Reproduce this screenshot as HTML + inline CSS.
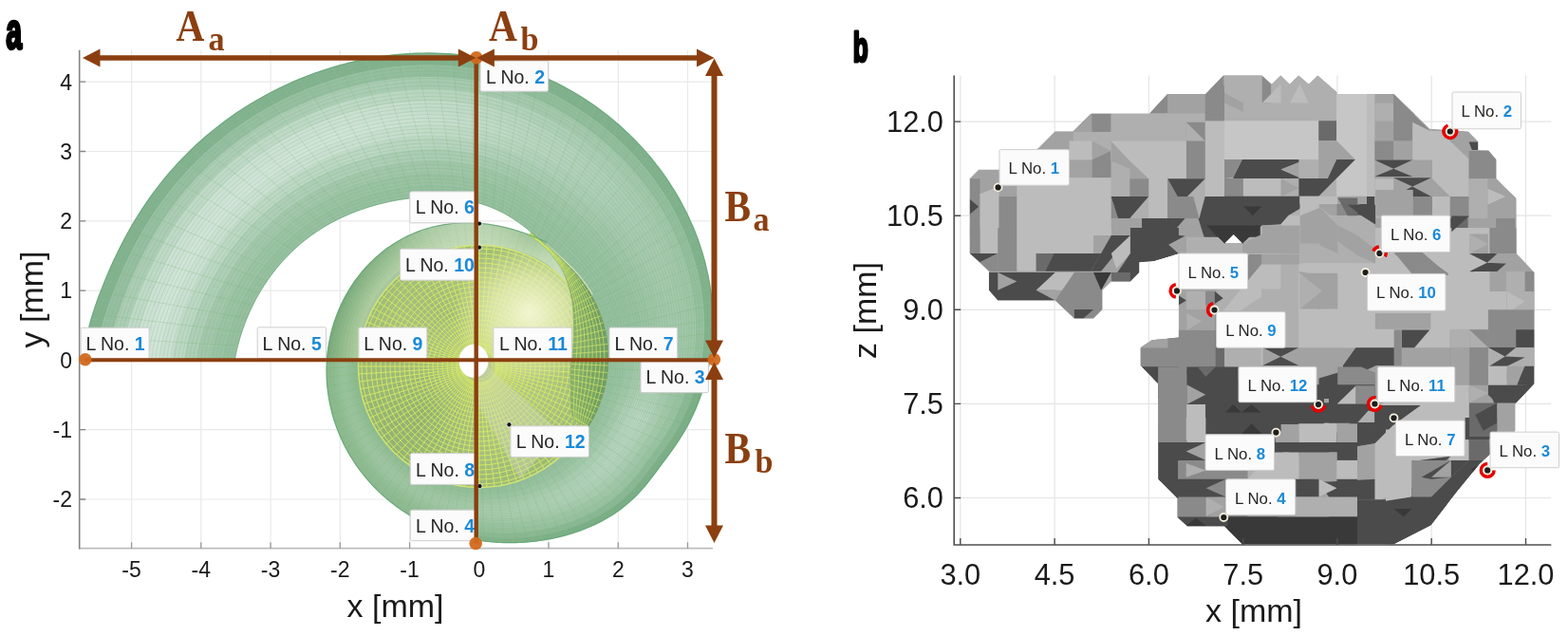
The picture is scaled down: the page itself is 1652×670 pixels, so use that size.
<!DOCTYPE html><html><head><meta charset="utf-8"><style>html,body{margin:0;padding:0;background:#fff;}svg{display:block}</style></head><body><svg width="1652" height="670" viewBox="0 0 1652 670"><rect width="1652" height="670" fill="#fff"/><g stroke="#e9e9e9" stroke-width="1.2"><line x1="138.6" y1="52.7" x2="138.6" y2="577.7"/><line x1="211.8" y1="52.7" x2="211.8" y2="577.7"/><line x1="285.1" y1="52.7" x2="285.1" y2="577.7"/><line x1="358.3" y1="52.7" x2="358.3" y2="577.7"/><line x1="431.6" y1="52.7" x2="431.6" y2="577.7"/><line x1="504.8" y1="52.7" x2="504.8" y2="577.7"/><line x1="578.0" y1="52.7" x2="578.0" y2="577.7"/><line x1="651.3" y1="52.7" x2="651.3" y2="577.7"/><line x1="724.5" y1="52.7" x2="724.5" y2="577.7"/><line x1="83.7" y1="526.0" x2="751.0" y2="526.0"/><line x1="83.7" y1="452.7" x2="751.0" y2="452.7"/><line x1="83.7" y1="379.4" x2="751.0" y2="379.4"/><line x1="83.7" y1="306.1" x2="751.0" y2="306.1"/><line x1="83.7" y1="232.8" x2="751.0" y2="232.8"/><line x1="83.7" y1="159.5" x2="751.0" y2="159.5"/><line x1="83.7" y1="86.2" x2="751.0" y2="86.2"/></g><path d="M747.9,379.4L746.3,387.9L744.4,396.3L742.2,404.5L739.7,412.6L737.0,420.6L733.9,428.4L730.5,436.1L726.9,443.5L723.0,450.8L718.9,457.9L714.5,464.8L710.0,471.4L705.3,478.0L700.6,484.3L695.9,490.6L691.3,496.9L686.6,503.1L681.8,509.2L676.9,515.1L671.7,520.8L666.2,526.2L660.4,531.2L654.4,536.0L648.1,540.4L641.7,544.5L635.1,548.3L628.4,551.8L621.5,554.9L614.6,557.8L607.6,560.3L600.5,562.6L593.4,564.5L586.3,566.3L579.2,567.7L572.0,569.0L565.0,570.0L557.9,570.8L550.8,571.3L543.8,571.6L536.9,571.7L529.9,571.6L523.1,571.3L516.2,570.7L509.5,569.9L502.8,568.9L496.2,567.7L489.7,566.3L483.2,564.7L476.9,562.9L470.6,560.9L464.4,558.7L458.4,556.4L452.4,553.8L446.6,551.0L440.9,548.1L435.3,545.0L429.9,541.8L424.6,538.3L419.4,534.8L414.4,531.0L409.5,527.1L404.8,523.1L400.2,519.0L395.8,514.7L391.6,510.2L387.5,505.7L383.6,501.0L379.9,496.3L376.3,491.4L372.9,486.4L369.7,481.4L366.7,476.2L363.9,471.0L361.2,465.7L358.7,460.3L356.5,454.9L354.4,449.4L352.5,443.9L350.8,438.3L349.3,432.7L347.9,427.1L346.8,421.4L345.9,415.8L345.1,410.1L344.6,404.4L344.2,398.7L344.1,393.0L344.1,387.3L344.3,381.7L344.7,376.0L345.3,370.4L346.1,364.9L347.0,359.3L348.2,353.9L349.5,348.4L351.0,343.1L352.7,337.8L354.6,332.6L356.6,327.4L358.8,322.4L361.2,317.4L363.7,312.5L366.4,307.7L369.2,303.0L372.2,298.4L375.4,294.0L378.7,289.7L382.1,285.5L385.7,281.4L389.5,277.5L393.3,273.7L397.3,270.0L401.5,266.5L405.7,263.2L410.0,260.1L414.5,257.1L419.0,254.3L423.7,251.7L428.4,249.2L433.2,247.0L438.1,244.9L443.1,243.0L448.1,241.4L453.1,239.9L458.2,238.6L463.3,237.5L468.4,236.6L473.6,235.9L478.7,235.4L483.9,235.0L489.0,234.8L494.1,234.8L499.2,235.0L504.3,235.3L509.3,235.7L514.4,236.3L519.4,237.0L524.3,237.9L529.2,238.9L534.1,240.1L538.9,241.3L543.8,242.7L548.5,244.2L553.2,245.8L557.9,247.5L562.6,249.4L567.2,251.3L571.8,253.3L576.4,255.5L574.9,258.0L577.8,260.5L580.6,263.0L583.4,265.5L586.2,268.0L588.9,270.5L591.7,273.0L594.4,275.5L597.0,278.1L599.7,280.6L602.2,283.3L604.8,285.9L607.2,288.7L609.6,291.4L612.0,294.3L614.2,297.2L616.4,300.1L618.5,303.2L620.5,306.3L622.4,309.4L624.2,312.6L626.0,315.8L627.6,319.1L629.2,322.4L630.6,325.8L632.0,329.2L633.3,332.6L634.5,336.1L635.6,339.6L636.6,343.1L637.4,346.7L638.2,350.3L638.9,353.9L639.5,357.5L640.0,361.1L640.4,364.8L640.7,368.4L640.9,372.1L641.0,375.7L641.0,379.4Z" fill="#a6c7a2"/><path d="M88.1,379.4L90.8,357.6L104.1,358.3L101.3,379.4Z" fill="#83b290" stroke="#83b290" stroke-width="0.6"/><path d="M101.3,379.4L104.1,358.3L117.3,359.0L114.6,379.4Z" fill="#96bea1" stroke="#96bea1" stroke-width="0.6"/><path d="M114.6,379.4L117.3,359.0L130.6,359.7L127.8,379.4Z" fill="#acccb5" stroke="#acccb5" stroke-width="0.6"/><path d="M127.8,379.4L130.6,359.7L143.9,360.4L141.1,379.4Z" fill="#c0d9c8" stroke="#c0d9c8" stroke-width="0.6"/><path d="M141.1,379.4L143.9,360.4L157.2,361.1L154.4,379.4Z" fill="#cde0d4" stroke="#cde0d4" stroke-width="0.6"/><path d="M154.4,379.4L157.2,361.1L170.4,361.8L167.6,379.4Z" fill="#d1e3d8" stroke="#d1e3d8" stroke-width="0.6"/><path d="M167.6,379.4L170.4,361.8L183.7,362.5L180.9,379.4Z" fill="#cbdfd2" stroke="#cbdfd2" stroke-width="0.6"/><path d="M180.9,379.4L183.7,362.5L197.0,363.2L194.1,379.4Z" fill="#bdd7c5" stroke="#bdd7c5" stroke-width="0.6"/><path d="M194.1,379.4L197.0,363.2L210.2,363.9L207.4,379.4Z" fill="#aeceb7" stroke="#aeceb7" stroke-width="0.6"/><path d="M207.4,379.4L210.2,363.9L223.5,364.6L220.6,379.4Z" fill="#a2c6ab" stroke="#a2c6ab" stroke-width="0.6"/><path d="M220.6,379.4L223.5,364.6L236.8,365.3L233.9,379.4Z" fill="#9ac2a4" stroke="#9ac2a4" stroke-width="0.6"/><path d="M233.9,379.4L236.8,365.3L250.0,366.0L247.2,379.4Z" fill="#96bfa0" stroke="#96bfa0" stroke-width="0.6"/><path d="M90.8,357.6L96.0,336.2L109.1,337.6L104.1,358.3Z" fill="#83b290" stroke="#83b290" stroke-width="0.6"/><path d="M104.1,358.3L109.1,337.6L122.3,339.0L117.3,359.0Z" fill="#96bea1" stroke="#96bea1" stroke-width="0.6"/><path d="M117.3,359.0L122.3,339.0L135.4,340.4L130.6,359.7Z" fill="#acccb5" stroke="#acccb5" stroke-width="0.6"/><path d="M130.6,359.7L135.4,340.4L148.6,341.8L143.9,360.4Z" fill="#c0d9c8" stroke="#c0d9c8" stroke-width="0.6"/><path d="M143.9,360.4L148.6,341.8L161.7,343.1L157.2,361.1Z" fill="#cde0d4" stroke="#cde0d4" stroke-width="0.6"/><path d="M157.2,361.1L161.7,343.1L174.8,344.5L170.4,361.8Z" fill="#d1e3d8" stroke="#d1e3d8" stroke-width="0.6"/><path d="M170.4,361.8L174.8,344.5L188.0,345.9L183.7,362.5Z" fill="#cbdfd2" stroke="#cbdfd2" stroke-width="0.6"/><path d="M183.7,362.5L188.0,345.9L201.1,347.3L197.0,363.2Z" fill="#bdd7c5" stroke="#bdd7c5" stroke-width="0.6"/><path d="M197.0,363.2L201.1,347.3L214.3,348.7L210.2,363.9Z" fill="#aeceb7" stroke="#aeceb7" stroke-width="0.6"/><path d="M210.2,363.9L214.3,348.7L227.4,350.1L223.5,364.6Z" fill="#a2c6ab" stroke="#a2c6ab" stroke-width="0.6"/><path d="M223.5,364.6L227.4,350.1L240.5,351.5L236.8,365.3Z" fill="#9ac2a4" stroke="#9ac2a4" stroke-width="0.6"/><path d="M236.8,365.3L240.5,351.5L253.7,352.9L250.0,366.0Z" fill="#96bfa0" stroke="#96bfa0" stroke-width="0.6"/><path d="M96.0,336.2L102.9,315.4L115.8,317.4L109.1,337.6Z" fill="#83b290" stroke="#83b290" stroke-width="0.6"/><path d="M109.1,337.6L115.8,317.4L128.8,319.5L122.3,339.0Z" fill="#96bea1" stroke="#96bea1" stroke-width="0.6"/><path d="M122.3,339.0L128.8,319.5L141.7,321.6L135.4,340.4Z" fill="#acccb5" stroke="#acccb5" stroke-width="0.6"/><path d="M135.4,340.4L141.7,321.6L154.6,323.6L148.6,341.8Z" fill="#c0d9c8" stroke="#c0d9c8" stroke-width="0.6"/><path d="M148.6,341.8L154.6,323.6L167.6,325.7L161.7,343.1Z" fill="#cde0d4" stroke="#cde0d4" stroke-width="0.6"/><path d="M161.7,343.1L167.6,325.7L180.5,327.7L174.8,344.5Z" fill="#d1e3d8" stroke="#d1e3d8" stroke-width="0.6"/><path d="M174.8,344.5L180.5,327.7L193.4,329.8L188.0,345.9Z" fill="#cbdfd2" stroke="#cbdfd2" stroke-width="0.6"/><path d="M188.0,345.9L193.4,329.8L206.4,331.9L201.1,347.3Z" fill="#bdd7c5" stroke="#bdd7c5" stroke-width="0.6"/><path d="M201.1,347.3L206.4,331.9L219.3,333.9L214.3,348.7Z" fill="#aeceb7" stroke="#aeceb7" stroke-width="0.6"/><path d="M214.3,348.7L219.3,333.9L232.2,336.0L227.4,350.1Z" fill="#a2c6ab" stroke="#a2c6ab" stroke-width="0.6"/><path d="M227.4,350.1L232.2,336.0L245.2,338.0L240.5,351.5Z" fill="#9ac2a4" stroke="#9ac2a4" stroke-width="0.6"/><path d="M240.5,351.5L245.2,338.0L258.1,340.1L253.7,352.9Z" fill="#96bfa0" stroke="#96bfa0" stroke-width="0.6"/><path d="M102.9,315.4L110.8,295.2L123.5,297.9L115.8,317.4Z" fill="#83b290" stroke="#83b290" stroke-width="0.6"/><path d="M115.8,317.4L123.5,297.9L136.2,300.6L128.8,319.5Z" fill="#96bea1" stroke="#96bea1" stroke-width="0.6"/><path d="M128.8,319.5L136.2,300.6L148.9,303.3L141.7,321.6Z" fill="#acccb5" stroke="#acccb5" stroke-width="0.6"/><path d="M141.7,321.6L148.9,303.3L161.6,306.0L154.6,323.6Z" fill="#c0d9c8" stroke="#c0d9c8" stroke-width="0.6"/><path d="M154.6,323.6L161.6,306.0L174.3,308.8L167.6,325.7Z" fill="#cde0d4" stroke="#cde0d4" stroke-width="0.6"/><path d="M167.6,325.7L174.3,308.8L187.0,311.5L180.5,327.7Z" fill="#d1e3d8" stroke="#d1e3d8" stroke-width="0.6"/><path d="M180.5,327.7L187.0,311.5L199.7,314.2L193.4,329.8Z" fill="#cbdfd2" stroke="#cbdfd2" stroke-width="0.6"/><path d="M193.4,329.8L199.7,314.2L212.4,316.9L206.4,331.9Z" fill="#bdd7c5" stroke="#bdd7c5" stroke-width="0.6"/><path d="M206.4,331.9L212.4,316.9L225.1,319.6L219.3,333.9Z" fill="#aeceb7" stroke="#aeceb7" stroke-width="0.6"/><path d="M219.3,333.9L225.1,319.6L237.9,322.3L232.2,336.0Z" fill="#a2c6ab" stroke="#a2c6ab" stroke-width="0.6"/><path d="M232.2,336.0L237.9,322.3L250.6,325.1L245.2,338.0Z" fill="#9ac2a4" stroke="#9ac2a4" stroke-width="0.6"/><path d="M245.2,338.0L250.6,325.1L263.3,327.8L258.1,340.1Z" fill="#96bfa0" stroke="#96bfa0" stroke-width="0.6"/><path d="M110.8,295.2L119.3,275.5L131.8,278.9L123.5,297.9Z" fill="#83b290" stroke="#83b290" stroke-width="0.6"/><path d="M123.5,297.9L131.8,278.9L144.3,282.2L136.2,300.6Z" fill="#96bea1" stroke="#96bea1" stroke-width="0.6"/><path d="M136.2,300.6L144.3,282.2L156.8,285.6L148.9,303.3Z" fill="#acccb5" stroke="#acccb5" stroke-width="0.6"/><path d="M148.9,303.3L156.8,285.6L169.3,289.0L161.6,306.0Z" fill="#c0d9c8" stroke="#c0d9c8" stroke-width="0.6"/><path d="M161.6,306.0L169.3,289.0L181.8,292.3L174.3,308.8Z" fill="#cde0d4" stroke="#cde0d4" stroke-width="0.6"/><path d="M174.3,308.8L181.8,292.3L194.2,295.7L187.0,311.5Z" fill="#d1e3d8" stroke="#d1e3d8" stroke-width="0.6"/><path d="M187.0,311.5L194.2,295.7L206.7,299.1L199.7,314.2Z" fill="#cbdfd2" stroke="#cbdfd2" stroke-width="0.6"/><path d="M199.7,314.2L206.7,299.1L219.2,302.4L212.4,316.9Z" fill="#bdd7c5" stroke="#bdd7c5" stroke-width="0.6"/><path d="M212.4,316.9L219.2,302.4L231.7,305.8L225.1,319.6Z" fill="#aeceb7" stroke="#aeceb7" stroke-width="0.6"/><path d="M225.1,319.6L231.7,305.8L244.2,309.2L237.9,322.3Z" fill="#a2c6ab" stroke="#a2c6ab" stroke-width="0.6"/><path d="M237.9,322.3L244.2,309.2L256.7,312.5L250.6,325.1Z" fill="#9ac2a4" stroke="#9ac2a4" stroke-width="0.6"/><path d="M250.6,325.1L256.7,312.5L269.1,315.9L263.3,327.8Z" fill="#96bfa0" stroke="#96bfa0" stroke-width="0.6"/><path d="M119.3,275.5L128.6,256.5L140.9,260.5L131.8,278.9Z" fill="#83b290" stroke="#83b290" stroke-width="0.6"/><path d="M131.8,278.9L140.9,260.5L153.2,264.5L144.3,282.2Z" fill="#96bea1" stroke="#96bea1" stroke-width="0.6"/><path d="M144.3,282.2L153.2,264.5L165.4,268.5L156.8,285.6Z" fill="#acccb5" stroke="#acccb5" stroke-width="0.6"/><path d="M156.8,285.6L165.4,268.5L177.7,272.5L169.3,289.0Z" fill="#c0d9c8" stroke="#c0d9c8" stroke-width="0.6"/><path d="M169.3,289.0L177.7,272.5L189.9,276.5L181.8,292.3Z" fill="#cde0d4" stroke="#cde0d4" stroke-width="0.6"/><path d="M181.8,292.3L189.9,276.5L202.2,280.5L194.2,295.7Z" fill="#d1e3d8" stroke="#d1e3d8" stroke-width="0.6"/><path d="M194.2,295.7L202.2,280.5L214.4,284.5L206.7,299.1Z" fill="#cbdfd2" stroke="#cbdfd2" stroke-width="0.6"/><path d="M206.7,299.1L214.4,284.5L226.7,288.5L219.2,302.4Z" fill="#bdd7c5" stroke="#bdd7c5" stroke-width="0.6"/><path d="M219.2,302.4L226.7,288.5L238.9,292.5L231.7,305.8Z" fill="#aeceb7" stroke="#aeceb7" stroke-width="0.6"/><path d="M231.7,305.8L238.9,292.5L251.2,296.5L244.2,309.2Z" fill="#a2c6ab" stroke="#a2c6ab" stroke-width="0.6"/><path d="M244.2,309.2L251.2,296.5L263.4,300.5L256.7,312.5Z" fill="#9ac2a4" stroke="#9ac2a4" stroke-width="0.6"/><path d="M256.7,312.5L263.4,300.5L275.7,304.5L269.1,315.9Z" fill="#96bfa0" stroke="#96bfa0" stroke-width="0.6"/><path d="M128.6,256.5L138.7,238.0L150.7,242.7L140.9,260.5Z" fill="#83b290" stroke="#83b290" stroke-width="0.6"/><path d="M140.9,260.5L150.7,242.7L162.8,247.3L153.2,264.5Z" fill="#96bea1" stroke="#96bea1" stroke-width="0.6"/><path d="M153.2,264.5L162.8,247.3L174.8,251.9L165.4,268.5Z" fill="#acccb5" stroke="#acccb5" stroke-width="0.6"/><path d="M165.4,268.5L174.8,251.9L186.8,256.6L177.7,272.5Z" fill="#c0d9c8" stroke="#c0d9c8" stroke-width="0.6"/><path d="M177.7,272.5L186.8,256.6L198.8,261.2L189.9,276.5Z" fill="#cde0d4" stroke="#cde0d4" stroke-width="0.6"/><path d="M189.9,276.5L198.8,261.2L210.8,265.9L202.2,280.5Z" fill="#d1e3d8" stroke="#d1e3d8" stroke-width="0.6"/><path d="M202.2,280.5L210.8,265.9L222.8,270.5L214.4,284.5Z" fill="#cbdfd2" stroke="#cbdfd2" stroke-width="0.6"/><path d="M214.4,284.5L222.8,270.5L234.8,275.1L226.7,288.5Z" fill="#bdd7c5" stroke="#bdd7c5" stroke-width="0.6"/><path d="M226.7,288.5L234.8,275.1L246.8,279.8L238.9,292.5Z" fill="#aeceb7" stroke="#aeceb7" stroke-width="0.6"/><path d="M238.9,292.5L246.8,279.8L258.8,284.4L251.2,296.5Z" fill="#a2c6ab" stroke="#a2c6ab" stroke-width="0.6"/><path d="M251.2,296.5L258.8,284.4L270.8,289.0L263.4,300.5Z" fill="#9ac2a4" stroke="#9ac2a4" stroke-width="0.6"/><path d="M263.4,300.5L270.8,289.0L282.9,293.7L275.7,304.5Z" fill="#96bfa0" stroke="#96bfa0" stroke-width="0.6"/><path d="M138.7,238.0L149.6,220.3L161.4,225.6L150.7,242.7Z" fill="#83b290" stroke="#83b290" stroke-width="0.6"/><path d="M150.7,242.7L161.4,225.6L173.1,230.8L162.8,247.3Z" fill="#96bea1" stroke="#96bea1" stroke-width="0.6"/><path d="M162.8,247.3L173.1,230.8L184.9,236.1L174.8,251.9Z" fill="#acccb5" stroke="#acccb5" stroke-width="0.6"/><path d="M174.8,251.9L184.9,236.1L196.6,241.3L186.8,256.6Z" fill="#c0d9c8" stroke="#c0d9c8" stroke-width="0.6"/><path d="M186.8,256.6L196.6,241.3L208.4,246.6L198.8,261.2Z" fill="#cde0d4" stroke="#cde0d4" stroke-width="0.6"/><path d="M198.8,261.2L208.4,246.6L220.1,251.9L210.8,265.9Z" fill="#d1e3d8" stroke="#d1e3d8" stroke-width="0.6"/><path d="M210.8,265.9L220.1,251.9L231.9,257.1L222.8,270.5Z" fill="#cbdfd2" stroke="#cbdfd2" stroke-width="0.6"/><path d="M222.8,270.5L231.9,257.1L243.6,262.4L234.8,275.1Z" fill="#bdd7c5" stroke="#bdd7c5" stroke-width="0.6"/><path d="M234.8,275.1L243.6,262.4L255.4,267.7L246.8,279.8Z" fill="#aeceb7" stroke="#aeceb7" stroke-width="0.6"/><path d="M246.8,279.8L255.4,267.7L267.1,272.9L258.8,284.4Z" fill="#a2c6ab" stroke="#a2c6ab" stroke-width="0.6"/><path d="M258.8,284.4L267.1,272.9L278.9,278.2L270.8,289.0Z" fill="#9ac2a4" stroke="#9ac2a4" stroke-width="0.6"/><path d="M270.8,289.0L278.9,278.2L290.6,283.4L282.9,293.7Z" fill="#96bfa0" stroke="#96bfa0" stroke-width="0.6"/><path d="M149.6,220.3L161.4,203.3L172.9,209.2L161.4,225.6Z" fill="#83b290" stroke="#83b290" stroke-width="0.6"/><path d="M161.4,225.6L172.9,209.2L184.3,215.1L173.1,230.8Z" fill="#96bea1" stroke="#96bea1" stroke-width="0.6"/><path d="M173.1,230.8L184.3,215.1L195.8,220.9L184.9,236.1Z" fill="#acccb5" stroke="#acccb5" stroke-width="0.6"/><path d="M184.9,236.1L195.8,220.9L207.2,226.8L196.6,241.3Z" fill="#c0d9c8" stroke="#c0d9c8" stroke-width="0.6"/><path d="M196.6,241.3L207.2,226.8L218.7,232.7L208.4,246.6Z" fill="#cde0d4" stroke="#cde0d4" stroke-width="0.6"/><path d="M208.4,246.6L218.7,232.7L230.2,238.6L220.1,251.9Z" fill="#d1e3d8" stroke="#d1e3d8" stroke-width="0.6"/><path d="M220.1,251.9L230.2,238.6L241.6,244.4L231.9,257.1Z" fill="#cbdfd2" stroke="#cbdfd2" stroke-width="0.6"/><path d="M231.9,257.1L241.6,244.4L253.1,250.3L243.6,262.4Z" fill="#bdd7c5" stroke="#bdd7c5" stroke-width="0.6"/><path d="M243.6,262.4L253.1,250.3L264.5,256.2L255.4,267.7Z" fill="#aeceb7" stroke="#aeceb7" stroke-width="0.6"/><path d="M255.4,267.7L264.5,256.2L276.0,262.1L267.1,272.9Z" fill="#a2c6ab" stroke="#a2c6ab" stroke-width="0.6"/><path d="M267.1,272.9L276.0,262.1L287.4,267.9L278.9,278.2Z" fill="#9ac2a4" stroke="#9ac2a4" stroke-width="0.6"/><path d="M278.9,278.2L287.4,267.9L298.9,273.8L290.6,283.4Z" fill="#96bfa0" stroke="#96bfa0" stroke-width="0.6"/><path d="M161.4,203.3L174.0,187.2L185.2,193.6L172.9,209.2Z" fill="#83b290" stroke="#83b290" stroke-width="0.6"/><path d="M172.9,209.2L185.2,193.6L196.3,200.1L184.3,215.1Z" fill="#96bea1" stroke="#96bea1" stroke-width="0.6"/><path d="M184.3,215.1L196.3,200.1L207.4,206.6L195.8,220.9Z" fill="#acccb5" stroke="#acccb5" stroke-width="0.6"/><path d="M195.8,220.9L207.4,206.6L218.6,213.0L207.2,226.8Z" fill="#c0d9c8" stroke="#c0d9c8" stroke-width="0.6"/><path d="M207.2,226.8L218.6,213.0L229.7,219.5L218.7,232.7Z" fill="#cde0d4" stroke="#cde0d4" stroke-width="0.6"/><path d="M218.7,232.7L229.7,219.5L240.9,226.0L230.2,238.6Z" fill="#d1e3d8" stroke="#d1e3d8" stroke-width="0.6"/><path d="M230.2,238.6L240.9,226.0L252.0,232.5L241.6,244.4Z" fill="#cbdfd2" stroke="#cbdfd2" stroke-width="0.6"/><path d="M241.6,244.4L252.0,232.5L263.1,238.9L253.1,250.3Z" fill="#bdd7c5" stroke="#bdd7c5" stroke-width="0.6"/><path d="M253.1,250.3L263.1,238.9L274.3,245.4L264.5,256.2Z" fill="#aeceb7" stroke="#aeceb7" stroke-width="0.6"/><path d="M264.5,256.2L274.3,245.4L285.4,251.9L276.0,262.1Z" fill="#a2c6ab" stroke="#a2c6ab" stroke-width="0.6"/><path d="M276.0,262.1L285.4,251.9L296.5,258.4L287.4,267.9Z" fill="#9ac2a4" stroke="#9ac2a4" stroke-width="0.6"/><path d="M287.4,267.9L296.5,258.4L307.7,264.8L298.9,273.8Z" fill="#96bfa0" stroke="#96bfa0" stroke-width="0.6"/><path d="M174.0,187.2L187.4,171.9L198.2,178.9L185.2,193.6Z" fill="#83b290" stroke="#83b290" stroke-width="0.6"/><path d="M185.2,193.6L198.2,178.9L209.0,186.0L196.3,200.1Z" fill="#96bea1" stroke="#96bea1" stroke-width="0.6"/><path d="M196.3,200.1L209.0,186.0L219.8,193.0L207.4,206.6Z" fill="#acccb5" stroke="#acccb5" stroke-width="0.6"/><path d="M207.4,206.6L219.8,193.0L230.6,200.1L218.6,213.0Z" fill="#c0d9c8" stroke="#c0d9c8" stroke-width="0.6"/><path d="M218.6,213.0L230.6,200.1L241.4,207.1L229.7,219.5Z" fill="#cde0d4" stroke="#cde0d4" stroke-width="0.6"/><path d="M229.7,219.5L241.4,207.1L252.2,214.2L240.9,226.0Z" fill="#d1e3d8" stroke="#d1e3d8" stroke-width="0.6"/><path d="M240.9,226.0L252.2,214.2L263.0,221.3L252.0,232.5Z" fill="#cbdfd2" stroke="#cbdfd2" stroke-width="0.6"/><path d="M252.0,232.5L263.0,221.3L273.8,228.3L263.1,238.9Z" fill="#bdd7c5" stroke="#bdd7c5" stroke-width="0.6"/><path d="M263.1,238.9L273.8,228.3L284.5,235.4L274.3,245.4Z" fill="#aeceb7" stroke="#aeceb7" stroke-width="0.6"/><path d="M274.3,245.4L284.5,235.4L295.3,242.4L285.4,251.9Z" fill="#a2c6ab" stroke="#a2c6ab" stroke-width="0.6"/><path d="M285.4,251.9L295.3,242.4L306.1,249.5L296.5,258.4Z" fill="#9ac2a4" stroke="#9ac2a4" stroke-width="0.6"/><path d="M296.5,258.4L306.1,249.5L316.9,256.5L307.7,264.8Z" fill="#96bfa0" stroke="#96bfa0" stroke-width="0.6"/><path d="M187.4,171.9L201.6,157.5L212.0,165.1L198.2,178.9Z" fill="#83b290" stroke="#83b290" stroke-width="0.6"/><path d="M198.2,178.9L212.0,165.1L222.4,172.7L209.0,186.0Z" fill="#96bea1" stroke="#96bea1" stroke-width="0.6"/><path d="M209.0,186.0L222.4,172.7L232.8,180.4L219.8,193.0Z" fill="#acccb5" stroke="#acccb5" stroke-width="0.6"/><path d="M219.8,193.0L232.8,180.4L243.2,188.0L230.6,200.1Z" fill="#c0d9c8" stroke="#c0d9c8" stroke-width="0.6"/><path d="M230.6,200.1L243.2,188.0L253.6,195.6L241.4,207.1Z" fill="#cde0d4" stroke="#cde0d4" stroke-width="0.6"/><path d="M241.4,207.1L253.6,195.6L264.1,203.2L252.2,214.2Z" fill="#d1e3d8" stroke="#d1e3d8" stroke-width="0.6"/><path d="M252.2,214.2L264.1,203.2L274.5,210.8L263.0,221.3Z" fill="#cbdfd2" stroke="#cbdfd2" stroke-width="0.6"/><path d="M263.0,221.3L274.5,210.8L284.9,218.5L273.8,228.3Z" fill="#bdd7c5" stroke="#bdd7c5" stroke-width="0.6"/><path d="M273.8,228.3L284.9,218.5L295.3,226.1L284.5,235.4Z" fill="#aeceb7" stroke="#aeceb7" stroke-width="0.6"/><path d="M284.5,235.4L295.3,226.1L305.7,233.7L295.3,242.4Z" fill="#a2c6ab" stroke="#a2c6ab" stroke-width="0.6"/><path d="M295.3,242.4L305.7,233.7L316.1,241.3L306.1,249.5Z" fill="#9ac2a4" stroke="#9ac2a4" stroke-width="0.6"/><path d="M306.1,249.5L316.1,241.3L326.5,248.9L316.9,256.5Z" fill="#96bfa0" stroke="#96bfa0" stroke-width="0.6"/><path d="M201.6,157.5L216.4,144.0L226.4,152.2L212.0,165.1Z" fill="#83b290" stroke="#83b290" stroke-width="0.6"/><path d="M212.0,165.1L226.4,152.2L236.4,160.4L222.4,172.7Z" fill="#96bea1" stroke="#96bea1" stroke-width="0.6"/><path d="M222.4,172.7L236.4,160.4L246.4,168.5L232.8,180.4Z" fill="#acccb5" stroke="#acccb5" stroke-width="0.6"/><path d="M232.8,180.4L246.4,168.5L256.4,176.7L243.2,188.0Z" fill="#c0d9c8" stroke="#c0d9c8" stroke-width="0.6"/><path d="M243.2,188.0L256.4,176.7L266.4,184.9L253.6,195.6Z" fill="#cde0d4" stroke="#cde0d4" stroke-width="0.6"/><path d="M253.6,195.6L266.4,184.9L276.4,193.1L264.1,203.2Z" fill="#d1e3d8" stroke="#d1e3d8" stroke-width="0.6"/><path d="M264.1,203.2L276.4,193.1L286.4,201.2L274.5,210.8Z" fill="#cbdfd2" stroke="#cbdfd2" stroke-width="0.6"/><path d="M274.5,210.8L286.4,201.2L296.5,209.4L284.9,218.5Z" fill="#bdd7c5" stroke="#bdd7c5" stroke-width="0.6"/><path d="M284.9,218.5L296.5,209.4L306.5,217.6L295.3,226.1Z" fill="#aeceb7" stroke="#aeceb7" stroke-width="0.6"/><path d="M295.3,226.1L306.5,217.6L316.5,225.7L305.7,233.7Z" fill="#a2c6ab" stroke="#a2c6ab" stroke-width="0.6"/><path d="M305.7,233.7L316.5,225.7L326.5,233.9L316.1,241.3Z" fill="#9ac2a4" stroke="#9ac2a4" stroke-width="0.6"/><path d="M316.1,241.3L326.5,233.9L336.5,242.1L326.5,248.9Z" fill="#96bfa0" stroke="#96bfa0" stroke-width="0.6"/><path d="M216.4,144.0L231.8,131.6L241.3,140.2L226.4,152.2Z" fill="#83b290" stroke="#83b290" stroke-width="0.6"/><path d="M226.4,152.2L241.3,140.2L250.9,148.9L236.4,160.4Z" fill="#96bea1" stroke="#96bea1" stroke-width="0.6"/><path d="M236.4,160.4L250.9,148.9L260.5,157.6L246.4,168.5Z" fill="#acccb5" stroke="#acccb5" stroke-width="0.6"/><path d="M246.4,168.5L260.5,157.6L270.1,166.3L256.4,176.7Z" fill="#c0d9c8" stroke="#c0d9c8" stroke-width="0.6"/><path d="M256.4,176.7L270.1,166.3L279.7,175.0L266.4,184.9Z" fill="#cde0d4" stroke="#cde0d4" stroke-width="0.6"/><path d="M266.4,184.9L279.7,175.0L289.2,183.7L276.4,193.1Z" fill="#d1e3d8" stroke="#d1e3d8" stroke-width="0.6"/><path d="M276.4,193.1L289.2,183.7L298.8,192.4L286.4,201.2Z" fill="#cbdfd2" stroke="#cbdfd2" stroke-width="0.6"/><path d="M286.4,201.2L298.8,192.4L308.4,201.1L296.5,209.4Z" fill="#bdd7c5" stroke="#bdd7c5" stroke-width="0.6"/><path d="M296.5,209.4L308.4,201.1L318.0,209.8L306.5,217.6Z" fill="#aeceb7" stroke="#aeceb7" stroke-width="0.6"/><path d="M306.5,217.6L318.0,209.8L327.5,218.5L316.5,225.7Z" fill="#a2c6ab" stroke="#a2c6ab" stroke-width="0.6"/><path d="M316.5,225.7L327.5,218.5L337.1,227.2L326.5,233.9Z" fill="#9ac2a4" stroke="#9ac2a4" stroke-width="0.6"/><path d="M326.5,233.9L337.1,227.2L346.7,235.9L336.5,242.1Z" fill="#96bfa0" stroke="#96bfa0" stroke-width="0.6"/><path d="M231.8,131.6L247.7,120.0L256.8,129.2L241.3,140.2Z" fill="#83b290" stroke="#83b290" stroke-width="0.6"/><path d="M241.3,140.2L256.8,129.2L265.9,138.4L250.9,148.9Z" fill="#96bea1" stroke="#96bea1" stroke-width="0.6"/><path d="M250.9,148.9L265.9,138.4L275.0,147.6L260.5,157.6Z" fill="#acccb5" stroke="#acccb5" stroke-width="0.6"/><path d="M260.5,157.6L275.0,147.6L284.1,156.8L270.1,166.3Z" fill="#c0d9c8" stroke="#c0d9c8" stroke-width="0.6"/><path d="M270.1,166.3L284.1,156.8L293.3,166.0L279.7,175.0Z" fill="#cde0d4" stroke="#cde0d4" stroke-width="0.6"/><path d="M279.7,175.0L293.3,166.0L302.4,175.2L289.2,183.7Z" fill="#d1e3d8" stroke="#d1e3d8" stroke-width="0.6"/><path d="M289.2,183.7L302.4,175.2L311.5,184.4L298.8,192.4Z" fill="#cbdfd2" stroke="#cbdfd2" stroke-width="0.6"/><path d="M298.8,192.4L311.5,184.4L320.6,193.6L308.4,201.1Z" fill="#bdd7c5" stroke="#bdd7c5" stroke-width="0.6"/><path d="M308.4,201.1L320.6,193.6L329.8,202.8L318.0,209.8Z" fill="#aeceb7" stroke="#aeceb7" stroke-width="0.6"/><path d="M318.0,209.8L329.8,202.8L338.9,212.0L327.5,218.5Z" fill="#a2c6ab" stroke="#a2c6ab" stroke-width="0.6"/><path d="M327.5,218.5L338.9,212.0L348.0,221.2L337.1,227.2Z" fill="#9ac2a4" stroke="#9ac2a4" stroke-width="0.6"/><path d="M337.1,227.2L348.0,221.2L357.1,230.4L346.7,235.9Z" fill="#96bfa0" stroke="#96bfa0" stroke-width="0.6"/><path d="M247.7,120.0L264.0,109.5L272.6,119.1L256.8,129.2Z" fill="#83b290" stroke="#83b290" stroke-width="0.6"/><path d="M256.8,129.2L272.6,119.1L281.3,128.8L265.9,138.4Z" fill="#96bea1" stroke="#96bea1" stroke-width="0.6"/><path d="M265.9,138.4L281.3,128.8L289.9,138.5L275.0,147.6Z" fill="#acccb5" stroke="#acccb5" stroke-width="0.6"/><path d="M275.0,147.6L289.9,138.5L298.5,148.2L284.1,156.8Z" fill="#c0d9c8" stroke="#c0d9c8" stroke-width="0.6"/><path d="M284.1,156.8L298.5,148.2L307.2,157.9L293.3,166.0Z" fill="#cde0d4" stroke="#cde0d4" stroke-width="0.6"/><path d="M293.3,166.0L307.2,157.9L315.8,167.6L302.4,175.2Z" fill="#d1e3d8" stroke="#d1e3d8" stroke-width="0.6"/><path d="M302.4,175.2L315.8,167.6L324.5,177.2L311.5,184.4Z" fill="#cbdfd2" stroke="#cbdfd2" stroke-width="0.6"/><path d="M311.5,184.4L324.5,177.2L333.1,186.9L320.6,193.6Z" fill="#bdd7c5" stroke="#bdd7c5" stroke-width="0.6"/><path d="M320.6,193.6L333.1,186.9L341.7,196.6L329.8,202.8Z" fill="#aeceb7" stroke="#aeceb7" stroke-width="0.6"/><path d="M329.8,202.8L341.7,196.6L350.4,206.3L338.9,212.0Z" fill="#a2c6ab" stroke="#a2c6ab" stroke-width="0.6"/><path d="M338.9,212.0L350.4,206.3L359.0,216.0L348.0,221.2Z" fill="#9ac2a4" stroke="#9ac2a4" stroke-width="0.6"/><path d="M348.0,221.2L359.0,216.0L367.6,225.7L357.1,230.4Z" fill="#96bfa0" stroke="#96bfa0" stroke-width="0.6"/><path d="M264.0,109.5L280.7,99.9L288.8,110.0L272.6,119.1Z" fill="#83b290" stroke="#83b290" stroke-width="0.6"/><path d="M272.6,119.1L288.8,110.0L296.9,120.1L281.3,128.8Z" fill="#96bea1" stroke="#96bea1" stroke-width="0.6"/><path d="M281.3,128.8L296.9,120.1L305.1,130.3L289.9,138.5Z" fill="#acccb5" stroke="#acccb5" stroke-width="0.6"/><path d="M289.9,138.5L305.1,130.3L313.2,140.4L298.5,148.2Z" fill="#c0d9c8" stroke="#c0d9c8" stroke-width="0.6"/><path d="M298.5,148.2L313.2,140.4L321.3,150.6L307.2,157.9Z" fill="#cde0d4" stroke="#cde0d4" stroke-width="0.6"/><path d="M307.2,157.9L321.3,150.6L329.5,160.7L315.8,167.6Z" fill="#d1e3d8" stroke="#d1e3d8" stroke-width="0.6"/><path d="M315.8,167.6L329.5,160.7L337.6,170.8L324.5,177.2Z" fill="#cbdfd2" stroke="#cbdfd2" stroke-width="0.6"/><path d="M324.5,177.2L337.6,170.8L345.7,181.0L333.1,186.9Z" fill="#bdd7c5" stroke="#bdd7c5" stroke-width="0.6"/><path d="M333.1,186.9L345.7,181.0L353.8,191.1L341.7,196.6Z" fill="#aeceb7" stroke="#aeceb7" stroke-width="0.6"/><path d="M341.7,196.6L353.8,191.1L362.0,201.2L350.4,206.3Z" fill="#a2c6ab" stroke="#a2c6ab" stroke-width="0.6"/><path d="M350.4,206.3L362.0,201.2L370.1,211.4L359.0,216.0Z" fill="#9ac2a4" stroke="#9ac2a4" stroke-width="0.6"/><path d="M359.0,216.0L370.1,211.4L378.2,221.5L367.6,225.7Z" fill="#96bfa0" stroke="#96bfa0" stroke-width="0.6"/><path d="M280.7,99.9L297.7,91.2L305.3,101.8L288.8,110.0Z" fill="#83b290" stroke="#83b290" stroke-width="0.6"/><path d="M288.8,110.0L305.3,101.8L312.9,112.4L296.9,120.1Z" fill="#96bea1" stroke="#96bea1" stroke-width="0.6"/><path d="M296.9,120.1L312.9,112.4L320.5,122.9L305.1,130.3Z" fill="#acccb5" stroke="#acccb5" stroke-width="0.6"/><path d="M305.1,130.3L320.5,122.9L328.1,133.5L313.2,140.4Z" fill="#c0d9c8" stroke="#c0d9c8" stroke-width="0.6"/><path d="M313.2,140.4L328.1,133.5L335.7,144.0L321.3,150.6Z" fill="#cde0d4" stroke="#cde0d4" stroke-width="0.6"/><path d="M321.3,150.6L335.7,144.0L343.3,154.6L329.5,160.7Z" fill="#d1e3d8" stroke="#d1e3d8" stroke-width="0.6"/><path d="M329.5,160.7L343.3,154.6L350.8,165.2L337.6,170.8Z" fill="#cbdfd2" stroke="#cbdfd2" stroke-width="0.6"/><path d="M337.6,170.8L350.8,165.2L358.4,175.7L345.7,181.0Z" fill="#bdd7c5" stroke="#bdd7c5" stroke-width="0.6"/><path d="M345.7,181.0L358.4,175.7L366.0,186.3L353.8,191.1Z" fill="#aeceb7" stroke="#aeceb7" stroke-width="0.6"/><path d="M353.8,191.1L366.0,186.3L373.6,196.9L362.0,201.2Z" fill="#a2c6ab" stroke="#a2c6ab" stroke-width="0.6"/><path d="M362.0,201.2L373.6,196.9L381.2,207.4L370.1,211.4Z" fill="#9ac2a4" stroke="#9ac2a4" stroke-width="0.6"/><path d="M370.1,211.4L381.2,207.4L388.8,218.0L378.2,221.5Z" fill="#96bfa0" stroke="#96bfa0" stroke-width="0.6"/><path d="M297.7,91.2L315.0,83.6L322.0,94.5L305.3,101.8Z" fill="#83b290" stroke="#83b290" stroke-width="0.6"/><path d="M305.3,101.8L322.0,94.5L329.0,105.5L312.9,112.4Z" fill="#96bea1" stroke="#96bea1" stroke-width="0.6"/><path d="M312.9,112.4L329.0,105.5L336.1,116.4L320.5,122.9Z" fill="#acccb5" stroke="#acccb5" stroke-width="0.6"/><path d="M320.5,122.9L336.1,116.4L343.1,127.4L328.1,133.5Z" fill="#c0d9c8" stroke="#c0d9c8" stroke-width="0.6"/><path d="M328.1,133.5L343.1,127.4L350.1,138.3L335.7,144.0Z" fill="#cde0d4" stroke="#cde0d4" stroke-width="0.6"/><path d="M335.7,144.0L350.1,138.3L357.2,149.3L343.3,154.6Z" fill="#d1e3d8" stroke="#d1e3d8" stroke-width="0.6"/><path d="M343.3,154.6L357.2,149.3L364.2,160.2L350.8,165.2Z" fill="#cbdfd2" stroke="#cbdfd2" stroke-width="0.6"/><path d="M350.8,165.2L364.2,160.2L371.2,171.2L358.4,175.7Z" fill="#bdd7c5" stroke="#bdd7c5" stroke-width="0.6"/><path d="M358.4,175.7L371.2,171.2L378.2,182.2L366.0,186.3Z" fill="#aeceb7" stroke="#aeceb7" stroke-width="0.6"/><path d="M366.0,186.3L378.2,182.2L385.3,193.1L373.6,196.9Z" fill="#a2c6ab" stroke="#a2c6ab" stroke-width="0.6"/><path d="M373.6,196.9L385.3,193.1L392.3,204.1L381.2,207.4Z" fill="#9ac2a4" stroke="#9ac2a4" stroke-width="0.6"/><path d="M381.2,207.4L392.3,204.1L399.3,215.0L388.8,218.0Z" fill="#96bfa0" stroke="#96bfa0" stroke-width="0.6"/><path d="M315.0,83.6L332.4,76.8L338.9,88.2L322.0,94.5Z" fill="#83b290" stroke="#83b290" stroke-width="0.6"/><path d="M322.0,94.5L338.9,88.2L345.3,99.5L329.0,105.5Z" fill="#96bea1" stroke="#96bea1" stroke-width="0.6"/><path d="M329.0,105.5L345.3,99.5L351.8,110.8L336.1,116.4Z" fill="#acccb5" stroke="#acccb5" stroke-width="0.6"/><path d="M336.1,116.4L351.8,110.8L358.2,122.1L343.1,127.4Z" fill="#c0d9c8" stroke="#c0d9c8" stroke-width="0.6"/><path d="M343.1,127.4L358.2,122.1L364.7,133.4L350.1,138.3Z" fill="#cde0d4" stroke="#cde0d4" stroke-width="0.6"/><path d="M350.1,138.3L364.7,133.4L371.1,144.7L357.2,149.3Z" fill="#d1e3d8" stroke="#d1e3d8" stroke-width="0.6"/><path d="M357.2,149.3L371.1,144.7L377.5,156.0L364.2,160.2Z" fill="#cbdfd2" stroke="#cbdfd2" stroke-width="0.6"/><path d="M364.2,160.2L377.5,156.0L384.0,167.3L371.2,171.2Z" fill="#bdd7c5" stroke="#bdd7c5" stroke-width="0.6"/><path d="M371.2,171.2L384.0,167.3L390.4,178.6L378.2,182.2Z" fill="#aeceb7" stroke="#aeceb7" stroke-width="0.6"/><path d="M378.2,182.2L390.4,178.6L396.9,189.9L385.3,193.1Z" fill="#a2c6ab" stroke="#a2c6ab" stroke-width="0.6"/><path d="M385.3,193.1L396.9,189.9L403.3,201.2L392.3,204.1Z" fill="#9ac2a4" stroke="#9ac2a4" stroke-width="0.6"/><path d="M392.3,204.1L403.3,201.2L409.7,212.5L399.3,215.0Z" fill="#96bfa0" stroke="#96bfa0" stroke-width="0.6"/><path d="M332.4,76.8L350.0,71.1L355.9,82.7L338.9,88.2Z" fill="#83b290" stroke="#83b290" stroke-width="0.6"/><path d="M338.9,88.2L355.9,82.7L361.7,94.3L345.3,99.5Z" fill="#96bea1" stroke="#96bea1" stroke-width="0.6"/><path d="M345.3,99.5L361.7,94.3L367.5,105.9L351.8,110.8Z" fill="#acccb5" stroke="#acccb5" stroke-width="0.6"/><path d="M351.8,110.8L367.5,105.9L373.4,117.6L358.2,122.1Z" fill="#c0d9c7" stroke="#c0d9c7" stroke-width="0.6"/><path d="M358.2,122.1L373.4,117.6L379.2,129.2L364.7,133.4Z" fill="#cce0d3" stroke="#cce0d3" stroke-width="0.6"/><path d="M364.7,133.4L379.2,129.2L385.0,140.8L371.1,144.7Z" fill="#d0e2d7" stroke="#d0e2d7" stroke-width="0.6"/><path d="M371.1,144.7L385.0,140.8L390.9,152.4L377.5,156.0Z" fill="#cadfd1" stroke="#cadfd1" stroke-width="0.6"/><path d="M377.5,156.0L390.9,152.4L396.7,164.1L384.0,167.3Z" fill="#bdd7c5" stroke="#bdd7c5" stroke-width="0.6"/><path d="M384.0,167.3L396.7,164.1L402.5,175.7L390.4,178.6Z" fill="#aeceb6" stroke="#aeceb6" stroke-width="0.6"/><path d="M390.4,178.6L402.5,175.7L408.4,187.3L396.9,189.9Z" fill="#a2c6ab" stroke="#a2c6ab" stroke-width="0.6"/><path d="M396.9,189.9L408.4,187.3L414.2,198.9L403.3,201.2Z" fill="#9ac2a4" stroke="#9ac2a4" stroke-width="0.6"/><path d="M403.3,201.2L414.2,198.9L420.1,210.5L409.7,212.5Z" fill="#96bfa0" stroke="#96bfa0" stroke-width="0.6"/><path d="M350.0,71.1L367.7,66.2L372.9,78.1L355.9,82.7Z" fill="#83b18f" stroke="#83b18f" stroke-width="0.6"/><path d="M355.9,82.7L372.9,78.1L378.2,90.0L361.7,94.3Z" fill="#95bea0" stroke="#95bea0" stroke-width="0.6"/><path d="M361.7,94.3L378.2,90.0L383.4,101.9L367.5,105.9Z" fill="#abccb4" stroke="#abccb4" stroke-width="0.6"/><path d="M367.5,105.9L383.4,101.9L388.6,113.8L373.4,117.6Z" fill="#bed8c6" stroke="#bed8c6" stroke-width="0.6"/><path d="M373.4,117.6L388.6,113.8L393.8,125.7L379.2,129.2Z" fill="#cadfd2" stroke="#cadfd2" stroke-width="0.6"/><path d="M379.2,129.2L393.8,125.7L399.0,137.6L385.0,140.8Z" fill="#cee2d6" stroke="#cee2d6" stroke-width="0.6"/><path d="M385.0,140.8L399.0,137.6L404.2,149.5L390.9,152.4Z" fill="#c8ded0" stroke="#c8ded0" stroke-width="0.6"/><path d="M390.9,152.4L404.2,149.5L409.4,161.4L396.7,164.1Z" fill="#bcd6c4" stroke="#bcd6c4" stroke-width="0.6"/><path d="M396.7,164.1L409.4,161.4L414.6,173.3L402.5,175.7Z" fill="#adcdb6" stroke="#adcdb6" stroke-width="0.6"/><path d="M402.5,175.7L414.6,173.3L419.8,185.2L408.4,187.3Z" fill="#a1c6ab" stroke="#a1c6ab" stroke-width="0.6"/><path d="M408.4,187.3L419.8,185.2L425.0,197.1L414.2,198.9Z" fill="#9ac2a4" stroke="#9ac2a4" stroke-width="0.6"/><path d="M414.2,198.9L425.0,197.1L430.2,209.0L420.1,210.5Z" fill="#96bfa0" stroke="#96bfa0" stroke-width="0.6"/><path d="M367.7,66.2L385.5,62.3L390.0,74.4L372.9,78.1Z" fill="#82b18f" stroke="#82b18f" stroke-width="0.6"/><path d="M372.9,78.1L390.0,74.4L394.6,86.6L378.2,90.0Z" fill="#95bea0" stroke="#95bea0" stroke-width="0.6"/><path d="M378.2,90.0L394.6,86.6L399.2,98.7L383.4,101.9Z" fill="#aacbb3" stroke="#aacbb3" stroke-width="0.6"/><path d="M383.4,101.9L399.2,98.7L403.8,110.9L388.6,113.8Z" fill="#bdd7c5" stroke="#bdd7c5" stroke-width="0.6"/><path d="M388.6,113.8L403.8,110.9L408.3,123.0L393.8,125.7Z" fill="#c9ded1" stroke="#c9ded1" stroke-width="0.6"/><path d="M393.8,125.7L408.3,123.0L412.9,135.1L399.0,137.6Z" fill="#cde1d4" stroke="#cde1d4" stroke-width="0.6"/><path d="M399.0,137.6L412.9,135.1L417.5,147.3L404.2,149.5Z" fill="#c7ddcf" stroke="#c7ddcf" stroke-width="0.6"/><path d="M404.2,149.5L417.5,147.3L422.0,159.4L409.4,161.4Z" fill="#bbd5c3" stroke="#bbd5c3" stroke-width="0.6"/><path d="M409.4,161.4L422.0,159.4L426.6,171.6L414.6,173.3Z" fill="#accdb5" stroke="#accdb5" stroke-width="0.6"/><path d="M414.6,173.3L426.6,171.6L431.2,183.7L419.8,185.2Z" fill="#a1c6aa" stroke="#a1c6aa" stroke-width="0.6"/><path d="M419.8,185.2L431.2,183.7L435.7,195.9L425.0,197.1Z" fill="#9ac1a3" stroke="#9ac1a3" stroke-width="0.6"/><path d="M425.0,197.1L435.7,195.9L440.3,208.0L430.2,209.0Z" fill="#96bfa0" stroke="#96bfa0" stroke-width="0.6"/><path d="M385.5,62.3L403.2,59.3L407.2,71.6L390.0,74.4Z" fill="#82b18f" stroke="#82b18f" stroke-width="0.6"/><path d="M390.0,74.4L407.2,71.6L411.1,84.0L394.6,86.6Z" fill="#94bda0" stroke="#94bda0" stroke-width="0.6"/><path d="M394.6,86.6L411.1,84.0L415.0,96.3L399.2,98.7Z" fill="#a9cbb3" stroke="#a9cbb3" stroke-width="0.6"/><path d="M399.2,98.7L415.0,96.3L418.9,108.7L403.8,110.9Z" fill="#bcd7c4" stroke="#bcd7c4" stroke-width="0.6"/><path d="M403.8,110.9L418.9,108.7L422.8,121.0L408.3,123.0Z" fill="#c8ddcf" stroke="#c8ddcf" stroke-width="0.6"/><path d="M408.3,123.0L422.8,121.0L426.7,133.4L412.9,135.1Z" fill="#cbe0d3" stroke="#cbe0d3" stroke-width="0.6"/><path d="M412.9,135.1L426.7,133.4L430.7,145.7L417.5,147.3Z" fill="#c6dccd" stroke="#c6dccd" stroke-width="0.6"/><path d="M417.5,147.3L430.7,145.7L434.6,158.1L422.0,159.4Z" fill="#bad5c2" stroke="#bad5c2" stroke-width="0.6"/><path d="M422.0,159.4L434.6,158.1L438.5,170.4L426.6,171.6Z" fill="#acccb5" stroke="#acccb5" stroke-width="0.6"/><path d="M426.6,171.6L438.5,170.4L442.4,182.8L431.2,183.7Z" fill="#a1c6aa" stroke="#a1c6aa" stroke-width="0.6"/><path d="M431.2,183.7L442.4,182.8L446.3,195.1L435.7,195.9Z" fill="#9ac1a3" stroke="#9ac1a3" stroke-width="0.6"/><path d="M435.7,195.9L446.3,195.1L450.2,207.5L440.3,208.0Z" fill="#96bfa0" stroke="#96bfa0" stroke-width="0.6"/><path d="M403.2,59.3L421.0,57.3L424.2,69.8L407.2,71.6Z" fill="#82b18f" stroke="#82b18f" stroke-width="0.6"/><path d="M407.2,71.6L424.2,69.8L427.5,82.3L411.1,84.0Z" fill="#94bd9f" stroke="#94bd9f" stroke-width="0.6"/><path d="M411.1,84.0L427.5,82.3L430.7,94.8L415.0,96.3Z" fill="#a8cab2" stroke="#a8cab2" stroke-width="0.6"/><path d="M415.0,96.3L430.7,94.8L434.0,107.3L418.9,108.7Z" fill="#bbd6c3" stroke="#bbd6c3" stroke-width="0.6"/><path d="M418.9,108.7L434.0,107.3L437.2,119.8L422.8,121.0Z" fill="#c6ddce" stroke="#c6ddce" stroke-width="0.6"/><path d="M422.8,121.0L437.2,119.8L440.5,132.3L426.7,133.4Z" fill="#cadfd1" stroke="#cadfd1" stroke-width="0.6"/><path d="M426.7,133.4L440.5,132.3L443.8,144.8L430.7,145.7Z" fill="#c4dccc" stroke="#c4dccc" stroke-width="0.6"/><path d="M430.7,145.7L443.8,144.8L447.0,157.3L434.6,158.1Z" fill="#b9d4c1" stroke="#b9d4c1" stroke-width="0.6"/><path d="M434.6,158.1L447.0,157.3L450.3,169.9L438.5,170.4Z" fill="#abccb4" stroke="#abccb4" stroke-width="0.6"/><path d="M438.5,170.4L450.3,169.9L453.5,182.4L442.4,182.8Z" fill="#a0c5aa" stroke="#a0c5aa" stroke-width="0.6"/><path d="M442.4,182.8L453.5,182.4L456.8,194.9L446.3,195.1Z" fill="#99c1a3" stroke="#99c1a3" stroke-width="0.6"/><path d="M446.3,195.1L456.8,194.9L460.0,207.4L450.2,207.5Z" fill="#96bfa0" stroke="#96bfa0" stroke-width="0.6"/><path d="M421.0,57.3L438.6,56.2L441.2,68.8L424.2,69.8Z" fill="#82b18e" stroke="#82b18e" stroke-width="0.6"/><path d="M424.2,69.8L441.2,68.8L443.8,81.4L427.5,82.3Z" fill="#93bd9f" stroke="#93bd9f" stroke-width="0.6"/><path d="M427.5,82.3L443.8,81.4L446.4,94.1L430.7,94.8Z" fill="#a8cab1" stroke="#a8cab1" stroke-width="0.6"/><path d="M430.7,94.8L446.4,94.1L449.0,106.7L434.0,107.3Z" fill="#bad5c2" stroke="#bad5c2" stroke-width="0.6"/><path d="M434.0,107.3L449.0,106.7L451.6,119.3L437.2,119.8Z" fill="#c5dccd" stroke="#c5dccd" stroke-width="0.6"/><path d="M437.2,119.8L451.6,119.3L454.1,132.0L440.5,132.3Z" fill="#c8ded0" stroke="#c8ded0" stroke-width="0.6"/><path d="M440.5,132.3L454.1,132.0L456.7,144.6L443.8,144.8Z" fill="#c3dbcb" stroke="#c3dbcb" stroke-width="0.6"/><path d="M443.8,144.8L456.7,144.6L459.3,157.3L447.0,157.3Z" fill="#b8d4c0" stroke="#b8d4c0" stroke-width="0.6"/><path d="M447.0,157.3L459.3,157.3L461.9,169.9L450.3,169.9Z" fill="#aaccb3" stroke="#aaccb3" stroke-width="0.6"/><path d="M450.3,169.9L461.9,169.9L464.5,182.5L453.5,182.4Z" fill="#a0c5a9" stroke="#a0c5a9" stroke-width="0.6"/><path d="M453.5,182.4L464.5,182.5L467.1,195.2L456.8,194.9Z" fill="#99c1a3" stroke="#99c1a3" stroke-width="0.6"/><path d="M456.8,194.9L467.1,195.2L469.7,207.8L460.0,207.4Z" fill="#96bfa0" stroke="#96bfa0" stroke-width="0.6"/><path d="M438.6,56.2L456.2,56.0L458.1,68.7L441.2,68.8Z" fill="#81b18e" stroke="#81b18e" stroke-width="0.6"/><path d="M441.2,68.8L458.1,68.7L460.0,81.4L443.8,81.4Z" fill="#93bc9e" stroke="#93bc9e" stroke-width="0.6"/><path d="M443.8,81.4L460.0,81.4L461.9,94.2L446.4,94.1Z" fill="#a7c9b0" stroke="#a7c9b0" stroke-width="0.6"/><path d="M446.4,94.1L461.9,94.2L463.8,106.9L449.0,106.7Z" fill="#b9d5c1" stroke="#b9d5c1" stroke-width="0.6"/><path d="M449.0,106.7L463.8,106.9L465.7,119.6L451.6,119.3Z" fill="#c3dbcb" stroke="#c3dbcb" stroke-width="0.6"/><path d="M451.6,119.3L465.7,119.6L467.6,132.4L454.1,132.0Z" fill="#c7ddcf" stroke="#c7ddcf" stroke-width="0.6"/><path d="M454.1,132.0L467.6,132.4L469.6,145.1L456.7,144.6Z" fill="#c2daca" stroke="#c2daca" stroke-width="0.6"/><path d="M456.7,144.6L469.6,145.1L471.5,157.8L459.3,157.3Z" fill="#b7d3bf" stroke="#b7d3bf" stroke-width="0.6"/><path d="M459.3,157.3L471.5,157.8L473.4,170.5L461.9,169.9Z" fill="#aacbb3" stroke="#aacbb3" stroke-width="0.6"/><path d="M461.9,169.9L473.4,170.5L475.3,183.3L464.5,182.5Z" fill="#a0c5a9" stroke="#a0c5a9" stroke-width="0.6"/><path d="M464.5,182.5L475.3,183.3L477.2,196.0L467.1,195.2Z" fill="#99c1a3" stroke="#99c1a3" stroke-width="0.6"/><path d="M467.1,195.2L477.2,196.0L479.1,208.7L469.7,207.8Z" fill="#96bfa0" stroke="#96bfa0" stroke-width="0.6"/><path d="M456.2,56.0L473.5,56.8L474.8,69.6L458.1,68.7Z" fill="#81b18e" stroke="#81b18e" stroke-width="0.6"/><path d="M458.1,68.7L474.8,69.6L476.0,82.3L460.0,81.4Z" fill="#92bc9e" stroke="#92bc9e" stroke-width="0.6"/><path d="M460.0,81.4L476.0,82.3L477.2,95.1L461.9,94.2Z" fill="#a6c9b0" stroke="#a6c9b0" stroke-width="0.6"/><path d="M461.9,94.2L477.2,95.1L478.5,107.9L463.8,106.9Z" fill="#b8d4c0" stroke="#b8d4c0" stroke-width="0.6"/><path d="M463.8,106.9L478.5,107.9L479.7,120.7L465.7,119.6Z" fill="#c2daca" stroke="#c2daca" stroke-width="0.6"/><path d="M465.7,119.6L479.7,120.7L481.0,133.5L467.6,132.4Z" fill="#c5dccd" stroke="#c5dccd" stroke-width="0.6"/><path d="M467.6,132.4L481.0,133.5L482.2,146.2L469.6,145.1Z" fill="#c1d9c8" stroke="#c1d9c8" stroke-width="0.6"/><path d="M469.6,145.1L482.2,146.2L483.4,159.0L471.5,157.8Z" fill="#b6d2be" stroke="#b6d2be" stroke-width="0.6"/><path d="M471.5,157.8L483.4,159.0L484.7,171.8L473.4,170.5Z" fill="#a9cbb2" stroke="#a9cbb2" stroke-width="0.6"/><path d="M473.4,170.5L484.7,171.8L485.9,184.6L475.3,183.3Z" fill="#9fc5a9" stroke="#9fc5a9" stroke-width="0.6"/><path d="M475.3,183.3L485.9,184.6L487.2,197.3L477.2,196.0Z" fill="#99c1a3" stroke="#99c1a3" stroke-width="0.6"/><path d="M477.2,196.0L487.2,197.3L488.4,210.1L479.1,208.7Z" fill="#96bfa0" stroke="#96bfa0" stroke-width="0.6"/><path d="M473.5,56.8L490.7,58.5L491.2,71.3L474.8,69.6Z" fill="#81b08e" stroke="#81b08e" stroke-width="0.6"/><path d="M474.8,69.6L491.2,71.3L491.8,84.1L476.0,82.3Z" fill="#92bc9d" stroke="#92bc9d" stroke-width="0.6"/><path d="M476.0,82.3L491.8,84.1L492.4,96.9L477.2,95.1Z" fill="#a5c8af" stroke="#a5c8af" stroke-width="0.6"/><path d="M477.2,95.1L492.4,96.9L492.9,109.7L478.5,107.9Z" fill="#b7d3bf" stroke="#b7d3bf" stroke-width="0.6"/><path d="M478.5,107.9L492.9,109.7L493.5,122.5L479.7,120.7Z" fill="#c1d9c9" stroke="#c1d9c9" stroke-width="0.6"/><path d="M479.7,120.7L493.5,122.5L494.1,135.3L481.0,133.5Z" fill="#c4dbcc" stroke="#c4dbcc" stroke-width="0.6"/><path d="M481.0,133.5L494.1,135.3L494.6,148.1L482.2,146.2Z" fill="#bfd8c7" stroke="#bfd8c7" stroke-width="0.6"/><path d="M482.2,146.2L494.6,148.1L495.2,160.8L483.4,159.0Z" fill="#b5d2bd" stroke="#b5d2bd" stroke-width="0.6"/><path d="M483.4,159.0L495.2,160.8L495.7,173.6L484.7,171.8Z" fill="#a9cbb2" stroke="#a9cbb2" stroke-width="0.6"/><path d="M484.7,171.8L495.7,173.6L496.3,186.4L485.9,184.6Z" fill="#9fc5a8" stroke="#9fc5a8" stroke-width="0.6"/><path d="M485.9,184.6L496.3,186.4L496.9,199.2L487.2,197.3Z" fill="#99c1a3" stroke="#99c1a3" stroke-width="0.6"/><path d="M487.2,197.3L496.9,199.2L497.4,212.0L488.4,210.1Z" fill="#96bfa0" stroke="#96bfa0" stroke-width="0.6"/><path d="M490.7,58.5L507.6,61.2L507.4,73.9L491.2,71.3Z" fill="#81b08d" stroke="#81b08d" stroke-width="0.6"/><path d="M491.2,71.3L507.4,73.9L507.3,86.7L491.8,84.1Z" fill="#92bb9d" stroke="#92bb9d" stroke-width="0.6"/><path d="M491.8,84.1L507.3,86.7L507.2,99.5L492.4,96.9Z" fill="#a4c8ae" stroke="#a4c8ae" stroke-width="0.6"/><path d="M492.4,96.9L507.2,99.5L507.1,112.2L492.9,109.7Z" fill="#b6d3be" stroke="#b6d3be" stroke-width="0.6"/><path d="M492.9,109.7L507.1,112.2L507.0,125.0L493.5,122.5Z" fill="#bfd8c7" stroke="#bfd8c7" stroke-width="0.6"/><path d="M493.5,122.5L507.0,125.0L506.9,137.8L494.1,135.3Z" fill="#c3daca" stroke="#c3daca" stroke-width="0.6"/><path d="M494.1,135.3L506.9,137.8L506.8,150.6L494.6,148.1Z" fill="#bed7c6" stroke="#bed7c6" stroke-width="0.6"/><path d="M494.6,148.1L506.8,150.6L506.7,163.3L495.2,160.8Z" fill="#b4d1bc" stroke="#b4d1bc" stroke-width="0.6"/><path d="M495.2,160.8L506.7,163.3L506.6,176.1L495.7,173.6Z" fill="#a8cab1" stroke="#a8cab1" stroke-width="0.6"/><path d="M495.7,173.6L506.6,176.1L506.4,188.9L496.3,186.4Z" fill="#9fc4a8" stroke="#9fc4a8" stroke-width="0.6"/><path d="M496.3,186.4L506.4,188.9L506.3,201.6L496.9,199.2Z" fill="#99c1a2" stroke="#99c1a2" stroke-width="0.6"/><path d="M496.9,199.2L506.3,201.6L506.2,214.4L497.4,212.0Z" fill="#96bfa0" stroke="#96bfa0" stroke-width="0.6"/><path d="M507.6,61.2L524.1,64.7L523.3,77.5L507.4,73.9Z" fill="#81b08d" stroke="#81b08d" stroke-width="0.6"/><path d="M507.4,73.9L523.3,77.5L522.6,90.2L507.3,86.7Z" fill="#91bb9d" stroke="#91bb9d" stroke-width="0.6"/><path d="M507.3,86.7L522.6,90.2L521.8,102.9L507.2,99.5Z" fill="#a4c7ae" stroke="#a4c7ae" stroke-width="0.6"/><path d="M507.2,99.5L521.8,102.9L521.0,115.6L507.1,112.2Z" fill="#b5d2bd" stroke="#b5d2bd" stroke-width="0.6"/><path d="M507.1,112.2L521.0,115.6L520.2,128.3L507.0,125.0Z" fill="#bed7c6" stroke="#bed7c6" stroke-width="0.6"/><path d="M507.0,125.0L520.2,128.3L519.4,141.0L506.9,137.8Z" fill="#c1d9c9" stroke="#c1d9c9" stroke-width="0.6"/><path d="M506.9,137.8L519.4,141.0L518.7,153.7L506.8,150.6Z" fill="#bcd6c4" stroke="#bcd6c4" stroke-width="0.6"/><path d="M506.8,150.6L518.7,153.7L517.9,166.4L506.7,163.3Z" fill="#b2d0bb" stroke="#b2d0bb" stroke-width="0.6"/><path d="M506.7,163.3L517.9,166.4L517.1,179.2L506.6,176.1Z" fill="#a7c9b0" stroke="#a7c9b0" stroke-width="0.6"/><path d="M506.6,176.1L517.1,179.2L516.3,191.9L506.4,188.9Z" fill="#9ec4a7" stroke="#9ec4a7" stroke-width="0.6"/><path d="M506.4,188.9L516.3,191.9L515.5,204.6L506.3,201.6Z" fill="#98c1a2" stroke="#98c1a2" stroke-width="0.6"/><path d="M506.3,201.6L515.5,204.6L514.8,217.3L506.2,214.4Z" fill="#96bfa0" stroke="#96bfa0" stroke-width="0.6"/><path d="M524.1,64.7L540.3,69.2L538.9,81.8L523.3,77.5Z" fill="#81b08d" stroke="#81b08d" stroke-width="0.6"/><path d="M523.3,77.5L538.9,81.8L537.4,94.4L522.6,90.2Z" fill="#91bb9d" stroke="#91bb9d" stroke-width="0.6"/><path d="M522.6,90.2L537.4,94.4L536.0,107.1L521.8,102.9Z" fill="#a4c7ae" stroke="#a4c7ae" stroke-width="0.6"/><path d="M521.8,102.9L536.0,107.1L534.5,119.7L521.0,115.6Z" fill="#b4d1bc" stroke="#b4d1bc" stroke-width="0.6"/><path d="M521.0,115.6L534.5,119.7L533.1,132.3L520.2,128.3Z" fill="#bcd6c4" stroke="#bcd6c4" stroke-width="0.6"/><path d="M520.2,128.3L533.1,132.3L531.6,144.9L519.4,141.0Z" fill="#bfd8c7" stroke="#bfd8c7" stroke-width="0.6"/><path d="M519.4,141.0L531.6,144.9L530.2,157.6L518.7,153.7Z" fill="#bad5c2" stroke="#bad5c2" stroke-width="0.6"/><path d="M518.7,153.7L530.2,157.6L528.7,170.2L517.9,166.4Z" fill="#b0cfb9" stroke="#b0cfb9" stroke-width="0.6"/><path d="M517.9,166.4L528.7,170.2L527.3,182.8L517.1,179.2Z" fill="#a6c9af" stroke="#a6c9af" stroke-width="0.6"/><path d="M517.1,179.2L527.3,182.8L525.9,195.4L516.3,191.9Z" fill="#9dc4a7" stroke="#9dc4a7" stroke-width="0.6"/><path d="M516.3,191.9L525.9,195.4L524.4,208.0L515.5,204.6Z" fill="#98c0a2" stroke="#98c0a2" stroke-width="0.6"/><path d="M515.5,204.6L524.4,208.0L523.0,220.7L514.8,217.3Z" fill="#95bf9f" stroke="#95bf9f" stroke-width="0.6"/><path d="M540.3,69.2L556.1,74.5L554.0,87.0L538.9,81.8Z" fill="#81b08d" stroke="#81b08d" stroke-width="0.6"/><path d="M538.9,81.8L554.0,87.0L551.9,99.5L537.4,94.4Z" fill="#92bb9d" stroke="#92bb9d" stroke-width="0.6"/><path d="M537.4,94.4L551.9,99.5L549.8,112.0L536.0,107.1Z" fill="#a4c7ad" stroke="#a4c7ad" stroke-width="0.6"/><path d="M536.0,107.1L549.8,112.0L547.7,124.5L534.5,119.7Z" fill="#b3d1bb" stroke="#b3d1bb" stroke-width="0.6"/><path d="M534.5,119.7L547.7,124.5L545.6,137.0L533.1,132.3Z" fill="#bad5c3" stroke="#bad5c3" stroke-width="0.6"/><path d="M533.1,132.3L545.6,137.0L543.5,149.5L531.6,144.9Z" fill="#bcd7c5" stroke="#bcd7c5" stroke-width="0.6"/><path d="M531.6,144.9L543.5,149.5L541.4,162.0L530.2,157.6Z" fill="#b8d4c0" stroke="#b8d4c0" stroke-width="0.6"/><path d="M530.2,157.6L541.4,162.0L539.3,174.5L528.7,170.2Z" fill="#aeceb7" stroke="#aeceb7" stroke-width="0.6"/><path d="M528.7,170.2L539.3,174.5L537.1,187.0L527.3,182.8Z" fill="#a4c8ae" stroke="#a4c8ae" stroke-width="0.6"/><path d="M527.3,182.8L537.1,187.0L535.0,199.5L525.9,195.4Z" fill="#9cc3a6" stroke="#9cc3a6" stroke-width="0.6"/><path d="M525.9,195.4L535.0,199.5L532.9,212.0L524.4,208.0Z" fill="#98c0a2" stroke="#98c0a2" stroke-width="0.6"/><path d="M524.4,208.0L532.9,212.0L530.8,224.5L523.0,220.7Z" fill="#95bf9f" stroke="#95bf9f" stroke-width="0.6"/><path d="M556.1,74.5L571.4,80.6L568.6,93.0L554.0,87.0Z" fill="#81b08d" stroke="#81b08d" stroke-width="0.6"/><path d="M554.0,87.0L568.6,93.0L565.9,105.3L551.9,99.5Z" fill="#92bc9d" stroke="#92bc9d" stroke-width="0.6"/><path d="M551.9,99.5L565.9,105.3L563.1,117.7L549.8,112.0Z" fill="#a4c7ad" stroke="#a4c7ad" stroke-width="0.6"/><path d="M549.8,112.0L563.1,117.7L560.4,130.0L547.7,124.5Z" fill="#b1d0ba" stroke="#b1d0ba" stroke-width="0.6"/><path d="M547.7,124.5L560.4,130.0L557.6,142.4L545.6,137.0Z" fill="#b9d4c1" stroke="#b9d4c1" stroke-width="0.6"/><path d="M545.6,137.0L557.6,142.4L554.9,154.7L543.5,149.5Z" fill="#bad5c3" stroke="#bad5c3" stroke-width="0.6"/><path d="M543.5,149.5L554.9,154.7L552.1,167.1L541.4,162.0Z" fill="#b6d3be" stroke="#b6d3be" stroke-width="0.6"/><path d="M541.4,162.0L552.1,167.1L549.4,179.5L539.3,174.5Z" fill="#adcdb6" stroke="#adcdb6" stroke-width="0.6"/><path d="M539.3,174.5L549.4,179.5L546.6,191.8L537.1,187.0Z" fill="#a3c7ac" stroke="#a3c7ac" stroke-width="0.6"/><path d="M537.1,187.0L546.6,191.8L543.8,204.2L535.0,199.5Z" fill="#9cc3a5" stroke="#9cc3a5" stroke-width="0.6"/><path d="M535.0,199.5L543.8,204.2L541.1,216.5L532.9,212.0Z" fill="#97c0a1" stroke="#97c0a1" stroke-width="0.6"/><path d="M532.9,212.0L541.1,216.5L538.3,228.9L530.8,224.5Z" fill="#95bf9f" stroke="#95bf9f" stroke-width="0.6"/><path d="M571.4,80.6L586.2,87.4L582.8,99.6L568.6,93.0Z" fill="#81b08e" stroke="#81b08e" stroke-width="0.6"/><path d="M568.6,93.0L582.8,99.6L579.4,111.8L565.9,105.3Z" fill="#92bc9d" stroke="#92bc9d" stroke-width="0.6"/><path d="M565.9,105.3L579.4,111.8L576.0,124.0L563.1,117.7Z" fill="#a4c7ad" stroke="#a4c7ad" stroke-width="0.6"/><path d="M563.1,117.7L576.0,124.0L572.6,136.2L560.4,130.0Z" fill="#b0cfb9" stroke="#b0cfb9" stroke-width="0.6"/><path d="M560.4,130.0L572.6,136.2L569.2,148.3L557.6,142.4Z" fill="#b7d3c0" stroke="#b7d3c0" stroke-width="0.6"/><path d="M557.6,142.4L569.2,148.3L565.8,160.5L554.9,154.7Z" fill="#b9d4c1" stroke="#b9d4c1" stroke-width="0.6"/><path d="M554.9,154.7L565.8,160.5L562.4,172.7L552.1,167.1Z" fill="#b4d1bc" stroke="#b4d1bc" stroke-width="0.6"/><path d="M552.1,167.1L562.4,172.7L559.0,184.9L549.4,179.5Z" fill="#abccb4" stroke="#abccb4" stroke-width="0.6"/><path d="M549.4,179.5L559.0,184.9L555.6,197.1L546.6,191.8Z" fill="#a2c7ab" stroke="#a2c7ab" stroke-width="0.6"/><path d="M546.6,191.8L555.6,197.1L552.2,209.2L543.8,204.2Z" fill="#9bc2a5" stroke="#9bc2a5" stroke-width="0.6"/><path d="M543.8,204.2L552.2,209.2L548.8,221.4L541.1,216.5Z" fill="#97c0a1" stroke="#97c0a1" stroke-width="0.6"/><path d="M541.1,216.5L548.8,221.4L545.5,233.6L538.3,228.9Z" fill="#95bf9f" stroke="#95bf9f" stroke-width="0.6"/><path d="M586.2,87.4L600.5,95.0L596.5,107.0L582.8,99.6Z" fill="#81b08e" stroke="#81b08e" stroke-width="0.6"/><path d="M582.8,99.6L596.5,107.0L592.4,118.9L579.4,111.8Z" fill="#92bc9d" stroke="#92bc9d" stroke-width="0.6"/><path d="M579.4,111.8L592.4,118.9L588.4,130.9L576.0,124.0Z" fill="#a4c7ad" stroke="#a4c7ad" stroke-width="0.6"/><path d="M576.0,124.0L588.4,130.9L584.4,142.9L572.6,136.2Z" fill="#afcfb8" stroke="#afcfb8" stroke-width="0.6"/><path d="M572.6,136.2L584.4,142.9L580.4,154.8L569.2,148.3Z" fill="#b6d3be" stroke="#b6d3be" stroke-width="0.6"/><path d="M569.2,148.3L580.4,154.8L576.3,166.8L565.8,160.5Z" fill="#b7d3bf" stroke="#b7d3bf" stroke-width="0.6"/><path d="M565.8,160.5L576.3,166.8L572.3,178.7L562.4,172.7Z" fill="#b2d0bb" stroke="#b2d0bb" stroke-width="0.6"/><path d="M562.4,172.7L572.3,178.7L568.3,190.7L559.0,184.9Z" fill="#aacbb3" stroke="#aacbb3" stroke-width="0.6"/><path d="M559.0,184.9L568.3,190.7L564.3,202.7L555.6,197.1Z" fill="#a1c6ab" stroke="#a1c6ab" stroke-width="0.6"/><path d="M555.6,197.1L564.3,202.7L560.2,214.6L552.2,209.2Z" fill="#9bc2a4" stroke="#9bc2a4" stroke-width="0.6"/><path d="M552.2,209.2L560.2,214.6L556.2,226.6L548.8,221.4Z" fill="#97c0a1" stroke="#97c0a1" stroke-width="0.6"/><path d="M548.8,221.4L556.2,226.6L552.2,238.6L545.5,233.6Z" fill="#95bf9f" stroke="#95bf9f" stroke-width="0.6"/><path d="M600.5,95.0L614.2,103.2L609.6,114.9L596.5,107.0Z" fill="#81b08e" stroke="#81b08e" stroke-width="0.6"/><path d="M596.5,107.0L609.6,114.9L604.9,126.6L592.4,118.9Z" fill="#92bc9d" stroke="#92bc9d" stroke-width="0.6"/><path d="M592.4,118.9L604.9,126.6L600.3,138.3L588.4,130.9Z" fill="#a4c7ad" stroke="#a4c7ad" stroke-width="0.6"/><path d="M588.4,130.9L600.3,138.3L595.7,150.0L584.4,142.9Z" fill="#aeceb7" stroke="#aeceb7" stroke-width="0.6"/><path d="M584.4,142.9L595.7,150.0L591.0,161.8L580.4,154.8Z" fill="#b4d2bd" stroke="#b4d2bd" stroke-width="0.6"/><path d="M580.4,154.8L591.0,161.8L586.4,173.5L576.3,166.8Z" fill="#b5d2bd" stroke="#b5d2bd" stroke-width="0.6"/><path d="M576.3,166.8L586.4,173.5L581.8,185.2L572.3,178.7Z" fill="#b0cfb9" stroke="#b0cfb9" stroke-width="0.6"/><path d="M572.3,178.7L581.8,185.2L577.1,196.9L568.3,190.7Z" fill="#a8cab1" stroke="#a8cab1" stroke-width="0.6"/><path d="M568.3,190.7L577.1,196.9L572.5,208.6L564.3,202.7Z" fill="#a0c5aa" stroke="#a0c5aa" stroke-width="0.6"/><path d="M564.3,202.7L572.5,208.6L567.8,220.3L560.2,214.6Z" fill="#9ac2a4" stroke="#9ac2a4" stroke-width="0.6"/><path d="M560.2,214.6L567.8,220.3L563.2,232.0L556.2,226.6Z" fill="#97c0a0" stroke="#97c0a0" stroke-width="0.6"/><path d="M556.2,226.6L563.2,232.0L558.6,243.7L552.2,238.6Z" fill="#95bf9f" stroke="#95bf9f" stroke-width="0.6"/><path d="M614.2,103.2L627.4,112.1L622.1,123.5L609.6,114.9Z" fill="#81b08e" stroke="#81b08e" stroke-width="0.6"/><path d="M609.6,114.9L622.1,123.5L616.9,134.9L604.9,126.6Z" fill="#92bc9d" stroke="#92bc9d" stroke-width="0.6"/><path d="M604.9,126.6L616.9,134.9L611.7,146.3L600.3,138.3Z" fill="#a4c7ad" stroke="#a4c7ad" stroke-width="0.6"/><path d="M600.3,138.3L611.7,146.3L606.4,157.7L595.7,150.0Z" fill="#adcdb6" stroke="#adcdb6" stroke-width="0.6"/><path d="M595.7,150.0L606.4,157.7L601.2,169.1L591.0,161.8Z" fill="#b3d1bb" stroke="#b3d1bb" stroke-width="0.6"/><path d="M591.0,161.8L601.2,169.1L596.0,180.5L586.4,173.5Z" fill="#b3d1bc" stroke="#b3d1bc" stroke-width="0.6"/><path d="M586.4,173.5L596.0,180.5L590.8,191.9L581.8,185.2Z" fill="#afceb7" stroke="#afceb7" stroke-width="0.6"/><path d="M581.8,185.2L590.8,191.9L585.5,203.3L577.1,196.9Z" fill="#a7cab0" stroke="#a7cab0" stroke-width="0.6"/><path d="M577.1,196.9L585.5,203.3L580.3,214.7L572.5,208.6Z" fill="#9fc5a9" stroke="#9fc5a9" stroke-width="0.6"/><path d="M572.5,208.6L580.3,214.7L575.1,226.1L567.8,220.3Z" fill="#9ac1a3" stroke="#9ac1a3" stroke-width="0.6"/><path d="M567.8,220.3L575.1,226.1L569.9,237.5L563.2,232.0Z" fill="#96bfa0" stroke="#96bfa0" stroke-width="0.6"/><path d="M563.2,232.0L569.9,237.5L564.6,248.9L558.6,243.7Z" fill="#95bf9f" stroke="#95bf9f" stroke-width="0.6"/><path d="M627.4,112.1L639.9,121.5L634.1,132.5L622.1,123.5Z" fill="#81b08e" stroke="#81b08e" stroke-width="0.6"/><path d="M622.1,123.5L634.1,132.5L628.3,143.6L616.9,134.9Z" fill="#92bc9d" stroke="#92bc9d" stroke-width="0.6"/><path d="M616.9,134.9L628.3,143.6L622.5,154.6L611.7,146.3Z" fill="#a4c7ad" stroke="#a4c7ad" stroke-width="0.6"/><path d="M611.7,146.3L622.5,154.6L616.8,165.7L606.4,157.7Z" fill="#accdb5" stroke="#accdb5" stroke-width="0.6"/><path d="M606.4,157.7L616.8,165.7L611.0,176.7L601.2,169.1Z" fill="#b1d0ba" stroke="#b1d0ba" stroke-width="0.6"/><path d="M601.2,169.1L611.0,176.7L605.2,187.7L596.0,180.5Z" fill="#b2d0ba" stroke="#b2d0ba" stroke-width="0.6"/><path d="M596.0,180.5L605.2,187.7L599.4,198.8L590.8,191.9Z" fill="#adcdb6" stroke="#adcdb6" stroke-width="0.6"/><path d="M590.8,191.9L599.4,198.8L593.6,209.8L585.5,203.3Z" fill="#a6c9af" stroke="#a6c9af" stroke-width="0.6"/><path d="M585.5,203.3L593.6,209.8L587.8,220.9L580.3,214.7Z" fill="#9fc4a8" stroke="#9fc4a8" stroke-width="0.6"/><path d="M580.3,214.7L587.8,220.9L582.0,231.9L575.1,226.1Z" fill="#99c1a3" stroke="#99c1a3" stroke-width="0.6"/><path d="M575.1,226.1L582.0,231.9L576.3,243.0L569.9,237.5Z" fill="#96bfa0" stroke="#96bfa0" stroke-width="0.6"/><path d="M569.9,237.5L576.3,243.0L570.5,254.0L564.6,248.9Z" fill="#95be9f" stroke="#95be9f" stroke-width="0.6"/><path d="M639.9,121.5L651.8,131.4L645.5,142.0L634.1,132.5Z" fill="#81b08e" stroke="#81b08e" stroke-width="0.6"/><path d="M634.1,132.5L645.5,142.0L639.2,152.7L628.3,143.6Z" fill="#92bc9d" stroke="#92bc9d" stroke-width="0.6"/><path d="M628.3,143.6L639.2,152.7L632.9,163.3L622.5,154.6Z" fill="#a4c7ad" stroke="#a4c7ad" stroke-width="0.6"/><path d="M622.5,154.6L632.9,163.3L626.6,174.0L616.8,165.7Z" fill="#abccb4" stroke="#abccb4" stroke-width="0.6"/><path d="M616.8,165.7L626.6,174.0L620.3,184.6L611.0,176.7Z" fill="#b0cfb9" stroke="#b0cfb9" stroke-width="0.6"/><path d="M611.0,176.7L620.3,184.6L614.0,195.2L605.2,187.7Z" fill="#b0cfb9" stroke="#b0cfb9" stroke-width="0.6"/><path d="M605.2,187.7L614.0,195.2L607.7,205.9L599.4,198.8Z" fill="#acccb4" stroke="#acccb4" stroke-width="0.6"/><path d="M599.4,198.8L607.7,205.9L601.4,216.5L593.6,209.8Z" fill="#a5c8ae" stroke="#a5c8ae" stroke-width="0.6"/><path d="M593.6,209.8L601.4,216.5L595.1,227.1L587.8,220.9Z" fill="#9ec4a7" stroke="#9ec4a7" stroke-width="0.6"/><path d="M587.8,220.9L595.1,227.1L588.8,237.8L582.0,231.9Z" fill="#99c1a3" stroke="#99c1a3" stroke-width="0.6"/><path d="M582.0,231.9L588.8,237.8L582.4,248.4L576.3,243.0Z" fill="#96bfa0" stroke="#96bfa0" stroke-width="0.6"/><path d="M576.3,243.0L582.4,248.4L576.1,259.1L570.5,254.0Z" fill="#95be9f" stroke="#95be9f" stroke-width="0.6"/><path d="M651.8,131.4L663.1,141.8L656.3,152.0L645.5,142.0Z" fill="#81b08e" stroke="#81b08e" stroke-width="0.6"/><path d="M645.5,142.0L656.3,152.0L649.5,162.2L639.2,152.7Z" fill="#92bc9d" stroke="#92bc9d" stroke-width="0.6"/><path d="M639.2,152.7L649.5,162.2L642.8,172.4L632.9,163.3Z" fill="#a4c8ad" stroke="#a4c8ad" stroke-width="0.6"/><path d="M632.9,163.3L642.8,172.4L636.0,182.5L626.6,174.0Z" fill="#abccb3" stroke="#abccb3" stroke-width="0.6"/><path d="M626.6,174.0L636.0,182.5L629.2,192.7L620.3,184.6Z" fill="#afceb8" stroke="#afceb8" stroke-width="0.6"/><path d="M620.3,184.6L629.2,192.7L622.4,202.9L614.0,195.2Z" fill="#afceb7" stroke="#afceb7" stroke-width="0.6"/><path d="M614.0,195.2L622.4,202.9L615.6,213.1L607.7,205.9Z" fill="#aaccb3" stroke="#aaccb3" stroke-width="0.6"/><path d="M607.7,205.9L615.6,213.1L608.8,223.3L601.4,216.5Z" fill="#a3c7ad" stroke="#a3c7ad" stroke-width="0.6"/><path d="M601.4,216.5L608.8,223.3L602.1,233.5L595.1,227.1Z" fill="#9dc4a7" stroke="#9dc4a7" stroke-width="0.6"/><path d="M595.1,227.1L602.1,233.5L595.3,243.6L588.8,237.8Z" fill="#98c1a2" stroke="#98c1a2" stroke-width="0.6"/><path d="M588.8,237.8L595.3,243.6L588.5,253.8L582.4,248.4Z" fill="#96bfa0" stroke="#96bfa0" stroke-width="0.6"/><path d="M582.4,248.4L588.5,253.8L581.7,264.0L576.1,259.1Z" fill="#95be9f" stroke="#95be9f" stroke-width="0.6"/><path d="M663.1,141.8L673.8,152.7L666.6,162.3L656.3,152.0Z" fill="#81b08e" stroke="#81b08e" stroke-width="0.6"/><path d="M656.3,152.0L666.6,162.3L659.3,172.0L649.5,162.2Z" fill="#92bc9d" stroke="#92bc9d" stroke-width="0.6"/><path d="M649.5,162.2L659.3,172.0L652.1,181.7L642.8,172.4Z" fill="#a3c7ad" stroke="#a3c7ad" stroke-width="0.6"/><path d="M642.8,172.4L652.1,181.7L644.9,191.4L636.0,182.5Z" fill="#aacbb3" stroke="#aacbb3" stroke-width="0.6"/><path d="M636.0,182.5L644.9,191.4L637.7,201.1L629.2,192.7Z" fill="#aeceb6" stroke="#aeceb6" stroke-width="0.6"/><path d="M629.2,192.7L637.7,201.1L630.5,210.8L622.4,202.9Z" fill="#adcdb6" stroke="#adcdb6" stroke-width="0.6"/><path d="M622.4,202.9L630.5,210.8L623.3,220.5L615.6,213.1Z" fill="#a9cbb2" stroke="#a9cbb2" stroke-width="0.6"/><path d="M615.6,213.1L623.3,220.5L616.0,230.1L608.8,223.3Z" fill="#a2c7ac" stroke="#a2c7ac" stroke-width="0.6"/><path d="M608.8,223.3L616.0,230.1L608.8,239.8L602.1,233.5Z" fill="#9cc3a6" stroke="#9cc3a6" stroke-width="0.6"/><path d="M602.1,233.5L608.8,239.8L601.6,249.5L595.3,243.6Z" fill="#98c0a2" stroke="#98c0a2" stroke-width="0.6"/><path d="M595.3,243.6L601.6,249.5L594.4,259.2L588.5,253.8Z" fill="#96bfa0" stroke="#96bfa0" stroke-width="0.6"/><path d="M588.5,253.8L594.4,259.2L587.2,268.9L581.7,264.0Z" fill="#95be9f" stroke="#95be9f" stroke-width="0.6"/><path d="M673.8,152.7L683.8,163.9L676.2,173.1L666.6,162.3Z" fill="#81b18e" stroke="#81b18e" stroke-width="0.6"/><path d="M666.6,162.3L676.2,173.1L668.6,182.2L659.3,172.0Z" fill="#93bc9d" stroke="#93bc9d" stroke-width="0.6"/><path d="M659.3,172.0L668.6,182.2L661.0,191.4L652.1,181.7Z" fill="#a3c7ac" stroke="#a3c7ac" stroke-width="0.6"/><path d="M652.1,181.7L661.0,191.4L653.4,200.5L644.9,191.4Z" fill="#a9cbb2" stroke="#a9cbb2" stroke-width="0.6"/><path d="M644.9,191.4L653.4,200.5L645.8,209.7L637.7,201.1Z" fill="#accdb5" stroke="#accdb5" stroke-width="0.6"/><path d="M637.7,201.1L645.8,209.7L638.2,218.8L630.5,210.8Z" fill="#accdb5" stroke="#accdb5" stroke-width="0.6"/><path d="M630.5,210.8L638.2,218.8L630.5,228.0L623.3,220.5Z" fill="#a8cab1" stroke="#a8cab1" stroke-width="0.6"/><path d="M623.3,220.5L630.5,228.0L622.9,237.2L616.0,230.1Z" fill="#a2c6ab" stroke="#a2c6ab" stroke-width="0.6"/><path d="M616.0,230.1L622.9,237.2L615.3,246.3L608.8,239.8Z" fill="#9cc3a5" stroke="#9cc3a5" stroke-width="0.6"/><path d="M608.8,239.8L615.3,246.3L607.7,255.5L601.6,249.5Z" fill="#98c0a2" stroke="#98c0a2" stroke-width="0.6"/><path d="M601.6,249.5L607.7,255.5L600.1,264.6L594.4,259.2Z" fill="#96bf9f" stroke="#96bf9f" stroke-width="0.6"/><path d="M594.4,259.2L600.1,264.6L592.5,273.8L587.2,268.9Z" fill="#95be9e" stroke="#95be9e" stroke-width="0.6"/><path d="M683.8,163.9L693.1,175.5L685.2,184.1L676.2,173.1Z" fill="#81b18e" stroke="#81b18e" stroke-width="0.6"/><path d="M676.2,173.1L685.2,184.1L677.2,192.7L668.6,182.2Z" fill="#93bc9e" stroke="#93bc9e" stroke-width="0.6"/><path d="M668.6,182.2L677.2,192.7L669.3,201.3L661.0,191.4Z" fill="#a2c7ac" stroke="#a2c7ac" stroke-width="0.6"/><path d="M661.0,191.4L669.3,201.3L661.3,209.9L653.4,200.5Z" fill="#a8cab1" stroke="#a8cab1" stroke-width="0.6"/><path d="M653.4,200.5L661.3,209.9L653.4,218.5L645.8,209.7Z" fill="#abccb4" stroke="#abccb4" stroke-width="0.6"/><path d="M645.8,209.7L653.4,218.5L645.4,227.1L638.2,218.8Z" fill="#abccb4" stroke="#abccb4" stroke-width="0.6"/><path d="M638.2,218.8L645.4,227.1L637.5,235.7L630.5,228.0Z" fill="#a6c9b0" stroke="#a6c9b0" stroke-width="0.6"/><path d="M630.5,228.0L637.5,235.7L629.5,244.3L622.9,237.2Z" fill="#a1c6aa" stroke="#a1c6aa" stroke-width="0.6"/><path d="M622.9,237.2L629.5,244.3L621.6,252.9L615.3,246.3Z" fill="#9bc2a5" stroke="#9bc2a5" stroke-width="0.6"/><path d="M615.3,246.3L621.6,252.9L613.7,261.6L607.7,255.5Z" fill="#97c0a1" stroke="#97c0a1" stroke-width="0.6"/><path d="M607.7,255.5L613.7,261.6L605.7,270.2L600.1,264.6Z" fill="#95bf9f" stroke="#95bf9f" stroke-width="0.6"/><path d="M600.1,264.6L605.7,270.2L597.8,278.8L592.5,273.8Z" fill="#94be9e" stroke="#94be9e" stroke-width="0.6"/><path d="M693.1,175.5L701.8,187.5L693.5,195.5L685.2,184.1Z" fill="#81b18e" stroke="#81b18e" stroke-width="0.6"/><path d="M685.2,184.1L693.5,195.5L685.3,203.5L677.2,192.7Z" fill="#93bd9e" stroke="#93bd9e" stroke-width="0.6"/><path d="M677.2,192.7L685.3,203.5L677.1,211.6L669.3,201.3Z" fill="#a2c6ab" stroke="#a2c6ab" stroke-width="0.6"/><path d="M669.3,201.3L677.1,211.6L668.8,219.6L661.3,209.9Z" fill="#a7cab0" stroke="#a7cab0" stroke-width="0.6"/><path d="M661.3,209.9L668.8,219.6L660.6,227.6L653.4,218.5Z" fill="#aaccb3" stroke="#aaccb3" stroke-width="0.6"/><path d="M653.4,218.5L660.6,227.6L652.3,235.7L645.4,227.1Z" fill="#a9cbb2" stroke="#a9cbb2" stroke-width="0.6"/><path d="M645.4,227.1L652.3,235.7L644.1,243.7L637.5,235.7Z" fill="#a5c9af" stroke="#a5c9af" stroke-width="0.6"/><path d="M637.5,235.7L644.1,243.7L635.8,251.7L629.5,244.3Z" fill="#a0c5a9" stroke="#a0c5a9" stroke-width="0.6"/><path d="M629.5,244.3L635.8,251.7L627.6,259.8L621.6,252.9Z" fill="#9bc2a4" stroke="#9bc2a4" stroke-width="0.6"/><path d="M621.6,252.9L627.6,259.8L619.3,267.8L613.7,261.6Z" fill="#97c0a1" stroke="#97c0a1" stroke-width="0.6"/><path d="M613.7,261.6L619.3,267.8L611.1,275.8L605.7,270.2Z" fill="#95bf9f" stroke="#95bf9f" stroke-width="0.6"/><path d="M605.7,270.2L611.1,275.8L602.8,283.9L597.8,278.8Z" fill="#94be9e" stroke="#94be9e" stroke-width="0.6"/><path d="M701.8,187.5L709.8,199.7L701.3,207.2L693.5,195.5Z" fill="#81b18e" stroke="#81b18e" stroke-width="0.6"/><path d="M693.5,195.5L701.3,207.2L692.8,214.6L685.3,203.5Z" fill="#93bd9e" stroke="#93bd9e" stroke-width="0.6"/><path d="M685.3,203.5L692.8,214.6L684.3,222.1L677.1,211.6Z" fill="#a1c6ab" stroke="#a1c6ab" stroke-width="0.6"/><path d="M677.1,211.6L684.3,222.1L675.8,229.5L668.8,219.6Z" fill="#a6c9b0" stroke="#a6c9b0" stroke-width="0.6"/><path d="M668.8,219.6L675.8,229.5L667.3,237.0L660.6,227.6Z" fill="#a9cbb2" stroke="#a9cbb2" stroke-width="0.6"/><path d="M660.6,227.6L667.3,237.0L658.7,244.4L652.3,235.7Z" fill="#a8cab1" stroke="#a8cab1" stroke-width="0.6"/><path d="M652.3,235.7L658.7,244.4L650.2,251.9L644.1,243.7Z" fill="#a4c8ae" stroke="#a4c8ae" stroke-width="0.6"/><path d="M644.1,243.7L650.2,251.9L641.7,259.4L635.8,251.7Z" fill="#9fc5a8" stroke="#9fc5a8" stroke-width="0.6"/><path d="M635.8,251.7L641.7,259.4L633.2,266.8L627.6,259.8Z" fill="#9ac2a4" stroke="#9ac2a4" stroke-width="0.6"/><path d="M627.6,259.8L633.2,266.8L624.7,274.3L619.3,267.8Z" fill="#97c0a1" stroke="#97c0a1" stroke-width="0.6"/><path d="M619.3,267.8L624.7,274.3L616.2,281.7L611.1,275.8Z" fill="#95bf9f" stroke="#95bf9f" stroke-width="0.6"/><path d="M611.1,275.8L616.2,281.7L607.7,289.2L602.8,283.9Z" fill="#94be9e" stroke="#94be9e" stroke-width="0.6"/><path d="M709.8,199.7L717.1,212.2L708.4,219.1L701.3,207.2Z" fill="#81b18e" stroke="#81b18e" stroke-width="0.6"/><path d="M701.3,207.2L708.4,219.1L699.6,226.0L692.8,214.6Z" fill="#93bd9e" stroke="#93bd9e" stroke-width="0.6"/><path d="M692.8,214.6L699.6,226.0L690.9,232.8L684.3,222.1Z" fill="#a1c6aa" stroke="#a1c6aa" stroke-width="0.6"/><path d="M684.3,222.1L690.9,232.8L682.2,239.7L675.8,229.5Z" fill="#a6c9af" stroke="#a6c9af" stroke-width="0.6"/><path d="M675.8,229.5L682.2,239.7L673.4,246.6L667.3,237.0Z" fill="#a8cab1" stroke="#a8cab1" stroke-width="0.6"/><path d="M667.3,237.0L673.4,246.6L664.7,253.5L658.7,244.4Z" fill="#a7cab0" stroke="#a7cab0" stroke-width="0.6"/><path d="M658.7,244.4L664.7,253.5L656.0,260.3L650.2,251.9Z" fill="#a3c7ad" stroke="#a3c7ad" stroke-width="0.6"/><path d="M650.2,251.9L656.0,260.3L647.2,267.2L641.7,259.4Z" fill="#9ec4a8" stroke="#9ec4a8" stroke-width="0.6"/><path d="M641.7,259.4L647.2,267.2L638.5,274.1L633.2,266.8Z" fill="#9ac2a3" stroke="#9ac2a3" stroke-width="0.6"/><path d="M633.2,266.8L638.5,274.1L629.8,281.0L624.7,274.3Z" fill="#97c0a1" stroke="#97c0a1" stroke-width="0.6"/><path d="M624.7,274.3L629.8,281.0L621.0,287.8L616.2,281.7Z" fill="#95bf9f" stroke="#95bf9f" stroke-width="0.6"/><path d="M616.2,281.7L621.0,287.8L612.3,294.7L607.7,289.2Z" fill="#94be9e" stroke="#94be9e" stroke-width="0.6"/><path d="M717.1,212.2L723.7,224.9L714.8,231.2L708.4,219.1Z" fill="#81b18e" stroke="#81b18e" stroke-width="0.6"/><path d="M708.4,219.1L714.8,231.2L705.9,237.5L699.6,226.0Z" fill="#93bd9e" stroke="#93bd9e" stroke-width="0.6"/><path d="M699.6,226.0L705.9,237.5L696.9,243.8L690.9,232.8Z" fill="#a1c6aa" stroke="#a1c6aa" stroke-width="0.6"/><path d="M690.9,232.8L696.9,243.8L688.0,250.1L682.2,239.7Z" fill="#a5c8ae" stroke="#a5c8ae" stroke-width="0.6"/><path d="M682.2,239.7L688.0,250.1L679.1,256.4L673.4,246.6Z" fill="#a7cab0" stroke="#a7cab0" stroke-width="0.6"/><path d="M673.4,246.6L679.1,256.4L670.2,262.7L664.7,253.5Z" fill="#a6c9af" stroke="#a6c9af" stroke-width="0.6"/><path d="M664.7,253.5L670.2,262.7L661.2,269.0L656.0,260.3Z" fill="#a3c7ac" stroke="#a3c7ac" stroke-width="0.6"/><path d="M656.0,260.3L661.2,269.0L652.3,275.3L647.2,267.2Z" fill="#9ec4a7" stroke="#9ec4a7" stroke-width="0.6"/><path d="M647.2,267.2L652.3,275.3L643.4,281.6L638.5,274.1Z" fill="#99c1a3" stroke="#99c1a3" stroke-width="0.6"/><path d="M638.5,274.1L643.4,281.6L634.5,287.9L629.8,281.0Z" fill="#96c0a0" stroke="#96c0a0" stroke-width="0.6"/><path d="M629.8,281.0L634.5,287.9L625.5,294.2L621.0,287.8Z" fill="#95bf9f" stroke="#95bf9f" stroke-width="0.6"/><path d="M621.0,287.8L625.5,294.2L616.6,300.5L612.3,294.7Z" fill="#94be9e" stroke="#94be9e" stroke-width="0.6"/><path d="M723.7,224.9L729.6,237.9L720.5,243.6L714.8,231.2Z" fill="#81b18e" stroke="#81b18e" stroke-width="0.6"/><path d="M714.8,231.2L720.5,243.6L711.4,249.3L705.9,237.5Z" fill="#94bd9e" stroke="#94bd9e" stroke-width="0.6"/><path d="M705.9,237.5L711.4,249.3L702.4,255.0L696.9,243.8Z" fill="#a0c6aa" stroke="#a0c6aa" stroke-width="0.6"/><path d="M696.9,243.8L702.4,255.0L693.3,260.8L688.0,250.1Z" fill="#a5c8ae" stroke="#a5c8ae" stroke-width="0.6"/><path d="M688.0,250.1L693.3,260.8L684.2,266.5L679.1,256.4Z" fill="#a7c9b0" stroke="#a7c9b0" stroke-width="0.6"/><path d="M679.1,256.4L684.2,266.5L675.1,272.2L670.2,262.7Z" fill="#a5c9af" stroke="#a5c9af" stroke-width="0.6"/><path d="M670.2,262.7L675.1,272.2L666.0,277.9L661.2,269.0Z" fill="#a2c6ab" stroke="#a2c6ab" stroke-width="0.6"/><path d="M661.2,269.0L666.0,277.9L656.9,283.6L652.3,275.3Z" fill="#9dc4a7" stroke="#9dc4a7" stroke-width="0.6"/><path d="M652.3,275.3L656.9,283.6L647.9,289.3L643.4,281.6Z" fill="#99c1a3" stroke="#99c1a3" stroke-width="0.6"/><path d="M643.4,281.6L647.9,289.3L638.8,295.1L634.5,287.9Z" fill="#96bfa0" stroke="#96bfa0" stroke-width="0.6"/><path d="M634.5,287.9L638.8,295.1L629.7,300.8L625.5,294.2Z" fill="#95bf9f" stroke="#95bf9f" stroke-width="0.6"/><path d="M625.5,294.2L629.7,300.8L620.6,306.5L616.6,300.5Z" fill="#94be9e" stroke="#94be9e" stroke-width="0.6"/><path d="M729.6,237.9L734.8,251.0L725.6,256.1L720.5,243.6Z" fill="#81b18e" stroke="#81b18e" stroke-width="0.6"/><path d="M720.5,243.6L725.6,256.1L716.4,261.3L711.4,249.3Z" fill="#94bd9e" stroke="#94bd9e" stroke-width="0.6"/><path d="M711.4,249.3L716.4,261.3L707.2,266.4L702.4,255.0Z" fill="#a0c5a9" stroke="#a0c5a9" stroke-width="0.6"/><path d="M702.4,255.0L707.2,266.4L698.0,271.6L693.3,260.8Z" fill="#a4c8ad" stroke="#a4c8ad" stroke-width="0.6"/><path d="M693.3,260.8L698.0,271.6L688.8,276.7L684.2,266.5Z" fill="#a6c9af" stroke="#a6c9af" stroke-width="0.6"/><path d="M684.2,266.5L688.8,276.7L679.6,281.8L675.1,272.2Z" fill="#a5c8ae" stroke="#a5c8ae" stroke-width="0.6"/><path d="M675.1,272.2L679.6,281.8L670.3,287.0L666.0,277.9Z" fill="#a1c6aa" stroke="#a1c6aa" stroke-width="0.6"/><path d="M666.0,277.9L670.3,287.0L661.1,292.1L656.9,283.6Z" fill="#9cc3a6" stroke="#9cc3a6" stroke-width="0.6"/><path d="M656.9,283.6L661.1,292.1L651.9,297.3L647.9,289.3Z" fill="#99c1a2" stroke="#99c1a2" stroke-width="0.6"/><path d="M647.9,289.3L651.9,297.3L642.7,302.4L638.8,295.1Z" fill="#96bfa0" stroke="#96bfa0" stroke-width="0.6"/><path d="M638.8,295.1L642.7,302.4L633.5,307.6L629.7,300.8Z" fill="#95bf9f" stroke="#95bf9f" stroke-width="0.6"/><path d="M629.7,300.8L633.5,307.6L624.3,312.7L620.6,306.5Z" fill="#94be9e" stroke="#94be9e" stroke-width="0.6"/><path d="M734.8,251.0L739.3,264.2L730.0,268.8L725.6,256.1Z" fill="#81b18e" stroke="#81b18e" stroke-width="0.6"/><path d="M725.6,256.1L730.0,268.8L720.7,273.4L716.4,261.3Z" fill="#94bd9f" stroke="#94bd9f" stroke-width="0.6"/><path d="M716.4,261.3L720.7,273.4L711.4,277.9L707.2,266.4Z" fill="#a0c5a9" stroke="#a0c5a9" stroke-width="0.6"/><path d="M707.2,266.4L711.4,277.9L702.1,282.5L698.0,271.6Z" fill="#a3c7ad" stroke="#a3c7ad" stroke-width="0.6"/><path d="M698.0,271.6L702.1,282.5L692.8,287.1L688.8,276.7Z" fill="#a5c8ae" stroke="#a5c8ae" stroke-width="0.6"/><path d="M688.8,276.7L692.8,287.1L683.5,291.7L679.6,281.8Z" fill="#a4c8ad" stroke="#a4c8ad" stroke-width="0.6"/><path d="M679.6,281.8L683.5,291.7L674.1,296.2L670.3,287.0Z" fill="#a0c5aa" stroke="#a0c5aa" stroke-width="0.6"/><path d="M670.3,287.0L674.1,296.2L664.8,300.8L661.1,292.1Z" fill="#9cc3a6" stroke="#9cc3a6" stroke-width="0.6"/><path d="M661.1,292.1L664.8,300.8L655.5,305.4L651.9,297.3Z" fill="#98c1a2" stroke="#98c1a2" stroke-width="0.6"/><path d="M651.9,297.3L655.5,305.4L646.2,309.9L642.7,302.4Z" fill="#96bfa0" stroke="#96bfa0" stroke-width="0.6"/><path d="M642.7,302.4L646.2,309.9L636.9,314.5L633.5,307.6Z" fill="#95be9f" stroke="#95be9f" stroke-width="0.6"/><path d="M633.5,307.6L636.9,314.5L627.6,319.1L624.3,312.7Z" fill="#94be9e" stroke="#94be9e" stroke-width="0.6"/><path d="M739.3,264.2L743.1,277.6L733.7,281.6L730.0,268.8Z" fill="#81b18e" stroke="#81b18e" stroke-width="0.6"/><path d="M730.0,268.8L733.7,281.6L724.3,285.6L720.7,273.4Z" fill="#94be9f" stroke="#94be9f" stroke-width="0.6"/><path d="M720.7,273.4L724.3,285.6L715.0,289.6L711.4,277.9Z" fill="#9fc5a9" stroke="#9fc5a9" stroke-width="0.6"/><path d="M711.4,277.9L715.0,289.6L705.6,293.6L702.1,282.5Z" fill="#a3c7ac" stroke="#a3c7ac" stroke-width="0.6"/><path d="M702.1,282.5L705.6,293.6L696.2,297.6L692.8,287.1Z" fill="#a4c8ae" stroke="#a4c8ae" stroke-width="0.6"/><path d="M692.8,287.1L696.2,297.6L686.8,301.6L683.5,291.7Z" fill="#a3c7ac" stroke="#a3c7ac" stroke-width="0.6"/><path d="M683.5,291.7L686.8,301.6L677.5,305.6L674.1,296.2Z" fill="#a0c5a9" stroke="#a0c5a9" stroke-width="0.6"/><path d="M674.1,296.2L677.5,305.6L668.1,309.6L664.8,300.8Z" fill="#9cc3a5" stroke="#9cc3a5" stroke-width="0.6"/><path d="M664.8,300.8L668.1,309.6L658.7,313.6L655.5,305.4Z" fill="#98c0a2" stroke="#98c0a2" stroke-width="0.6"/><path d="M655.5,305.4L658.7,313.6L649.3,317.6L646.2,309.9Z" fill="#96bfa0" stroke="#96bfa0" stroke-width="0.6"/><path d="M646.2,309.9L649.3,317.6L640.0,321.6L636.9,314.5Z" fill="#95be9f" stroke="#95be9f" stroke-width="0.6"/><path d="M636.9,314.5L640.0,321.6L630.6,325.6L627.6,319.1Z" fill="#94be9e" stroke="#94be9e" stroke-width="0.6"/><path d="M743.1,277.6L746.1,291.0L736.7,294.4L733.7,281.6Z" fill="#82b18e" stroke="#82b18e" stroke-width="0.6"/><path d="M733.7,281.6L736.7,294.4L727.3,297.9L724.3,285.6Z" fill="#95be9f" stroke="#95be9f" stroke-width="0.6"/><path d="M724.3,285.6L727.3,297.9L717.9,301.3L715.0,289.6Z" fill="#9fc5a9" stroke="#9fc5a9" stroke-width="0.6"/><path d="M715.0,289.6L717.9,301.3L708.5,304.8L705.6,293.6Z" fill="#a3c7ac" stroke="#a3c7ac" stroke-width="0.6"/><path d="M705.6,293.6L708.5,304.8L699.1,308.2L696.2,297.6Z" fill="#a4c8ad" stroke="#a4c8ad" stroke-width="0.6"/><path d="M696.2,297.6L699.1,308.2L689.7,311.7L686.8,301.6Z" fill="#a3c7ac" stroke="#a3c7ac" stroke-width="0.6"/><path d="M686.8,301.6L689.7,311.7L680.3,315.1L677.5,305.6Z" fill="#9fc5a9" stroke="#9fc5a9" stroke-width="0.6"/><path d="M677.5,305.6L680.3,315.1L670.8,318.6L668.1,309.6Z" fill="#9bc2a5" stroke="#9bc2a5" stroke-width="0.6"/><path d="M668.1,309.6L670.8,318.6L661.4,322.0L658.7,313.6Z" fill="#98c0a2" stroke="#98c0a2" stroke-width="0.6"/><path d="M658.7,313.6L661.4,322.0L652.0,325.5L649.3,317.6Z" fill="#96bfa0" stroke="#96bfa0" stroke-width="0.6"/><path d="M649.3,317.6L652.0,325.5L642.6,328.9L640.0,321.6Z" fill="#95be9f" stroke="#95be9f" stroke-width="0.6"/><path d="M640.0,321.6L642.6,328.9L633.2,332.4L630.6,325.6Z" fill="#94be9e" stroke="#94be9e" stroke-width="0.6"/><path d="M746.1,291.0L748.5,304.4L739.1,307.3L736.7,294.4Z" fill="#82b18e" stroke="#82b18e" stroke-width="0.6"/><path d="M736.7,294.4L739.1,307.3L729.6,310.2L727.3,297.9Z" fill="#95be9f" stroke="#95be9f" stroke-width="0.6"/><path d="M727.3,297.9L729.6,310.2L720.2,313.1L717.9,301.3Z" fill="#9fc5a9" stroke="#9fc5a9" stroke-width="0.6"/><path d="M717.9,301.3L720.2,313.1L710.8,316.0L708.5,304.8Z" fill="#a2c7ac" stroke="#a2c7ac" stroke-width="0.6"/><path d="M708.5,304.8L710.8,316.0L701.4,318.9L699.1,308.2Z" fill="#a3c7ad" stroke="#a3c7ad" stroke-width="0.6"/><path d="M699.1,308.2L701.4,318.9L692.0,321.8L689.7,311.7Z" fill="#a2c7ab" stroke="#a2c7ab" stroke-width="0.6"/><path d="M689.7,311.7L692.0,321.8L682.5,324.7L680.3,315.1Z" fill="#9fc4a8" stroke="#9fc4a8" stroke-width="0.6"/><path d="M680.3,315.1L682.5,324.7L673.1,327.6L670.8,318.6Z" fill="#9bc2a4" stroke="#9bc2a4" stroke-width="0.6"/><path d="M670.8,318.6L673.1,327.6L663.7,330.5L661.4,322.0Z" fill="#98c0a1" stroke="#98c0a1" stroke-width="0.6"/><path d="M661.4,322.0L663.7,330.5L654.3,333.4L652.0,325.5Z" fill="#96bfa0" stroke="#96bfa0" stroke-width="0.6"/><path d="M652.0,325.5L654.3,333.4L644.9,336.3L642.6,328.9Z" fill="#95be9f" stroke="#95be9f" stroke-width="0.6"/><path d="M642.6,328.9L644.9,336.3L635.4,339.2L633.2,332.4Z" fill="#94be9e" stroke="#94be9e" stroke-width="0.6"/><path d="M748.5,304.4L750.1,317.8L740.7,320.2L739.1,307.3Z" fill="#82b18e" stroke="#82b18e" stroke-width="0.6"/><path d="M739.1,307.3L740.7,320.2L731.3,322.6L729.6,310.2Z" fill="#95bea0" stroke="#95bea0" stroke-width="0.6"/><path d="M729.6,310.2L731.3,322.6L721.9,324.9L720.2,313.1Z" fill="#9fc5a8" stroke="#9fc5a8" stroke-width="0.6"/><path d="M720.2,313.1L721.9,324.9L712.5,327.3L710.8,316.0Z" fill="#a2c7ab" stroke="#a2c7ab" stroke-width="0.6"/><path d="M710.8,316.0L712.5,327.3L703.1,329.6L701.4,318.9Z" fill="#a3c7ac" stroke="#a3c7ac" stroke-width="0.6"/><path d="M701.4,318.9L703.1,329.6L693.7,332.0L692.0,321.8Z" fill="#a2c6ab" stroke="#a2c6ab" stroke-width="0.6"/><path d="M692.0,321.8L693.7,332.0L684.3,334.3L682.5,324.7Z" fill="#9ec4a8" stroke="#9ec4a8" stroke-width="0.6"/><path d="M682.5,324.7L684.3,334.3L674.9,336.7L673.1,327.6Z" fill="#9ac2a4" stroke="#9ac2a4" stroke-width="0.6"/><path d="M673.1,327.6L674.9,336.7L665.5,339.1L663.7,330.5Z" fill="#97c0a1" stroke="#97c0a1" stroke-width="0.6"/><path d="M663.7,330.5L665.5,339.1L656.1,341.4L654.3,333.4Z" fill="#96bf9f" stroke="#96bf9f" stroke-width="0.6"/><path d="M654.3,333.4L656.1,341.4L646.7,343.8L644.9,336.3Z" fill="#95be9f" stroke="#95be9f" stroke-width="0.6"/><path d="M644.9,336.3L646.7,343.8L637.3,346.1L635.4,339.2Z" fill="#94be9e" stroke="#94be9e" stroke-width="0.6"/><path d="M750.1,317.8L750.9,331.2L741.6,333.1L740.7,320.2Z" fill="#82b18f" stroke="#82b18f" stroke-width="0.6"/><path d="M740.7,320.2L741.6,333.1L732.3,334.9L731.3,322.6Z" fill="#96bfa0" stroke="#96bfa0" stroke-width="0.6"/><path d="M731.3,322.6L732.3,334.9L722.9,336.7L721.9,324.9Z" fill="#9fc5a8" stroke="#9fc5a8" stroke-width="0.6"/><path d="M721.9,324.9L722.9,336.7L713.6,338.5L712.5,327.3Z" fill="#a2c6ab" stroke="#a2c6ab" stroke-width="0.6"/><path d="M712.5,327.3L713.6,338.5L704.2,340.4L703.1,329.6Z" fill="#a3c7ac" stroke="#a3c7ac" stroke-width="0.6"/><path d="M703.1,329.6L704.2,340.4L694.9,342.2L693.7,332.0Z" fill="#a1c6ab" stroke="#a1c6ab" stroke-width="0.6"/><path d="M693.7,332.0L694.9,342.2L685.5,344.0L684.3,334.3Z" fill="#9ec4a7" stroke="#9ec4a7" stroke-width="0.6"/><path d="M684.3,334.3L685.5,344.0L676.2,345.9L674.9,336.7Z" fill="#9ac2a4" stroke="#9ac2a4" stroke-width="0.6"/><path d="M674.9,336.7L676.2,345.9L666.8,347.7L665.5,339.1Z" fill="#97c0a1" stroke="#97c0a1" stroke-width="0.6"/><path d="M665.5,339.1L666.8,347.7L657.5,349.5L656.1,341.4Z" fill="#95bf9f" stroke="#95bf9f" stroke-width="0.6"/><path d="M656.1,341.4L657.5,349.5L648.2,351.3L646.7,343.8Z" fill="#95be9f" stroke="#95be9f" stroke-width="0.6"/><path d="M646.7,343.8L648.2,351.3L638.8,353.2L637.3,346.1Z" fill="#94be9e" stroke="#94be9e" stroke-width="0.6"/><path d="M750.9,331.2L751.1,344.5L741.8,345.8L741.6,333.1Z" fill="#82b18f" stroke="#82b18f" stroke-width="0.6"/><path d="M741.6,333.1L741.8,345.8L732.6,347.2L732.3,334.9Z" fill="#96bfa1" stroke="#96bfa1" stroke-width="0.6"/><path d="M732.3,334.9L732.6,347.2L723.3,348.5L722.9,336.7Z" fill="#9fc5a8" stroke="#9fc5a8" stroke-width="0.6"/><path d="M722.9,336.7L723.3,348.5L714.0,349.8L713.6,338.5Z" fill="#a2c6ab" stroke="#a2c6ab" stroke-width="0.6"/><path d="M713.6,338.5L714.0,349.8L704.8,351.1L704.2,340.4Z" fill="#a2c7ac" stroke="#a2c7ac" stroke-width="0.6"/><path d="M704.2,340.4L704.8,351.1L695.5,352.4L694.9,342.2Z" fill="#a1c6aa" stroke="#a1c6aa" stroke-width="0.6"/><path d="M694.9,342.2L695.5,352.4L686.2,353.7L685.5,344.0Z" fill="#9ec4a7" stroke="#9ec4a7" stroke-width="0.6"/><path d="M685.5,344.0L686.2,353.7L677.0,355.0L676.2,345.9Z" fill="#9ac2a4" stroke="#9ac2a4" stroke-width="0.6"/><path d="M676.2,345.9L677.0,355.0L667.7,356.3L666.8,347.7Z" fill="#97c0a1" stroke="#97c0a1" stroke-width="0.6"/><path d="M666.8,347.7L667.7,356.3L658.5,357.6L657.5,349.5Z" fill="#95bf9f" stroke="#95bf9f" stroke-width="0.6"/><path d="M657.5,349.5L658.5,357.6L649.2,359.0L648.2,351.3Z" fill="#94be9e" stroke="#94be9e" stroke-width="0.6"/><path d="M648.2,351.3L649.2,359.0L639.9,360.3L638.8,353.2Z" fill="#94be9e" stroke="#94be9e" stroke-width="0.6"/><path d="M751.1,344.5L750.5,357.7L741.3,358.5L741.8,345.8Z" fill="#82b28f" stroke="#82b28f" stroke-width="0.6"/><path d="M741.8,345.8L741.3,358.5L732.2,359.3L732.6,347.2Z" fill="#97bfa1" stroke="#97bfa1" stroke-width="0.6"/><path d="M732.6,347.2L732.2,359.3L723.0,360.1L723.3,348.5Z" fill="#9fc5a8" stroke="#9fc5a8" stroke-width="0.6"/><path d="M723.3,348.5L723.0,360.1L713.9,361.0L714.0,349.8Z" fill="#a1c6ab" stroke="#a1c6ab" stroke-width="0.6"/><path d="M714.0,349.8L713.9,361.0L704.7,361.8L704.8,351.1Z" fill="#a2c7ac" stroke="#a2c7ac" stroke-width="0.6"/><path d="M704.8,351.1L704.7,361.8L695.6,362.6L695.5,352.4Z" fill="#a1c6aa" stroke="#a1c6aa" stroke-width="0.6"/><path d="M695.5,352.4L695.6,362.6L686.4,363.4L686.2,353.7Z" fill="#9dc4a7" stroke="#9dc4a7" stroke-width="0.6"/><path d="M686.2,353.7L686.4,363.4L677.3,364.2L677.0,355.0Z" fill="#9ac1a3" stroke="#9ac1a3" stroke-width="0.6"/><path d="M677.0,355.0L677.3,364.2L668.1,365.0L667.7,356.3Z" fill="#97c0a1" stroke="#97c0a1" stroke-width="0.6"/><path d="M667.7,356.3L668.1,365.0L659.0,365.8L658.5,357.6Z" fill="#95bf9f" stroke="#95bf9f" stroke-width="0.6"/><path d="M658.5,357.6L659.0,365.8L649.8,366.6L649.2,359.0Z" fill="#94be9e" stroke="#94be9e" stroke-width="0.6"/><path d="M649.2,359.0L649.8,366.6L640.7,367.4L639.9,360.3Z" fill="#94be9e" stroke="#94be9e" stroke-width="0.6"/><path d="M750.5,357.7L749.2,370.8L740.2,371.1L741.3,358.5Z" fill="#83b28f" stroke="#83b28f" stroke-width="0.6"/><path d="M741.3,358.5L740.2,371.1L731.2,371.4L732.2,359.3Z" fill="#97c0a1" stroke="#97c0a1" stroke-width="0.6"/><path d="M732.2,359.3L731.2,371.4L722.1,371.7L723.0,360.1Z" fill="#9fc5a8" stroke="#9fc5a8" stroke-width="0.6"/><path d="M723.0,360.1L722.1,371.7L713.1,372.0L713.9,361.0Z" fill="#a1c6ab" stroke="#a1c6ab" stroke-width="0.6"/><path d="M713.9,361.0L713.1,372.0L704.1,372.4L704.7,361.8Z" fill="#a2c7ab" stroke="#a2c7ab" stroke-width="0.6"/><path d="M704.7,361.8L704.1,372.4L695.1,372.7L695.6,362.6Z" fill="#a0c5aa" stroke="#a0c5aa" stroke-width="0.6"/><path d="M695.6,362.6L695.1,372.7L686.1,373.0L686.4,363.4Z" fill="#9dc3a7" stroke="#9dc3a7" stroke-width="0.6"/><path d="M686.4,363.4L686.1,373.0L677.1,373.3L677.3,364.2Z" fill="#9ac1a3" stroke="#9ac1a3" stroke-width="0.6"/><path d="M677.3,364.2L677.1,373.3L668.1,373.6L668.1,365.0Z" fill="#97c0a1" stroke="#97c0a1" stroke-width="0.6"/><path d="M668.1,365.0L668.1,373.6L659.0,373.9L659.0,365.8Z" fill="#95bf9f" stroke="#95bf9f" stroke-width="0.6"/><path d="M659.0,365.8L659.0,373.9L650.0,374.3L649.8,366.6Z" fill="#94be9e" stroke="#94be9e" stroke-width="0.6"/><path d="M649.8,366.6L650.0,374.3L641.0,374.6L640.7,367.4Z" fill="#94be9e" stroke="#94be9e" stroke-width="0.6"/><path d="M749.2,370.8L747.2,383.6L738.3,383.4L740.2,371.1Z" fill="#83b28f" stroke="#83b28f" stroke-width="0.6"/><path d="M740.2,371.1L738.3,383.4L729.5,383.3L731.2,371.4Z" fill="#98c0a2" stroke="#98c0a2" stroke-width="0.6"/><path d="M731.2,371.4L729.5,383.3L720.6,383.1L722.1,371.7Z" fill="#9fc5a8" stroke="#9fc5a8" stroke-width="0.6"/><path d="M722.1,371.7L720.6,383.1L711.8,383.0L713.1,372.0Z" fill="#a1c6ab" stroke="#a1c6ab" stroke-width="0.6"/><path d="M713.1,372.0L711.8,383.0L702.9,382.8L704.1,372.4Z" fill="#a2c7ab" stroke="#a2c7ab" stroke-width="0.6"/><path d="M704.1,372.4L702.9,382.8L694.1,382.7L695.1,372.7Z" fill="#a0c5aa" stroke="#a0c5aa" stroke-width="0.6"/><path d="M695.1,372.7L694.1,382.7L685.2,382.5L686.1,373.0Z" fill="#9dc3a6" stroke="#9dc3a6" stroke-width="0.6"/><path d="M686.1,373.0L685.2,382.5L676.4,382.4L677.1,373.3Z" fill="#99c1a3" stroke="#99c1a3" stroke-width="0.6"/><path d="M677.1,373.3L676.4,382.4L667.5,382.2L668.1,373.6Z" fill="#97c0a1" stroke="#97c0a1" stroke-width="0.6"/><path d="M668.1,373.6L667.5,382.2L658.7,382.1L659.0,373.9Z" fill="#95bf9f" stroke="#95bf9f" stroke-width="0.6"/><path d="M659.0,373.9L658.7,382.1L649.8,381.9L650.0,374.3Z" fill="#94be9e" stroke="#94be9e" stroke-width="0.6"/><path d="M650.0,374.3L649.8,381.9L641.0,381.8L641.0,374.6Z" fill="#94be9e" stroke="#94be9e" stroke-width="0.6"/><path d="M747.2,383.6L744.5,396.2L735.8,395.6L738.3,383.4Z" fill="#7cad89" stroke="#7cad89" stroke-width="0.6"/><path d="M738.3,383.4L735.8,395.6L727.1,395.0L729.5,383.3Z" fill="#8ab795" stroke="#8ab795" stroke-width="0.6"/><path d="M729.5,383.3L727.1,395.0L718.5,394.4L720.6,383.1Z" fill="#98c0a2" stroke="#98c0a2" stroke-width="0.6"/><path d="M720.6,383.1L718.5,394.4L709.8,393.8L711.8,383.0Z" fill="#9bc2a5" stroke="#9bc2a5" stroke-width="0.6"/><path d="M711.8,383.0L709.8,393.8L701.2,393.2L702.9,382.8Z" fill="#a0c5a9" stroke="#a0c5a9" stroke-width="0.6"/><path d="M702.9,382.8L701.2,393.2L692.5,392.6L694.1,382.7Z" fill="#a4c7ad" stroke="#a4c7ad" stroke-width="0.6"/><path d="M694.1,382.7L692.5,392.6L683.8,391.9L685.2,382.5Z" fill="#a5c9ae" stroke="#a5c9ae" stroke-width="0.6"/><path d="M685.2,382.5L683.8,391.9L675.2,391.3L676.4,382.4Z" fill="#a4c8ad" stroke="#a4c8ad" stroke-width="0.6"/><path d="M676.4,382.4L675.2,391.3L666.5,390.7L667.5,382.2Z" fill="#a1c6aa" stroke="#a1c6aa" stroke-width="0.6"/><path d="M667.5,382.2L666.5,390.7L657.9,390.1L658.7,382.1Z" fill="#9cc3a6" stroke="#9cc3a6" stroke-width="0.6"/><path d="M658.7,382.1L657.9,390.1L649.2,389.5L649.8,381.9Z" fill="#98c1a2" stroke="#98c1a2" stroke-width="0.6"/><path d="M649.8,381.9L649.2,389.5L640.6,388.9L641.0,381.8Z" fill="#96bfa0" stroke="#96bfa0" stroke-width="0.6"/><path d="M744.5,396.2L741.1,408.5L732.6,407.5L735.8,395.6Z" fill="#7cad89" stroke="#7cad89" stroke-width="0.6"/><path d="M735.8,395.6L732.6,407.5L724.2,406.4L727.1,395.0Z" fill="#8bb796" stroke="#8bb796" stroke-width="0.6"/><path d="M727.1,395.0L724.2,406.4L715.7,405.4L718.5,394.4Z" fill="#99c1a3" stroke="#99c1a3" stroke-width="0.6"/><path d="M718.5,394.4L715.7,405.4L707.3,404.4L709.8,393.8Z" fill="#9dc3a7" stroke="#9dc3a7" stroke-width="0.6"/><path d="M709.8,393.8L707.3,404.4L698.8,403.3L701.2,393.2Z" fill="#a2c7ac" stroke="#a2c7ac" stroke-width="0.6"/><path d="M701.2,393.2L698.8,403.3L690.4,402.3L692.5,392.6Z" fill="#a7cab0" stroke="#a7cab0" stroke-width="0.6"/><path d="M692.5,392.6L690.4,402.3L682.0,401.2L683.8,391.9Z" fill="#a9cbb2" stroke="#a9cbb2" stroke-width="0.6"/><path d="M683.8,391.9L682.0,401.2L673.5,400.2L675.2,391.3Z" fill="#a8cab1" stroke="#a8cab1" stroke-width="0.6"/><path d="M675.2,391.3L673.5,400.2L665.1,399.2L666.5,390.7Z" fill="#a3c7ad" stroke="#a3c7ad" stroke-width="0.6"/><path d="M666.5,390.7L665.1,399.2L656.6,398.1L657.9,390.1Z" fill="#9ec4a8" stroke="#9ec4a8" stroke-width="0.6"/><path d="M657.9,390.1L656.6,398.1L648.2,397.1L649.2,389.5Z" fill="#99c1a3" stroke="#99c1a3" stroke-width="0.6"/><path d="M649.2,389.5L648.2,397.1L639.8,396.0L640.6,388.9Z" fill="#97c0a0" stroke="#97c0a0" stroke-width="0.6"/><path d="M741.1,408.5L737.0,420.5L728.8,419.1L732.6,407.5Z" fill="#7cad89" stroke="#7cad89" stroke-width="0.6"/><path d="M732.6,407.5L728.8,419.1L720.6,417.6L724.2,406.4Z" fill="#8bb896" stroke="#8bb896" stroke-width="0.6"/><path d="M724.2,406.4L720.6,417.6L712.4,416.2L715.7,405.4Z" fill="#9ac1a3" stroke="#9ac1a3" stroke-width="0.6"/><path d="M715.7,405.4L712.4,416.2L704.2,414.7L707.3,404.4Z" fill="#9fc5a8" stroke="#9fc5a8" stroke-width="0.6"/><path d="M707.3,404.4L704.2,414.7L696.0,413.3L698.8,403.3Z" fill="#a5c8ae" stroke="#a5c8ae" stroke-width="0.6"/><path d="M698.8,403.3L696.0,413.3L687.8,411.8L690.4,402.3Z" fill="#aaccb3" stroke="#aaccb3" stroke-width="0.6"/><path d="M690.4,402.3L687.8,411.8L679.6,410.3L682.0,401.2Z" fill="#adcdb6" stroke="#adcdb6" stroke-width="0.6"/><path d="M682.0,401.2L679.6,410.3L671.4,408.9L673.5,400.2Z" fill="#abccb4" stroke="#abccb4" stroke-width="0.6"/><path d="M673.5,400.2L671.4,408.9L663.2,407.4L665.1,399.2Z" fill="#a6c9af" stroke="#a6c9af" stroke-width="0.6"/><path d="M665.1,399.2L663.2,407.4L655.0,406.0L656.6,398.1Z" fill="#a0c5a9" stroke="#a0c5a9" stroke-width="0.6"/><path d="M656.6,398.1L655.0,406.0L646.8,404.5L648.2,397.1Z" fill="#9ac2a4" stroke="#9ac2a4" stroke-width="0.6"/><path d="M648.2,397.1L646.8,404.5L638.6,403.1L639.8,396.0Z" fill="#97c0a1" stroke="#97c0a1" stroke-width="0.6"/><path d="M737.0,420.5L732.3,432.2L724.4,430.3L728.8,419.1Z" fill="#7cae89" stroke="#7cae89" stroke-width="0.6"/><path d="M728.8,419.1L724.4,430.3L716.4,428.5L720.6,417.6Z" fill="#8bb897" stroke="#8bb897" stroke-width="0.6"/><path d="M720.6,417.6L716.4,428.5L708.5,426.6L712.4,416.2Z" fill="#9bc2a4" stroke="#9bc2a4" stroke-width="0.6"/><path d="M712.4,416.2L708.5,426.6L700.5,424.8L704.2,414.7Z" fill="#a0c6aa" stroke="#a0c6aa" stroke-width="0.6"/><path d="M704.2,414.7L700.5,424.8L692.6,423.0L696.0,413.3Z" fill="#a8cab1" stroke="#a8cab1" stroke-width="0.6"/><path d="M696.0,413.3L692.6,423.0L684.7,421.1L687.8,411.8Z" fill="#aeceb7" stroke="#aeceb7" stroke-width="0.6"/><path d="M687.8,411.8L684.7,421.1L676.7,419.3L679.6,410.3Z" fill="#b1d0b9" stroke="#b1d0b9" stroke-width="0.6"/><path d="M679.6,410.3L676.7,419.3L668.8,417.4L671.4,408.9Z" fill="#afceb8" stroke="#afceb8" stroke-width="0.6"/><path d="M671.4,408.9L668.8,417.4L660.8,415.6L663.2,407.4Z" fill="#a9cbb2" stroke="#a9cbb2" stroke-width="0.6"/><path d="M663.2,407.4L660.8,415.6L652.9,413.7L655.0,406.0Z" fill="#a2c6ab" stroke="#a2c6ab" stroke-width="0.6"/><path d="M655.0,406.0L652.9,413.7L645.0,411.9L646.8,404.5Z" fill="#9cc3a5" stroke="#9cc3a5" stroke-width="0.6"/><path d="M646.8,404.5L645.0,411.9L637.0,410.1L638.6,403.1Z" fill="#97c0a1" stroke="#97c0a1" stroke-width="0.6"/><path d="M732.3,432.2L727.0,443.4L719.3,441.2L724.4,430.3Z" fill="#7cae89" stroke="#7cae89" stroke-width="0.6"/><path d="M724.4,430.3L719.3,441.2L711.7,439.0L716.4,428.5Z" fill="#8cb897" stroke="#8cb897" stroke-width="0.6"/><path d="M716.4,428.5L711.7,439.0L704.0,436.8L708.5,426.6Z" fill="#9bc2a5" stroke="#9bc2a5" stroke-width="0.6"/><path d="M708.5,426.6L704.0,436.8L696.3,434.6L700.5,424.8Z" fill="#a2c7ab" stroke="#a2c7ab" stroke-width="0.6"/><path d="M700.5,424.8L696.3,434.6L688.7,432.4L692.6,423.0Z" fill="#aacbb3" stroke="#aacbb3" stroke-width="0.6"/><path d="M692.6,423.0L688.7,432.4L681.0,430.2L684.7,421.1Z" fill="#b1d0ba" stroke="#b1d0ba" stroke-width="0.6"/><path d="M684.7,421.1L681.0,430.2L673.4,428.0L676.7,419.3Z" fill="#b5d2bd" stroke="#b5d2bd" stroke-width="0.6"/><path d="M676.7,419.3L673.4,428.0L665.7,425.8L668.8,417.4Z" fill="#b2d1bb" stroke="#b2d1bb" stroke-width="0.6"/><path d="M668.8,417.4L665.7,425.8L658.1,423.6L660.8,415.6Z" fill="#acccb5" stroke="#acccb5" stroke-width="0.6"/><path d="M660.8,415.6L658.1,423.6L650.4,421.4L652.9,413.7Z" fill="#a4c7ad" stroke="#a4c7ad" stroke-width="0.6"/><path d="M652.9,413.7L650.4,421.4L642.7,419.1L645.0,411.9Z" fill="#9dc3a6" stroke="#9dc3a6" stroke-width="0.6"/><path d="M645.0,411.9L642.7,419.1L635.1,416.9L637.0,410.1Z" fill="#98c0a2" stroke="#98c0a2" stroke-width="0.6"/><path d="M727.0,443.4L721.1,454.3L713.7,451.7L719.3,441.2Z" fill="#7dae8a" stroke="#7dae8a" stroke-width="0.6"/><path d="M719.3,441.2L713.7,451.7L706.4,449.2L711.7,439.0Z" fill="#8cb898" stroke="#8cb898" stroke-width="0.6"/><path d="M711.7,439.0L706.4,449.2L699.0,446.6L704.0,436.8Z" fill="#9cc3a6" stroke="#9cc3a6" stroke-width="0.6"/><path d="M704.0,436.8L699.0,446.6L691.7,444.1L696.3,434.6Z" fill="#a4c8ad" stroke="#a4c8ad" stroke-width="0.6"/><path d="M696.3,434.6L691.7,444.1L684.3,441.5L688.7,432.4Z" fill="#adcdb6" stroke="#adcdb6" stroke-width="0.6"/><path d="M688.7,432.4L684.3,441.5L676.9,439.0L681.0,430.2Z" fill="#b5d2bd" stroke="#b5d2bd" stroke-width="0.6"/><path d="M681.0,430.2L676.9,439.0L669.6,436.4L673.4,428.0Z" fill="#b9d4c1" stroke="#b9d4c1" stroke-width="0.6"/><path d="M673.4,428.0L669.6,436.4L662.2,433.9L665.7,425.8Z" fill="#b6d3be" stroke="#b6d3be" stroke-width="0.6"/><path d="M665.7,425.8L662.2,433.9L654.9,431.3L658.1,423.6Z" fill="#afceb7" stroke="#afceb7" stroke-width="0.6"/><path d="M658.1,423.6L654.9,431.3L647.5,428.8L650.4,421.4Z" fill="#a5c9af" stroke="#a5c9af" stroke-width="0.6"/><path d="M650.4,421.4L647.5,428.8L640.2,426.2L642.7,419.1Z" fill="#9ec4a7" stroke="#9ec4a7" stroke-width="0.6"/><path d="M642.7,419.1L640.2,426.2L632.8,423.7L635.1,416.9Z" fill="#98c1a2" stroke="#98c1a2" stroke-width="0.6"/><path d="M721.1,454.3L714.6,464.6L707.6,461.8L713.7,451.7Z" fill="#7dae8a" stroke="#7dae8a" stroke-width="0.6"/><path d="M713.7,451.7L707.6,461.8L700.5,458.9L706.4,449.2Z" fill="#8db998" stroke="#8db998" stroke-width="0.6"/><path d="M706.4,449.2L700.5,458.9L693.5,456.1L699.0,446.6Z" fill="#9dc3a7" stroke="#9dc3a7" stroke-width="0.6"/><path d="M699.0,446.6L693.5,456.1L686.5,453.2L691.7,444.1Z" fill="#a5c8ae" stroke="#a5c8ae" stroke-width="0.6"/><path d="M691.7,444.1L686.5,453.2L679.4,450.3L684.3,441.5Z" fill="#afceb8" stroke="#afceb8" stroke-width="0.6"/><path d="M684.3,441.5L679.4,450.3L672.4,447.5L676.9,439.0Z" fill="#b8d4c0" stroke="#b8d4c0" stroke-width="0.6"/><path d="M676.9,439.0L672.4,447.5L665.4,444.6L669.6,436.4Z" fill="#bcd6c4" stroke="#bcd6c4" stroke-width="0.6"/><path d="M669.6,436.4L665.4,444.6L658.3,441.8L662.2,433.9Z" fill="#b9d4c1" stroke="#b9d4c1" stroke-width="0.6"/><path d="M662.2,433.9L658.3,441.8L651.3,438.9L654.9,431.3Z" fill="#b1d0b9" stroke="#b1d0b9" stroke-width="0.6"/><path d="M654.9,431.3L651.3,438.9L644.2,436.0L647.5,428.8Z" fill="#a7c9b0" stroke="#a7c9b0" stroke-width="0.6"/><path d="M647.5,428.8L644.2,436.0L637.2,433.2L640.2,426.2Z" fill="#9ec4a8" stroke="#9ec4a8" stroke-width="0.6"/><path d="M640.2,426.2L637.2,433.2L630.2,430.3L632.8,423.7Z" fill="#99c1a2" stroke="#99c1a2" stroke-width="0.6"/><path d="M714.6,464.6L707.8,474.6L701.0,471.4L707.6,461.8Z" fill="#7dae8a" stroke="#7dae8a" stroke-width="0.6"/><path d="M707.6,461.8L701.0,471.4L694.3,468.3L700.5,458.9Z" fill="#8db998" stroke="#8db998" stroke-width="0.6"/><path d="M700.5,458.9L694.3,468.3L687.6,465.1L693.5,456.1Z" fill="#9dc3a6" stroke="#9dc3a6" stroke-width="0.6"/><path d="M693.5,456.1L687.6,465.1L680.9,462.0L686.5,453.2Z" fill="#a5c8ae" stroke="#a5c8ae" stroke-width="0.6"/><path d="M686.5,453.2L680.9,462.0L674.2,458.8L679.4,450.3Z" fill="#aeceb7" stroke="#aeceb7" stroke-width="0.6"/><path d="M679.4,450.3L674.2,458.8L667.5,455.7L672.4,447.5Z" fill="#b7d3bf" stroke="#b7d3bf" stroke-width="0.6"/><path d="M672.4,447.5L667.5,455.7L660.7,452.5L665.4,444.6Z" fill="#bbd6c3" stroke="#bbd6c3" stroke-width="0.6"/><path d="M665.4,444.6L660.7,452.5L654.0,449.4L658.3,441.8Z" fill="#b8d4c1" stroke="#b8d4c1" stroke-width="0.6"/><path d="M658.3,441.8L654.0,449.4L647.3,446.2L651.3,438.9Z" fill="#b0cfb9" stroke="#b0cfb9" stroke-width="0.6"/><path d="M651.3,438.9L647.3,446.2L640.6,443.1L644.2,436.0Z" fill="#a6c9b0" stroke="#a6c9b0" stroke-width="0.6"/><path d="M644.2,436.0L640.6,443.1L633.9,439.9L637.2,433.2Z" fill="#9ec4a8" stroke="#9ec4a8" stroke-width="0.6"/><path d="M637.2,433.2L633.9,439.9L627.2,436.8L630.2,430.3Z" fill="#99c1a2" stroke="#99c1a2" stroke-width="0.6"/><path d="M707.8,474.6L700.7,484.2L694.3,480.8L701.0,471.4Z" fill="#7dae8a" stroke="#7dae8a" stroke-width="0.6"/><path d="M701.0,471.4L694.3,480.8L687.9,477.3L694.3,468.3Z" fill="#8db998" stroke="#8db998" stroke-width="0.6"/><path d="M694.3,468.3L687.9,477.3L681.5,473.9L687.6,465.1Z" fill="#9dc3a6" stroke="#9dc3a6" stroke-width="0.6"/><path d="M687.6,465.1L681.5,473.9L675.1,470.5L680.9,462.0Z" fill="#a4c8ae" stroke="#a4c8ae" stroke-width="0.6"/><path d="M680.9,462.0L675.1,470.5L668.7,467.1L674.2,458.8Z" fill="#aeceb7" stroke="#aeceb7" stroke-width="0.6"/><path d="M674.2,458.8L668.7,467.1L662.3,463.6L667.5,455.7Z" fill="#b6d3bf" stroke="#b6d3bf" stroke-width="0.6"/><path d="M667.5,455.7L662.3,463.6L655.9,460.2L660.7,452.5Z" fill="#bad5c2" stroke="#bad5c2" stroke-width="0.6"/><path d="M660.7,452.5L655.9,460.2L649.5,456.8L654.0,449.4Z" fill="#b8d4c0" stroke="#b8d4c0" stroke-width="0.6"/><path d="M654.0,449.4L649.5,456.8L643.1,453.4L647.3,446.2Z" fill="#b0cfb9" stroke="#b0cfb9" stroke-width="0.6"/><path d="M647.3,446.2L643.1,453.4L636.7,449.9L640.6,443.1Z" fill="#a6c9af" stroke="#a6c9af" stroke-width="0.6"/><path d="M640.6,443.1L636.7,449.9L630.3,446.5L633.9,439.9Z" fill="#9ec4a7" stroke="#9ec4a7" stroke-width="0.6"/><path d="M633.9,439.9L630.3,446.5L623.8,443.1L627.2,436.8Z" fill="#99c1a2" stroke="#99c1a2" stroke-width="0.6"/><path d="M700.7,484.2L693.7,493.6L687.6,489.9L694.3,480.8Z" fill="#7dae8a" stroke="#7dae8a" stroke-width="0.6"/><path d="M694.3,480.8L687.6,489.9L681.4,486.2L687.9,477.3Z" fill="#8cb998" stroke="#8cb998" stroke-width="0.6"/><path d="M687.9,477.3L681.4,486.2L675.3,482.5L681.5,473.9Z" fill="#9dc3a6" stroke="#9dc3a6" stroke-width="0.6"/><path d="M681.5,473.9L675.3,482.5L669.2,478.8L675.1,470.5Z" fill="#a4c8ad" stroke="#a4c8ad" stroke-width="0.6"/><path d="M675.1,470.5L669.2,478.8L663.1,475.1L668.7,467.1Z" fill="#aeceb6" stroke="#aeceb6" stroke-width="0.6"/><path d="M668.7,467.1L663.1,475.1L656.9,471.4L662.3,463.6Z" fill="#b6d3be" stroke="#b6d3be" stroke-width="0.6"/><path d="M662.3,463.6L656.9,471.4L650.8,467.7L655.9,460.2Z" fill="#bad5c2" stroke="#bad5c2" stroke-width="0.6"/><path d="M655.9,460.2L650.8,467.7L644.7,464.0L649.5,456.8Z" fill="#b7d3bf" stroke="#b7d3bf" stroke-width="0.6"/><path d="M649.5,456.8L644.7,464.0L638.6,460.3L643.1,453.4Z" fill="#afcfb8" stroke="#afcfb8" stroke-width="0.6"/><path d="M643.1,453.4L638.6,460.3L632.4,456.6L636.7,449.9Z" fill="#a6c9af" stroke="#a6c9af" stroke-width="0.6"/><path d="M636.7,449.9L632.4,456.6L626.3,452.9L630.3,446.5Z" fill="#9ec4a7" stroke="#9ec4a7" stroke-width="0.6"/><path d="M630.3,446.5L626.3,452.9L620.2,449.2L623.8,443.1Z" fill="#98c1a2" stroke="#98c1a2" stroke-width="0.6"/><path d="M693.7,493.6L686.7,502.9L680.8,498.9L687.6,489.9Z" fill="#7dae8a" stroke="#7dae8a" stroke-width="0.6"/><path d="M687.6,489.9L680.8,498.9L675.0,494.9L681.4,486.2Z" fill="#8cb898" stroke="#8cb898" stroke-width="0.6"/><path d="M681.4,486.2L675.0,494.9L669.1,490.9L675.3,482.5Z" fill="#9cc3a6" stroke="#9cc3a6" stroke-width="0.6"/><path d="M675.3,482.5L669.1,490.9L663.2,487.0L669.2,478.8Z" fill="#a4c8ad" stroke="#a4c8ad" stroke-width="0.6"/><path d="M669.2,478.8L663.2,487.0L657.4,483.0L663.1,475.1Z" fill="#adcdb6" stroke="#adcdb6" stroke-width="0.6"/><path d="M663.1,475.1L657.4,483.0L651.5,479.0L656.9,471.4Z" fill="#b5d2be" stroke="#b5d2be" stroke-width="0.6"/><path d="M656.9,471.4L651.5,479.0L645.6,475.0L650.8,467.7Z" fill="#b9d5c1" stroke="#b9d5c1" stroke-width="0.6"/><path d="M650.8,467.7L645.6,475.0L639.7,471.0L644.7,464.0Z" fill="#b7d3bf" stroke="#b7d3bf" stroke-width="0.6"/><path d="M644.7,464.0L639.7,471.0L633.9,467.0L638.6,460.3Z" fill="#afceb8" stroke="#afceb8" stroke-width="0.6"/><path d="M638.6,460.3L633.9,467.0L628.0,463.0L632.4,456.6Z" fill="#a6c9af" stroke="#a6c9af" stroke-width="0.6"/><path d="M632.4,456.6L628.0,463.0L622.1,459.0L626.3,452.9Z" fill="#9ec4a7" stroke="#9ec4a7" stroke-width="0.6"/><path d="M626.3,452.9L622.1,459.0L616.2,455.1L620.2,449.2Z" fill="#98c1a2" stroke="#98c1a2" stroke-width="0.6"/><path d="M686.7,502.9L679.5,512.0L673.9,507.7L680.8,498.9Z" fill="#7dae8a" stroke="#7dae8a" stroke-width="0.6"/><path d="M680.8,498.9L673.9,507.7L668.3,503.4L675.0,494.9Z" fill="#8cb898" stroke="#8cb898" stroke-width="0.6"/><path d="M675.0,494.9L668.3,503.4L662.6,499.2L669.1,490.9Z" fill="#9cc3a6" stroke="#9cc3a6" stroke-width="0.6"/><path d="M669.1,490.9L662.6,499.2L657.0,494.9L663.2,487.0Z" fill="#a4c7ad" stroke="#a4c7ad" stroke-width="0.6"/><path d="M663.2,487.0L657.0,494.9L651.4,490.6L657.4,483.0Z" fill="#adcdb6" stroke="#adcdb6" stroke-width="0.6"/><path d="M657.4,483.0L651.4,490.6L645.7,486.3L651.5,479.0Z" fill="#b5d2bd" stroke="#b5d2bd" stroke-width="0.6"/><path d="M651.5,479.0L645.7,486.3L640.1,482.1L645.6,475.0Z" fill="#b8d4c1" stroke="#b8d4c1" stroke-width="0.6"/><path d="M645.6,475.0L640.1,482.1L634.5,477.8L639.7,471.0Z" fill="#b6d3be" stroke="#b6d3be" stroke-width="0.6"/><path d="M639.7,471.0L634.5,477.8L628.9,473.5L633.9,467.0Z" fill="#aeceb7" stroke="#aeceb7" stroke-width="0.6"/><path d="M633.9,467.0L628.9,473.5L623.2,469.3L628.0,463.0Z" fill="#a5c9af" stroke="#a5c9af" stroke-width="0.6"/><path d="M628.0,463.0L623.2,469.3L617.6,465.0L622.1,459.0Z" fill="#9dc4a7" stroke="#9dc4a7" stroke-width="0.6"/><path d="M622.1,459.0L617.6,465.0L612.0,460.7L616.2,455.1Z" fill="#98c1a2" stroke="#98c1a2" stroke-width="0.6"/><path d="M679.5,512.0L671.8,520.6L666.5,516.1L673.9,507.7Z" fill="#7dae8a" stroke="#7dae8a" stroke-width="0.6"/><path d="M673.9,507.7L666.5,516.1L661.1,511.5L668.3,503.4Z" fill="#8cb897" stroke="#8cb897" stroke-width="0.6"/><path d="M668.3,503.4L661.1,511.5L655.7,507.0L662.6,499.2Z" fill="#9cc3a6" stroke="#9cc3a6" stroke-width="0.6"/><path d="M662.6,499.2L655.7,507.0L650.4,502.4L657.0,494.9Z" fill="#a3c7ad" stroke="#a3c7ad" stroke-width="0.6"/><path d="M657.0,494.9L650.4,502.4L645.0,497.9L651.4,490.6Z" fill="#accdb5" stroke="#accdb5" stroke-width="0.6"/><path d="M651.4,490.6L645.0,497.9L639.6,493.4L645.7,486.3Z" fill="#b4d2bd" stroke="#b4d2bd" stroke-width="0.6"/><path d="M645.7,486.3L639.6,493.4L634.3,488.8L640.1,482.1Z" fill="#b8d4c0" stroke="#b8d4c0" stroke-width="0.6"/><path d="M640.1,482.1L634.3,488.8L628.9,484.3L634.5,477.8Z" fill="#b5d2be" stroke="#b5d2be" stroke-width="0.6"/><path d="M634.5,477.8L628.9,484.3L623.5,479.7L628.9,473.5Z" fill="#aeceb7" stroke="#aeceb7" stroke-width="0.6"/><path d="M628.9,473.5L623.5,479.7L618.1,475.2L623.2,469.3Z" fill="#a5c8ae" stroke="#a5c8ae" stroke-width="0.6"/><path d="M623.2,469.3L618.1,475.2L612.8,470.7L617.6,465.0Z" fill="#9dc4a7" stroke="#9dc4a7" stroke-width="0.6"/><path d="M617.6,465.0L612.8,470.7L607.4,466.1L612.0,460.7Z" fill="#98c1a2" stroke="#98c1a2" stroke-width="0.6"/><path d="M671.8,520.6L663.5,528.6L658.4,523.8L666.5,516.1Z" fill="#7cae8a" stroke="#7cae8a" stroke-width="0.6"/><path d="M666.5,516.1L658.4,523.8L653.4,519.0L661.1,511.5Z" fill="#8cb897" stroke="#8cb897" stroke-width="0.6"/><path d="M661.1,511.5L653.4,519.0L648.3,514.2L655.7,507.0Z" fill="#9cc3a6" stroke="#9cc3a6" stroke-width="0.6"/><path d="M655.7,507.0L648.3,514.2L643.2,509.5L650.4,502.4Z" fill="#a3c7ac" stroke="#a3c7ac" stroke-width="0.6"/><path d="M650.4,502.4L643.2,509.5L638.1,504.7L645.0,497.9Z" fill="#accdb5" stroke="#accdb5" stroke-width="0.6"/><path d="M645.0,497.9L638.1,504.7L633.0,499.9L639.6,493.4Z" fill="#b4d1bc" stroke="#b4d1bc" stroke-width="0.6"/><path d="M639.6,493.4L633.0,499.9L628.0,495.2L634.3,488.8Z" fill="#b7d3c0" stroke="#b7d3c0" stroke-width="0.6"/><path d="M634.3,488.8L628.0,495.2L622.9,490.4L628.9,484.3Z" fill="#b5d2bd" stroke="#b5d2bd" stroke-width="0.6"/><path d="M628.9,484.3L622.9,490.4L617.8,485.6L623.5,479.7Z" fill="#aeceb6" stroke="#aeceb6" stroke-width="0.6"/><path d="M623.5,479.7L617.8,485.6L612.7,480.8L618.1,475.2Z" fill="#a5c8ae" stroke="#a5c8ae" stroke-width="0.6"/><path d="M618.1,475.2L612.7,480.8L607.6,476.1L612.8,470.7Z" fill="#9dc4a7" stroke="#9dc4a7" stroke-width="0.6"/><path d="M612.8,470.7L607.6,476.1L602.6,471.3L607.4,466.1Z" fill="#98c1a2" stroke="#98c1a2" stroke-width="0.6"/><path d="M663.5,528.6L654.6,535.8L649.8,530.9L658.4,523.8Z" fill="#7cae89" stroke="#7cae89" stroke-width="0.6"/><path d="M658.4,523.8L649.8,530.9L645.1,525.9L653.4,519.0Z" fill="#8cb897" stroke="#8cb897" stroke-width="0.6"/><path d="M653.4,519.0L645.1,525.9L640.3,520.9L648.3,514.2Z" fill="#9cc3a5" stroke="#9cc3a5" stroke-width="0.6"/><path d="M648.3,514.2L640.3,520.9L635.6,515.9L643.2,509.5Z" fill="#a3c7ac" stroke="#a3c7ac" stroke-width="0.6"/><path d="M643.2,509.5L635.6,515.9L630.8,511.0L638.1,504.7Z" fill="#abccb4" stroke="#abccb4" stroke-width="0.6"/><path d="M638.1,504.7L630.8,511.0L626.0,506.0L633.0,499.9Z" fill="#b3d1bc" stroke="#b3d1bc" stroke-width="0.6"/><path d="M633.0,499.9L626.0,506.0L621.3,501.0L628.0,495.2Z" fill="#b7d3bf" stroke="#b7d3bf" stroke-width="0.6"/><path d="M628.0,495.2L621.3,501.0L616.5,496.1L622.9,490.4Z" fill="#b4d2bd" stroke="#b4d2bd" stroke-width="0.6"/><path d="M622.9,490.4L616.5,496.1L611.8,491.1L617.8,485.6Z" fill="#adcdb6" stroke="#adcdb6" stroke-width="0.6"/><path d="M617.8,485.6L611.8,491.1L607.0,486.1L612.7,480.8Z" fill="#a4c8ae" stroke="#a4c8ae" stroke-width="0.6"/><path d="M612.7,480.8L607.0,486.1L602.2,481.1L607.6,476.1Z" fill="#9dc3a7" stroke="#9dc3a7" stroke-width="0.6"/><path d="M607.6,476.1L602.2,481.1L597.5,476.2L602.6,471.3Z" fill="#98c1a2" stroke="#98c1a2" stroke-width="0.6"/><path d="M654.6,535.8L645.2,542.4L640.8,537.2L649.8,530.9Z" fill="#7cae89" stroke="#7cae89" stroke-width="0.6"/><path d="M649.8,530.9L640.8,537.2L636.3,532.1L645.1,525.9Z" fill="#8cb897" stroke="#8cb897" stroke-width="0.6"/><path d="M645.1,525.9L636.3,532.1L631.9,527.0L640.3,520.9Z" fill="#9cc3a5" stroke="#9cc3a5" stroke-width="0.6"/><path d="M640.3,520.9L631.9,527.0L627.5,521.8L635.6,515.9Z" fill="#a3c7ac" stroke="#a3c7ac" stroke-width="0.6"/><path d="M635.6,515.9L627.5,521.8L623.1,516.7L630.8,511.0Z" fill="#abccb4" stroke="#abccb4" stroke-width="0.6"/><path d="M630.8,511.0L623.1,516.7L618.7,511.6L626.0,506.0Z" fill="#b3d1bb" stroke="#b3d1bb" stroke-width="0.6"/><path d="M626.0,506.0L618.7,511.6L614.2,506.4L621.3,501.0Z" fill="#b6d3be" stroke="#b6d3be" stroke-width="0.6"/><path d="M621.3,501.0L614.2,506.4L609.8,501.3L616.5,496.1Z" fill="#b4d1bc" stroke="#b4d1bc" stroke-width="0.6"/><path d="M616.5,496.1L609.8,501.3L605.4,496.2L611.8,491.1Z" fill="#adcdb6" stroke="#adcdb6" stroke-width="0.6"/><path d="M611.8,491.1L605.4,496.2L601.0,491.0L607.0,486.1Z" fill="#a4c8ad" stroke="#a4c8ad" stroke-width="0.6"/><path d="M607.0,486.1L601.0,491.0L596.6,485.9L602.2,481.1Z" fill="#9dc3a6" stroke="#9dc3a6" stroke-width="0.6"/><path d="M602.2,481.1L596.6,485.9L592.1,480.8L597.5,476.2Z" fill="#98c0a2" stroke="#98c0a2" stroke-width="0.6"/><path d="M645.2,542.4L635.4,548.2L631.3,542.9L640.8,537.2Z" fill="#7cae89" stroke="#7cae89" stroke-width="0.6"/><path d="M640.8,537.2L631.3,542.9L627.2,537.7L636.3,532.1Z" fill="#8cb897" stroke="#8cb897" stroke-width="0.6"/><path d="M636.3,532.1L627.2,537.7L623.2,532.4L631.9,527.0Z" fill="#9cc3a5" stroke="#9cc3a5" stroke-width="0.6"/><path d="M631.9,527.0L623.2,532.4L619.1,527.1L627.5,521.8Z" fill="#a2c7ac" stroke="#a2c7ac" stroke-width="0.6"/><path d="M627.5,521.8L619.1,527.1L615.0,521.9L623.1,516.7Z" fill="#abccb4" stroke="#abccb4" stroke-width="0.6"/><path d="M623.1,516.7L615.0,521.9L611.0,516.6L618.7,511.6Z" fill="#b2d0bb" stroke="#b2d0bb" stroke-width="0.6"/><path d="M618.7,511.6L611.0,516.6L606.9,511.4L614.2,506.4Z" fill="#b5d2be" stroke="#b5d2be" stroke-width="0.6"/><path d="M614.2,506.4L606.9,511.4L602.8,506.1L609.8,501.3Z" fill="#b3d1bc" stroke="#b3d1bc" stroke-width="0.6"/><path d="M609.8,501.3L602.8,506.1L598.8,500.9L605.4,496.2Z" fill="#accdb5" stroke="#accdb5" stroke-width="0.6"/><path d="M605.4,496.2L598.8,500.9L594.7,495.6L601.0,491.0Z" fill="#a4c8ad" stroke="#a4c8ad" stroke-width="0.6"/><path d="M601.0,491.0L594.7,495.6L590.6,490.4L596.6,485.9Z" fill="#9dc3a6" stroke="#9dc3a6" stroke-width="0.6"/><path d="M596.6,485.9L590.6,490.4L586.6,485.1L592.1,480.8Z" fill="#98c0a2" stroke="#98c0a2" stroke-width="0.6"/><path d="M635.4,548.2L625.2,553.3L621.5,547.9L631.3,542.9Z" fill="#7cae89" stroke="#7cae89" stroke-width="0.6"/><path d="M631.3,542.9L621.5,547.9L617.8,542.6L627.2,537.7Z" fill="#8cb897" stroke="#8cb897" stroke-width="0.6"/><path d="M627.2,537.7L617.8,542.6L614.1,537.2L623.2,532.4Z" fill="#9bc3a5" stroke="#9bc3a5" stroke-width="0.6"/><path d="M623.2,532.4L614.1,537.2L610.4,531.9L619.1,527.1Z" fill="#a2c7ab" stroke="#a2c7ab" stroke-width="0.6"/><path d="M619.1,527.1L610.4,531.9L606.7,526.5L615.0,521.9Z" fill="#aaccb3" stroke="#aaccb3" stroke-width="0.6"/><path d="M615.0,521.9L606.7,526.5L603.0,521.2L611.0,516.6Z" fill="#b1d0ba" stroke="#b1d0ba" stroke-width="0.6"/><path d="M611.0,516.6L603.0,521.2L599.3,515.8L606.9,511.4Z" fill="#b5d2bd" stroke="#b5d2bd" stroke-width="0.6"/><path d="M606.9,511.4L599.3,515.8L595.6,510.5L602.8,506.1Z" fill="#b2d1bb" stroke="#b2d1bb" stroke-width="0.6"/><path d="M602.8,506.1L595.6,510.5L591.9,505.1L598.8,500.9Z" fill="#accdb5" stroke="#accdb5" stroke-width="0.6"/><path d="M598.8,500.9L591.9,505.1L588.2,499.8L594.7,495.6Z" fill="#a4c7ad" stroke="#a4c7ad" stroke-width="0.6"/><path d="M594.7,495.6L588.2,499.8L584.5,494.4L590.6,490.4Z" fill="#9dc3a6" stroke="#9dc3a6" stroke-width="0.6"/><path d="M590.6,490.4L584.5,494.4L580.8,489.1L586.6,485.1Z" fill="#98c0a2" stroke="#98c0a2" stroke-width="0.6"/><path d="M625.2,553.3L614.9,557.6L611.5,552.2L621.5,547.9Z" fill="#7cae89" stroke="#7cae89" stroke-width="0.6"/><path d="M621.5,547.9L611.5,552.2L608.2,546.8L617.8,542.6Z" fill="#8cb897" stroke="#8cb897" stroke-width="0.6"/><path d="M617.8,542.6L608.2,546.8L604.9,541.4L614.1,537.2Z" fill="#9bc2a5" stroke="#9bc2a5" stroke-width="0.6"/><path d="M614.1,537.2L604.9,541.4L601.5,536.0L610.4,531.9Z" fill="#a2c6ab" stroke="#a2c6ab" stroke-width="0.6"/><path d="M610.4,531.9L601.5,536.0L598.2,530.6L606.7,526.5Z" fill="#aacbb3" stroke="#aacbb3" stroke-width="0.6"/><path d="M606.7,526.5L598.2,530.6L594.8,525.2L603.0,521.2Z" fill="#b1d0ba" stroke="#b1d0ba" stroke-width="0.6"/><path d="M603.0,521.2L594.8,525.2L591.5,519.8L599.3,515.8Z" fill="#b4d2bd" stroke="#b4d2bd" stroke-width="0.6"/><path d="M599.3,515.8L591.5,519.8L588.2,514.4L595.6,510.5Z" fill="#b2d0bb" stroke="#b2d0bb" stroke-width="0.6"/><path d="M595.6,510.5L588.2,514.4L584.8,509.0L591.9,505.1Z" fill="#abccb4" stroke="#abccb4" stroke-width="0.6"/><path d="M591.9,505.1L584.8,509.0L581.5,503.6L588.2,499.8Z" fill="#a3c7ad" stroke="#a3c7ad" stroke-width="0.6"/><path d="M588.2,499.8L581.5,503.6L578.2,498.2L584.5,494.4Z" fill="#9cc3a6" stroke="#9cc3a6" stroke-width="0.6"/><path d="M584.5,494.4L578.2,498.2L574.8,492.8L580.8,489.1Z" fill="#98c0a2" stroke="#98c0a2" stroke-width="0.6"/><path d="M614.9,557.6L604.3,561.4L601.4,555.9L611.5,552.2Z" fill="#7cae89" stroke="#7cae89" stroke-width="0.6"/><path d="M611.5,552.2L601.4,555.9L598.4,550.5L608.2,546.8Z" fill="#8cb897" stroke="#8cb897" stroke-width="0.6"/><path d="M608.2,546.8L598.4,550.5L595.4,545.1L604.9,541.4Z" fill="#9bc2a5" stroke="#9bc2a5" stroke-width="0.6"/><path d="M604.9,541.4L595.4,545.1L592.4,539.6L601.5,536.0Z" fill="#a1c6ab" stroke="#a1c6ab" stroke-width="0.6"/><path d="M601.5,536.0L592.4,539.6L589.5,534.2L598.2,530.6Z" fill="#a9cbb2" stroke="#a9cbb2" stroke-width="0.6"/><path d="M598.2,530.6L589.5,534.2L586.5,528.8L594.8,525.2Z" fill="#b0cfb9" stroke="#b0cfb9" stroke-width="0.6"/><path d="M594.8,525.2L586.5,528.8L583.5,523.3L591.5,519.8Z" fill="#b3d1bc" stroke="#b3d1bc" stroke-width="0.6"/><path d="M591.5,519.8L583.5,523.3L580.6,517.9L588.2,514.4Z" fill="#b1d0ba" stroke="#b1d0ba" stroke-width="0.6"/><path d="M588.2,514.4L580.6,517.9L577.6,512.5L584.8,509.0Z" fill="#abccb4" stroke="#abccb4" stroke-width="0.6"/><path d="M584.8,509.0L577.6,512.5L574.6,507.0L581.5,503.6Z" fill="#a3c7ac" stroke="#a3c7ac" stroke-width="0.6"/><path d="M581.5,503.6L574.6,507.0L571.6,501.6L578.2,498.2Z" fill="#9cc3a6" stroke="#9cc3a6" stroke-width="0.6"/><path d="M578.2,498.2L571.6,501.6L568.7,496.2L574.8,492.8Z" fill="#98c0a2" stroke="#98c0a2" stroke-width="0.6"/><path d="M604.3,561.4L593.7,564.5L591.1,559.0L601.4,555.9Z" fill="#7dae8a" stroke="#7dae8a" stroke-width="0.6"/><path d="M601.4,555.9L591.1,559.0L588.5,553.6L598.4,550.5Z" fill="#8cb897" stroke="#8cb897" stroke-width="0.6"/><path d="M598.4,550.5L588.5,553.6L585.9,548.1L595.4,545.1Z" fill="#9bc2a4" stroke="#9bc2a4" stroke-width="0.6"/><path d="M595.4,545.1L585.9,548.1L583.3,542.7L592.4,539.6Z" fill="#a1c6aa" stroke="#a1c6aa" stroke-width="0.6"/><path d="M592.4,539.6L583.3,542.7L580.6,537.3L589.5,534.2Z" fill="#a9cbb2" stroke="#a9cbb2" stroke-width="0.6"/><path d="M589.5,534.2L580.6,537.3L578.0,531.8L586.5,528.8Z" fill="#b0cfb8" stroke="#b0cfb8" stroke-width="0.6"/><path d="M586.5,528.8L578.0,531.8L575.4,526.4L583.5,523.3Z" fill="#b3d1bb" stroke="#b3d1bb" stroke-width="0.6"/><path d="M583.5,523.3L575.4,526.4L572.8,520.9L580.6,517.9Z" fill="#b1cfb9" stroke="#b1cfb9" stroke-width="0.6"/><path d="M580.6,517.9L572.8,520.9L570.2,515.5L577.6,512.5Z" fill="#aaccb3" stroke="#aaccb3" stroke-width="0.6"/><path d="M577.6,512.5L570.2,515.5L567.6,510.1L574.6,507.0Z" fill="#a3c7ac" stroke="#a3c7ac" stroke-width="0.6"/><path d="M574.6,507.0L567.6,510.1L565.0,504.6L571.6,501.6Z" fill="#9cc3a5" stroke="#9cc3a5" stroke-width="0.6"/><path d="M571.6,501.6L565.0,504.6L562.3,499.2L568.7,496.2Z" fill="#98c0a1" stroke="#98c0a1" stroke-width="0.6"/><path d="M593.7,564.5L583.0,567.0L580.8,561.5L591.1,559.0Z" fill="#7eaf8b" stroke="#7eaf8b" stroke-width="0.6"/><path d="M591.1,559.0L580.8,561.5L578.5,556.1L588.5,553.6Z" fill="#8db897" stroke="#8db897" stroke-width="0.6"/><path d="M588.5,553.6L578.5,556.1L576.3,550.7L585.9,548.1Z" fill="#9bc2a4" stroke="#9bc2a4" stroke-width="0.6"/><path d="M585.9,548.1L576.3,550.7L574.0,545.3L583.3,542.7Z" fill="#a1c6aa" stroke="#a1c6aa" stroke-width="0.6"/><path d="M583.3,542.7L574.0,545.3L571.7,539.8L580.6,537.3Z" fill="#a8cab1" stroke="#a8cab1" stroke-width="0.6"/><path d="M580.6,537.3L571.7,539.8L569.5,534.4L578.0,531.8Z" fill="#afceb7" stroke="#afceb7" stroke-width="0.6"/><path d="M578.0,531.8L569.5,534.4L567.2,529.0L575.4,526.4Z" fill="#b2d0ba" stroke="#b2d0ba" stroke-width="0.6"/><path d="M575.4,526.4L567.2,529.0L564.9,523.6L572.8,520.9Z" fill="#b0cfb8" stroke="#b0cfb8" stroke-width="0.6"/><path d="M572.8,520.9L564.9,523.6L562.7,518.1L570.2,515.5Z" fill="#aacbb2" stroke="#aacbb2" stroke-width="0.6"/><path d="M570.2,515.5L562.7,518.1L560.4,512.7L567.6,510.1Z" fill="#a2c6ab" stroke="#a2c6ab" stroke-width="0.6"/><path d="M567.6,510.1L560.4,512.7L558.2,507.3L565.0,504.6Z" fill="#9cc2a5" stroke="#9cc2a5" stroke-width="0.6"/><path d="M565.0,504.6L558.2,507.3L555.9,501.9L562.3,499.2Z" fill="#97c0a1" stroke="#97c0a1" stroke-width="0.6"/><path d="M583.0,567.0L572.4,568.9L570.5,563.5L580.8,561.5Z" fill="#80af8b" stroke="#80af8b" stroke-width="0.6"/><path d="M580.8,561.5L570.5,563.5L568.5,558.1L578.5,556.1Z" fill="#8db997" stroke="#8db997" stroke-width="0.6"/><path d="M578.5,556.1L568.5,558.1L566.6,552.8L576.3,550.7Z" fill="#9ac2a3" stroke="#9ac2a3" stroke-width="0.6"/><path d="M576.3,550.7L566.6,552.8L564.7,547.4L574.0,545.3Z" fill="#a0c5a9" stroke="#a0c5a9" stroke-width="0.6"/><path d="M574.0,545.3L564.7,547.4L562.8,542.0L571.7,539.8Z" fill="#a8cab0" stroke="#a8cab0" stroke-width="0.6"/><path d="M571.7,539.8L562.8,542.0L560.9,536.6L569.5,534.4Z" fill="#aeceb7" stroke="#aeceb7" stroke-width="0.6"/><path d="M569.5,534.4L560.9,536.6L558.9,531.2L567.2,529.0Z" fill="#b1d0ba" stroke="#b1d0ba" stroke-width="0.6"/><path d="M567.2,529.0L558.9,531.2L557.0,525.8L564.9,523.6Z" fill="#afceb8" stroke="#afceb8" stroke-width="0.6"/><path d="M564.9,523.6L557.0,525.8L555.1,520.4L562.7,518.1Z" fill="#a9cbb2" stroke="#a9cbb2" stroke-width="0.6"/><path d="M562.7,518.1L555.1,520.4L553.2,515.0L560.4,512.7Z" fill="#a2c6ab" stroke="#a2c6ab" stroke-width="0.6"/><path d="M560.4,512.7L553.2,515.0L551.2,509.6L558.2,507.3Z" fill="#9bc2a4" stroke="#9bc2a4" stroke-width="0.6"/><path d="M558.2,507.3L551.2,509.6L549.3,504.2L555.9,501.9Z" fill="#97c0a0" stroke="#97c0a0" stroke-width="0.6"/><path d="M572.4,568.9L561.8,570.4L560.2,565.0L570.5,563.5Z" fill="#81b08c" stroke="#81b08c" stroke-width="0.6"/><path d="M570.5,563.5L560.2,565.0L558.6,559.7L568.5,558.1Z" fill="#8db997" stroke="#8db997" stroke-width="0.6"/><path d="M568.5,558.1L558.6,559.7L557.0,554.3L566.6,552.8Z" fill="#9ac1a3" stroke="#9ac1a3" stroke-width="0.6"/><path d="M566.6,552.8L557.0,554.3L555.4,549.0L564.7,547.4Z" fill="#a0c5a9" stroke="#a0c5a9" stroke-width="0.6"/><path d="M564.7,547.4L555.4,549.0L553.8,543.6L562.8,542.0Z" fill="#a7c9b0" stroke="#a7c9b0" stroke-width="0.6"/><path d="M562.8,542.0L553.8,543.6L552.2,538.3L560.9,536.6Z" fill="#aecdb6" stroke="#aecdb6" stroke-width="0.6"/><path d="M560.9,536.6L552.2,538.3L550.6,532.9L558.9,531.2Z" fill="#b1cfb9" stroke="#b1cfb9" stroke-width="0.6"/><path d="M558.9,531.2L550.6,532.9L549.0,527.6L557.0,525.8Z" fill="#afceb7" stroke="#afceb7" stroke-width="0.6"/><path d="M557.0,525.8L549.0,527.6L547.4,522.2L555.1,520.4Z" fill="#a9cab1" stroke="#a9cab1" stroke-width="0.6"/><path d="M555.1,520.4L547.4,522.2L545.8,516.9L553.2,515.0Z" fill="#a1c6aa" stroke="#a1c6aa" stroke-width="0.6"/><path d="M553.2,515.0L545.8,516.9L544.2,511.5L551.2,509.6Z" fill="#9bc2a4" stroke="#9bc2a4" stroke-width="0.6"/><path d="M551.2,509.6L544.2,511.5L542.6,506.2L549.3,504.2Z" fill="#97bfa0" stroke="#97bfa0" stroke-width="0.6"/><path d="M561.8,570.4L551.2,571.3L549.9,566.0L560.2,565.0Z" fill="#82b18d" stroke="#82b18d" stroke-width="0.6"/><path d="M560.2,565.0L549.9,566.0L548.6,560.7L558.6,559.7Z" fill="#8eb997" stroke="#8eb997" stroke-width="0.6"/><path d="M558.6,559.7L548.6,560.7L547.4,555.4L557.0,554.3Z" fill="#9ac1a2" stroke="#9ac1a2" stroke-width="0.6"/><path d="M557.0,554.3L547.4,555.4L546.1,550.1L555.4,549.0Z" fill="#a0c5a8" stroke="#a0c5a8" stroke-width="0.6"/><path d="M555.4,549.0L546.1,550.1L544.8,544.8L553.8,543.6Z" fill="#a7c9af" stroke="#a7c9af" stroke-width="0.6"/><path d="M553.8,543.6L544.8,544.8L543.5,539.6L552.2,538.3Z" fill="#adcdb5" stroke="#adcdb5" stroke-width="0.6"/><path d="M552.2,538.3L543.5,539.6L542.3,534.3L550.6,532.9Z" fill="#b0cfb8" stroke="#b0cfb8" stroke-width="0.6"/><path d="M550.6,532.9L542.3,534.3L541.0,529.0L549.0,527.6Z" fill="#aeceb6" stroke="#aeceb6" stroke-width="0.6"/><path d="M549.0,527.6L541.0,529.0L539.7,523.7L547.4,522.2Z" fill="#a8cab0" stroke="#a8cab0" stroke-width="0.6"/><path d="M547.4,522.2L539.7,523.7L538.4,518.4L545.8,516.9Z" fill="#a1c5a9" stroke="#a1c5a9" stroke-width="0.6"/><path d="M545.8,516.9L538.4,518.4L537.1,513.1L544.2,511.5Z" fill="#9bc2a3" stroke="#9bc2a3" stroke-width="0.6"/><path d="M544.2,511.5L537.1,513.1L535.9,507.8L542.6,506.2Z" fill="#97bf9f" stroke="#97bf9f" stroke-width="0.6"/><path d="M551.2,571.3L540.7,571.7L539.7,566.5L549.9,566.0Z" fill="#83b18d" stroke="#83b18d" stroke-width="0.6"/><path d="M549.9,566.0L539.7,566.5L538.8,561.3L548.6,560.7Z" fill="#8eb997" stroke="#8eb997" stroke-width="0.6"/><path d="M548.6,560.7L538.8,561.3L537.8,556.1L547.4,555.4Z" fill="#9ac1a2" stroke="#9ac1a2" stroke-width="0.6"/><path d="M547.4,555.4L537.8,556.1L536.8,550.8L546.1,550.1Z" fill="#9fc4a7" stroke="#9fc4a7" stroke-width="0.6"/><path d="M546.1,550.1L536.8,550.8L535.8,545.6L544.8,544.8Z" fill="#a6c9ae" stroke="#a6c9ae" stroke-width="0.6"/><path d="M544.8,544.8L535.8,545.6L534.9,540.4L543.5,539.6Z" fill="#adcdb4" stroke="#adcdb4" stroke-width="0.6"/><path d="M543.5,539.6L534.9,540.4L533.9,535.2L542.3,534.3Z" fill="#afceb7" stroke="#afceb7" stroke-width="0.6"/><path d="M542.3,534.3L533.9,535.2L532.9,530.0L541.0,529.0Z" fill="#aecdb5" stroke="#aecdb5" stroke-width="0.6"/><path d="M541.0,529.0L532.9,530.0L531.9,524.7L539.7,523.7Z" fill="#a8c9b0" stroke="#a8c9b0" stroke-width="0.6"/><path d="M539.7,523.7L531.9,524.7L531.0,519.5L538.4,518.4Z" fill="#a1c5a9" stroke="#a1c5a9" stroke-width="0.6"/><path d="M538.4,518.4L531.0,519.5L530.0,514.3L537.1,513.1Z" fill="#9bc1a3" stroke="#9bc1a3" stroke-width="0.6"/><path d="M537.1,513.1L530.0,514.3L529.0,509.1L535.9,507.8Z" fill="#97bf9f" stroke="#97bf9f" stroke-width="0.6"/><path d="M540.7,571.7L530.3,571.6L529.6,566.5L539.7,566.5Z" fill="#84b28e" stroke="#84b28e" stroke-width="0.6"/><path d="M539.7,566.5L529.6,566.5L529.0,561.4L538.8,561.3Z" fill="#8fb997" stroke="#8fb997" stroke-width="0.6"/><path d="M538.8,561.3L529.0,561.4L528.3,556.2L537.8,556.1Z" fill="#9ac0a1" stroke="#9ac0a1" stroke-width="0.6"/><path d="M537.8,556.1L528.3,556.2L527.6,551.1L536.8,550.8Z" fill="#9fc4a7" stroke="#9fc4a7" stroke-width="0.6"/><path d="M536.8,550.8L527.6,551.1L526.9,545.9L535.8,545.6Z" fill="#a6c8ae" stroke="#a6c8ae" stroke-width="0.6"/><path d="M535.8,545.6L526.9,545.9L526.2,540.8L534.9,540.4Z" fill="#acccb4" stroke="#acccb4" stroke-width="0.6"/><path d="M534.9,540.4L526.2,540.8L525.5,535.7L533.9,535.2Z" fill="#afceb6" stroke="#afceb6" stroke-width="0.6"/><path d="M533.9,535.2L525.5,535.7L524.9,530.5L532.9,530.0Z" fill="#adcdb4" stroke="#adcdb4" stroke-width="0.6"/><path d="M532.9,530.0L524.9,530.5L524.2,525.4L531.9,524.7Z" fill="#a7c9af" stroke="#a7c9af" stroke-width="0.6"/><path d="M531.9,524.7L524.2,525.4L523.5,520.3L531.0,519.5Z" fill="#a0c5a8" stroke="#a0c5a8" stroke-width="0.6"/><path d="M531.0,519.5L523.5,520.3L522.8,515.1L530.0,514.3Z" fill="#9ac1a2" stroke="#9ac1a2" stroke-width="0.6"/><path d="M530.0,514.3L522.8,515.1L522.1,510.0L529.0,509.1Z" fill="#97bf9e" stroke="#97bf9e" stroke-width="0.6"/><path d="M530.3,571.6L520.0,571.0L519.6,566.0L529.6,566.5Z" fill="#85b38f" stroke="#85b38f" stroke-width="0.6"/><path d="M529.6,566.5L519.6,566.0L519.2,561.0L529.0,561.4Z" fill="#8fb997" stroke="#8fb997" stroke-width="0.6"/><path d="M529.0,561.4L519.2,561.0L518.8,555.9L528.3,556.2Z" fill="#99c0a1" stroke="#99c0a1" stroke-width="0.6"/><path d="M528.3,556.2L518.8,555.9L518.4,550.9L527.6,551.1Z" fill="#9fc4a6" stroke="#9fc4a6" stroke-width="0.6"/><path d="M527.6,551.1L518.4,550.9L518.0,545.8L526.9,545.9Z" fill="#a5c8ad" stroke="#a5c8ad" stroke-width="0.6"/><path d="M526.9,545.9L518.0,545.8L517.6,540.8L526.2,540.8Z" fill="#abccb3" stroke="#abccb3" stroke-width="0.6"/><path d="M526.2,540.8L517.6,540.8L517.2,535.7L525.5,535.7Z" fill="#aecdb5" stroke="#aecdb5" stroke-width="0.6"/><path d="M525.5,535.7L517.2,535.7L516.8,530.7L524.9,530.5Z" fill="#acccb4" stroke="#acccb4" stroke-width="0.6"/><path d="M524.9,530.5L516.8,530.7L516.4,525.7L524.2,525.4Z" fill="#a7c9ae" stroke="#a7c9ae" stroke-width="0.6"/><path d="M524.2,525.4L516.4,525.7L516.0,520.6L523.5,520.3Z" fill="#a0c4a7" stroke="#a0c4a7" stroke-width="0.6"/><path d="M523.5,520.3L516.0,520.6L515.6,515.6L522.8,515.1Z" fill="#9ac1a2" stroke="#9ac1a2" stroke-width="0.6"/><path d="M522.8,515.1L515.6,515.6L515.2,510.5L522.1,510.0Z" fill="#96be9e" stroke="#96be9e" stroke-width="0.6"/><path d="M520.0,571.0L509.9,570.0L509.8,565.0L519.6,566.0Z" fill="#86b38f" stroke="#86b38f" stroke-width="0.6"/><path d="M519.6,566.0L509.8,565.0L509.6,560.1L519.2,561.0Z" fill="#8fb997" stroke="#8fb997" stroke-width="0.6"/><path d="M519.2,561.0L509.6,560.1L509.5,555.2L518.8,555.9Z" fill="#99c0a0" stroke="#99c0a0" stroke-width="0.6"/><path d="M518.8,555.9L509.5,555.2L509.4,550.2L518.4,550.9Z" fill="#9ec3a6" stroke="#9ec3a6" stroke-width="0.6"/><path d="M518.4,550.9L509.4,550.2L509.2,545.3L518.0,545.8Z" fill="#a5c7ac" stroke="#a5c7ac" stroke-width="0.6"/><path d="M518.0,545.8L509.2,545.3L509.1,540.3L517.6,540.8Z" fill="#abcbb2" stroke="#abcbb2" stroke-width="0.6"/><path d="M517.6,540.8L509.1,540.3L509.0,535.4L517.2,535.7Z" fill="#adcdb5" stroke="#adcdb5" stroke-width="0.6"/><path d="M517.2,535.7L509.0,535.4L508.8,530.5L516.8,530.7Z" fill="#acccb3" stroke="#acccb3" stroke-width="0.6"/><path d="M516.8,530.7L508.8,530.5L508.7,525.5L516.4,525.7Z" fill="#a6c8ad" stroke="#a6c8ad" stroke-width="0.6"/><path d="M516.4,525.7L508.7,525.5L508.6,520.6L516.0,520.6Z" fill="#a0c4a7" stroke="#a0c4a7" stroke-width="0.6"/><path d="M516.0,520.6L508.6,520.6L508.4,515.7L515.6,515.6Z" fill="#9ac1a1" stroke="#9ac1a1" stroke-width="0.6"/><path d="M515.6,515.6L508.4,515.7L508.3,510.7L515.2,510.5Z" fill="#96be9e" stroke="#96be9e" stroke-width="0.6"/><path d="M509.9,570.0L499.9,568.4L500.0,563.6L509.8,565.0Z" fill="#87b490" stroke="#87b490" stroke-width="0.6"/><path d="M509.8,565.0L500.0,563.6L500.1,558.8L509.6,560.1Z" fill="#90ba98" stroke="#90ba98" stroke-width="0.6"/><path d="M509.6,560.1L500.1,558.8L500.3,554.0L509.5,555.2Z" fill="#99c0a0" stroke="#99c0a0" stroke-width="0.6"/><path d="M509.5,555.2L500.3,554.0L500.4,549.1L509.4,550.2Z" fill="#9ec3a5" stroke="#9ec3a5" stroke-width="0.6"/><path d="M509.4,550.2L500.4,549.1L500.5,544.3L509.2,545.3Z" fill="#a4c7ab" stroke="#a4c7ab" stroke-width="0.6"/><path d="M509.2,545.3L500.5,544.3L500.6,539.5L509.1,540.3Z" fill="#aacbb1" stroke="#aacbb1" stroke-width="0.6"/><path d="M509.1,540.3L500.6,539.5L500.8,534.7L509.0,535.4Z" fill="#adccb4" stroke="#adccb4" stroke-width="0.6"/><path d="M509.0,535.4L500.8,534.7L500.9,529.8L508.8,530.5Z" fill="#abcbb2" stroke="#abcbb2" stroke-width="0.6"/><path d="M508.8,530.5L500.9,529.8L501.0,525.0L508.7,525.5Z" fill="#a6c8ad" stroke="#a6c8ad" stroke-width="0.6"/><path d="M508.7,525.5L501.0,525.0L501.1,520.2L508.6,520.6Z" fill="#9fc4a6" stroke="#9fc4a6" stroke-width="0.6"/><path d="M508.6,520.6L501.1,520.2L501.3,515.4L508.4,515.7Z" fill="#9ac0a1" stroke="#9ac0a1" stroke-width="0.6"/><path d="M508.4,515.7L501.3,515.4L501.4,510.5L508.3,510.7Z" fill="#96be9d" stroke="#96be9d" stroke-width="0.6"/><path d="M499.9,568.4L490.1,566.4L490.4,561.7L500.0,563.6Z" fill="#89b591" stroke="#89b591" stroke-width="0.6"/><path d="M500.0,563.6L490.4,561.7L490.8,557.0L500.1,558.8Z" fill="#90ba98" stroke="#90ba98" stroke-width="0.6"/><path d="M500.1,558.8L490.8,557.0L491.2,552.3L500.3,554.0Z" fill="#99bf9f" stroke="#99bf9f" stroke-width="0.6"/><path d="M500.3,554.0L491.2,552.3L491.5,547.6L500.4,549.1Z" fill="#9ec3a4" stroke="#9ec3a4" stroke-width="0.6"/><path d="M500.4,549.1L491.5,547.6L491.9,542.9L500.5,544.3Z" fill="#a4c7ab" stroke="#a4c7ab" stroke-width="0.6"/><path d="M500.5,544.3L491.9,542.9L492.3,538.2L500.6,539.5Z" fill="#a9cab0" stroke="#a9cab0" stroke-width="0.6"/><path d="M500.6,539.5L492.3,538.2L492.7,533.5L500.8,534.7Z" fill="#acccb3" stroke="#acccb3" stroke-width="0.6"/><path d="M500.8,534.7L492.7,533.5L493.0,528.8L500.9,529.8Z" fill="#aacbb1" stroke="#aacbb1" stroke-width="0.6"/><path d="M500.9,529.8L493.0,528.8L493.4,524.1L501.0,525.0Z" fill="#a5c7ac" stroke="#a5c7ac" stroke-width="0.6"/><path d="M501.0,525.0L493.4,524.1L493.8,519.4L501.1,520.2Z" fill="#9fc3a6" stroke="#9fc3a6" stroke-width="0.6"/><path d="M501.1,520.2L493.8,519.4L494.1,514.7L501.3,515.4Z" fill="#99c0a0" stroke="#99c0a0" stroke-width="0.6"/><path d="M501.3,515.4L494.1,514.7L494.5,510.0L501.4,510.5Z" fill="#96be9d" stroke="#96be9d" stroke-width="0.6"/><path d="M490.1,566.4L480.4,564.0L481.0,559.4L490.4,561.7Z" fill="#8ab591" stroke="#8ab591" stroke-width="0.6"/><path d="M490.4,561.7L481.0,559.4L481.6,554.8L490.8,557.0Z" fill="#91ba98" stroke="#91ba98" stroke-width="0.6"/><path d="M490.8,557.0L481.6,554.8L482.2,550.2L491.2,552.3Z" fill="#98bf9f" stroke="#98bf9f" stroke-width="0.6"/><path d="M491.2,552.3L482.2,550.2L482.8,545.7L491.5,547.6Z" fill="#9dc2a4" stroke="#9dc2a4" stroke-width="0.6"/><path d="M491.5,547.6L482.8,545.7L483.5,541.1L491.9,542.9Z" fill="#a3c6aa" stroke="#a3c6aa" stroke-width="0.6"/><path d="M491.9,542.9L483.5,541.1L484.1,536.5L492.3,538.2Z" fill="#a9caaf" stroke="#a9caaf" stroke-width="0.6"/><path d="M492.3,538.2L484.1,536.5L484.7,532.0L492.7,533.5Z" fill="#abcbb2" stroke="#abcbb2" stroke-width="0.6"/><path d="M492.7,533.5L484.7,532.0L485.3,527.4L493.0,528.8Z" fill="#aacab0" stroke="#aacab0" stroke-width="0.6"/><path d="M493.0,528.8L485.3,527.4L485.9,522.8L493.4,524.1Z" fill="#a5c7ab" stroke="#a5c7ab" stroke-width="0.6"/><path d="M493.4,524.1L485.9,522.8L486.5,518.2L493.8,519.4Z" fill="#9ec3a5" stroke="#9ec3a5" stroke-width="0.6"/><path d="M493.8,519.4L486.5,518.2L487.1,513.7L494.1,514.7Z" fill="#99c0a0" stroke="#99c0a0" stroke-width="0.6"/><path d="M494.1,514.7L487.1,513.7L487.7,509.1L494.5,510.0Z" fill="#96bd9c" stroke="#96bd9c" stroke-width="0.6"/><path d="M480.4,564.0L471.0,561.1L471.8,556.6L481.0,559.4Z" fill="#8bb692" stroke="#8bb692" stroke-width="0.6"/><path d="M481.0,559.4L471.8,556.6L472.7,552.2L481.6,554.8Z" fill="#91ba98" stroke="#91ba98" stroke-width="0.6"/><path d="M481.6,554.8L472.7,552.2L473.5,547.8L482.2,550.2Z" fill="#98bf9e" stroke="#98bf9e" stroke-width="0.6"/><path d="M482.2,550.2L473.5,547.8L474.3,543.3L482.8,545.7Z" fill="#9dc2a3" stroke="#9dc2a3" stroke-width="0.6"/><path d="M482.8,545.7L474.3,543.3L475.1,538.9L483.5,541.1Z" fill="#a3c6a9" stroke="#a3c6a9" stroke-width="0.6"/><path d="M483.5,541.1L475.1,538.9L476.0,534.4L484.1,536.5Z" fill="#a8c9af" stroke="#a8c9af" stroke-width="0.6"/><path d="M484.1,536.5L476.0,534.4L476.8,530.0L484.7,532.0Z" fill="#abcbb1" stroke="#abcbb1" stroke-width="0.6"/><path d="M484.7,532.0L476.8,530.0L477.6,525.6L485.3,527.4Z" fill="#a9caaf" stroke="#a9caaf" stroke-width="0.6"/><path d="M485.3,527.4L477.6,525.6L478.4,521.1L485.9,522.8Z" fill="#a4c6aa" stroke="#a4c6aa" stroke-width="0.6"/><path d="M485.9,522.8L478.4,521.1L479.3,516.7L486.5,518.2Z" fill="#9ec3a4" stroke="#9ec3a4" stroke-width="0.6"/><path d="M486.5,518.2L479.3,516.7L480.1,512.3L487.1,513.7Z" fill="#99bf9f" stroke="#99bf9f" stroke-width="0.6"/><path d="M487.1,513.7L480.1,512.3L480.9,507.8L487.7,509.1Z" fill="#96bd9c" stroke="#96bd9c" stroke-width="0.6"/><path d="M471.0,561.1L461.8,557.7L462.8,553.4L471.8,556.6Z" fill="#8cb793" stroke="#8cb793" stroke-width="0.6"/><path d="M471.8,556.6L462.8,553.4L463.9,549.1L472.7,552.2Z" fill="#91ba98" stroke="#91ba98" stroke-width="0.6"/><path d="M472.7,552.2L463.9,549.1L464.9,544.9L473.5,547.8Z" fill="#98bf9e" stroke="#98bf9e" stroke-width="0.6"/><path d="M473.5,547.8L464.9,544.9L465.9,540.6L474.3,543.3Z" fill="#9dc2a3" stroke="#9dc2a3" stroke-width="0.6"/><path d="M474.3,543.3L465.9,540.6L467.0,536.3L475.1,538.9Z" fill="#a2c5a9" stroke="#a2c5a9" stroke-width="0.6"/><path d="M475.1,538.9L467.0,536.3L468.0,532.0L476.0,534.4Z" fill="#a8c9ae" stroke="#a8c9ae" stroke-width="0.6"/><path d="M476.0,534.4L468.0,532.0L469.1,527.7L476.8,530.0Z" fill="#aacab0" stroke="#aacab0" stroke-width="0.6"/><path d="M476.8,530.0L469.1,527.7L470.1,523.4L477.6,525.6Z" fill="#a8c9af" stroke="#a8c9af" stroke-width="0.6"/><path d="M477.6,525.6L470.1,523.4L471.1,519.1L478.4,521.1Z" fill="#a4c6aa" stroke="#a4c6aa" stroke-width="0.6"/><path d="M478.4,521.1L471.1,519.1L472.2,514.8L479.3,516.7Z" fill="#9ec2a4" stroke="#9ec2a4" stroke-width="0.6"/><path d="M479.3,516.7L472.2,514.8L473.2,510.5L480.1,512.3Z" fill="#99bf9f" stroke="#99bf9f" stroke-width="0.6"/><path d="M480.1,512.3L473.2,510.5L474.2,506.2L480.9,507.8Z" fill="#95bd9b" stroke="#95bd9b" stroke-width="0.6"/><path d="M461.8,557.7L452.9,554.0L454.1,549.8L462.8,553.4Z" fill="#8db793" stroke="#8db793" stroke-width="0.6"/><path d="M462.8,553.4L454.1,549.8L455.3,545.7L463.9,549.1Z" fill="#92ba98" stroke="#92ba98" stroke-width="0.6"/><path d="M463.9,549.1L455.3,545.7L456.6,541.5L464.9,544.9Z" fill="#98be9d" stroke="#98be9d" stroke-width="0.6"/><path d="M464.9,544.9L456.6,541.5L457.8,537.4L465.9,540.6Z" fill="#9cc1a2" stroke="#9cc1a2" stroke-width="0.6"/><path d="M465.9,540.6L457.8,537.4L459.0,533.3L467.0,536.3Z" fill="#a2c5a8" stroke="#a2c5a8" stroke-width="0.6"/><path d="M467.0,536.3L459.0,533.3L460.3,529.1L468.0,532.0Z" fill="#a7c8ad" stroke="#a7c8ad" stroke-width="0.6"/><path d="M468.0,532.0L460.3,529.1L461.5,525.0L469.1,527.7Z" fill="#a9caaf" stroke="#a9caaf" stroke-width="0.6"/><path d="M469.1,527.7L461.5,525.0L462.7,520.8L470.1,523.4Z" fill="#a8c9ae" stroke="#a8c9ae" stroke-width="0.6"/><path d="M470.1,523.4L462.7,520.8L463.9,516.7L471.1,519.1Z" fill="#a3c6a9" stroke="#a3c6a9" stroke-width="0.6"/><path d="M471.1,519.1L463.9,516.7L465.2,512.5L472.2,514.8Z" fill="#9dc2a3" stroke="#9dc2a3" stroke-width="0.6"/><path d="M472.2,514.8L465.2,512.5L466.4,508.4L473.2,510.5Z" fill="#98bf9e" stroke="#98bf9e" stroke-width="0.6"/><path d="M473.2,510.5L466.4,508.4L467.6,504.3L474.2,506.2Z" fill="#95bd9b" stroke="#95bd9b" stroke-width="0.6"/><path d="M452.9,554.0L444.2,549.8L445.6,545.8L454.1,549.8Z" fill="#8eb894" stroke="#8eb894" stroke-width="0.6"/><path d="M454.1,549.8L445.6,545.8L447.0,541.8L455.3,545.7Z" fill="#92bb98" stroke="#92bb98" stroke-width="0.6"/><path d="M455.3,545.7L447.0,541.8L448.4,537.9L456.6,541.5Z" fill="#97be9d" stroke="#97be9d" stroke-width="0.6"/><path d="M456.6,541.5L448.4,537.9L449.8,533.9L457.8,537.4Z" fill="#9cc1a1" stroke="#9cc1a1" stroke-width="0.6"/><path d="M457.8,537.4L449.8,533.9L451.3,529.9L459.0,533.3Z" fill="#a1c4a7" stroke="#a1c4a7" stroke-width="0.6"/><path d="M459.0,533.3L451.3,529.9L452.7,525.9L460.3,529.1Z" fill="#a6c8ac" stroke="#a6c8ac" stroke-width="0.6"/><path d="M460.3,529.1L452.7,525.9L454.1,521.9L461.5,525.0Z" fill="#a9c9ae" stroke="#a9c9ae" stroke-width="0.6"/><path d="M461.5,525.0L454.1,521.9L455.5,517.9L462.7,520.8Z" fill="#a7c8ad" stroke="#a7c8ad" stroke-width="0.6"/><path d="M462.7,520.8L455.5,517.9L456.9,513.9L463.9,516.7Z" fill="#a3c5a8" stroke="#a3c5a8" stroke-width="0.6"/><path d="M463.9,516.7L456.9,513.9L458.3,509.9L465.2,512.5Z" fill="#9dc2a2" stroke="#9dc2a2" stroke-width="0.6"/><path d="M465.2,512.5L458.3,509.9L459.8,506.0L466.4,508.4Z" fill="#98bf9e" stroke="#98bf9e" stroke-width="0.6"/><path d="M466.4,508.4L459.8,506.0L461.2,502.0L467.6,504.3Z" fill="#95bc9a" stroke="#95bc9a" stroke-width="0.6"/><path d="M444.2,549.8L435.7,545.3L437.3,541.4L445.6,545.8Z" fill="#8fb995" stroke="#8fb995" stroke-width="0.6"/><path d="M445.6,545.8L437.3,541.4L438.9,537.6L447.0,541.8Z" fill="#93bb98" stroke="#93bb98" stroke-width="0.6"/><path d="M447.0,541.8L438.9,537.6L440.5,533.8L448.4,537.9Z" fill="#97be9c" stroke="#97be9c" stroke-width="0.6"/><path d="M448.4,537.9L440.5,533.8L442.1,530.0L449.8,533.9Z" fill="#9cc1a1" stroke="#9cc1a1" stroke-width="0.6"/><path d="M449.8,533.9L442.1,530.0L443.7,526.1L451.3,529.9Z" fill="#a1c4a6" stroke="#a1c4a6" stroke-width="0.6"/><path d="M451.3,529.9L443.7,526.1L445.3,522.3L452.7,525.9Z" fill="#a6c7ab" stroke="#a6c7ab" stroke-width="0.6"/><path d="M452.7,525.9L445.3,522.3L446.9,518.5L454.1,521.9Z" fill="#a8c9ad" stroke="#a8c9ad" stroke-width="0.6"/><path d="M454.1,521.9L446.9,518.5L448.5,514.7L455.5,517.9Z" fill="#a6c8ac" stroke="#a6c8ac" stroke-width="0.6"/><path d="M455.5,517.9L448.5,514.7L450.1,510.8L456.9,513.9Z" fill="#a2c5a7" stroke="#a2c5a7" stroke-width="0.6"/><path d="M456.9,513.9L450.1,510.8L451.7,507.0L458.3,509.9Z" fill="#9dc1a2" stroke="#9dc1a2" stroke-width="0.6"/><path d="M458.3,509.9L451.7,507.0L453.3,503.2L459.8,506.0Z" fill="#98be9d" stroke="#98be9d" stroke-width="0.6"/><path d="M459.8,506.0L453.3,503.2L454.9,499.4L461.2,502.0Z" fill="#95bc9a" stroke="#95bc9a" stroke-width="0.6"/><path d="M435.7,545.3L427.6,540.3L429.4,536.7L437.3,541.4Z" fill="#91b995" stroke="#91b995" stroke-width="0.6"/><path d="M437.3,541.4L429.4,536.7L431.1,533.0L438.9,537.6Z" fill="#93bb98" stroke="#93bb98" stroke-width="0.6"/><path d="M438.9,537.6L431.1,533.0L432.9,529.4L440.5,533.8Z" fill="#97bd9c" stroke="#97bd9c" stroke-width="0.6"/><path d="M440.5,533.8L432.9,529.4L434.6,525.7L442.1,530.0Z" fill="#9bc0a0" stroke="#9bc0a0" stroke-width="0.6"/><path d="M442.1,530.0L434.6,525.7L436.4,522.0L443.7,526.1Z" fill="#a0c4a6" stroke="#a0c4a6" stroke-width="0.6"/><path d="M443.7,526.1L436.4,522.0L438.2,518.4L445.3,522.3Z" fill="#a5c7aa" stroke="#a5c7aa" stroke-width="0.6"/><path d="M445.3,522.3L438.2,518.4L439.9,514.7L446.9,518.5Z" fill="#a7c8ad" stroke="#a7c8ad" stroke-width="0.6"/><path d="M446.9,518.5L439.9,514.7L441.7,511.1L448.5,514.7Z" fill="#a6c7ab" stroke="#a6c7ab" stroke-width="0.6"/><path d="M448.5,514.7L441.7,511.1L443.4,507.4L450.1,510.8Z" fill="#a1c4a7" stroke="#a1c4a7" stroke-width="0.6"/><path d="M450.1,510.8L443.4,507.4L445.2,503.7L451.7,507.0Z" fill="#9cc1a1" stroke="#9cc1a1" stroke-width="0.6"/><path d="M451.7,507.0L445.2,503.7L446.9,500.1L453.3,503.2Z" fill="#98be9c" stroke="#98be9c" stroke-width="0.6"/><path d="M453.3,503.2L446.9,500.1L448.7,496.4L454.9,499.4Z" fill="#95bc99" stroke="#95bc99" stroke-width="0.6"/><path d="M427.6,540.3L419.8,535.0L421.7,531.6L429.4,536.7Z" fill="#92ba96" stroke="#92ba96" stroke-width="0.6"/><path d="M429.4,536.7L421.7,531.6L423.6,528.1L431.1,533.0Z" fill="#94bb98" stroke="#94bb98" stroke-width="0.6"/><path d="M431.1,533.0L423.6,528.1L425.5,524.6L432.9,529.4Z" fill="#97bd9b" stroke="#97bd9b" stroke-width="0.6"/><path d="M432.9,529.4L425.5,524.6L427.4,521.1L434.6,525.7Z" fill="#9bc09f" stroke="#9bc09f" stroke-width="0.6"/><path d="M434.6,525.7L427.4,521.1L429.3,517.6L436.4,522.0Z" fill="#a0c3a5" stroke="#a0c3a5" stroke-width="0.6"/><path d="M436.4,522.0L429.3,517.6L431.2,514.1L438.2,518.4Z" fill="#a4c6a9" stroke="#a4c6a9" stroke-width="0.6"/><path d="M438.2,518.4L431.2,514.1L433.2,510.6L439.9,514.7Z" fill="#a6c7ac" stroke="#a6c7ac" stroke-width="0.6"/><path d="M439.9,514.7L433.2,510.6L435.1,507.1L441.7,511.1Z" fill="#a5c7aa" stroke="#a5c7aa" stroke-width="0.6"/><path d="M441.7,511.1L435.1,507.1L437.0,503.6L443.4,507.4Z" fill="#a1c4a6" stroke="#a1c4a6" stroke-width="0.6"/><path d="M443.4,507.4L437.0,503.6L438.9,500.1L445.2,503.7Z" fill="#9cc0a0" stroke="#9cc0a0" stroke-width="0.6"/><path d="M445.2,503.7L438.9,500.1L440.8,496.6L446.9,500.1Z" fill="#97be9c" stroke="#97be9c" stroke-width="0.6"/><path d="M446.9,500.1L440.8,496.6L442.7,493.1L448.7,496.4Z" fill="#95bc99" stroke="#95bc99" stroke-width="0.6"/><path d="M419.8,535.0L412.3,529.4L414.4,526.1L421.7,531.6Z" fill="#93ba97" stroke="#93ba97" stroke-width="0.6"/><path d="M421.7,531.6L414.4,526.1L416.4,522.8L423.6,528.1Z" fill="#94bb98" stroke="#94bb98" stroke-width="0.6"/><path d="M423.6,528.1L416.4,522.8L418.5,519.5L425.5,524.6Z" fill="#96bd9b" stroke="#96bd9b" stroke-width="0.6"/><path d="M425.5,524.6L418.5,519.5L420.5,516.1L427.4,521.1Z" fill="#9ac09f" stroke="#9ac09f" stroke-width="0.6"/><path d="M427.4,521.1L420.5,516.1L422.6,512.8L429.3,517.6Z" fill="#9fc3a4" stroke="#9fc3a4" stroke-width="0.6"/><path d="M429.3,517.6L422.6,512.8L424.6,509.5L431.2,514.1Z" fill="#a4c6a9" stroke="#a4c6a9" stroke-width="0.6"/><path d="M431.2,514.1L424.6,509.5L426.6,506.2L433.2,510.6Z" fill="#a6c7ab" stroke="#a6c7ab" stroke-width="0.6"/><path d="M433.2,510.6L426.6,506.2L428.7,502.9L435.1,507.1Z" fill="#a4c6a9" stroke="#a4c6a9" stroke-width="0.6"/><path d="M435.1,507.1L428.7,502.9L430.7,499.5L437.0,503.6Z" fill="#a0c3a5" stroke="#a0c3a5" stroke-width="0.6"/><path d="M437.0,503.6L430.7,499.5L432.8,496.2L438.9,500.1Z" fill="#9bc0a0" stroke="#9bc0a0" stroke-width="0.6"/><path d="M438.9,500.1L432.8,496.2L434.8,492.9L440.8,496.6Z" fill="#97bd9b" stroke="#97bd9b" stroke-width="0.6"/><path d="M440.8,496.6L434.8,492.9L436.9,489.6L442.7,493.1Z" fill="#94bc98" stroke="#94bc98" stroke-width="0.6"/><path d="M412.3,529.4L405.2,523.4L407.3,520.3L414.4,526.1Z" fill="#93ba97" stroke="#93ba97" stroke-width="0.6"/><path d="M414.4,526.1L407.3,520.3L409.5,517.2L416.4,522.8Z" fill="#94bb98" stroke="#94bb98" stroke-width="0.6"/><path d="M416.4,522.8L409.5,517.2L411.7,514.0L418.5,519.5Z" fill="#96bd9b" stroke="#96bd9b" stroke-width="0.6"/><path d="M418.5,519.5L411.7,514.0L413.9,510.9L420.5,516.1Z" fill="#9ac09f" stroke="#9ac09f" stroke-width="0.6"/><path d="M420.5,516.1L413.9,510.9L416.0,507.7L422.6,512.8Z" fill="#9fc3a4" stroke="#9fc3a4" stroke-width="0.6"/><path d="M422.6,512.8L416.0,507.7L418.2,504.6L424.6,509.5Z" fill="#a4c6a9" stroke="#a4c6a9" stroke-width="0.6"/><path d="M424.6,509.5L418.2,504.6L420.4,501.4L426.6,506.2Z" fill="#a6c7ab" stroke="#a6c7ab" stroke-width="0.6"/><path d="M426.6,506.2L420.4,501.4L422.6,498.3L428.7,502.9Z" fill="#a4c6a9" stroke="#a4c6a9" stroke-width="0.6"/><path d="M428.7,502.9L422.6,498.3L424.7,495.2L430.7,499.5Z" fill="#a0c3a5" stroke="#a0c3a5" stroke-width="0.6"/><path d="M430.7,499.5L424.7,495.2L426.9,492.0L432.8,496.2Z" fill="#9bc0a0" stroke="#9bc0a0" stroke-width="0.6"/><path d="M432.8,496.2L426.9,492.0L429.1,488.9L434.8,492.9Z" fill="#97bd9b" stroke="#97bd9b" stroke-width="0.6"/><path d="M434.8,492.9L429.1,488.9L431.3,485.7L436.9,489.6Z" fill="#94bc98" stroke="#94bc98" stroke-width="0.6"/><path d="M405.2,523.4L398.4,517.2L400.7,514.2L407.3,520.3Z" fill="#93ba97" stroke="#93ba97" stroke-width="0.6"/><path d="M407.3,520.3L400.7,514.2L403.0,511.2L409.5,517.2Z" fill="#94bb98" stroke="#94bb98" stroke-width="0.6"/><path d="M409.5,517.2L403.0,511.2L405.2,508.3L411.7,514.0Z" fill="#96bd9b" stroke="#96bd9b" stroke-width="0.6"/><path d="M411.7,514.0L405.2,508.3L407.5,505.3L413.9,510.9Z" fill="#9ac09f" stroke="#9ac09f" stroke-width="0.6"/><path d="M413.9,510.9L407.5,505.3L409.8,502.4L416.0,507.7Z" fill="#9fc3a4" stroke="#9fc3a4" stroke-width="0.6"/><path d="M416.0,507.7L409.8,502.4L412.1,499.4L418.2,504.6Z" fill="#a4c6a9" stroke="#a4c6a9" stroke-width="0.6"/><path d="M418.2,504.6L412.1,499.4L414.4,496.4L420.4,501.4Z" fill="#a6c7ab" stroke="#a6c7ab" stroke-width="0.6"/><path d="M420.4,501.4L414.4,496.4L416.7,493.5L422.6,498.3Z" fill="#a4c6a9" stroke="#a4c6a9" stroke-width="0.6"/><path d="M422.6,498.3L416.7,493.5L419.0,490.5L424.7,495.2Z" fill="#a0c3a5" stroke="#a0c3a5" stroke-width="0.6"/><path d="M424.7,495.2L419.0,490.5L421.3,487.5L426.9,492.0Z" fill="#9bc0a0" stroke="#9bc0a0" stroke-width="0.6"/><path d="M426.9,492.0L421.3,487.5L423.6,484.6L429.1,488.9Z" fill="#97bd9b" stroke="#97bd9b" stroke-width="0.6"/><path d="M429.1,488.9L423.6,484.6L425.8,481.6L431.3,485.7Z" fill="#94bc98" stroke="#94bc98" stroke-width="0.6"/><path d="M398.4,517.2L391.9,510.6L394.3,507.8L400.7,514.2Z" fill="#93ba97" stroke="#93ba97" stroke-width="0.6"/><path d="M400.7,514.2L394.3,507.8L396.7,505.0L403.0,511.2Z" fill="#94bb98" stroke="#94bb98" stroke-width="0.6"/><path d="M403.0,511.2L396.7,505.0L399.1,502.3L405.2,508.3Z" fill="#96bd9b" stroke="#96bd9b" stroke-width="0.6"/><path d="M405.2,508.3L399.1,502.3L401.5,499.5L407.5,505.3Z" fill="#9ac09f" stroke="#9ac09f" stroke-width="0.6"/><path d="M407.5,505.3L401.5,499.5L403.9,496.7L409.8,502.4Z" fill="#9fc3a4" stroke="#9fc3a4" stroke-width="0.6"/><path d="M409.8,502.4L403.9,496.7L406.3,493.9L412.1,499.4Z" fill="#a4c6a9" stroke="#a4c6a9" stroke-width="0.6"/><path d="M412.1,499.4L406.3,493.9L408.7,491.1L414.4,496.4Z" fill="#a6c7ab" stroke="#a6c7ab" stroke-width="0.6"/><path d="M414.4,496.4L408.7,491.1L411.1,488.3L416.7,493.5Z" fill="#a4c6a9" stroke="#a4c6a9" stroke-width="0.6"/><path d="M416.7,493.5L411.1,488.3L413.5,485.5L419.0,490.5Z" fill="#a0c3a5" stroke="#a0c3a5" stroke-width="0.6"/><path d="M419.0,490.5L413.5,485.5L415.9,482.8L421.3,487.5Z" fill="#9bc0a0" stroke="#9bc0a0" stroke-width="0.6"/><path d="M421.3,487.5L415.9,482.8L418.3,480.0L423.6,484.6Z" fill="#97bd9b" stroke="#97bd9b" stroke-width="0.6"/><path d="M423.6,484.6L418.3,480.0L420.7,477.2L425.8,481.6Z" fill="#94bc98" stroke="#94bc98" stroke-width="0.6"/><path d="M391.9,510.6L385.9,503.8L388.4,501.2L394.3,507.8Z" fill="#93ba97" stroke="#93ba97" stroke-width="0.6"/><path d="M394.3,507.8L388.4,501.2L390.8,498.6L396.7,505.0Z" fill="#94bb98" stroke="#94bb98" stroke-width="0.6"/><path d="M396.7,505.0L390.8,498.6L393.3,496.0L399.1,502.3Z" fill="#96bd9b" stroke="#96bd9b" stroke-width="0.6"/><path d="M399.1,502.3L393.3,496.0L395.8,493.4L401.5,499.5Z" fill="#9ac09f" stroke="#9ac09f" stroke-width="0.6"/><path d="M401.5,499.5L395.8,493.4L398.3,490.8L403.9,496.7Z" fill="#9fc3a4" stroke="#9fc3a4" stroke-width="0.6"/><path d="M403.9,496.7L398.3,490.8L400.8,488.2L406.3,493.9Z" fill="#a4c6a9" stroke="#a4c6a9" stroke-width="0.6"/><path d="M406.3,493.9L400.8,488.2L403.3,485.6L408.7,491.1Z" fill="#a6c7ab" stroke="#a6c7ab" stroke-width="0.6"/><path d="M408.7,491.1L403.3,485.6L405.8,482.9L411.1,488.3Z" fill="#a4c6a9" stroke="#a4c6a9" stroke-width="0.6"/><path d="M411.1,488.3L405.8,482.9L408.3,480.3L413.5,485.5Z" fill="#a0c3a5" stroke="#a0c3a5" stroke-width="0.6"/><path d="M413.5,485.5L408.3,480.3L410.8,477.7L415.9,482.8Z" fill="#9bc0a0" stroke="#9bc0a0" stroke-width="0.6"/><path d="M415.9,482.8L410.8,477.7L413.3,475.1L418.3,480.0Z" fill="#97bd9b" stroke="#97bd9b" stroke-width="0.6"/><path d="M418.3,480.0L413.3,475.1L415.7,472.5L420.7,477.2Z" fill="#94bc98" stroke="#94bc98" stroke-width="0.6"/><path d="M385.9,503.8L380.2,496.7L382.8,494.3L388.4,501.2Z" fill="#93ba97" stroke="#93ba97" stroke-width="0.6"/><path d="M388.4,501.2L382.8,494.3L385.3,491.8L390.8,498.6Z" fill="#94bb98" stroke="#94bb98" stroke-width="0.6"/><path d="M390.8,498.6L385.3,491.8L387.9,489.4L393.3,496.0Z" fill="#96bd9b" stroke="#96bd9b" stroke-width="0.6"/><path d="M393.3,496.0L387.9,489.4L390.5,487.0L395.8,493.4Z" fill="#9ac09f" stroke="#9ac09f" stroke-width="0.6"/><path d="M395.8,493.4L390.5,487.0L393.0,484.6L398.3,490.8Z" fill="#9fc3a4" stroke="#9fc3a4" stroke-width="0.6"/><path d="M398.3,490.8L393.0,484.6L395.6,482.2L400.8,488.2Z" fill="#a4c6a9" stroke="#a4c6a9" stroke-width="0.6"/><path d="M400.8,488.2L395.6,482.2L398.2,479.7L403.3,485.6Z" fill="#a6c7ab" stroke="#a6c7ab" stroke-width="0.6"/><path d="M403.3,485.6L398.2,479.7L400.8,477.3L405.8,482.9Z" fill="#a4c6a9" stroke="#a4c6a9" stroke-width="0.6"/><path d="M405.8,482.9L400.8,477.3L403.3,474.9L408.3,480.3Z" fill="#a0c3a5" stroke="#a0c3a5" stroke-width="0.6"/><path d="M408.3,480.3L403.3,474.9L405.9,472.5L410.8,477.7Z" fill="#9bc0a0" stroke="#9bc0a0" stroke-width="0.6"/><path d="M410.8,477.7L405.9,472.5L408.5,470.0L413.3,475.1Z" fill="#97bd9b" stroke="#97bd9b" stroke-width="0.6"/><path d="M413.3,475.1L408.5,470.0L411.1,467.6L415.7,472.5Z" fill="#94bc98" stroke="#94bc98" stroke-width="0.6"/><path d="M380.2,496.7L374.9,489.4L377.5,487.1L382.8,494.3Z" fill="#93ba97" stroke="#93ba97" stroke-width="0.6"/><path d="M382.8,494.3L377.5,487.1L380.2,484.9L385.3,491.8Z" fill="#94bb98" stroke="#94bb98" stroke-width="0.6"/><path d="M385.3,491.8L380.2,484.9L382.8,482.6L387.9,489.4Z" fill="#96bd9b" stroke="#96bd9b" stroke-width="0.6"/><path d="M387.9,489.4L382.8,482.6L385.5,480.4L390.5,487.0Z" fill="#9ac09f" stroke="#9ac09f" stroke-width="0.6"/><path d="M390.5,487.0L385.5,480.4L388.1,478.2L393.0,484.6Z" fill="#9fc3a4" stroke="#9fc3a4" stroke-width="0.6"/><path d="M393.0,484.6L388.1,478.2L390.8,475.9L395.6,482.2Z" fill="#a4c6a9" stroke="#a4c6a9" stroke-width="0.6"/><path d="M395.6,482.2L390.8,475.9L393.4,473.7L398.2,479.7Z" fill="#a6c7ab" stroke="#a6c7ab" stroke-width="0.6"/><path d="M398.2,479.7L393.4,473.7L396.1,471.4L400.8,477.3Z" fill="#a4c6a9" stroke="#a4c6a9" stroke-width="0.6"/><path d="M400.8,477.3L396.1,471.4L398.7,469.2L403.3,474.9Z" fill="#a0c3a5" stroke="#a0c3a5" stroke-width="0.6"/><path d="M403.3,474.9L398.7,469.2L401.3,467.0L405.9,472.5Z" fill="#9bc0a0" stroke="#9bc0a0" stroke-width="0.6"/><path d="M405.9,472.5L401.3,467.0L404.0,464.7L408.5,470.0Z" fill="#97bd9b" stroke="#97bd9b" stroke-width="0.6"/><path d="M408.5,470.0L404.0,464.7L406.6,462.5L411.1,467.6Z" fill="#94bc98" stroke="#94bc98" stroke-width="0.6"/><path d="M374.9,489.4L370.0,481.8L372.7,479.8L377.5,487.1Z" fill="#93ba97" stroke="#93ba97" stroke-width="0.6"/><path d="M377.5,487.1L372.7,479.8L375.4,477.7L380.2,484.9Z" fill="#94bb98" stroke="#94bb98" stroke-width="0.6"/><path d="M380.2,484.9L375.4,477.7L378.1,475.7L382.8,482.6Z" fill="#96bd9b" stroke="#96bd9b" stroke-width="0.6"/><path d="M382.8,482.6L378.1,475.7L380.8,473.6L385.5,480.4Z" fill="#9ac09f" stroke="#9ac09f" stroke-width="0.6"/><path d="M385.5,480.4L380.8,473.6L383.5,471.5L388.1,478.2Z" fill="#9fc3a4" stroke="#9fc3a4" stroke-width="0.6"/><path d="M388.1,478.2L383.5,471.5L386.3,469.5L390.8,475.9Z" fill="#a4c6a9" stroke="#a4c6a9" stroke-width="0.6"/><path d="M390.8,475.9L386.3,469.5L389.0,467.4L393.4,473.7Z" fill="#a6c7ab" stroke="#a6c7ab" stroke-width="0.6"/><path d="M393.4,473.7L389.0,467.4L391.7,465.4L396.1,471.4Z" fill="#a4c6a9" stroke="#a4c6a9" stroke-width="0.6"/><path d="M396.1,471.4L391.7,465.4L394.4,463.3L398.7,469.2Z" fill="#a0c3a5" stroke="#a0c3a5" stroke-width="0.6"/><path d="M398.7,469.2L394.4,463.3L397.1,461.3L401.3,467.0Z" fill="#9bc0a0" stroke="#9bc0a0" stroke-width="0.6"/><path d="M401.3,467.0L397.1,461.3L399.8,459.2L404.0,464.7Z" fill="#97bd9b" stroke="#97bd9b" stroke-width="0.6"/><path d="M404.0,464.7L399.8,459.2L402.5,457.1L406.6,462.5Z" fill="#94bc98" stroke="#94bc98" stroke-width="0.6"/><path d="M370.0,481.8L365.5,474.1L368.3,472.2L372.7,479.8Z" fill="#93ba97" stroke="#93ba97" stroke-width="0.6"/><path d="M372.7,479.8L368.3,472.2L371.0,470.4L375.4,477.7Z" fill="#94bb98" stroke="#94bb98" stroke-width="0.6"/><path d="M375.4,477.7L371.0,470.4L373.8,468.5L378.1,475.7Z" fill="#96bd9b" stroke="#96bd9b" stroke-width="0.6"/><path d="M378.1,475.7L373.8,468.5L376.6,466.6L380.8,473.6Z" fill="#9ac09f" stroke="#9ac09f" stroke-width="0.6"/><path d="M380.8,473.6L376.6,466.6L379.3,464.7L383.5,471.5Z" fill="#9fc3a4" stroke="#9fc3a4" stroke-width="0.6"/><path d="M383.5,471.5L379.3,464.7L382.1,462.8L386.3,469.5Z" fill="#a4c6a9" stroke="#a4c6a9" stroke-width="0.6"/><path d="M386.3,469.5L382.1,462.8L384.8,461.0L389.0,467.4Z" fill="#a6c7ab" stroke="#a6c7ab" stroke-width="0.6"/><path d="M389.0,467.4L384.8,461.0L387.6,459.1L391.7,465.4Z" fill="#a4c6a9" stroke="#a4c6a9" stroke-width="0.6"/><path d="M391.7,465.4L387.6,459.1L390.4,457.2L394.4,463.3Z" fill="#a0c3a5" stroke="#a0c3a5" stroke-width="0.6"/><path d="M394.4,463.3L390.4,457.2L393.1,455.3L397.1,461.3Z" fill="#9bc0a0" stroke="#9bc0a0" stroke-width="0.6"/><path d="M397.1,461.3L393.1,455.3L395.9,453.5L399.8,459.2Z" fill="#97bd9b" stroke="#97bd9b" stroke-width="0.6"/><path d="M399.8,459.2L395.9,453.5L398.6,451.6L402.5,457.1Z" fill="#94bc98" stroke="#94bc98" stroke-width="0.6"/><path d="M365.5,474.1L361.4,466.2L364.3,464.5L368.3,472.2Z" fill="#93ba97" stroke="#93ba97" stroke-width="0.6"/><path d="M368.3,472.2L364.3,464.5L367.1,462.8L371.0,470.4Z" fill="#94bb98" stroke="#94bb98" stroke-width="0.6"/><path d="M371.0,470.4L367.1,462.8L369.9,461.1L373.8,468.5Z" fill="#96bd9b" stroke="#96bd9b" stroke-width="0.6"/><path d="M373.8,468.5L369.9,461.1L372.7,459.4L376.6,466.6Z" fill="#9ac09f" stroke="#9ac09f" stroke-width="0.6"/><path d="M376.6,466.6L372.7,459.4L375.5,457.7L379.3,464.7Z" fill="#9fc3a4" stroke="#9fc3a4" stroke-width="0.6"/><path d="M379.3,464.7L375.5,457.7L378.3,456.0L382.1,462.8Z" fill="#a4c6a9" stroke="#a4c6a9" stroke-width="0.6"/><path d="M382.1,462.8L378.3,456.0L381.1,454.3L384.8,461.0Z" fill="#a6c7ab" stroke="#a6c7ab" stroke-width="0.6"/><path d="M384.8,461.0L381.1,454.3L383.9,452.6L387.6,459.1Z" fill="#a4c6a9" stroke="#a4c6a9" stroke-width="0.6"/><path d="M387.6,459.1L383.9,452.6L386.7,450.9L390.4,457.2Z" fill="#a0c3a5" stroke="#a0c3a5" stroke-width="0.6"/><path d="M390.4,457.2L386.7,450.9L389.5,449.2L393.1,455.3Z" fill="#9bc0a0" stroke="#9bc0a0" stroke-width="0.6"/><path d="M393.1,455.3L389.5,449.2L392.3,447.5L395.9,453.5Z" fill="#97bd9b" stroke="#97bd9b" stroke-width="0.6"/><path d="M395.9,453.5L392.3,447.5L395.1,445.8L398.6,451.6Z" fill="#94bc98" stroke="#94bc98" stroke-width="0.6"/><path d="M361.4,466.2L357.8,458.2L360.6,456.6L364.3,464.5Z" fill="#93ba97" stroke="#93ba97" stroke-width="0.6"/><path d="M364.3,464.5L360.6,456.6L363.5,455.1L367.1,462.8Z" fill="#94bb98" stroke="#94bb98" stroke-width="0.6"/><path d="M367.1,462.8L363.5,455.1L366.3,453.6L369.9,461.1Z" fill="#96bd9b" stroke="#96bd9b" stroke-width="0.6"/><path d="M369.9,461.1L366.3,453.6L369.1,452.1L372.7,459.4Z" fill="#9ac09f" stroke="#9ac09f" stroke-width="0.6"/><path d="M372.7,459.4L369.1,452.1L372.0,450.6L375.5,457.7Z" fill="#9fc3a4" stroke="#9fc3a4" stroke-width="0.6"/><path d="M375.5,457.7L372.0,450.6L374.8,449.0L378.3,456.0Z" fill="#a4c6a9" stroke="#a4c6a9" stroke-width="0.6"/><path d="M378.3,456.0L374.8,449.0L377.6,447.5L381.1,454.3Z" fill="#a6c7ab" stroke="#a6c7ab" stroke-width="0.6"/><path d="M381.1,454.3L377.6,447.5L380.5,446.0L383.9,452.6Z" fill="#a4c6a9" stroke="#a4c6a9" stroke-width="0.6"/><path d="M383.9,452.6L380.5,446.0L383.3,444.5L386.7,450.9Z" fill="#a0c3a5" stroke="#a0c3a5" stroke-width="0.6"/><path d="M386.7,450.9L383.3,444.5L386.2,443.0L389.5,449.2Z" fill="#9bc0a0" stroke="#9bc0a0" stroke-width="0.6"/><path d="M389.5,449.2L386.2,443.0L389.0,441.4L392.3,447.5Z" fill="#97bd9b" stroke="#97bd9b" stroke-width="0.6"/><path d="M392.3,447.5L389.0,441.4L391.8,439.9L395.1,445.8Z" fill="#94bc98" stroke="#94bc98" stroke-width="0.6"/><path d="M357.8,458.2L354.6,450.0L357.4,448.6L360.6,456.6Z" fill="#93ba97" stroke="#93ba97" stroke-width="0.6"/><path d="M360.6,456.6L357.4,448.6L360.3,447.3L363.5,455.1Z" fill="#94bb98" stroke="#94bb98" stroke-width="0.6"/><path d="M363.5,455.1L360.3,447.3L363.1,446.0L366.3,453.6Z" fill="#96bd9b" stroke="#96bd9b" stroke-width="0.6"/><path d="M366.3,453.6L363.1,446.0L366.0,444.6L369.1,452.1Z" fill="#9ac09f" stroke="#9ac09f" stroke-width="0.6"/><path d="M369.1,452.1L366.0,444.6L368.9,443.3L372.0,450.6Z" fill="#9fc3a4" stroke="#9fc3a4" stroke-width="0.6"/><path d="M372.0,450.6L368.9,443.3L371.7,441.9L374.8,449.0Z" fill="#a4c6a9" stroke="#a4c6a9" stroke-width="0.6"/><path d="M374.8,449.0L371.7,441.9L374.6,440.6L377.6,447.5Z" fill="#a6c7ab" stroke="#a6c7ab" stroke-width="0.6"/><path d="M377.6,447.5L374.6,440.6L377.4,439.2L380.5,446.0Z" fill="#a4c6a9" stroke="#a4c6a9" stroke-width="0.6"/><path d="M380.5,446.0L377.4,439.2L380.3,437.9L383.3,444.5Z" fill="#a0c3a5" stroke="#a0c3a5" stroke-width="0.6"/><path d="M383.3,444.5L380.3,437.9L383.2,436.5L386.2,443.0Z" fill="#9bc0a0" stroke="#9bc0a0" stroke-width="0.6"/><path d="M386.2,443.0L383.2,436.5L386.0,435.2L389.0,441.4Z" fill="#97bd9b" stroke="#97bd9b" stroke-width="0.6"/><path d="M389.0,441.4L386.0,435.2L388.9,433.9L391.8,439.9Z" fill="#94bc98" stroke="#94bc98" stroke-width="0.6"/><path d="M354.6,450.0L351.8,441.7L354.6,440.5L357.4,448.6Z" fill="#93ba97" stroke="#93ba97" stroke-width="0.6"/><path d="M357.4,448.6L354.6,440.5L357.5,439.4L360.3,447.3Z" fill="#94bb98" stroke="#94bb98" stroke-width="0.6"/><path d="M360.3,447.3L357.5,439.4L360.4,438.2L363.1,446.0Z" fill="#96bd9b" stroke="#96bd9b" stroke-width="0.6"/><path d="M363.1,446.0L360.4,438.2L363.3,437.0L366.0,444.6Z" fill="#9ac09f" stroke="#9ac09f" stroke-width="0.6"/><path d="M366.0,444.6L363.3,437.0L366.1,435.8L368.9,443.3Z" fill="#9fc3a4" stroke="#9fc3a4" stroke-width="0.6"/><path d="M368.9,443.3L366.1,435.8L369.0,434.7L371.7,441.9Z" fill="#a4c6a9" stroke="#a4c6a9" stroke-width="0.6"/><path d="M371.7,441.9L369.0,434.7L371.9,433.5L374.6,440.6Z" fill="#a6c7ab" stroke="#a6c7ab" stroke-width="0.6"/><path d="M374.6,440.6L371.9,433.5L374.8,432.3L377.4,439.2Z" fill="#a4c6a9" stroke="#a4c6a9" stroke-width="0.6"/><path d="M377.4,439.2L374.8,432.3L377.6,431.2L380.3,437.9Z" fill="#a0c3a5" stroke="#a0c3a5" stroke-width="0.6"/><path d="M380.3,437.9L377.6,431.2L380.5,430.0L383.2,436.5Z" fill="#9bc0a0" stroke="#9bc0a0" stroke-width="0.6"/><path d="M383.2,436.5L380.5,430.0L383.4,428.8L386.0,435.2Z" fill="#97bd9b" stroke="#97bd9b" stroke-width="0.6"/><path d="M386.0,435.2L383.4,428.8L386.3,427.7L388.9,433.9Z" fill="#94bc98" stroke="#94bc98" stroke-width="0.6"/><path d="M351.8,441.7L349.4,433.3L352.3,432.3L354.6,440.5Z" fill="#93ba97" stroke="#93ba97" stroke-width="0.6"/><path d="M354.6,440.5L352.3,432.3L355.2,431.3L357.5,439.4Z" fill="#94bb98" stroke="#94bb98" stroke-width="0.6"/><path d="M357.5,439.4L355.2,431.3L358.0,430.3L360.4,438.2Z" fill="#96bd9b" stroke="#96bd9b" stroke-width="0.6"/><path d="M360.4,438.2L358.0,430.3L360.9,429.3L363.3,437.0Z" fill="#9ac09f" stroke="#9ac09f" stroke-width="0.6"/><path d="M363.3,437.0L360.9,429.3L363.8,428.3L366.1,435.8Z" fill="#9fc3a4" stroke="#9fc3a4" stroke-width="0.6"/><path d="M366.1,435.8L363.8,428.3L366.7,427.3L369.0,434.7Z" fill="#a4c6a9" stroke="#a4c6a9" stroke-width="0.6"/><path d="M369.0,434.7L366.7,427.3L369.6,426.3L371.9,433.5Z" fill="#a6c7ab" stroke="#a6c7ab" stroke-width="0.6"/><path d="M371.9,433.5L369.6,426.3L372.4,425.3L374.8,432.3Z" fill="#a4c6a9" stroke="#a4c6a9" stroke-width="0.6"/><path d="M374.8,432.3L372.4,425.3L375.3,424.3L377.6,431.2Z" fill="#a0c3a5" stroke="#a0c3a5" stroke-width="0.6"/><path d="M377.6,431.2L375.3,424.3L378.2,423.3L380.5,430.0Z" fill="#9bc0a0" stroke="#9bc0a0" stroke-width="0.6"/><path d="M380.5,430.0L378.2,423.3L381.1,422.3L383.4,428.8Z" fill="#97bd9b" stroke="#97bd9b" stroke-width="0.6"/><path d="M383.4,428.8L381.1,422.3L383.9,421.3L386.3,427.7Z" fill="#94bc98" stroke="#94bc98" stroke-width="0.6"/><path d="M349.4,433.3L347.5,424.9L350.3,424.0L352.3,432.3Z" fill="#93ba97" stroke="#93ba97" stroke-width="0.6"/><path d="M352.3,432.3L350.3,424.0L353.2,423.2L355.2,431.3Z" fill="#94bb98" stroke="#94bb98" stroke-width="0.6"/><path d="M355.2,431.3L353.2,423.2L356.1,422.4L358.0,430.3Z" fill="#96bd9b" stroke="#96bd9b" stroke-width="0.6"/><path d="M358.0,430.3L356.1,422.4L359.0,421.5L360.9,429.3Z" fill="#9ac09f" stroke="#9ac09f" stroke-width="0.6"/><path d="M360.9,429.3L359.0,421.5L361.8,420.7L363.8,428.3Z" fill="#9fc3a4" stroke="#9fc3a4" stroke-width="0.6"/><path d="M363.8,428.3L361.8,420.7L364.7,419.9L366.7,427.3Z" fill="#a4c6a9" stroke="#a4c6a9" stroke-width="0.6"/><path d="M366.7,427.3L364.7,419.9L367.6,419.0L369.6,426.3Z" fill="#a6c7ab" stroke="#a6c7ab" stroke-width="0.6"/><path d="M369.6,426.3L367.6,419.0L370.5,418.2L372.4,425.3Z" fill="#a4c6a9" stroke="#a4c6a9" stroke-width="0.6"/><path d="M372.4,425.3L370.5,418.2L373.3,417.4L375.3,424.3Z" fill="#a0c3a5" stroke="#a0c3a5" stroke-width="0.6"/><path d="M375.3,424.3L373.3,417.4L376.2,416.5L378.2,423.3Z" fill="#9bc0a0" stroke="#9bc0a0" stroke-width="0.6"/><path d="M378.2,423.3L376.2,416.5L379.1,415.7L381.1,422.3Z" fill="#97bd9b" stroke="#97bd9b" stroke-width="0.6"/><path d="M381.1,422.3L379.1,415.7L382.0,414.9L383.9,421.3Z" fill="#94bc98" stroke="#94bc98" stroke-width="0.6"/><path d="M347.5,424.9L346.0,416.4L348.8,415.7L350.3,424.0Z" fill="#93ba97" stroke="#93ba97" stroke-width="0.6"/><path d="M350.3,424.0L348.8,415.7L351.7,415.0L353.2,423.2Z" fill="#94bb98" stroke="#94bb98" stroke-width="0.6"/><path d="M353.2,423.2L351.7,415.0L354.6,414.4L356.1,422.4Z" fill="#96bd9b" stroke="#96bd9b" stroke-width="0.6"/><path d="M356.1,422.4L354.6,414.4L357.4,413.7L359.0,421.5Z" fill="#9ac09f" stroke="#9ac09f" stroke-width="0.6"/><path d="M359.0,421.5L357.4,413.7L360.3,413.0L361.8,420.7Z" fill="#9fc3a4" stroke="#9fc3a4" stroke-width="0.6"/><path d="M361.8,420.7L360.3,413.0L363.1,412.4L364.7,419.9Z" fill="#a4c6a9" stroke="#a4c6a9" stroke-width="0.6"/><path d="M364.7,419.9L363.1,412.4L366.0,411.7L367.6,419.0Z" fill="#a6c7ab" stroke="#a6c7ab" stroke-width="0.6"/><path d="M367.6,419.0L366.0,411.7L368.9,411.0L370.5,418.2Z" fill="#a4c6a9" stroke="#a4c6a9" stroke-width="0.6"/><path d="M370.5,418.2L368.9,411.0L371.7,410.4L373.3,417.4Z" fill="#a0c3a5" stroke="#a0c3a5" stroke-width="0.6"/><path d="M373.3,417.4L371.7,410.4L374.6,409.7L376.2,416.5Z" fill="#9bc0a0" stroke="#9bc0a0" stroke-width="0.6"/><path d="M376.2,416.5L374.6,409.7L377.5,409.0L379.1,415.7Z" fill="#97bd9b" stroke="#97bd9b" stroke-width="0.6"/><path d="M379.1,415.7L377.5,409.0L380.3,408.4L382.0,414.9Z" fill="#94bc98" stroke="#94bc98" stroke-width="0.6"/><path d="M346.0,416.4L344.9,407.8L347.7,407.3L348.8,415.7Z" fill="#93ba97" stroke="#93ba97" stroke-width="0.6"/><path d="M348.8,415.7L347.7,407.3L350.6,406.8L351.7,415.0Z" fill="#94bb98" stroke="#94bb98" stroke-width="0.6"/><path d="M351.7,415.0L350.6,406.8L353.4,406.3L354.6,414.4Z" fill="#96bd9b" stroke="#96bd9b" stroke-width="0.6"/><path d="M354.6,414.4L353.4,406.3L356.3,405.8L357.4,413.7Z" fill="#9ac09f" stroke="#9ac09f" stroke-width="0.6"/><path d="M357.4,413.7L356.3,405.8L359.1,405.3L360.3,413.0Z" fill="#9fc3a4" stroke="#9fc3a4" stroke-width="0.6"/><path d="M360.3,413.0L359.1,405.3L362.0,404.8L363.1,412.4Z" fill="#a4c6a9" stroke="#a4c6a9" stroke-width="0.6"/><path d="M363.1,412.4L362.0,404.8L364.8,404.3L366.0,411.7Z" fill="#a6c7ab" stroke="#a6c7ab" stroke-width="0.6"/><path d="M366.0,411.7L364.8,404.3L367.7,403.8L368.9,411.0Z" fill="#a4c6a9" stroke="#a4c6a9" stroke-width="0.6"/><path d="M368.9,411.0L367.7,403.8L370.5,403.3L371.7,410.4Z" fill="#a0c3a5" stroke="#a0c3a5" stroke-width="0.6"/><path d="M371.7,410.4L370.5,403.3L373.3,402.8L374.6,409.7Z" fill="#9bc0a0" stroke="#9bc0a0" stroke-width="0.6"/><path d="M374.6,409.7L373.3,402.8L376.2,402.3L377.5,409.0Z" fill="#97bd9b" stroke="#97bd9b" stroke-width="0.6"/><path d="M377.5,409.0L376.2,402.3L379.0,401.8L380.3,408.4Z" fill="#94bc98" stroke="#94bc98" stroke-width="0.6"/><path d="M344.9,407.8L344.3,399.3L347.1,399.0L347.7,407.3Z" fill="#93ba97" stroke="#93ba97" stroke-width="0.6"/><path d="M347.7,407.3L347.1,399.0L349.9,398.6L350.6,406.8Z" fill="#94bb98" stroke="#94bb98" stroke-width="0.6"/><path d="M350.6,406.8L349.9,398.6L352.7,398.3L353.4,406.3Z" fill="#96bd9b" stroke="#96bd9b" stroke-width="0.6"/><path d="M353.4,406.3L352.7,398.3L355.5,397.9L356.3,405.8Z" fill="#9ac09f" stroke="#9ac09f" stroke-width="0.6"/><path d="M356.3,405.8L355.5,397.9L358.3,397.6L359.1,405.3Z" fill="#9fc3a4" stroke="#9fc3a4" stroke-width="0.6"/><path d="M359.1,405.3L358.3,397.6L361.2,397.2L362.0,404.8Z" fill="#a4c6a9" stroke="#a4c6a9" stroke-width="0.6"/><path d="M362.0,404.8L361.2,397.2L364.0,396.9L364.8,404.3Z" fill="#a6c7ab" stroke="#a6c7ab" stroke-width="0.6"/><path d="M364.8,404.3L364.0,396.9L366.8,396.5L367.7,403.8Z" fill="#a4c6a9" stroke="#a4c6a9" stroke-width="0.6"/><path d="M367.7,403.8L366.8,396.5L369.6,396.2L370.5,403.3Z" fill="#a0c3a5" stroke="#a0c3a5" stroke-width="0.6"/><path d="M370.5,403.3L369.6,396.2L372.4,395.8L373.3,402.8Z" fill="#9bc0a0" stroke="#9bc0a0" stroke-width="0.6"/><path d="M373.3,402.8L372.4,395.8L375.3,395.5L376.2,402.3Z" fill="#97bd9b" stroke="#97bd9b" stroke-width="0.6"/><path d="M376.2,402.3L375.3,395.5L378.1,395.1L379.0,401.8Z" fill="#94bc98" stroke="#94bc98" stroke-width="0.6"/><path d="M344.3,399.3L344.0,390.8L346.8,390.6L347.1,399.0Z" fill="#93ba97" stroke="#93ba97" stroke-width="0.6"/><path d="M347.1,399.0L346.8,390.6L349.6,390.4L349.9,398.6Z" fill="#94bb98" stroke="#94bb98" stroke-width="0.6"/><path d="M349.9,398.6L349.6,390.4L352.4,390.2L352.7,398.3Z" fill="#96bd9b" stroke="#96bd9b" stroke-width="0.6"/><path d="M352.7,398.3L352.4,390.2L355.2,390.0L355.5,397.9Z" fill="#9ac09f" stroke="#9ac09f" stroke-width="0.6"/><path d="M355.5,397.9L355.2,390.0L358.0,389.8L358.3,397.6Z" fill="#9fc3a4" stroke="#9fc3a4" stroke-width="0.6"/><path d="M358.3,397.6L358.0,389.8L360.7,389.6L361.2,397.2Z" fill="#a4c6a9" stroke="#a4c6a9" stroke-width="0.6"/><path d="M361.2,397.2L360.7,389.6L363.5,389.4L364.0,396.9Z" fill="#a6c7ab" stroke="#a6c7ab" stroke-width="0.6"/><path d="M364.0,396.9L363.5,389.4L366.3,389.2L366.8,396.5Z" fill="#a4c6a9" stroke="#a4c6a9" stroke-width="0.6"/><path d="M366.8,396.5L366.3,389.2L369.1,389.0L369.6,396.2Z" fill="#a0c3a5" stroke="#a0c3a5" stroke-width="0.6"/><path d="M369.6,396.2L369.1,389.0L371.9,388.8L372.4,395.8Z" fill="#9bc0a0" stroke="#9bc0a0" stroke-width="0.6"/><path d="M372.4,395.8L371.9,388.8L374.7,388.6L375.3,395.5Z" fill="#97bd9b" stroke="#97bd9b" stroke-width="0.6"/><path d="M375.3,395.5L374.7,388.6L377.4,388.4L378.1,395.1Z" fill="#94bc98" stroke="#94bc98" stroke-width="0.6"/><path d="M344.0,390.8L344.3,382.3L347.0,382.2L346.8,390.6Z" fill="#93ba97" stroke="#93ba97" stroke-width="0.6"/><path d="M346.8,390.6L347.0,382.2L349.8,382.2L349.6,390.4Z" fill="#94bb98" stroke="#94bb98" stroke-width="0.6"/><path d="M349.6,390.4L349.8,382.2L352.5,382.1L352.4,390.2Z" fill="#96bd9b" stroke="#96bd9b" stroke-width="0.6"/><path d="M352.4,390.2L352.5,382.1L355.2,382.1L355.2,390.0Z" fill="#9ac09f" stroke="#9ac09f" stroke-width="0.6"/><path d="M355.2,390.0L355.2,382.1L358.0,382.0L358.0,389.8Z" fill="#9fc3a4" stroke="#9fc3a4" stroke-width="0.6"/><path d="M358.0,389.8L358.0,382.0L360.7,382.0L360.7,389.6Z" fill="#a4c6a9" stroke="#a4c6a9" stroke-width="0.6"/><path d="M360.7,389.6L360.7,382.0L363.5,381.9L363.5,389.4Z" fill="#a6c7ab" stroke="#a6c7ab" stroke-width="0.6"/><path d="M363.5,389.4L363.5,381.9L366.2,381.9L366.3,389.2Z" fill="#a4c6a9" stroke="#a4c6a9" stroke-width="0.6"/><path d="M366.3,389.2L366.2,381.9L368.9,381.8L369.1,389.0Z" fill="#a0c3a5" stroke="#a0c3a5" stroke-width="0.6"/><path d="M369.1,389.0L368.9,381.8L371.7,381.8L371.9,388.8Z" fill="#9bc0a0" stroke="#9bc0a0" stroke-width="0.6"/><path d="M371.9,388.8L371.7,381.8L374.4,381.8L374.7,388.6Z" fill="#97bd9b" stroke="#97bd9b" stroke-width="0.6"/><path d="M374.7,388.6L374.4,381.8L377.2,381.7L377.4,388.4Z" fill="#94bc98" stroke="#94bc98" stroke-width="0.6"/><path d="M344.3,382.3L344.9,373.9L347.6,374.0L347.0,382.2Z" fill="#93ba97" stroke="#93ba97" stroke-width="0.6"/><path d="M347.0,382.2L347.6,374.0L350.3,374.0L349.8,382.2Z" fill="#94bb98" stroke="#94bb98" stroke-width="0.6"/><path d="M349.8,382.2L350.3,374.0L353.0,374.1L352.5,382.1Z" fill="#96bd9b" stroke="#96bd9b" stroke-width="0.6"/><path d="M352.5,382.1L353.0,374.1L355.7,374.2L355.2,382.1Z" fill="#9ac09f" stroke="#9ac09f" stroke-width="0.6"/><path d="M355.2,382.1L355.7,374.2L358.4,374.3L358.0,382.0Z" fill="#9fc3a4" stroke="#9fc3a4" stroke-width="0.6"/><path d="M358.0,382.0L358.4,374.3L361.1,374.4L360.7,382.0Z" fill="#a4c6a9" stroke="#a4c6a9" stroke-width="0.6"/><path d="M360.7,382.0L361.1,374.4L363.8,374.5L363.5,381.9Z" fill="#a6c7ab" stroke="#a6c7ab" stroke-width="0.6"/><path d="M363.5,381.9L363.8,374.5L366.5,374.6L366.2,381.9Z" fill="#a4c6a9" stroke="#a4c6a9" stroke-width="0.6"/><path d="M366.2,381.9L366.5,374.6L369.2,374.7L368.9,381.8Z" fill="#a0c3a5" stroke="#a0c3a5" stroke-width="0.6"/><path d="M368.9,381.8L369.2,374.7L371.9,374.8L371.7,381.8Z" fill="#9bc0a0" stroke="#9bc0a0" stroke-width="0.6"/><path d="M371.7,381.8L371.9,374.8L374.5,374.9L374.4,381.8Z" fill="#97bd9b" stroke="#97bd9b" stroke-width="0.6"/><path d="M374.4,381.8L374.5,374.9L377.2,375.0L377.2,381.7Z" fill="#94bc98" stroke="#94bc98" stroke-width="0.6"/><path d="M344.9,373.9L346.0,365.5L348.6,365.7L347.6,374.0Z" fill="#93ba97" stroke="#93ba97" stroke-width="0.6"/><path d="M347.6,374.0L348.6,365.7L351.3,366.0L350.3,374.0Z" fill="#94bb98" stroke="#94bb98" stroke-width="0.6"/><path d="M350.3,374.0L351.3,366.0L353.9,366.2L353.0,374.1Z" fill="#96bd9b" stroke="#96bd9b" stroke-width="0.6"/><path d="M353.0,374.1L353.9,366.2L356.5,366.4L355.7,374.2Z" fill="#9ac09f" stroke="#9ac09f" stroke-width="0.6"/><path d="M355.7,374.2L356.5,366.4L359.2,366.7L358.4,374.3Z" fill="#9fc3a4" stroke="#9fc3a4" stroke-width="0.6"/><path d="M358.4,374.3L359.2,366.7L361.8,366.9L361.1,374.4Z" fill="#a4c6a9" stroke="#a4c6a9" stroke-width="0.6"/><path d="M361.1,374.4L361.8,366.9L364.5,367.1L363.8,374.5Z" fill="#a6c7ab" stroke="#a6c7ab" stroke-width="0.6"/><path d="M363.8,374.5L364.5,367.1L367.1,367.4L366.5,374.6Z" fill="#a4c6a9" stroke="#a4c6a9" stroke-width="0.6"/><path d="M366.5,374.6L367.1,367.4L369.7,367.6L369.2,374.7Z" fill="#a0c3a5" stroke="#a0c3a5" stroke-width="0.6"/><path d="M369.2,374.7L369.7,367.6L372.4,367.8L371.9,374.8Z" fill="#9bc0a0" stroke="#9bc0a0" stroke-width="0.6"/><path d="M371.9,374.8L372.4,367.8L375.0,368.0L374.5,374.9Z" fill="#97bd9b" stroke="#97bd9b" stroke-width="0.6"/><path d="M374.5,374.9L375.0,368.0L377.6,368.3L377.2,375.0Z" fill="#94bc98" stroke="#94bc98" stroke-width="0.6"/><path d="M88.1,379.4L247.2,379.4M91.4,354.8L250.4,364.3M97.6,330.8L254.7,349.6M105.8,307.6L260.0,335.4M115.0,285.1L266.2,321.7M125.2,263.3L273.2,308.6M136.3,242.3L281.1,296.2M148.4,222.2L289.7,284.5M161.6,203.0L299.0,273.7M175.9,184.9L309.0,263.6M191.2,167.9L319.5,254.4M207.4,152.0L330.5,246.1M224.4,137.4L341.8,238.7M242.1,123.9L353.5,232.3M260.4,111.7L365.3,226.7M279.1,100.7L377.2,221.9M298.3,91.0L389.2,217.9M317.8,82.4L401.0,214.6M337.5,75.1L412.7,211.9M357.4,68.9L424.3,209.9M377.4,64.0L435.7,208.4M397.4,60.2L447.0,207.6M417.4,57.6L458.1,207.4M437.3,56.2L468.9,207.8M457.0,56.0L479.6,208.8M476.6,57.0L490.0,210.4M495.9,59.2L500.1,212.7M514.8,62.6L509.9,215.6M533.2,67.1L519.4,219.1M551.2,72.8L528.4,223.3M568.6,79.4L537.0,228.0M585.3,87.0L545.0,233.3M601.4,95.5L552.6,238.9M616.8,104.9L559.8,244.7M631.5,115.0L566.5,250.5M645.3,125.9L573.0,256.3M658.4,137.4L579.4,261.9M670.7,149.4L585.6,267.4M682.1,162.0L591.6,272.9M692.7,175.0L597.5,278.5M702.5,188.5L603.3,284.3M711.4,202.3L608.7,290.3M719.4,216.5L613.8,296.7M726.5,231.0L618.5,303.3M732.8,245.6L622.8,310.2M738.1,260.5L626.7,317.3M742.6,275.5L630.1,324.6M746.1,290.6L633.1,332.2M748.7,305.8L635.6,339.9M750.3,320.9L637.7,347.7M751.1,336.0L639.3,355.7M750.9,350.9L640.3,363.7M749.8,365.7L640.9,371.8M747.8,380.2L641.0,379.9M744.9,394.5L640.6,387.9M741.1,408.4L639.8,396.0M736.5,421.9L638.4,403.9M731.0,435.0L636.6,411.8M724.8,447.5L634.3,419.5M717.9,459.5L631.5,427.0M710.3,470.9L628.3,434.4M702.4,481.8L624.7,441.5M694.5,492.5L620.6,448.5M686.7,503.0L616.2,455.1M678.5,513.2L611.4,461.5M669.7,522.8L606.2,467.5M660.1,531.5L600.6,473.2M649.8,539.3L594.7,478.6M638.9,546.2L588.6,483.6M627.6,552.2L582.1,488.2M615.9,557.2L575.4,492.4M604.1,561.5L568.5,496.2M592.1,564.9L561.4,499.6M580.1,567.6L554.1,502.6M568.1,569.6L546.6,505.1M556.1,570.9L539.0,507.1M544.3,571.6L531.3,508.7M532.5,571.7L523.6,509.8M520.9,571.1L515.8,510.5M509.5,569.9L508.0,510.7M498.2,568.1L500.2,510.5M487.2,565.7L492.5,509.8M476.4,562.8L484.8,508.6M465.9,559.3L477.2,507.0M455.7,555.2L469.8,504.9M445.8,550.7L462.4,502.4M436.3,545.6L455.3,499.5M427.1,540.0L448.3,496.2M418.4,534.0L441.6,492.5M410.0,527.6L435.1,488.4M402.1,520.7L428.8,483.9M394.7,513.5L422.9,479.1M387.7,505.9L417.2,474.0M381.2,498.0L411.9,468.5M375.2,489.7L406.9,462.8M369.6,481.2L402.2,456.7M364.7,472.5L397.9,450.4M360.2,463.6L394.0,443.9M356.3,454.4L390.4,437.2M352.9,445.1L387.3,430.2M350.0,435.7L384.6,423.2M347.7,426.2L382.3,415.9M346.0,416.6L380.4,408.6M344.8,407.0L378.9,401.1M344.2,397.4L377.9,393.6M344.1,387.8L377.3,386.1M344.5,378.3L377.2,378.5M345.5,368.8L377.4,370.9M92.0,379.4L93.6,364.9L96.3,350.6L100.0,336.5L104.4,322.7L109.4,309.1L114.7,295.8L120.3,282.7L126.2,269.9L132.5,257.4L139.1,245.1L146.1,233.1L153.4,221.5L161.1,210.2L169.2,199.2L177.7,188.7L186.6,178.5L195.7,168.7L205.2,159.3L214.9,150.4L225.0,141.8L235.2,133.7L245.7,126.0L256.4,118.7L267.3,111.9L278.3,105.5L289.5,99.5L300.8,94.0L312.3,88.9L323.8,84.2L335.3,79.9L347.0,76.0L358.6,72.6L370.4,69.5L382.1,66.9L393.8,64.6L405.6,62.8L417.3,61.4L429.0,60.5L440.6,59.9L452.2,59.8L463.8,60.0L475.2,60.7L486.6,61.8L497.8,63.3L508.9,65.3L519.8,67.6L530.6,70.3L541.3,73.4L551.7,76.9L561.9,80.7L572.0,84.9L581.8,89.4L591.3,94.2L600.6,99.4L609.7,104.8L618.5,110.5L627.1,116.4L635.4,122.6L643.4,129.1L651.2,135.7L658.7,142.6L665.9,149.6L672.8,156.8L679.4,164.2L685.8,171.8L691.8,179.5L697.6,187.4L703.0,195.4L708.2,203.5L713.0,211.7L717.6,220.1L721.8,228.5L725.8,237.0L729.4,245.7L732.7,254.3L735.7,263.1L738.4,271.8L740.8,280.7L742.8,289.5L744.5,298.4L745.9,307.3L747.0,316.1L747.8,325.0L748.2,333.8L748.3,342.6L748.1,351.4L747.6,360.0L746.8,368.7L745.6,377.2L744.1,385.6L742.3,394.0L740.3,402.2L737.9,410.3L735.2,418.2L732.3,426.0L729.0,433.6L725.5,441.1L721.8,448.3L717.8,455.4L713.5,462.3L709.0,468.9L704.4,475.4L699.8,481.8L695.1,488.1L690.5,494.3L685.9,500.5L681.2,506.5L676.4,512.4L671.3,518.1L665.9,523.6L660.2,528.7L654.3,533.5L648.2,537.9L641.9,542.1L635.3,545.9L628.7,549.4L621.9,552.7L615.1,555.6L608.1,558.2L601.1,560.5L594.1,562.5L587.0,564.3L580.0,565.8L572.9,567.1L565.9,568.2L558.9,569.0L551.9,569.6L544.9,570.0L538.0,570.2L531.1,570.1L524.2,569.8L517.5,569.3L510.7,568.6L504.1,567.7L497.5,566.5L491.0,565.2L484.6,563.7L478.2,561.9L472.0,560.0L465.8,557.8L459.8,555.5L453.9,553.0L448.0,550.3L442.3,547.5L436.8,544.4L431.3,541.2L426.0,537.9L420.8,534.3L415.8,530.6L410.9,526.8L406.2,522.8L401.6,518.7L397.2,514.5L393.0,510.1L388.9,505.6L384.9,501.0L381.2,496.3L377.6,491.4L374.2,486.5L371.0,481.5L368.0,476.4L365.1,471.2L362.4,466.0L359.9,460.6L357.6,455.2L355.5,449.8L353.6,444.3L351.9,438.8L350.3,433.2L349.0,427.6L347.8,422.0L346.8,416.3L346.1,410.6L345.5,405.0L345.1,399.3L344.9,393.6L344.9,388.0L345.1,382.3L345.5,376.7L346.0,371.1L346.8,365.6M96.0,379.4L97.6,365.1L100.3,350.9L103.9,336.9L108.3,323.2L113.2,309.8L118.5,296.6L124.1,283.6L129.9,271.0L136.2,258.6L142.7,246.4L149.6,234.6L156.9,223.1L164.6,211.9L172.7,201.1L181.1,190.6L189.8,180.6L198.9,170.9L208.3,161.6L218.0,152.8L227.9,144.3L238.1,136.3L248.5,128.7L259.1,121.6L269.9,114.8L280.8,108.5L291.9,102.6L303.1,97.2L314.4,92.1L325.8,87.5L337.3,83.3L348.8,79.5L360.3,76.1L371.9,73.1L383.5,70.5L395.1,68.3L406.7,66.5L418.3,65.2L429.9,64.2L441.4,63.7L452.9,63.6L464.3,63.9L475.6,64.6L486.8,65.7L497.9,67.2L508.8,69.1L519.7,71.4L530.3,74.1L540.8,77.2L551.1,80.7L561.2,84.5L571.1,88.6L580.8,93.1L590.2,97.9L599.4,103.0L608.4,108.3L617.1,114.0L625.5,119.9L633.7,126.0L641.6,132.3L649.3,138.9L656.7,145.6L663.8,152.6L670.6,159.7L677.2,167.0L683.4,174.5L689.4,182.1L695.1,189.8L700.5,197.7L705.6,205.7L710.4,213.8L714.9,222.1L719.2,230.4L723.1,238.8L726.7,247.3L729.9,255.8L732.9,264.5L735.6,273.1L737.9,281.8L740.0,290.6L741.7,299.3L743.1,308.1L744.2,316.9L745.0,325.6L745.4,334.3L745.5,343.0L745.4,351.7L744.9,360.3L744.0,368.8L742.9,377.2L741.5,385.6L739.7,393.8L737.7,401.9L735.4,409.9L732.7,417.8L729.8,425.5L726.7,433.0L723.2,440.4L719.5,447.6L715.6,454.6L711.4,461.4L707.0,468.0L702.4,474.5L697.9,480.8L693.3,487.0L688.7,493.2L684.1,499.3L679.5,505.3L674.7,511.1L669.7,516.8L664.3,522.2L658.7,527.2L652.9,532.0L646.8,536.4L640.5,540.5L634.1,544.4L627.5,547.9L620.8,551.0L614.0,553.9L607.2,556.5L600.3,558.8L593.3,560.9L586.3,562.7L579.3,564.2L572.3,565.5L565.4,566.6L558.4,567.4L551.5,568.1L544.6,568.4L537.7,568.6L530.9,568.6L524.1,568.3L517.4,567.8L510.7,567.1L504.1,566.2L497.5,565.1L491.1,563.8L484.7,562.3L478.4,560.5L472.2,558.6L466.1,556.5L460.1,554.2L454.2,551.8L448.4,549.1L442.8,546.3L437.2,543.3L431.8,540.1L426.6,536.8L421.4,533.3L416.4,529.6L411.6,525.8L406.9,521.9L402.3,517.8L397.9,513.6L393.7,509.3L389.6,504.8L385.7,500.2L382.0,495.5L378.4,490.8L375.0,485.9L371.8,480.9L368.8,475.8L365.9,470.7L363.3,465.5L360.8,460.2L358.5,454.8L356.4,449.4L354.5,443.9L352.7,438.4L351.2,432.9L349.8,427.3L348.7,421.7L347.7,416.1L346.9,410.5L346.3,404.8L346.0,399.2L345.7,393.5L345.7,387.9L345.9,382.3L346.3,376.7L346.8,371.2L347.6,365.6M100.0,379.4L101.5,365.2L104.2,351.2L107.9,337.3L112.2,323.8L117.1,310.5L122.3,297.4L127.8,284.6L133.7,272.0L139.8,259.8L146.4,247.8L153.2,236.1L160.5,224.7L168.1,213.6L176.1,202.9L184.4,192.6L193.1,182.6L202.1,173.1L211.4,163.9L221.0,155.2L230.9,146.8L241.0,138.9L251.3,131.4L261.8,124.4L272.5,117.7L283.3,111.5L294.3,105.7L305.4,100.4L316.6,95.4L327.8,90.8L339.2,86.7L350.6,83.0L362.0,79.6L373.5,76.7L384.9,74.1L396.4,72.0L407.9,70.3L419.4,68.9L430.8,68.0L442.2,67.5L453.5,67.4L464.8,67.7L475.9,68.4L487.0,69.5L498.0,71.0L508.8,72.9L519.5,75.2L530.0,77.9L540.4,81.0L550.5,84.4L560.5,88.2L570.3,92.3L579.8,96.8L589.1,101.5L598.2,106.5L607.0,111.9L615.6,117.4L623.9,123.3L632.0,129.3L639.8,135.6L647.4,142.1L654.7,148.7L661.7,155.6L668.4,162.6L674.9,169.8L681.1,177.1L687.0,184.6L692.7,192.3L698.0,200.0L703.1,207.9L707.8,215.9L712.3,224.0L716.5,232.2L720.3,240.5L723.9,248.9L727.2,257.4L730.1,265.9L732.8,274.4L735.1,283.0L737.2,291.6L738.9,300.3L740.3,308.9L741.4,317.6L742.1,326.2L742.6,334.9L742.8,343.4L742.6,352.0L742.1,360.5L741.3,368.9L740.2,377.2L738.8,385.5L737.1,393.6L735.1,401.7L732.8,409.6L730.3,417.4L727.4,425.0L724.3,432.5L720.9,439.8L717.3,446.9L713.4,453.8L709.2,460.6L704.9,467.1L700.4,473.5L695.9,479.8L691.4,485.9L686.9,492.0L682.4,498.1L677.8,504.0L673.0,509.8L668.0,515.4L662.8,520.8L657.2,525.8L651.4,530.5L645.4,534.9L639.2,539.0L632.9,542.8L626.4,546.3L619.8,549.4L613.0,552.3L606.2,554.9L599.4,557.2L592.5,559.3L585.6,561.0L578.7,562.6L571.7,563.9L564.8,565.0L557.9,565.8L551.1,566.5L544.2,566.9L537.4,567.1L530.7,567.0L523.9,566.8L517.3,566.3L510.6,565.6L504.1,564.8L497.6,563.7L491.2,562.4L484.9,560.9L478.6,559.2L472.5,557.3L466.4,555.2L460.4,553.0L454.6,550.5L448.8,547.9L443.2,545.1L437.7,542.1L432.3,539.0L427.1,535.7L422.0,532.2L417.0,528.6L412.2,524.9L407.5,520.9L403.0,516.9L398.6,512.7L394.4,508.4L390.3,504.0L386.5,499.5L382.7,494.8L379.2,490.1L375.8,485.2L372.6,480.3L369.6,475.2L366.8,470.1L364.1,464.9L361.6,459.7L359.3,454.4L357.2,449.0L355.3,443.6L353.6,438.1L352.0,432.6L350.7,427.1L349.5,421.5L348.6,415.9L347.8,410.3L347.2,404.7L346.8,399.1L346.6,393.5L346.6,387.9L346.7,382.3L347.1,376.7L347.6,371.2L348.4,365.7M104.0,379.4L105.5,365.3L108.2,351.4L111.8,337.7L116.1,324.3L120.9,311.1L126.1,298.2L131.6,285.5L137.4,273.1L143.5,261.0L150.0,249.1L156.8,237.5L164.0,226.2L171.5,215.3L179.5,204.7L187.7,194.5L196.4,184.7L205.3,175.2L214.5,166.2L224.1,157.6L233.8,149.3L243.8,141.5L254.1,134.2L264.5,127.2L275.1,120.7L285.8,114.5L296.7,108.8L307.6,103.5L318.7,98.6L329.9,94.2L341.1,90.1L352.4,86.4L363.7,83.1L375.0,80.2L386.4,77.7L397.7,75.7L409.1,74.0L420.4,72.7L431.7,71.8L442.9,71.3L454.1,71.2L465.2,71.5L476.3,72.2L487.2,73.3L498.0,74.8L508.7,76.7L519.3,79.0L529.7,81.7L539.9,84.8L549.9,88.2L559.8,91.9L569.4,96.0L578.8,100.4L588.0,105.1L597.0,110.1L605.7,115.4L614.1,120.9L622.4,126.7L630.3,132.7L638.0,138.9L645.5,145.2L652.7,151.8L659.6,158.6L666.3,165.5L672.7,172.6L678.8,179.8L684.6,187.2L690.2,194.7L695.5,202.4L700.5,210.1L705.2,218.0L709.7,226.0L713.8,234.1L717.6,242.3L721.2,250.6L724.4,258.9L727.3,267.3L730.0,275.7L732.3,284.2L734.3,292.7L736.1,301.2L737.5,309.8L738.6,318.3L739.3,326.9L739.8,335.4L740.0,343.9L739.8,352.3L739.4,360.7L738.6,369.0L737.6,377.3L736.2,385.4L734.5,393.5L732.6,401.4L730.3,409.3L727.8,416.9L725.0,424.5L721.9,431.9L718.6,439.1L715.0,446.2L711.2,453.1L707.1,459.7L702.9,466.2L698.5,472.6L694.0,478.8L689.5,484.9L685.1,490.9L680.6,496.9L676.1,502.8L671.3,508.5L666.4,514.1L661.2,519.4L655.7,524.3L650.0,529.0L644.1,533.4L637.9,537.4L631.6,541.2L625.2,544.7L618.7,547.8L612.0,550.7L605.3,553.3L598.5,555.6L591.7,557.6L584.9,559.4L578.0,561.0L571.2,562.3L564.3,563.4L557.5,564.2L550.7,564.9L543.9,565.3L537.2,565.5L530.4,565.5L523.8,565.2L517.2,564.8L510.6,564.2L504.1,563.3L497.7,562.2L491.3,561.0L485.0,559.5L478.8,557.8L472.7,556.0L466.7,553.9L460.8,551.7L455.0,549.3L449.2,546.7L443.7,543.9L438.2,541.0L432.8,537.9L427.6,534.6L422.6,531.2L417.6,527.6L412.8,523.9L408.2,520.0L403.7,516.0L399.3,511.9L395.1,507.6L391.1,503.2L387.2,498.7L383.5,494.1L380.0,489.4L376.6,484.6L373.4,479.7L370.4,474.7L367.6,469.6L364.9,464.4L362.5,459.2L360.2,453.9L358.1,448.6L356.2,443.2L354.4,437.8L352.9,432.3L351.6,426.8L350.4,421.3L349.4,415.7L348.6,410.1L348.0,404.6L347.6,399.0L347.4,393.4L347.4,387.8L347.6,382.3L347.9,376.8L348.4,371.3L349.1,365.8M107.9,379.4L109.5,365.5L112.2,351.7L115.7,338.2L120.0,324.9L124.8,311.8L129.9,299.0L135.4,286.5L141.1,274.2L147.2,262.2L153.6,250.4L160.4,239.0L167.5,227.8L175.0,217.0L182.9,206.5L191.1,196.5L199.6,186.7L208.5,177.4L217.7,168.5L227.1,160.0L236.8,151.9L246.7,144.2L256.8,136.9L267.2,130.0L277.6,123.6L288.3,117.5L299.0,111.9L309.9,106.7L320.9,101.9L331.9,97.5L343.0,93.5L354.2,89.9L365.4,86.7L376.6,83.8L387.8,81.4L399.0,79.3L410.2,77.7L421.4,76.4L432.6,75.5L443.7,75.1L454.8,75.0L465.7,75.3L476.6,76.1L487.4,77.2L498.1,78.7L508.7,80.6L519.1,82.9L529.4,85.5L539.5,88.6L549.4,91.9L559.1,95.7L568.6,99.7L577.9,104.1L586.9,108.8L595.7,113.7L604.3,118.9L612.7,124.4L620.8,130.1L628.6,136.0L636.2,142.1L643.6,148.4L650.6,154.9L657.5,161.6L664.1,168.4L670.4,175.4L676.4,182.5L682.2,189.7L687.8,197.2L693.0,204.7L697.9,212.3L702.6,220.1L707.0,228.0L711.1,236.0L714.9,244.0L718.4,252.2L721.6,260.4L724.6,268.7L727.2,277.0L729.5,285.4L731.5,293.8L733.2,302.2L734.6,310.6L735.7,319.1L736.5,327.5L737.0,335.9L737.2,344.3L737.1,352.6L736.6,360.9L735.9,369.1L734.9,377.3L733.5,385.4L731.9,393.3L730.0,401.2L727.8,408.9L725.3,416.5L722.6,424.0L719.6,431.3L716.3,438.5L712.8,445.5L709.0,452.3L705.0,458.9L700.8,465.3L696.5,471.6L692.1,477.7L687.6,483.8L683.2,489.8L678.8,495.7L674.3,501.6L669.7,507.2L664.8,512.7L659.6,518.0L654.2,522.9L648.6,527.5L642.7,531.9L636.6,535.9L630.4,539.6L624.1,543.1L617.6,546.2L611.0,549.1L604.4,551.6L597.7,553.9L590.9,556.0L584.1,557.8L577.4,559.3L570.6,560.7L563.8,561.8L557.0,562.6L550.3,563.3L543.6,563.7L536.9,563.9L530.2,563.9L523.6,563.7L517.1,563.3L510.5,562.7L504.1,561.8L497.7,560.8L491.4,559.5L485.2,558.1L479.0,556.5L472.9,554.6L467.0,552.6L461.1,550.4L455.3,548.0L449.7,545.5L444.1,542.7L438.7,539.8L433.4,536.8L428.2,533.5L423.1,530.1L418.2,526.6L413.4,522.9L408.8,519.1L404.3,515.1L400.0,511.0L395.8,506.8L391.8,502.4L388.0,497.9L384.3,493.4L380.8,488.7L377.4,483.9L374.2,479.0L371.2,474.1L368.4,469.0L365.8,463.9L363.3,458.7L361.0,453.5L358.9,448.2L357.0,442.8L355.3,437.4L353.8,432.0L352.4,426.5L351.3,421.0L350.3,415.5L349.5,410.0L348.9,404.4L348.5,398.9L348.3,393.3L348.2,387.8L348.4,382.3L348.7,376.8L349.2,371.3L349.9,365.9M111.9,379.4L113.5,365.6L116.2,352.0L119.7,338.6L123.9,325.4L128.7,312.5L133.7,299.9L139.1,287.4L144.8,275.3L150.9,263.4L157.2,251.8L164.0,240.4L171.0,229.4L178.5,218.7L186.3,208.4L194.4,198.4L202.9,188.8L211.7,179.6L220.8,170.8L230.1,162.4L239.7,154.4L249.6,146.8L259.6,139.6L269.8,132.8L280.2,126.5L290.8,120.5L301.4,115.0L312.2,109.9L323.0,105.2L334.0,100.8L344.9,96.9L356.0,93.3L367.0,90.2L378.1,87.4L389.2,85.0L400.3,83.0L411.4,81.4L422.4,80.2L433.5,79.3L444.5,78.9L455.4,78.8L466.2,79.2L477.0,79.9L487.7,81.0L498.2,82.5L508.6,84.4L518.9,86.7L529.1,89.3L539.0,92.3L548.8,95.7L558.4,99.4L567.7,103.4L576.9,107.8L585.8,112.4L594.5,117.3L603.0,122.4L611.2,127.9L619.2,133.5L626.9,139.3L634.4,145.4L641.6,151.6L648.6,158.0L655.4,164.5L661.9,171.3L668.1,178.1L674.1,185.2L679.8,192.3L685.3,199.6L690.5,207.0L695.4,214.6L700.0,222.2L704.4,230.0L708.4,237.8L712.2,245.8L715.7,253.8L718.9,261.9L721.8,270.1L724.4,278.3L726.7,286.6L728.7,294.8L730.4,303.2L731.8,311.5L732.9,319.8L733.7,328.1L734.2,336.4L734.4,344.7L734.3,352.9L733.9,361.1L733.2,369.3L732.2,377.3L730.9,385.3L729.3,393.2L727.4,400.9L725.3,408.6L722.9,416.1L720.2,423.5L717.2,430.7L714.0,437.8L710.5,444.8L706.8,451.5L702.9,458.0L698.7,464.4L694.5,470.6L690.1,476.7L685.8,482.7L681.4,488.7L677.1,494.5L672.6,500.3L668.0,505.9L663.2,511.4L658.1,516.6L652.7,521.4L647.1,526.0L641.3,530.3L635.3,534.4L629.2,538.1L622.9,541.5L616.5,544.6L610.0,547.5L603.4,550.0L596.8,552.3L590.1,554.4L583.4,556.1L576.7,557.7L570.0,559.0L563.3,560.1L556.6,561.0L549.9,561.7L543.2,562.1L536.6,562.4L530.0,562.4L523.5,562.2L517.0,561.8L510.5,561.2L504.1,560.4L497.8,559.3L491.5,558.1L485.3,556.7L479.2,555.1L473.2,553.3L467.3,551.3L461.4,549.1L455.7,546.8L450.1,544.3L444.5,541.5L439.1,538.7L433.9,535.6L428.7,532.4L423.7,529.1L418.8,525.6L414.1,521.9L409.5,518.1L405.0,514.2L400.7,510.1L396.5,505.9L392.6,501.6L388.7,497.2L385.1,492.6L381.5,488.0L378.2,483.2L375.1,478.4L372.1,473.5L369.3,468.5L366.6,463.4L364.2,458.3L361.9,453.1L359.8,447.8L357.9,442.5L356.2,437.1L354.6,431.7L353.3,426.3L352.1,420.8L351.1,415.3L350.4,409.8L349.7,404.3L349.3,398.8L349.1,393.2L349.1,387.7L349.2,382.3L349.5,376.8L350.0,371.3L350.7,365.9M115.9,379.4L117.5,365.8L120.1,352.3L123.6,339.0L127.8,326.0L132.5,313.2L137.5,300.7L142.9,288.4L148.5,276.4L154.5,264.6L160.9,253.1L167.5,241.9L174.6,231.0L181.9,220.4L189.7,210.2L197.8,200.3L206.2,190.9L214.9,181.8L223.9,173.1L233.2,164.8L242.7,156.9L252.4,149.4L262.4,142.3L272.5,135.6L282.8,129.4L293.2,123.5L303.8,118.1L314.4,113.1L325.2,108.4L336.0,104.2L346.9,100.3L357.8,96.8L368.7,93.7L379.7,91.0L390.6,88.6L401.6,86.7L412.5,85.1L423.5,83.9L434.4,83.1L445.2,82.7L456.0,82.6L466.7,83.0L477.4,83.7L487.9,84.8L498.3,86.4L508.6,88.2L518.7,90.5L528.7,93.1L538.6,96.1L548.2,99.5L557.6,103.1L566.9,107.1L575.9,111.4L584.7,116.0L593.3,120.9L601.6,126.0L609.7,131.3L617.6,136.9L625.2,142.7L632.6,148.6L639.7,154.8L646.6,161.1L653.3,167.5L659.7,174.2L665.9,180.9L671.8,187.8L677.4,194.9L682.8,202.0L688.0,209.4L692.8,216.8L697.4,224.3L701.7,232.0L705.7,239.7L709.5,247.5L712.9,255.5L716.1,263.4L719.0,271.5L721.6,279.6L723.9,287.7L725.9,295.9L727.6,304.1L729.0,312.3L730.1,320.5L730.9,328.8L731.4,337.0L731.6,345.1L731.5,353.3L731.2,361.4L730.5,369.4L729.5,377.3L728.3,385.2L726.7,393.0L724.9,400.7L722.8,408.3L720.4,415.7L717.7,423.0L714.8,430.2L711.7,437.2L708.3,444.0L704.6,450.7L700.7,457.2L696.7,463.5L692.5,469.7L688.2,475.7L683.9,481.6L679.6,487.5L675.3,493.3L670.9,499.1L666.3,504.6L661.5,510.0L656.5,515.1L651.2,520.0L645.7,524.6L639.9,528.8L634.0,532.8L627.9,536.5L621.7,539.9L615.4,543.0L609.0,545.8L602.5,548.4L595.9,550.7L589.3,552.7L582.7,554.5L576.0,556.1L569.4,557.4L562.8,558.5L556.1,559.4L549.5,560.1L542.9,560.6L536.3,560.8L529.8,560.9L523.3,560.7L516.9,560.3L510.5,559.7L504.1,558.9L497.8,557.9L491.6,556.7L485.5,555.3L479.4,553.7L473.4,552.0L467.5,550.0L461.7,547.9L456.0,545.5L450.5,543.0L445.0,540.4L439.6,537.5L434.4,534.5L429.3,531.3L424.3,528.0L419.4,524.5L414.7,520.9L410.1,517.2L405.7,513.3L401.4,509.2L397.3,505.1L393.3,500.8L389.5,496.4L385.8,491.9L382.3,487.3L379.0,482.6L375.9,477.8L372.9,472.9L370.1,467.9L367.5,462.9L365.0,457.8L362.7,452.6L360.7,447.4L358.8,442.1L357.0,436.8L355.5,431.4L354.1,426.0L353.0,420.6L352.0,415.1L351.2,409.6L350.6,404.1L350.2,398.7L349.9,393.2L349.9,387.7L350.0,382.2L350.3,376.8L350.8,371.4L351.5,366.0M119.9,379.4L121.5,365.9L124.1,352.6L127.6,339.4L131.7,326.5L136.4,313.9L141.4,301.5L146.7,289.3L152.3,277.4L158.2,265.8L164.5,254.4L171.1,243.3L178.1,232.6L185.4,222.1L193.1,212.0L201.1,202.3L209.4,192.9L218.1,184.0L227.0,175.4L236.2,167.2L245.7,159.4L255.3,152.0L265.2,145.0L275.2,138.5L285.4,132.3L295.7,126.5L306.2,121.2L316.7,116.2L327.3,111.7L338.0,107.5L348.8,103.7L359.6,100.3L370.4,97.2L381.2,94.5L392.1,92.2L402.9,90.3L413.7,88.8L424.5,87.6L435.3,86.9L446.0,86.5L456.6,86.4L467.2,86.8L477.7,87.6L488.1,88.7L498.4,90.2L508.5,92.1L518.6,94.3L528.4,96.9L538.1,99.9L547.6,103.2L556.9,106.9L566.0,110.8L574.9,115.1L583.6,119.6L592.1,124.4L600.3,129.5L608.3,134.8L616.0,140.3L623.5,146.0L630.8,151.9L637.8,158.0L644.6,164.2L651.2,170.5L657.5,177.0L663.6,183.7L669.5,190.5L675.0,197.4L680.4,204.5L685.5,211.7L690.3,219.0L694.8,226.4L699.1,233.9L703.1,241.6L706.8,249.3L710.2,257.1L713.3,265.0L716.2,272.9L718.8,280.9L721.1,288.9L723.0,297.0L724.7,305.1L726.2,313.2L727.3,321.3L728.1,329.4L728.6,337.5L728.8,345.6L728.8,353.6L728.4,361.6L727.8,369.5L726.8,377.4L725.6,385.2L724.1,392.8L722.3,400.4L720.2,407.9L717.9,415.3L715.3,422.5L712.5,429.6L709.4,436.5L706.0,443.3L702.4,449.9L698.6,456.4L694.6,462.6L690.5,468.7L686.2,474.7L682.0,480.6L677.8,486.4L673.5,492.2L669.2,497.8L664.6,503.3L659.9,508.7L654.9,513.7L649.7,518.6L644.2,523.1L638.6,527.3L632.7,531.3L626.7,534.9L620.6,538.3L614.3,541.4L608.0,544.2L601.5,546.8L595.0,549.1L588.5,551.1L582.0,552.9L575.4,554.5L568.8,555.8L562.2,556.9L555.7,557.8L549.1,558.5L542.6,559.0L536.1,559.3L529.6,559.3L523.1,559.1L516.8,558.8L510.4,558.2L504.1,557.4L497.9,556.5L491.7,555.3L485.6,553.9L479.6,552.4L473.7,550.6L467.8,548.7L462.1,546.6L456.4,544.3L450.9,541.8L445.4,539.2L440.1,536.4L434.9,533.4L429.8,530.3L424.8,527.0L420.0,523.5L415.3,519.9L410.8,516.2L406.3,512.4L402.1,508.4L398.0,504.2L394.0,500.0L390.2,495.6L386.6,491.2L383.1,486.6L379.8,481.9L376.7,477.2L373.7,472.3L370.9,467.4L368.3,462.4L365.9,457.3L363.6,452.2L361.5,447.0L359.6,441.7L357.9,436.4L356.4,431.1L355.0,425.7L353.8,420.3L352.9,414.9L352.1,409.5L351.5,404.0L351.0,398.6L350.8,393.1L350.7,387.7L350.8,382.2L351.2,376.8L351.6,371.4L352.3,366.1M123.9,379.4L125.5,366.0L128.1,352.8L131.5,339.8L135.6,327.1L140.2,314.6L145.2,302.3L150.4,290.3L156.0,278.5L161.9,267.0L168.1,255.8L174.7,244.8L181.6,234.2L188.9,223.8L196.5,213.9L204.4,204.2L212.7,195.0L221.3,186.1L230.1,177.7L239.3,169.6L248.6,161.9L258.2,154.6L267.9,147.7L277.9,141.3L288.0,135.2L298.2,129.5L308.5,124.3L319.0,119.4L329.5,114.9L340.1,110.8L350.7,107.1L361.4,103.7L372.1,100.7L382.8,98.1L393.5,95.9L404.2,94.0L414.9,92.5L425.5,91.4L436.2,90.6L446.7,90.3L457.3,90.3L467.7,90.6L478.1,91.4L488.3,92.5L498.5,94.0L508.5,95.9L518.4,98.1L528.1,100.7L537.7,103.7L547.0,107.0L556.2,110.6L565.2,114.5L574.0,118.8L582.5,123.3L590.8,128.0L598.9,133.0L606.8,138.3L614.4,143.7L621.8,149.3L629.0,155.2L635.9,161.1L642.6,167.2L649.1,173.5L655.4,179.9L661.4,186.5L667.1,193.2L672.7,200.0L677.9,206.9L682.9,214.0L687.7,221.2L692.2,228.5L696.4,235.9L700.4,243.4L704.0,251.0L707.4,258.7L710.6,266.5L713.4,274.3L716.0,282.2L718.2,290.1L720.2,298.0L721.9,306.0L723.3,314.0L724.4,322.0L725.3,330.0L725.8,338.0L726.1,346.0L726.0,353.9L725.7,361.8L725.1,369.6L724.2,377.4L723.0,385.1L721.5,392.7L719.7,400.2L717.7,407.6L715.4,414.9L712.9,422.0L710.1,429.0L707.0,435.9L703.8,442.6L700.2,449.1L696.5,455.5L692.5,461.7L688.5,467.8L684.3,473.7L680.1,479.5L676.0,485.3L671.7,491.0L667.4,496.6L663.0,502.0L658.3,507.3L653.4,512.3L648.2,517.1L642.8,521.6L637.2,525.8L631.4,529.7L625.5,533.3L619.4,536.7L613.2,539.8L606.9,542.6L600.6,545.1L594.2,547.4L587.7,549.5L581.2,551.3L574.7,552.8L568.2,554.2L561.7,555.3L555.2,556.2L548.7,556.9L542.2,557.4L535.8,557.7L529.4,557.8L523.0,557.6L516.7,557.3L510.4,556.7L504.1,556.0L497.9,555.0L491.8,553.9L485.8,552.5L479.8,551.0L473.9,549.3L468.1,547.4L462.4,545.3L456.8,543.0L451.3,540.6L445.9,538.0L440.6,535.2L435.4,532.3L430.3,529.2L425.4,525.9L420.6,522.5L415.9,519.0L411.4,515.3L407.0,511.4L402.8,507.5L398.7,503.4L394.8,499.2L391.0,494.9L387.4,490.4L383.9,485.9L380.6,481.3L377.5,476.6L374.5,471.7L371.8,466.8L369.1,461.9L366.7,456.8L364.5,451.7L362.4,446.6L360.5,441.4L358.8,436.1L357.2,430.8L355.9,425.5L354.7,420.1L353.7,414.7L352.9,409.3L352.3,403.9L351.9,398.4L351.6,393.0L351.6,387.6L351.7,382.2L352.0,376.8L352.4,371.5L353.1,366.1M127.8,379.4L129.4,366.2L132.0,353.1L135.5,340.3L139.5,327.6L144.1,315.3L149.0,303.1L154.2,291.2L159.7,279.6L165.6,268.2L171.7,257.1L178.3,246.3L185.1,235.7L192.3,225.5L199.9,215.7L207.8,206.2L216.0,197.1L224.5,188.3L233.3,179.9L242.3,172.0L251.6,164.4L261.1,157.2L270.7,150.5L280.6,144.1L290.6,138.1L300.7,132.5L310.9,127.4L321.3,122.6L331.7,118.2L342.1,114.1L352.6,110.5L363.2,107.2L373.7,104.3L384.3,101.7L394.9,99.5L405.5,97.7L416.0,96.2L426.6,95.1L437.1,94.4L447.5,94.0L457.9,94.1L468.2,94.5L478.4,95.2L488.5,96.4L498.6,97.9L508.4,99.7L518.2,102.0L527.8,104.5L537.2,107.5L546.4,110.7L555.5,114.3L564.4,118.2L573.0,122.4L581.4,126.9L589.6,131.6L597.6,136.6L605.3,141.7L612.8,147.1L620.1,152.7L627.2,158.4L634.0,164.3L640.6,170.3L647.0,176.5L653.2,182.8L659.1,189.3L664.8,195.8L670.3,202.6L675.5,209.4L680.4,216.3L685.1,223.4L689.6,230.6L693.8,237.9L697.7,245.3L701.3,252.8L704.7,260.4L707.8,268.0L710.6,275.7L713.2,283.5L715.4,291.3L717.4,299.1L719.1,307.0L720.5,314.9L721.6,322.8L722.5,330.7L723.0,338.5L723.3,346.4L723.2,354.2L722.9,362.0L722.3,369.7L721.5,377.4L720.3,385.0L718.9,392.5L717.2,399.9L715.2,407.3L713.0,414.5L710.5,421.5L707.7,428.5L704.7,435.3L701.5,441.9L698.0,448.4L694.4,454.7L690.5,460.8L686.5,466.8L682.4,472.7L678.3,478.4L674.1,484.1L670.0,489.8L665.7,495.3L661.3,500.8L656.7,506.0L651.8,510.9L646.7,515.7L641.4,520.1L635.8,524.3L630.1,528.2L624.2,531.8L618.3,535.1L612.1,538.2L605.9,541.0L599.7,543.5L593.3,545.8L586.9,547.8L580.5,549.6L574.1,551.2L567.6,552.6L561.2,553.7L554.8,554.6L548.3,555.3L541.9,555.8L535.5,556.1L529.2,556.2L522.8,556.1L516.6,555.8L510.3,555.2L504.1,554.5L498.0,553.6L491.9,552.5L485.9,551.2L480.0,549.7L474.2,548.0L468.4,546.1L462.7,544.0L457.1,541.8L451.7,539.4L446.3,536.8L441.0,534.1L435.9,531.2L430.9,528.1L426.0,524.9L421.2,521.5L416.6,518.0L412.1,514.3L407.7,510.5L403.5,506.6L399.4,502.6L395.5,498.4L391.7,494.1L388.1,489.7L384.7,485.2L381.4,480.6L378.3,475.9L375.4,471.2L372.6,466.3L370.0,461.4L367.6,456.4L365.3,451.3L363.2,446.2L361.3,441.0L359.6,435.8L358.1,430.5L356.7,425.2L355.6,419.9L354.6,414.5L353.8,409.1L353.2,403.7L352.7,398.3L352.5,393.0L352.4,387.6L352.5,382.2L352.8,376.8L353.3,371.5L353.9,366.2M131.8,379.4L133.4,366.3L136.0,353.4L139.4,340.7L143.4,328.2L147.9,315.9L152.8,303.9L158.0,292.2L163.4,280.7L169.2,269.4L175.4,258.4L181.8,247.7L188.6,237.3L195.8,227.2L203.3,217.5L211.1,208.1L219.3,199.1L227.7,190.5L236.4,182.2L245.3,174.4L254.5,166.9L263.9,159.8L273.5,153.2L283.3,146.9L293.2,141.0L303.2,135.6L313.3,130.5L323.5,125.8L333.8,121.4L344.2,117.5L354.6,113.9L365.0,110.7L375.4,107.8L385.9,105.3L396.3,103.1L406.8,101.3L417.2,99.9L427.6,98.9L438.0,98.2L448.3,97.8L458.5,97.9L468.7,98.3L478.8,99.1L488.8,100.2L498.6,101.7L508.4,103.6L518.0,105.8L527.5,108.3L536.8,111.3L545.9,114.5L554.8,118.1L563.5,121.9L572.0,126.1L580.3,130.5L588.4,135.2L596.2,140.1L603.9,145.2L611.3,150.5L618.4,156.0L625.4,161.7L632.1,167.5L638.6,173.4L644.9,179.5L651.0,185.7L656.8,192.0L662.5,198.5L667.9,205.1L673.0,211.8L677.9,218.7L682.6,225.6L687.0,232.7L691.1,239.9L695.0,247.2L698.6,254.5L702.0,262.0L705.0,269.5L707.8,277.1L710.4,284.7L712.6,292.4L714.6,300.2L716.3,307.9L717.7,315.7L718.8,323.5L719.6,331.3L720.2,339.1L720.5,346.8L720.5,354.5L720.2,362.2L719.6,369.9L718.8,377.4L717.7,384.9L716.3,392.4L714.6,399.7L712.7,406.9L710.5,414.0L708.0,421.0L705.4,427.9L702.4,434.6L699.3,441.2L695.9,447.6L692.2,453.8L688.4,459.9L684.5,465.8L680.4,471.6L676.4,477.4L672.3,483.0L668.2,488.6L664.0,494.1L659.6,499.5L655.1,504.6L650.2,509.5L645.2,514.2L639.9,518.6L634.4,522.8L628.8,526.6L623.0,530.2L617.1,533.5L611.1,536.6L604.9,539.4L598.7,541.9L592.4,544.2L586.1,546.2L579.8,548.0L573.4,549.6L567.0,550.9L560.7,552.1L554.3,553.0L547.9,553.8L541.6,554.3L535.3,554.6L529.0,554.7L522.7,554.6L516.5,554.3L510.3,553.8L504.1,553.1L498.1,552.2L492.0,551.1L486.1,549.8L480.2,548.3L474.4,546.6L468.7,544.8L463.0,542.8L457.5,540.6L452.1,538.2L446.7,535.6L441.5,532.9L436.4,530.0L431.4,527.0L426.5,523.8L421.8,520.5L417.2,517.0L412.7,513.4L408.4,509.6L404.2,505.7L400.1,501.7L396.2,497.6L392.5,493.3L388.9,489.0L385.5,484.5L382.2,480.0L379.1,475.3L376.2,470.6L373.4,465.8L370.8,460.9L368.4,455.9L366.2,450.9L364.1,445.8L362.2,440.6L360.5,435.4L359.0,430.2L357.6,424.9L356.4,419.6L355.4,414.3L354.6,409.0L354.0,403.6L353.6,398.2L353.3,392.9L353.2,387.5L353.3,382.2L353.6,376.8L354.1,371.5L354.7,366.3M135.8,379.4L137.4,366.5L140.0,353.7L143.3,341.1L147.3,328.7L151.8,316.6L156.6,304.8L161.7,293.1L167.2,281.7L172.9,270.6L179.0,259.7L185.4,249.2L192.2,238.9L199.3,229.0L206.7,219.3L214.5,210.1L222.5,201.2L230.9,192.7L239.5,184.5L248.4,176.8L257.5,169.4L266.8,162.5L276.3,155.9L285.9,149.7L295.7,143.9L305.7,138.6L315.7,133.6L325.8,128.9L336.0,124.7L346.2,120.8L356.5,117.3L366.8,114.1L377.1,111.3L387.4,108.8L397.7,106.7L408.1,105.0L418.4,103.6L428.6,102.6L438.9,101.9L449.0,101.6L459.1,101.7L469.2,102.1L479.1,102.9L489.0,104.0L498.7,105.5L508.3,107.4L517.8,109.6L527.1,112.2L536.3,115.0L545.3,118.3L554.1,121.8L562.7,125.6L571.0,129.8L579.2,134.1L587.2,138.8L594.9,143.6L602.4,148.7L609.7,153.9L616.7,159.4L623.6,164.9L630.2,170.7L636.6,176.5L642.8,182.5L648.8,188.6L654.6,194.8L660.1,201.2L665.5,207.7L670.6,214.3L675.4,221.0L680.0,227.9L684.4,234.8L688.5,241.9L692.3,249.0L695.9,256.3L699.2,263.6L702.3,271.0L705.0,278.5L707.6,286.0L709.8,293.6L711.8,301.2L713.4,308.9L714.9,316.6L716.0,324.2L716.8,331.9L717.4,339.6L717.7,347.2L717.7,354.9L717.5,362.4L716.9,370.0L716.1,377.5L715.0,384.9L713.7,392.2L712.0,399.4L710.2,406.6L708.0,413.6L705.6,420.5L703.0,427.3L700.1,434.0L697.0,440.5L693.7,446.8L690.1,453.0L686.4,459.0L682.5,464.9L678.5,470.6L674.5,476.3L670.5,481.9L666.4,487.4L662.3,492.9L658.0,498.2L653.4,503.3L648.7,508.1L643.7,512.8L638.5,517.1L633.1,521.2L627.5,525.1L621.8,528.6L615.9,531.9L610.0,535.0L603.9,537.7L597.8,540.3L591.6,542.5L585.3,544.6L579.1,546.4L572.8,547.9L566.5,549.3L560.1,550.5L553.8,551.4L547.5,552.2L541.3,552.7L535.0,553.0L528.7,553.1L522.5,553.0L516.4,552.8L510.2,552.3L504.1,551.6L498.1,550.7L492.1,549.6L486.2,548.4L480.4,546.9L474.6,545.3L469.0,543.5L463.4,541.5L457.9,539.3L452.5,537.0L447.2,534.4L442.0,531.8L436.9,528.9L431.9,525.9L427.1,522.8L422.4,519.5L417.8,516.0L413.4,512.4L409.0,508.7L404.9,504.9L400.8,500.9L397.0,496.8L393.2,492.6L389.7,488.3L386.3,483.8L383.0,479.3L379.9,474.7L377.0,470.0L374.2,465.2L371.7,460.3L369.3,455.4L367.0,450.4L364.9,445.4L363.1,440.2L361.3,435.1L359.8,429.9L358.5,424.6L357.3,419.4L356.3,414.1L355.5,408.8L354.9,403.5L354.4,398.1L354.1,392.8L354.0,387.5L354.1,382.2L354.4,376.9L354.9,371.6L355.5,366.3M139.8,379.4L141.4,366.6L144.0,354.0L147.3,341.5L151.2,329.3L155.7,317.3L160.4,305.6L165.5,294.1L170.9,282.8L176.6,271.8L182.6,261.1L189.0,250.6L195.7,240.5L202.7,230.7L210.1,221.2L217.8,212.0L225.8,203.3L234.1,194.8L242.6,186.8L251.4,179.2L260.4,171.9L269.7,165.1L279.1,158.6L288.6,152.5L298.3,146.9L308.1,141.6L318.1,136.6L328.1,132.1L338.1,127.9L348.3,124.1L358.4,120.7L368.6,117.6L378.8,114.8L389.0,112.4L399.2,110.4L409.4,108.7L419.5,107.3L429.7,106.3L439.7,105.7L449.8,105.4L459.8,105.5L469.7,105.9L479.5,106.7L489.2,107.9L498.8,109.4L508.3,111.2L517.6,113.4L526.8,116.0L535.9,118.8L544.7,122.0L553.4,125.5L561.8,129.3L570.1,133.4L578.1,137.8L585.9,142.4L593.5,147.2L600.9,152.2L608.1,157.4L615.0,162.7L621.8,168.2L628.3,173.8L634.6,179.6L640.7,185.5L646.6,191.5L652.3,197.6L657.8,203.9L663.1,210.2L668.1,216.7L672.9,223.3L677.5,230.1L681.8,236.9L685.8,243.9L689.6,250.9L693.2,258.0L696.5,265.3L699.5,272.6L702.3,279.9L704.8,287.3L707.0,294.8L708.9,302.3L710.6,309.8L712.0,317.4L713.2,325.0L714.0,332.5L714.6,340.1L714.9,347.7L715.0,355.2L714.7,362.7L714.2,370.1L713.4,377.5L712.4,384.8L711.1,392.0L709.5,399.2L707.6,406.3L705.5,413.2L703.2,420.0L700.6,426.7L697.8,433.3L694.7,439.7L691.5,446.0L688.0,452.1L684.3,458.1L680.5,463.9L676.6,469.6L672.6,475.2L668.7,480.8L664.7,486.2L660.5,491.6L656.3,496.9L651.8,501.9L647.1,506.7L642.2,511.3L637.0,515.6L631.7,519.7L626.2,523.5L620.6,527.1L614.8,530.3L608.9,533.4L602.9,536.1L596.8,538.6L590.7,540.9L584.5,542.9L578.3,544.7L572.1,546.3L565.9,547.7L559.6,548.9L553.4,549.8L547.1,550.6L540.9,551.1L534.7,551.5L528.5,551.6L522.4,551.5L516.3,551.3L510.2,550.8L504.1,550.1L498.2,549.3L492.2,548.2L486.4,547.0L480.6,545.6L474.9,544.0L469.2,542.2L463.7,540.2L458.2,538.1L452.9,535.7L447.6,533.3L442.5,530.6L437.4,527.8L432.5,524.8L427.7,521.7L423.0,518.5L418.4,515.0L414.0,511.5L409.7,507.8L405.6,504.0L401.6,500.0L397.7,496.0L394.0,491.8L390.4,487.5L387.1,483.1L383.8,478.7L380.7,474.1L377.8,469.4L375.1,464.7L372.5,459.8L370.1,454.9L367.9,450.0L365.8,445.0L363.9,439.9L362.2,434.8L360.7,429.6L359.3,424.4L358.2,419.1L357.2,413.9L356.3,408.6L355.7,403.3L355.3,398.0L355.0,392.7L354.9,387.4L355.0,382.1L355.2,376.9L355.7,371.6L356.3,366.4M143.7,379.4L145.4,366.7L147.9,354.2L151.2,341.9L155.1,329.8L159.5,318.0L164.2,306.4L169.3,295.0L174.6,283.9L180.3,273.0L186.2,262.4L192.6,252.1L199.2,242.1L206.2,232.4L213.5,223.0L221.1,214.0L229.1,205.3L237.3,197.0L245.7,189.1L254.5,181.6L263.4,174.4L272.5,167.7L281.8,161.3L291.3,155.4L300.9,149.8L310.6,144.6L320.4,139.7L330.3,135.3L340.3,131.2L350.3,127.5L360.3,124.1L370.4,121.0L380.5,118.3L390.5,116.0L400.6,114.0L410.7,112.3L420.7,111.0L430.7,110.1L440.6,109.5L450.6,109.2L460.4,109.3L470.2,109.8L479.8,110.6L489.4,111.7L498.9,113.2L508.2,115.0L517.4,117.2L526.5,119.8L535.4,122.6L544.1,125.8L552.6,129.3L561.0,133.0L569.1,137.1L577.0,141.4L584.7,145.9L592.2,150.7L599.5,155.6L606.5,160.8L613.3,166.0L620.0,171.5L626.4,177.0L632.6,182.7L638.6,188.5L644.5,194.4L650.1,200.4L655.5,206.5L660.7,212.8L665.6,219.2L670.4,225.7L674.9,232.3L679.2,239.0L683.2,245.8L687.0,252.8L690.5,259.8L693.7,266.9L696.7,274.1L699.5,281.3L701.9,288.6L704.2,296.0L706.1,303.4L707.8,310.8L709.2,318.2L710.3,325.7L711.2,333.2L711.8,340.6L712.1,348.1L712.2,355.5L712.0,362.9L711.5,370.2L710.7,377.5L709.7,384.7L708.4,391.9L706.9,398.9L705.1,405.9L703.1,412.8L700.8,419.5L698.3,426.2L695.5,432.7L692.5,439.0L689.3,445.2L685.9,451.3L682.2,457.2L678.5,463.0L674.6,468.6L670.7,474.1L666.8,479.6L662.9,485.1L658.8,490.4L654.6,495.6L650.2,500.6L645.5,505.3L640.7,509.9L635.6,514.2L630.3,518.2L624.9,522.0L619.3,525.5L613.6,528.7L607.8,531.7L601.9,534.5L595.9,537.0L589.8,539.3L583.7,541.3L577.6,543.1L571.5,544.7L565.3,546.1L559.1,547.3L552.9,548.2L546.8,549.0L540.6,549.5L534.4,549.9L528.3,550.0L522.2,550.0L516.2,549.8L510.1,549.3L504.1,548.7L498.2,547.8L492.3,546.8L486.5,545.6L480.8,544.2L475.1,542.6L469.5,540.9L464.0,538.9L458.6,536.8L453.3,534.5L448.1,532.1L442.9,529.5L437.9,526.7L433.0,523.8L428.2,520.7L423.6,517.4L419.1,514.1L414.7,510.5L410.4,506.9L406.3,503.1L402.3,499.2L398.4,495.2L394.8,491.0L391.2,486.8L387.8,482.4L384.6,478.0L381.5,473.5L378.6,468.8L375.9,464.1L373.3,459.3L370.9,454.5L368.7,449.5L366.7,444.5L364.8,439.5L363.1,434.4L361.5,429.3L360.2,424.1L359.0,418.9L358.0,413.7L357.2,408.4L356.6,403.2L356.1,397.9L355.8,392.7L355.7,387.4L355.8,382.1L356.0,376.9L356.5,371.7L357.1,366.5M147.7,379.4L149.4,366.9L151.9,354.5L155.2,342.3L159.0,330.4L163.4,318.7L168.0,307.2L173.0,296.0L178.3,285.0L183.9,274.2L189.9,263.7L196.1,253.5L202.7,243.7L209.7,234.1L216.9,224.8L224.5,215.9L232.3,207.4L240.5,199.2L248.9,191.4L257.5,184.0L266.3,177.0L275.4,170.3L284.6,164.0L294.0,158.2L303.5,152.7L313.1,147.6L322.8,142.8L332.6,138.5L342.4,134.4L352.3,130.8L362.3,127.5L372.2,124.5L382.1,121.9L392.1,119.6L402.0,117.6L411.9,116.0L421.8,114.7L431.7,113.8L441.5,113.2L451.3,113.0L461.0,113.1L470.7,113.6L480.2,114.4L489.6,115.5L499.0,117.0L508.2,118.9L517.3,121.1L526.2,123.6L534.9,126.4L543.5,129.5L551.9,133.0L560.1,136.7L568.1,140.8L575.9,145.0L583.5,149.5L590.8,154.2L598.0,159.1L604.9,164.2L611.6,169.4L618.1,174.7L624.5,180.2L630.6,185.8L636.5,191.5L642.3,197.3L647.8,203.2L653.2,209.2L658.3,215.4L663.2,221.6L667.9,228.0L672.3,234.5L676.6,241.1L680.5,247.8L684.3,254.6L687.8,261.5L691.0,268.5L694.0,275.6L696.7,282.7L699.1,289.9L701.3,297.2L703.3,304.4L705.0,311.7L706.4,319.1L707.5,326.4L708.4,333.8L709.0,341.2L709.4,348.5L709.4,355.8L709.2,363.1L708.8,370.3L708.1,377.5L707.1,384.7L705.8,391.7L704.3,398.7L702.6,405.6L700.6,412.4L698.4,419.0L695.9,425.6L693.2,432.0L690.2,438.3L687.1,444.5L683.7,450.5L680.2,456.3L676.5,462.0L672.7,467.6L668.9,473.1L665.0,478.5L661.1,483.9L657.1,489.1L652.9,494.3L648.6,499.2L644.0,503.9L639.2,508.4L634.2,512.7L629.0,516.7L623.6,520.4L618.1,523.9L612.4,527.1L606.7,530.1L600.9,532.9L595.0,535.4L589.0,537.6L582.9,539.7L576.9,541.5L570.8,543.1L564.7,544.5L558.6,545.6L552.5,546.6L546.4,547.4L540.3,548.0L534.2,548.3L528.1,548.5L522.1,548.5L516.1,548.2L510.1,547.8L504.2,547.2L498.3,546.4L492.5,545.4L486.7,544.2L481.0,542.8L475.4,541.3L469.8,539.6L464.4,537.7L459.0,535.6L453.7,533.3L448.5,530.9L443.4,528.3L438.4,525.6L433.6,522.7L428.8,519.6L424.2,516.4L419.7,513.1L415.3,509.6L411.1,506.0L407.0,502.2L403.0,498.4L399.2,494.4L395.5,490.3L392.0,486.1L388.6,481.8L385.4,477.3L382.4,472.8L379.5,468.2L376.7,463.6L374.2,458.8L371.8,454.0L369.6,449.1L367.5,444.1L365.6,439.1L363.9,434.1L362.4,429.0L361.1,423.8L359.9,418.7L358.9,413.5L358.1,408.3L357.4,403.1L356.9,397.8L356.7,392.6L356.5,387.3L356.6,382.1L356.8,376.9L357.3,371.7L357.9,366.5M151.7,379.4L153.4,367.0L155.9,354.8L159.1,342.8L162.9,331.0L167.2,319.4L171.9,308.0L176.8,296.9L182.0,286.0L187.6,275.4L193.5,265.1L199.7,255.0L206.2,245.2L213.1,235.8L220.3,226.7L227.8,217.9L235.6,209.4L243.7,201.4L252.0,193.7L260.5,186.4L269.3,179.5L278.3,172.9L287.4,166.8L296.7,161.0L306.1,155.6L315.6,150.6L325.2,145.9L334.9,141.6L344.6,137.7L354.4,134.1L364.2,130.9L374.0,128.0L383.8,125.4L393.6,123.1L403.4,121.2L413.2,119.7L423.0,118.5L432.7,117.6L442.4,117.0L452.1,116.8L461.6,116.9L471.1,117.4L480.6,118.2L489.9,119.4L499.1,120.9L508.1,122.7L517.1,124.9L525.9,127.4L534.5,130.2L543.0,133.3L551.2,136.7L559.3,140.4L567.2,144.4L574.8,148.7L582.3,153.1L589.5,157.8L596.5,162.6L603.3,167.6L609.9,172.7L616.3,178.0L622.6,183.4L628.6,188.9L634.4,194.4L640.1,200.1L645.6,206.0L650.8,211.9L655.9,217.9L660.7,224.1L665.4,230.3L669.8,236.7L674.0,243.2L677.9,249.8L681.6,256.5L685.0,263.3L688.2,270.2L691.2,277.1L693.9,284.1L696.3,291.2L698.5,298.3L700.5,305.5L702.1,312.7L703.6,319.9L704.7,327.2L705.6,334.4L706.2,341.7L706.6,348.9L706.7,356.1L706.5,363.3L706.1,370.5L705.4,377.6L704.4,384.6L703.2,391.6L701.8,398.5L700.1,405.3L698.1,412.0L695.9,418.5L693.5,425.0L690.9,431.4L688.0,437.6L684.9,443.7L681.6,449.6L678.1,455.4L674.5,461.0L670.8,466.6L667.0,472.0L663.2,477.4L659.3,482.7L655.4,487.9L651.3,493.0L646.9,497.9L642.4,502.5L637.7,507.0L632.7,511.2L627.6,515.2L622.3,518.9L616.9,522.3L611.3,525.6L605.6,528.5L599.9,531.3L594.0,533.7L588.1,536.0L582.2,538.0L576.2,539.8L570.1,541.4L564.1,542.8L558.1,544.0L552.0,545.0L546.0,545.8L539.9,546.4L533.9,546.8L527.9,547.0L521.9,547.0L516.0,546.7L510.0,546.3L504.2,545.7L498.3,545.0L492.6,544.0L486.8,542.8L481.2,541.5L475.6,540.0L470.1,538.3L464.7,536.4L459.3,534.3L454.1,532.1L448.9,529.7L443.9,527.2L438.9,524.5L434.1,521.6L429.4,518.6L424.8,515.4L420.3,512.1L416.0,508.7L411.7,505.1L407.7,501.4L403.7,497.5L399.9,493.6L396.3,489.5L392.8,485.3L389.4,481.1L386.2,476.7L383.2,472.2L380.3,467.7L377.6,463.0L375.0,458.3L372.6,453.5L370.4,448.7L368.4,443.7L366.5,438.8L364.8,433.7L363.3,428.7L361.9,423.6L360.7,418.4L359.7,413.3L358.9,408.1L358.3,402.9L357.8,397.7L357.5,392.5L357.4,387.3L357.4,382.1L357.7,376.9L358.1,371.8L358.6,366.6M155.7,379.4L157.3,367.2L159.8,355.1L163.0,343.2L166.8,331.5L171.1,320.1L175.7,308.8L180.6,297.9L185.8,287.1L191.3,276.6L197.1,266.4L203.3,256.5L209.8,246.8L216.6,237.5L223.7,228.5L231.1,219.8L238.9,211.5L246.9,203.6L255.1,196.0L263.6,188.8L272.3,182.0L281.1,175.5L290.2,169.5L299.4,163.8L308.7,158.5L318.1,153.6L327.6,149.0L337.1,144.8L346.8,141.0L356.4,137.4L366.1,134.3L375.8,131.4L385.5,128.9L395.2,126.7L404.9,124.9L414.5,123.4L424.2,122.2L433.8,121.3L443.3,120.8L452.8,120.6L462.3,120.8L471.6,121.2L480.9,122.1L490.1,123.2L499.2,124.7L508.1,126.5L516.9,128.7L525.6,131.2L534.0,134.0L542.4,137.1L550.5,140.5L558.4,144.2L566.2,148.1L573.7,152.3L581.0,156.7L588.1,161.3L595.0,166.1L601.7,171.0L608.2,176.1L614.5,181.2L620.7,186.5L626.6,191.9L632.3,197.4L637.9,203.0L643.3,208.7L648.5,214.6L653.5,220.5L658.3,226.5L662.9,232.7L667.2,238.9L671.3,245.3L675.2,251.8L678.9,258.4L682.3,265.0L685.5,271.8L688.4,278.6L691.1,285.5L693.5,292.5L695.7,299.5L697.6,306.6L699.3,313.7L700.7,320.8L701.9,327.9L702.8,335.1L703.4,342.2L703.8,349.3L703.9,356.5L703.8,363.5L703.4,370.6L702.7,377.6L701.8,384.5L700.6,391.4L699.2,398.2L697.6,404.9L695.7,411.5L693.5,418.1L691.2,424.5L688.6,430.7L685.7,436.9L682.7,442.9L679.5,448.8L676.1,454.5L672.5,460.1L668.8,465.5L665.1,470.9L661.4,476.3L657.6,481.5L653.6,486.6L649.6,491.7L645.3,496.5L640.9,501.1L636.2,505.5L631.3,509.7L626.2,513.6L621.0,517.3L615.6,520.8L610.1,524.0L604.5,526.9L598.8,529.6L593.1,532.1L587.2,534.4L581.4,536.4L575.4,538.2L569.5,539.8L563.5,541.2L557.5,542.4L551.6,543.4L545.6,544.2L539.6,544.8L533.6,545.2L527.7,545.4L521.7,545.4L515.9,545.2L510.0,544.9L504.2,544.3L498.4,543.5L492.7,542.6L487.0,541.4L481.4,540.1L475.9,538.6L470.4,536.9L465.0,535.1L459.7,533.1L454.5,530.9L449.4,528.5L444.4,526.0L439.4,523.3L434.6,520.5L430.0,517.5L425.4,514.4L420.9,511.1L416.6,507.7L412.4,504.2L408.4,500.5L404.4,496.7L400.7,492.8L397.0,488.8L393.5,484.6L390.2,480.4L387.0,476.0L384.0,471.6L381.1,467.1L378.4,462.5L375.9,457.8L373.5,453.0L371.3,448.2L369.2,443.3L367.4,438.4L365.7,433.4L364.1,428.4L362.8,423.3L361.6,418.2L360.6,413.1L359.8,407.9L359.1,402.8L358.6,397.6L358.3,392.4L358.2,387.3L358.3,382.1L358.5,376.9L358.9,371.8L359.4,366.7M159.7,379.4L161.3,367.3L163.8,355.4L167.0,343.6L170.7,332.1L174.9,320.7L179.5,309.7L184.3,298.8L189.5,288.2L195.0,277.8L200.7,267.7L206.9,257.9L213.3,248.4L220.0,239.2L227.1,230.3L234.5,221.8L242.1,213.6L250.1,205.7L258.2,198.3L266.6,191.2L275.2,184.5L284.0,178.1L292.9,172.2L302.0,166.6L311.2,161.4L320.6,156.6L330.0,152.1L339.4,148.0L348.9,144.2L358.5,140.8L368.0,137.7L377.6,134.9L387.2,132.4L396.7,130.3L406.3,128.5L415.8,127.0L425.3,125.9L434.8,125.0L444.2,124.6L453.6,124.4L462.9,124.6L472.1,125.1L481.3,125.9L490.3,127.1L499.2,128.5L508.0,130.4L516.7,132.5L525.2,135.0L533.6,137.7L541.8,140.8L549.8,144.2L557.6,147.9L565.2,151.8L572.6,155.9L579.8,160.3L586.8,164.8L593.6,169.5L600.2,174.4L606.5,179.4L612.7,184.5L618.7,189.7L624.6,195.0L630.3,200.4L635.7,205.9L641.0,211.5L646.2,217.2L651.1,223.0L655.8,229.0L660.3,235.0L664.7,241.1L668.7,247.4L672.6,253.8L676.2,260.2L679.6,266.8L682.8,273.4L685.7,280.1L688.3,286.9L690.7,293.8L692.9,300.7L694.8,307.6L696.5,314.6L697.9,321.6L699.1,328.7L700.0,335.7L700.6,342.7L701.0,349.8L701.1,356.8L701.0,363.8L700.6,370.7L700.0,377.6L699.1,384.5L698.0,391.2L696.6,398.0L695.0,404.6L693.2,411.1L691.1,417.6L688.8,423.9L686.2,430.1L683.5,436.2L680.5,442.1L677.4,447.9L674.0,453.6L670.5,459.1L666.9,464.5L663.2,469.9L659.5,475.1L655.8,480.3L651.9,485.4L647.9,490.4L643.7,495.2L639.3,499.7L634.7,504.1L629.8,508.2L624.8,512.1L619.7,515.8L614.4,519.2L609.0,522.4L603.4,525.3L597.8,528.0L592.1,530.5L586.4,532.7L580.6,534.8L574.7,536.6L568.8,538.2L562.9,539.6L557.0,540.8L551.1,541.8L545.2,542.6L539.3,543.2L533.4,543.7L527.5,543.9L521.6,543.9L515.7,543.7L509.9,543.4L504.2,542.8L498.4,542.1L492.8,541.2L487.1,540.0L481.6,538.8L476.1,537.3L470.7,535.6L465.3,533.8L460.1,531.8L454.9,529.7L449.8,527.3L444.8,524.9L440.0,522.2L435.2,519.4L430.5,516.5L426.0,513.4L421.6,510.1L417.3,506.8L413.1,503.3L409.1,499.6L405.2,495.9L401.4,492.0L397.8,488.0L394.3,483.9L391.0,479.7L387.8,475.4L384.8,471.0L381.9,466.5L379.2,461.9L376.7,457.3L374.3,452.6L372.1,447.8L370.1,442.9L368.2,438.0L366.5,433.1L365.0,428.1L363.6,423.0L362.5,418.0L361.5,412.9L360.6,407.8L360.0,402.6L359.5,397.5L359.2,392.4L359.0,387.2L359.1,382.1L359.3,376.9L359.7,371.8L360.2,366.8M163.6,379.4L165.3,367.4L167.8,355.6L170.9,344.0L174.6,332.6L178.8,321.4L183.3,310.5L188.1,299.8L193.2,289.3L198.6,279.0L204.4,269.1L210.4,259.4L216.8,250.0L223.5,240.9L230.5,232.1L237.8,223.7L245.4,215.6L253.3,207.9L261.3,200.6L269.7,193.6L278.2,187.0L286.9,180.8L295.7,174.9L304.7,169.4L313.8,164.3L323.0,159.6L332.3,155.2L341.7,151.2L351.1,147.5L360.5,144.1L369.9,141.1L379.4,138.3L388.8,136.0L398.3,133.9L407.7,132.1L417.1,130.7L426.5,129.6L435.8,128.8L445.1,128.3L454.4,128.2L463.5,128.4L472.6,128.9L481.6,129.7L490.5,130.9L499.3,132.4L508.0,134.2L516.5,136.3L524.9,138.8L533.1,141.5L541.2,144.6L549.1,147.9L556.8,151.6L564.2,155.4L571.5,159.5L578.6,163.8L585.4,168.3L592.1,173.0L598.6,177.8L604.8,182.7L610.9,187.8L616.8,192.9L622.6,198.1L628.2,203.4L633.6,208.8L638.8,214.3L643.8,219.9L648.7,225.6L653.4,231.4L657.8,237.3L662.1,243.4L666.1,249.5L669.9,255.7L673.5,262.1L676.9,268.5L680.0,275.1L682.9,281.7L685.5,288.3L687.9,295.1L690.1,301.9L692.0,308.7L693.7,315.6L695.1,322.5L696.2,329.4L697.1,336.3L697.8,343.3L698.2,350.2L698.4,357.1L698.3,364.0L697.9,370.8L697.3,377.6L696.5,384.4L695.4,391.1L694.1,397.7L692.5,404.3L690.7,410.7L688.7,417.1L686.4,423.3L683.9,429.4L681.2,435.5L678.3,441.3L675.2,447.1L671.9,452.7L668.5,458.2L665.0,463.5L661.4,468.8L657.7,474.0L654.0,479.1L650.2,484.2L646.2,489.1L642.1,493.8L637.7,498.3L633.1,502.7L628.4,506.7L623.5,510.6L618.4,514.2L613.2,517.6L607.8,520.8L602.4,523.7L596.8,526.4L591.2,528.9L585.5,531.1L579.8,533.1L574.0,535.0L568.2,536.6L562.3,538.0L556.5,539.2L550.6,540.2L544.8,541.0L538.9,541.7L533.1,542.1L527.3,542.3L521.4,542.4L515.6,542.2L509.9,541.9L504.2,541.4L498.5,540.6L492.9,539.7L487.3,538.7L481.8,537.4L476.3,536.0L471.0,534.3L465.7,532.5L460.4,530.6L455.3,528.5L450.3,526.2L445.3,523.7L440.5,521.1L435.7,518.3L431.1,515.4L426.6,512.4L422.2,509.2L417.9,505.8L413.8,502.3L409.7,498.7L405.9,495.0L402.1,491.2L398.5,487.2L395.1,483.2L391.8,479.0L388.6,474.7L385.6,470.4L382.8,465.9L380.1,461.4L377.5,456.8L375.2,452.1L373.0,447.3L370.9,442.5L369.1,437.7L367.4,432.7L365.9,427.8L364.5,422.8L363.3,417.7L362.3,412.7L361.5,407.6L360.8,402.5L360.3,397.4L360.0,392.3L359.9,387.2L359.9,382.1L360.1,377.0L360.5,371.9L361.0,366.8M167.6,379.4L169.3,367.6L171.7,355.9L174.9,344.4L178.5,333.2L182.7,322.1L187.1,311.3L191.9,300.7L196.9,290.3L202.3,280.2L208.0,270.4L214.0,260.8L220.3,251.6L227.0,242.6L233.9,234.0L241.2,225.7L248.7,217.7L256.4,210.1L264.5,202.9L272.7,196.0L281.1,189.5L289.7,183.4L298.5,177.6L307.4,172.2L316.4,167.2L325.5,162.6L334.7,158.3L343.9,154.3L353.2,150.7L362.5,147.4L371.9,144.5L381.2,141.8L390.5,139.5L399.8,137.5L409.1,135.7L418.4,134.4L427.7,133.3L436.9,132.5L446.0,132.1L455.1,132.0L464.2,132.2L473.1,132.7L482.0,133.6L490.7,134.7L499.4,136.2L507.9,138.0L516.3,140.1L524.6,142.6L532.7,145.3L540.6,148.3L548.4,151.7L555.9,155.3L563.3,159.1L570.4,163.2L577.4,167.4L584.1,171.9L590.6,176.5L597.0,181.2L603.1,186.1L609.1,191.0L614.9,196.1L620.6,201.2L626.1,206.4L631.4,211.7L636.5,217.1L641.5,222.6L646.3,228.2L650.9,233.9L655.3,239.7L659.5,245.6L663.5,251.6L667.3,257.7L670.8,264.0L674.2,270.3L677.3,276.7L680.1,283.2L682.7,289.7L685.1,296.4L687.3,303.0L689.2,309.8L690.8,316.5L692.2,323.3L693.4,330.1L694.3,336.9L695.0,343.8L695.4,350.6L695.6,357.4L695.5,364.2L695.2,370.9L694.7,377.7L693.9,384.3L692.8,390.9L691.5,397.5L690.0,403.9L688.2,410.3L686.3,416.6L684.0,422.7L681.6,428.8L679.0,434.7L676.1,440.6L673.1,446.2L669.9,451.8L666.5,457.2L663.0,462.5L659.5,467.7L655.9,472.9L652.2,477.9L648.5,482.9L644.6,487.8L640.5,492.5L636.2,496.9L631.6,501.2L627.0,505.3L622.1,509.1L617.1,512.7L611.9,516.0L606.6,519.2L601.3,522.1L595.8,524.8L590.2,527.2L584.6,529.5L579.0,531.5L573.3,533.3L567.5,534.9L561.8,536.4L556.0,537.6L550.2,538.6L544.4,539.5L538.6,540.1L532.8,540.5L527.0,540.8L521.3,540.9L515.5,540.7L509.8,540.4L504.2,539.9L498.6,539.2L493.0,538.3L487.5,537.3L482.0,536.0L476.6,534.6L471.2,533.0L466.0,531.3L460.8,529.3L455.7,527.2L450.7,525.0L445.8,522.6L441.0,520.0L436.3,517.2L431.7,514.4L427.2,511.3L422.8,508.2L418.6,504.9L414.4,501.4L410.4,497.9L406.6,494.2L402.9,490.4L399.3,486.5L395.8,482.4L392.6,478.3L389.4,474.1L386.4,469.7L383.6,465.3L380.9,460.8L378.4,456.3L376.0,451.6L373.8,446.9L371.8,442.1L369.9,437.3L368.2,432.4L366.7,427.5L365.4,422.5L364.2,417.5L363.2,412.5L362.3,407.4L361.7,402.4L361.2,397.3L360.8,392.2L360.7,387.1L360.7,382.0L360.9,377.0L361.3,371.9L361.8,366.9M171.6,379.4L173.3,367.7L175.7,356.2L178.8,344.9L182.4,333.7L186.5,322.8L190.9,312.1L195.6,301.6L200.6,291.4L206.0,281.4L211.6,271.7L217.6,262.3L223.9,253.1L230.4,244.3L237.3,235.8L244.5,227.6L251.9,219.8L259.6,212.3L267.6,205.2L275.7,198.4L284.1,192.0L292.6,186.0L301.3,180.3L310.1,175.1L319.0,170.1L328.0,165.6L337.1,161.4L346.2,157.5L355.4,154.0L364.6,150.8L373.8,147.9L383.0,145.3L392.2,143.0L401.4,141.0L410.6,139.4L419.7,138.0L428.8,137.0L437.9,136.3L446.9,135.9L455.9,135.8L464.8,136.0L473.6,136.5L482.3,137.4L491.0,138.6L499.5,140.1L507.9,141.9L516.2,144.0L524.3,146.4L532.2,149.1L540.0,152.1L547.6,155.4L555.1,159.0L562.3,162.8L569.3,166.8L576.1,171.0L582.7,175.4L589.2,179.9L595.4,184.6L601.4,189.4L607.3,194.3L613.0,199.3L618.6,204.3L624.0,209.4L629.2,214.6L634.3,219.9L639.2,225.2L643.9,230.7L648.5,236.3L652.8,242.0L657.0,247.8L660.9,253.7L664.7,259.7L668.2,265.8L671.5,272.0L674.5,278.3L677.4,284.7L680.0,291.2L682.3,297.7L684.5,304.2L686.4,310.8L688.0,317.5L689.4,324.2L690.6,330.9L691.5,337.6L692.2,344.3L692.7,351.0L692.8,357.7L692.8,364.4L692.5,371.1L692.0,377.7L691.2,384.3L690.2,390.8L688.9,397.2L687.5,403.6L685.8,409.9L683.8,416.1L681.7,422.2L679.3,428.2L676.7,434.0L674.0,439.8L671.0,445.4L667.8,450.9L664.5,456.2L661.1,461.5L657.6,466.6L654.1,471.7L650.5,476.8L646.8,481.7L642.9,486.5L638.8,491.1L634.6,495.5L630.1,499.8L625.5,503.8L620.7,507.6L615.8,511.1L610.7,514.5L605.5,517.6L600.2,520.5L594.8,523.2L589.3,525.6L583.8,527.8L578.2,529.9L572.5,531.7L566.9,533.3L561.2,534.7L555.5,536.0L549.7,537.0L544.0,537.9L538.3,538.5L532.5,539.0L526.8,539.2L521.1,539.3L515.4,539.2L509.8,538.9L504.2,538.4L498.6,537.8L493.1,536.9L487.6,535.9L482.2,534.7L476.8,533.3L471.5,531.7L466.3,530.0L461.2,528.1L456.1,526.0L451.1,523.8L446.3,521.4L441.5,518.9L436.8,516.2L432.2,513.3L427.8,510.3L423.4,507.2L419.2,503.9L415.1,500.5L411.1,497.0L407.3,493.3L403.6,489.6L400.0,485.7L396.6,481.7L393.3,477.6L390.2,473.4L387.2,469.1L384.4,464.7L381.7,460.3L379.2,455.7L376.9,451.1L374.7,446.5L372.7,441.7L370.8,436.9L369.1,432.1L367.6,427.2L366.2,422.2L365.0,417.3L364.0,412.3L363.2,407.3L362.5,402.2L362.0,397.2L361.7,392.1L361.5,387.1L361.5,382.0L361.7,377.0L362.1,372.0L362.6,367.0M175.6,379.4L177.3,367.9L179.7,356.5L182.8,345.3L186.3,334.3L190.4,323.5L194.7,312.9L199.4,302.6L204.4,292.5L209.7,282.7L215.3,273.1L221.2,263.8L227.4,254.7L233.9,246.0L240.7,237.6L247.8,229.6L255.2,221.8L262.8,214.5L270.7,207.4L278.8,200.8L287.0,194.5L295.5,188.6L304.1,183.1L312.8,177.9L321.6,173.1L330.5,168.6L339.5,164.5L348.5,160.7L357.5,157.2L366.6,154.1L375.7,151.3L384.8,148.7L393.9,146.5L402.9,144.6L412.0,143.0L421.0,141.7L430.0,140.7L438.9,140.0L447.8,139.6L456.6,139.6L465.4,139.8L474.1,140.4L482.7,141.2L491.2,142.4L499.6,143.9L507.8,145.7L516.0,147.8L524.0,150.2L531.8,152.9L539.5,155.9L546.9,159.1L554.2,162.7L561.3,166.4L568.2,170.4L574.9,174.6L581.4,178.9L587.7,183.4L593.8,188.0L599.7,192.8L605.5,197.6L611.1,202.4L616.6,207.4L621.9,212.4L627.0,217.5L632.0,222.6L636.8,227.9L641.5,233.3L646.0,238.7L650.3,244.3L654.4,250.0L658.3,255.8L662.0,261.7L665.5,267.7L668.7,273.8L671.8,280.0L674.6,286.2L677.2,292.6L679.5,298.9L681.6,305.4L683.5,311.9L685.2,318.4L686.6,325.0L687.8,331.6L688.7,338.2L689.4,344.8L689.9,351.4L690.1,358.0L690.1,364.6L689.8,371.2L689.3,377.7L688.6,384.2L687.6,390.6L686.4,397.0L685.0,403.2L683.3,409.5L681.4,415.6L679.3,421.6L677.0,427.5L674.5,433.3L671.8,439.0L668.8,444.5L665.8,450.0L662.5,455.3L659.2,460.5L655.7,465.6L652.3,470.6L648.7,475.6L645.0,480.4L641.2,485.2L637.2,489.8L633.0,494.1L628.6,498.3L624.1,502.3L619.3,506.0L614.5,509.6L609.5,512.9L604.3,516.0L599.1,518.9L593.8,521.5L588.4,524.0L582.9,526.2L577.4,528.2L571.8,530.1L566.2,531.7L560.6,533.1L554.9,534.4L549.3,535.4L543.6,536.3L537.9,536.9L532.3,537.4L526.6,537.7L521.0,537.8L515.3,537.7L509.8,537.4L504.2,537.0L498.7,536.3L493.2,535.5L487.8,534.5L482.4,533.3L477.1,532.0L471.8,530.4L466.6,528.7L461.5,526.8L456.5,524.8L451.6,522.6L446.7,520.3L442.0,517.7L437.3,515.1L432.8,512.3L428.4,509.3L424.1,506.2L419.9,503.0L415.8,499.6L411.8,496.1L408.0,492.5L404.3,488.8L400.8,484.9L397.4,481.0L394.1,476.9L391.0,472.8L388.0,468.5L385.2,464.2L382.6,459.7L380.1,455.2L377.7,450.7L375.5,446.0L373.5,441.3L371.7,436.5L370.0,431.7L368.5,426.9L367.1,422.0L365.9,417.0L364.9,412.1L364.0,407.1L363.4,402.1L362.9,397.1L362.5,392.1L362.4,387.0L362.4,382.0L362.5,377.0L362.9,372.0L363.4,367.0M179.5,379.4L181.2,368.0L183.7,356.8L186.7,345.7L190.3,334.8L194.2,324.2L198.5,313.7L203.2,303.5L208.1,293.6L213.3,283.9L218.9,274.4L224.7,265.2L230.9,256.3L237.4,247.7L244.1,239.4L251.2,231.5L258.5,223.9L266.0,216.6L273.8,209.7L281.8,203.2L290.0,197.0L298.3,191.2L306.8,185.8L315.5,180.7L324.2,176.0L333.0,171.6L341.8,167.6L350.8,163.9L359.7,160.5L368.7,157.4L377.6,154.7L386.6,152.2L395.5,150.0L404.5,148.2L413.4,146.6L422.3,145.4L431.1,144.4L440.0,143.8L448.7,143.4L457.4,143.4L466.0,143.6L474.6,144.2L483.0,145.1L491.4,146.2L499.7,147.7L507.8,149.5L515.8,151.6L523.6,154.0L531.3,156.7L538.9,159.6L546.2,162.9L553.4,166.4L560.3,170.1L567.1,174.0L573.7,178.2L580.0,182.5L586.2,186.9L592.2,191.4L598.0,196.1L603.7,200.8L609.2,205.6L614.6,210.5L619.8,215.4L624.8,220.4L629.8,225.4L634.5,230.6L639.1,235.8L643.5,241.2L647.8,246.7L651.8,252.2L655.7,257.9L659.4,263.7L662.8,269.6L666.0,275.5L669.0,281.6L671.8,287.7L674.4,294.0L676.7,300.2L678.8,306.6L680.7,313.0L682.4,319.4L683.8,325.9L685.0,332.3L685.9,338.8L686.6,345.3L687.1,351.9L687.3,358.4L687.3,364.8L687.1,371.3L686.6,377.7L685.9,384.1L685.0,390.4L683.8,396.7L682.4,402.9L680.8,409.0L679.0,415.1L676.9,421.0L674.7,426.9L672.2,432.6L669.6,438.2L666.7,443.7L663.7,449.1L660.5,454.3L657.2,459.5L653.9,464.5L650.4,469.5L646.9,474.4L643.3,479.2L639.5,483.9L635.6,488.4L631.5,492.7L627.1,496.9L622.6,500.8L618.0,504.5L613.2,508.0L608.2,511.3L603.2,514.4L598.0,517.3L592.8,519.9L587.4,522.4L582.0,524.6L576.6,526.6L571.1,528.4L565.6,530.1L560.0,531.5L554.4,532.8L548.8,533.8L543.2,534.7L537.6,535.4L532.0,535.9L526.4,536.2L520.8,536.3L515.2,536.2L509.7,535.9L504.2,535.5L498.7,534.9L493.3,534.1L487.9,533.1L482.6,531.9L477.3,530.6L472.1,529.1L467.0,527.4L461.9,525.6L456.9,523.6L452.0,521.4L447.2,519.1L442.5,516.6L437.9,514.0L433.4,511.2L429.0,508.3L424.7,505.2L420.5,502.0L416.5,498.7L412.5,495.2L408.7,491.7L405.1,488.0L401.5,484.2L398.2,480.2L394.9,476.2L391.8,472.1L388.9,467.9L386.1,463.6L383.4,459.2L380.9,454.7L378.6,450.2L376.4,445.6L374.4,440.9L372.5,436.2L370.8,431.4L369.3,426.6L368.0,421.7L366.8,416.8L365.8,411.9L364.9,406.9L364.2,402.0L363.7,397.0L363.4,392.0L363.2,387.0L363.2,382.0L363.4,377.0L363.7,372.0L364.2,367.1M183.5,379.4L185.2,368.1L187.6,357.0L190.6,346.1L194.2,335.4L198.1,324.9L202.3,314.6L206.9,304.5L211.8,294.7L217.0,285.1L222.5,275.7L228.3,266.7L234.4,257.9L240.8,249.4L247.5,241.3L254.5,233.4L261.8,226.0L269.2,218.8L276.9,212.0L284.9,205.6L292.9,199.5L301.2,193.8L309.6,188.5L318.1,183.5L326.8,178.9L335.5,174.6L344.2,170.6L353.0,167.0L361.9,163.7L370.7,160.7L379.6,158.1L388.4,155.7L397.2,153.6L406.0,151.8L414.8,150.2L423.6,149.0L432.3,148.1L441.0,147.5L449.6,147.2L458.2,147.2L466.7,147.4L475.1,148.0L483.4,148.9L491.6,150.1L499.7,151.6L507.7,153.3L515.6,155.4L523.3,157.8L530.9,160.5L538.3,163.4L545.5,166.6L552.5,170.1L559.4,173.8L566.0,177.7L572.5,181.8L578.7,186.0L584.8,190.4L590.6,194.9L596.3,199.4L601.9,204.1L607.3,208.8L612.6,213.5L617.7,218.4L622.7,223.2L627.5,228.2L632.2,233.3L636.7,238.4L641.1,243.6L645.3,249.0L649.3,254.4L653.1,260.0L656.7,265.7L660.1,271.4L663.3,277.3L666.3,283.2L669.0,289.3L671.6,295.4L673.9,301.5L676.0,307.8L677.9,314.0L679.5,320.3L680.9,326.7L682.1,333.1L683.1,339.5L683.8,345.9L684.3,352.3L684.6,358.7L684.6,365.1L684.4,371.4L683.9,377.8L683.3,384.0L682.4,390.3L681.3,396.5L679.9,402.6L678.3,408.6L676.6,414.6L674.6,420.4L672.4,426.2L670.0,431.9L667.4,437.4L664.6,442.9L661.6,448.2L658.5,453.3L655.3,458.4L652.0,463.4L648.6,468.4L645.2,473.2L641.6,478.0L637.9,482.6L634.0,487.0L629.9,491.3L625.6,495.4L621.2,499.3L616.6,503.0L611.9,506.5L607.0,509.8L602.0,512.8L596.9,515.7L591.7,518.3L586.5,520.7L581.2,523.0L575.8,525.0L570.4,526.8L564.9,528.4L559.4,529.9L553.9,531.1L548.4,532.2L542.8,533.1L537.3,533.8L531.7,534.3L526.2,534.6L520.7,534.8L515.1,534.7L509.7,534.5L504.2,534.0L498.8,533.5L493.4,532.7L488.1,531.7L482.8,530.6L477.6,529.3L472.4,527.8L467.3,526.2L462.3,524.4L457.3,522.4L452.5,520.2L447.7,518.0L443.0,515.5L438.4,512.9L433.9,510.2L429.6,507.3L425.3,504.3L421.2,501.1L417.1,497.8L413.2,494.4L409.5,490.8L405.8,487.2L402.3,483.4L398.9,479.5L395.7,475.5L392.6,471.4L389.7,467.3L386.9,463.0L384.2,458.6L381.7,454.2L379.4,449.7L377.2,445.1L375.2,440.5L373.4,435.8L371.7,431.1L370.2,426.3L368.8,421.4L367.6,416.6L366.6,411.7L365.8,406.8L365.1,401.8L364.6,396.9L364.2,391.9L364.0,386.9L364.0,382.0L364.2,377.0L364.5,372.1L365.0,367.2M187.5,379.4L189.2,368.3L191.6,357.3L194.6,346.5L198.1,335.9L201.9,325.5L206.2,315.4L210.7,305.4L215.5,295.7L220.7,286.3L226.1,277.1L231.9,268.1L237.9,259.5L244.3,251.1L250.9,243.1L257.9,235.4L265.0,228.0L272.4,221.0L280.1,214.3L287.9,208.0L295.9,202.0L304.1,196.5L312.4,191.2L320.8,186.3L329.3,181.8L337.9,177.6L346.6,173.7L355.3,170.2L364.0,167.0L372.7,164.1L381.5,161.4L390.2,159.1L398.9,157.1L407.6,155.3L416.3,153.9L424.9,152.7L433.5,151.8L442.0,151.2L450.5,151.0L458.9,151.0L467.3,151.3L475.6,151.8L483.8,152.7L491.8,153.9L499.8,155.4L507.7,157.2L515.4,159.2L523.0,161.6L530.4,164.2L537.7,167.1L544.8,170.3L551.7,173.8L558.4,177.4L564.9,181.3L571.2,185.3L577.4,189.5L583.3,193.8L589.1,198.3L594.6,202.8L600.1,207.3L605.4,212.0L610.6,216.6L615.6,221.3L620.5,226.1L625.2,231.0L629.9,235.9L634.3,241.0L638.6,246.1L642.8,251.3L646.7,256.7L650.5,262.1L654.1,267.6L657.4,273.3L660.6,279.0L663.5,284.9L666.3,290.8L668.8,296.8L671.1,302.8L673.2,308.9L675.1,315.1L676.7,321.3L678.1,327.5L679.3,333.8L680.3,340.1L681.0,346.4L681.5,352.7L681.8,359.0L681.8,365.3L681.7,371.5L681.3,377.8L680.6,384.0L679.8,390.1L678.7,396.2L677.4,402.2L675.9,408.2L674.1,414.1L672.2,419.9L670.1,425.6L667.7,431.2L665.2,436.6L662.5,442.0L659.6,447.3L656.5,452.4L653.4,457.4L650.1,462.4L646.8,467.2L643.4,472.0L639.9,476.7L636.2,481.3L632.4,485.7L628.3,489.9L624.1,494.0L619.7,497.8L615.2,501.5L610.6,504.9L605.8,508.2L600.8,511.2L595.8,514.0L590.7,516.7L585.5,519.1L580.3,521.3L575.0,523.3L569.6,525.2L564.2,526.8L558.8,528.3L553.4,529.5L547.9,530.6L542.4,531.5L536.9,532.2L531.5,532.7L526.0,533.1L520.5,533.2L515.0,533.2L509.6,533.0L504.2,532.6L498.8,532.0L493.5,531.3L488.2,530.3L483.0,529.2L477.8,527.9L472.7,526.5L467.6,524.9L462.6,523.1L457.7,521.2L452.9,519.1L448.2,516.8L443.5,514.4L439.0,511.8L434.5,509.1L430.2,506.3L425.9,503.3L421.8,500.1L417.8,496.9L413.9,493.5L410.2,490.0L406.5,486.4L403.1,482.6L399.7,478.8L396.5,474.8L393.4,470.8L390.5,466.6L387.7,462.4L385.1,458.1L382.6,453.7L380.3,449.2L378.1,444.7L376.1,440.1L374.2,435.4L372.6,430.7L371.0,426.0L369.7,421.2L368.5,416.3L367.5,411.5L366.6,406.6L365.9,401.7L365.4,396.8L365.0,391.8L364.9,386.9L364.8,382.0L365.0,377.0L365.3,372.1L365.8,367.2M191.5,379.4L193.2,368.4L195.6,357.6L198.5,346.9L202.0,336.5L205.8,326.2L210.0,316.2L214.5,306.4L219.2,296.8L224.4,287.5L229.8,278.4L235.5,269.6L241.5,261.1L247.8,252.8L254.3,244.9L261.2,237.3L268.3,230.1L275.6,223.2L283.2,216.6L290.9,210.4L298.9,204.6L306.9,199.1L315.2,193.9L323.5,189.1L331.9,184.7L340.4,180.6L349.0,176.8L357.6,173.4L366.2,170.2L374.8,167.4L383.4,164.8L392.0,162.6L400.6,160.6L409.1,158.9L417.7,157.5L426.2,156.4L434.6,155.5L443.0,155.0L451.4,154.7L459.7,154.7L467.9,155.1L476.1,155.7L484.1,156.6L492.1,157.8L499.9,159.2L507.6,161.0L515.2,163.1L522.7,165.4L530.0,168.0L537.1,170.9L544.1,174.1L550.8,177.5L557.4,181.1L563.8,184.9L570.0,188.9L576.0,193.1L581.8,197.3L587.5,201.7L592.9,206.1L598.3,210.6L603.5,215.1L608.5,219.7L613.5,224.3L618.3,229.0L623.0,233.8L627.5,238.6L631.9,243.5L636.2,248.5L640.3,253.6L644.2,258.9L647.9,264.2L651.4,269.6L654.7,275.2L657.9,280.8L660.8,286.5L663.5,292.3L666.0,298.2L668.3,304.1L670.4,310.1L672.2,316.2L673.9,322.3L675.3,328.4L676.5,334.5L677.5,340.7L678.2,346.9L678.7,353.1L679.0,359.3L679.1,365.5L679.0,371.7L678.6,377.8L678.0,383.9L677.2,390.0L676.1,396.0L674.9,401.9L673.4,407.8L671.7,413.6L669.8,419.3L667.8,424.9L665.5,430.4L663.0,435.9L660.3,441.2L657.5,446.4L654.5,451.4L651.4,456.4L648.2,461.3L645.0,466.1L641.6,470.8L638.1,475.5L634.5,480.0L630.7,484.3L626.8,488.5L622.6,492.5L618.3,496.4L613.8,500.0L609.2,503.4L604.5,506.6L599.7,509.6L594.7,512.4L589.7,515.1L584.6,517.5L579.4,519.7L574.2,521.7L568.9,523.5L563.6,525.2L558.2,526.6L552.9,527.9L547.5,529.0L542.0,529.9L536.6,530.6L531.2,531.2L525.8,531.5L520.3,531.7L514.9,531.7L509.6,531.5L504.2,531.1L498.9,530.6L493.6,529.8L488.4,528.9L483.2,527.9L478.0,526.6L473.0,525.2L467.9,523.6L463.0,521.9L458.1,519.9L453.3,517.9L448.6,515.7L444.0,513.3L439.5,510.7L435.1,508.1L430.8,505.2L426.6,502.3L422.5,499.2L418.5,496.0L414.6,492.6L410.9,489.2L407.3,485.6L403.8,481.9L400.5,478.1L397.3,474.1L394.2,470.1L391.3,466.0L388.5,461.8L385.9,457.5L383.4,453.2L381.1,448.8L379.0,444.3L377.0,439.7L375.1,435.1L373.4,430.4L371.9,425.7L370.5,420.9L369.4,416.1L368.3,411.3L367.5,406.4L366.8,401.5L366.2,396.7L365.9,391.8L365.7,386.9L365.7,381.9L365.8,377.1L366.1,372.2L366.6,367.3M195.5,379.4L197.2,368.6L199.5,357.9L202.5,347.4L205.9,337.0L209.7,326.9L213.8,317.0L218.2,307.3L223.0,297.9L228.0,288.7L233.4,279.7L239.0,271.0L245.0,262.6L251.2,254.5L257.7,246.8L264.5,239.3L271.6,232.2L278.8,225.4L286.3,218.9L294.0,212.8L301.8,207.1L309.8,201.7L317.9,196.6L326.2,192.0L334.5,187.6L342.9,183.6L351.4,179.9L359.8,176.6L368.3,173.5L376.8,170.7L385.3,168.2L393.8,166.0L402.3,164.1L410.7,162.5L419.1,161.1L427.5,160.0L435.8,159.2L444.1,158.7L452.3,158.5L460.5,158.5L468.5,158.9L476.6,159.5L484.5,160.4L492.3,161.6L500.0,163.1L507.6,164.8L515.1,166.9L522.4,169.2L529.5,171.8L536.5,174.7L543.4,177.8L550.0,181.2L556.4,184.8L562.7,188.6L568.8,192.5L574.7,196.6L580.4,200.8L585.9,205.1L591.3,209.4L596.5,213.9L601.6,218.3L606.5,222.8L611.4,227.3L616.1,231.9L620.7,236.6L625.2,241.3L629.5,246.1L633.7,251.0L637.7,256.0L641.6,261.1L645.3,266.3L648.8,271.6L652.1,277.0L655.2,282.5L658.1,288.1L660.7,293.8L663.2,299.6L665.5,305.4L667.6,311.3L669.4,317.2L671.1,323.2L672.5,329.2L673.7,335.3L674.6,341.4L675.4,347.4L675.9,353.5L676.3,359.6L676.4,365.7L676.2,371.8L675.9,377.8L675.3,383.8L674.6,389.8L673.6,395.7L672.3,401.6L670.9,407.4L669.3,413.1L667.5,418.7L665.5,424.3L663.2,429.7L660.8,435.1L658.2,440.3L655.4,445.4L652.5,450.5L649.5,455.4L646.4,460.2L643.1,465.0L639.8,469.7L636.4,474.2L632.8,478.7L629.1,483.0L625.2,487.1L621.1,491.1L616.9,494.9L612.5,498.5L607.9,501.8L603.3,505.0L598.5,508.0L593.7,510.8L588.7,513.4L583.7,515.8L578.6,518.1L573.4,520.1L568.2,521.9L562.9,523.6L557.6,525.0L552.3,526.3L547.0,527.4L541.6,528.3L536.3,529.1L530.9,529.6L525.5,530.0L520.2,530.2L514.8,530.2L509.5,530.0L504.2,529.7L498.9,529.1L493.7,528.4L488.5,527.6L483.4,526.5L478.3,525.3L473.2,523.9L468.3,522.3L463.4,520.6L458.5,518.7L453.8,516.7L449.1,514.5L444.5,512.2L440.0,509.7L435.6,507.0L431.4,504.2L427.2,501.3L423.1,498.3L419.2,495.1L415.3,491.8L411.6,488.3L408.0,484.8L404.6,481.1L401.2,477.3L398.1,473.4L395.0,469.5L392.1,465.4L389.3,461.2L386.7,457.0L384.3,452.7L382.0,448.3L379.8,443.8L377.8,439.3L376.0,434.7L374.3,430.1L372.8,425.4L371.4,420.6L370.2,415.9L369.2,411.1L368.3,406.3L367.6,401.4L367.1,396.6L366.7,391.7L366.5,386.8L366.5,381.9L366.6,377.1L366.9,372.2L367.4,367.4M199.4,379.4L201.2,368.7L203.5,358.2L206.4,347.8L209.8,337.6L213.5,327.6L217.6,317.8L222.0,308.3L226.7,299.0L231.7,289.9L237.0,281.1L242.6,272.5L248.5,264.2L254.7,256.2L261.2,248.6L267.9,241.2L274.8,234.2L282.0,227.5L289.4,221.2L297.0,215.2L304.8,209.6L312.7,204.3L320.7,199.4L328.9,194.8L337.1,190.5L345.4,186.6L353.7,183.0L362.1,179.7L370.5,176.7L378.9,174.1L387.2,171.6L395.6,169.5L403.9,167.6L412.2,166.1L420.5,164.7L428.8,163.7L437.0,162.9L445.1,162.5L453.2,162.3L461.2,162.3L469.2,162.7L477.0,163.3L484.8,164.2L492.5,165.4L500.1,166.9L507.5,168.7L514.9,170.7L522.1,173.0L529.1,175.6L536.0,178.4L542.6,181.5L549.2,184.9L555.5,188.4L561.6,192.2L567.5,196.1L573.3,200.1L578.9,204.3L584.3,208.5L589.6,212.8L594.7,217.1L599.7,221.5L604.5,225.9L609.3,230.3L613.9,234.8L618.5,239.3L622.9,244.0L627.1,248.6L631.3,253.4L635.2,258.3L639.0,263.3L642.7,268.4L646.1,273.6L649.4,278.9L652.4,284.3L655.3,289.8L658.0,295.3L660.4,301.0L662.7,306.7L664.8,312.5L666.6,318.3L668.2,324.2L669.6,330.1L670.8,336.0L671.8,342.0L672.6,348.0L673.2,354.0L673.5,360.0L673.6,365.9L673.5,371.9L673.2,377.9L672.7,383.8L671.9,389.6L671.0,395.5L669.8,401.2L668.5,407.0L666.9,412.6L665.1,418.2L663.1,423.6L661.0,429.0L658.6,434.3L656.1,439.5L653.4,444.5L650.5,449.5L647.6,454.4L644.5,459.2L641.3,463.9L638.1,468.5L634.7,473.0L631.2,477.4L627.5,481.6L623.6,485.7L619.6,489.6L615.4,493.4L611.1,496.9L606.6,500.3L602.1,503.5L597.4,506.4L592.6,509.2L587.7,511.8L582.7,514.2L577.7,516.4L572.6,518.4L567.5,520.3L562.3,521.9L557.1,523.4L551.8,524.7L546.5,525.8L541.3,526.7L535.9,527.5L530.6,528.1L525.3,528.4L520.0,528.7L514.7,528.7L509.5,528.5L504.2,528.2L499.0,527.7L493.8,527.0L488.7,526.2L483.6,525.1L478.5,523.9L473.5,522.6L468.6,521.1L463.7,519.4L458.9,517.5L454.2,515.5L449.6,513.3L445.0,511.0L440.6,508.6L436.2,506.0L432.0,503.2L427.8,500.3L423.8,497.3L419.8,494.2L416.0,490.9L412.3,487.5L408.8,484.0L405.3,480.3L402.0,476.6L398.8,472.8L395.8,468.8L392.9,464.8L390.2,460.7L387.6,456.5L385.1,452.2L382.8,447.8L380.7,443.4L378.7,438.9L376.8,434.3L375.2,429.7L373.6,425.1L372.3,420.4L371.1,415.6L370.0,410.9L369.2,406.1L368.5,401.3L367.9,396.4L367.6,391.6L367.3,386.8L367.3,381.9L367.4,377.1L367.7,372.3L368.1,367.4M203.4,379.4L205.2,368.8L207.5,358.4L210.3,348.2L213.7,338.1L217.4,328.3L221.4,318.6L225.8,309.2L230.4,300.0L235.4,291.1L240.6,282.4L246.2,274.0L252.0,265.8L258.2,258.0L264.6,250.4L271.2,243.2L278.1,236.3L285.2,229.7L292.5,223.5L300.0,217.6L307.7,212.1L315.6,206.9L323.5,202.1L331.6,197.6L339.7,193.4L347.9,189.6L356.1,186.1L364.4,182.9L372.6,180.0L380.9,177.4L389.2,175.0L397.4,173.0L405.6,171.2L413.8,169.6L421.9,168.4L430.1,167.4L438.1,166.7L446.1,166.2L454.1,166.0L462.0,166.1L469.8,166.5L477.5,167.2L485.2,168.1L492.7,169.3L500.2,170.7L507.5,172.5L514.7,174.5L521.7,176.8L528.6,179.4L535.4,182.2L541.9,185.3L548.3,188.6L554.5,192.1L560.5,195.8L566.3,199.7L572.0,203.6L577.4,207.7L582.7,211.9L587.9,216.1L592.9,220.4L597.8,224.7L602.5,229.0L607.2,233.3L611.8,237.7L616.2,242.1L620.5,246.6L624.7,251.2L628.8,255.9L632.7,260.6L636.5,265.5L640.1,270.5L643.5,275.6L646.7,280.8L649.7,286.0L652.6,291.4L655.2,296.9L657.7,302.4L659.9,308.0L661.9,313.6L663.8,319.4L665.4,325.1L666.8,330.9L668.0,336.8L669.0,342.6L669.8,348.5L670.4,354.4L670.7,360.3L670.9,366.2L670.8,372.0L670.5,377.9L670.0,383.7L669.3,389.5L668.4,395.2L667.3,400.9L666.0,406.5L664.5,412.1L662.7,417.6L660.8,423.0L658.7,428.3L656.4,433.5L654.0,438.6L651.3,443.6L648.5,448.5L645.6,453.4L642.6,458.1L639.5,462.7L636.3,467.3L633.0,471.7L629.5,476.1L625.9,480.3L622.1,484.3L618.1,488.2L614.0,491.9L609.7,495.4L605.3,498.7L600.8,501.9L596.2,504.8L591.5,507.6L586.7,510.2L581.8,512.6L576.8,514.8L571.8,516.8L566.7,518.7L561.6,520.3L556.5,521.8L551.3,523.1L546.1,524.2L540.9,525.2L535.6,525.9L530.4,526.5L525.1,526.9L519.9,527.1L514.6,527.2L509.4,527.0L504.2,526.7L499.1,526.3L493.9,525.6L488.8,524.8L483.8,523.8L478.8,522.6L473.8,521.3L468.9,519.8L464.1,518.1L459.3,516.3L454.7,514.3L450.1,512.2L445.5,509.9L441.1,507.5L436.8,504.9L432.6,502.2L428.4,499.3L424.4,496.4L420.5,493.2L416.7,490.0L413.0,486.6L409.5,483.2L406.1,479.6L402.8,475.9L399.6,472.1L396.6,468.2L393.7,464.2L391.0,460.1L388.4,455.9L386.0,451.7L383.7,447.3L381.5,442.9L379.5,438.5L377.7,434.0L376.0,429.4L374.5,424.8L373.1,420.1L371.9,415.4L370.9,410.7L370.0,405.9L369.3,401.1L368.8,396.3L368.4,391.5L368.2,386.7L368.1,381.9L368.2,377.1L368.5,372.3L368.9,367.5M207.4,379.4L209.1,369.0L211.5,358.7L214.3,348.6L217.6,338.7L221.2,329.0L225.2,319.5L229.5,310.2L234.1,301.1L239.1,292.3L244.3,283.7L249.8,275.4L255.6,267.4L261.6,259.7L268.0,252.2L274.5,245.1L281.4,238.3L288.4,231.9L295.7,225.8L303.1,220.0L310.7,214.6L318.4,209.5L326.3,204.8L334.2,200.4L342.3,196.3L350.4,192.6L358.5,189.2L366.6,186.1L374.8,183.3L383.0,180.7L391.1,178.4L399.2,176.4L407.3,174.7L415.3,173.2L423.4,172.0L431.3,171.0L439.3,170.4L447.2,169.9L455.0,169.8L462.7,169.9L470.4,170.3L478.0,171.0L485.5,171.9L493.0,173.1L500.3,174.6L507.4,176.3L514.5,178.3L521.4,180.6L528.2,183.2L534.8,186.0L541.2,189.0L547.5,192.3L553.5,195.8L559.4,199.4L565.1,203.2L570.6,207.2L575.9,211.2L581.1,215.3L586.2,219.5L591.1,223.6L595.8,227.8L600.5,232.1L605.1,236.3L609.6,240.6L614.0,244.9L618.2,249.3L622.3,253.8L626.3,258.3L630.2,263.0L633.9,267.7L637.5,272.6L640.8,277.6L644.0,282.6L647.0,287.8L649.8,293.0L652.4,298.4L654.9,303.8L657.1,309.3L659.1,314.8L661.0,320.4L662.6,326.1L664.0,331.8L665.2,337.5L666.2,343.2L667.0,349.0L667.6,354.8L668.0,360.6L668.1,366.4L668.1,372.2L667.9,377.9L667.4,383.6L666.7,389.3L665.9,395.0L664.8,400.6L663.5,406.1L662.0,411.6L660.4,417.0L658.5,422.3L656.5,427.6L654.2,432.7L651.8,437.8L649.3,442.7L646.5,447.6L643.7,452.3L640.7,457.0L637.7,461.6L634.5,466.1L631.2,470.5L627.8,474.8L624.2,478.9L620.5,482.9L616.6,486.8L612.5,490.4L608.4,493.9L604.0,497.2L599.6,500.3L595.0,503.3L590.4,506.0L585.7,508.6L580.8,511.0L576.0,513.2L571.0,515.2L566.0,517.0L561.0,518.7L555.9,520.2L550.8,521.5L545.6,522.6L540.5,523.6L535.3,524.3L530.1,524.9L524.9,525.4L519.7,525.6L514.5,525.7L509.4,525.6L504.2,525.3L499.1,524.8L494.0,524.2L489.0,523.4L484.0,522.4L479.0,521.3L474.1,520.0L469.2,518.5L464.5,516.9L459.7,515.1L455.1,513.1L450.5,511.0L446.0,508.8L441.7,506.4L437.4,503.9L433.2,501.2L429.1,498.4L425.1,495.4L421.2,492.3L417.4,489.1L413.8,485.8L410.2,482.4L406.8,478.8L403.6,475.1L400.4,471.4L397.4,467.5L394.5,463.5L391.8,459.5L389.2,455.4L386.8,451.1L384.5,446.9L382.4,442.5L380.4,438.1L378.6,433.6L376.9,429.1L375.4,424.5L374.0,419.8L372.8,415.2L371.8,410.5L370.9,405.8L370.2,401.0L369.6,396.2L369.2,391.5L369.0,386.7L368.9,381.9L369.0,377.1L369.3,372.3L369.7,367.6M211.4,379.4L213.1,369.1L215.4,359.0L218.2,349.0L221.5,339.2L225.1,329.7L229.0,320.3L233.3,311.1L237.9,302.2L242.7,293.5L247.9,285.1L253.3,276.9L259.1,269.0L265.1,261.4L271.4,254.1L277.9,247.1L284.6,240.4L291.6,234.1L298.8,228.1L306.1,222.4L313.6,217.1L321.3,212.1L329.1,207.5L336.9,203.2L344.9,199.3L352.8,195.6L360.9,192.3L368.9,189.3L377.0,186.5L385.0,184.0L393.0,181.8L401.0,179.9L409.0,178.2L416.9,176.8L424.8,175.6L432.6,174.7L440.4,174.1L448.2,173.7L455.9,173.6L463.5,173.7L471.0,174.1L478.5,174.8L485.9,175.7L493.2,176.9L500.3,178.4L507.4,180.2L514.3,182.2L521.1,184.4L527.7,186.9L534.2,189.7L540.5,192.7L546.6,196.0L552.6,199.4L558.3,203.1L563.9,206.8L569.3,210.7L574.5,214.7L579.5,218.7L584.5,222.8L589.3,226.9L593.9,231.0L598.5,235.1L603.0,239.3L607.4,243.5L611.7,247.7L615.9,252.0L619.9,256.3L623.9,260.8L627.7,265.3L631.4,269.9L634.9,274.7L638.2,279.5L641.3,284.5L644.3,289.5L647.1,294.7L649.7,299.9L652.1,305.2L654.3,310.6L656.3,316.0L658.1,321.5L659.7,327.0L661.2,332.6L662.4,338.2L663.4,343.9L664.2,349.5L664.8,355.2L665.2,360.9L665.4,366.6L665.4,372.3L665.2,377.9L664.7,383.6L664.1,389.2L663.3,394.7L662.3,400.2L661.0,405.7L659.6,411.1L658.0,416.4L656.2,421.7L654.2,426.9L652.1,432.0L649.7,436.9L647.2,441.8L644.5,446.6L641.8,451.3L638.9,455.9L635.9,460.5L632.7,464.9L629.5,469.3L626.1,473.5L622.6,477.6L618.9,481.5L615.1,485.3L611.1,488.9L607.0,492.4L602.7,495.6L598.4,498.7L593.9,501.7L589.3,504.4L584.6,507.0L579.9,509.3L575.1,511.5L570.2,513.6L565.3,515.4L560.3,517.1L555.3,518.6L550.2,519.9L545.2,521.0L540.1,522.0L535.0,522.8L529.8,523.4L524.7,523.8L519.6,524.1L514.4,524.2L509.3,524.1L504.2,523.8L499.2,523.4L494.1,522.8L489.1,522.0L484.2,521.1L479.2,519.9L474.4,518.7L469.6,517.2L464.8,515.6L460.1,513.9L455.5,512.0L451.0,509.9L446.6,507.7L442.2,505.3L437.9,502.8L433.7,500.2L429.7,497.4L425.7,494.5L421.8,491.4L418.1,488.3L414.5,485.0L411.0,481.6L407.6,478.0L404.3,474.4L401.2,470.7L398.2,466.8L395.3,462.9L392.6,458.9L390.1,454.8L387.6,450.6L385.4,446.4L383.2,442.1L381.2,437.7L379.4,433.2L377.7,428.7L376.2,424.2L374.9,419.6L373.7,414.9L372.6,410.3L371.7,405.6L371.0,400.9L370.5,396.1L370.1,391.4L369.8,386.6L369.8,381.9L369.9,377.1L370.1,372.4L370.5,367.7M215.3,379.4L217.1,369.3L219.4,359.3L222.2,349.4L225.4,339.8L228.9,330.3L232.8,321.1L237.1,312.1L241.6,303.3L246.4,294.7L251.5,286.4L256.9,278.3L262.6,270.6L268.6,263.1L274.8,255.9L281.2,249.0L287.9,242.5L294.8,236.2L301.9,230.4L309.2,224.8L316.6,219.6L324.2,214.8L331.8,210.2L339.6,206.0L347.4,202.2L355.3,198.6L363.2,195.4L371.2,192.4L379.1,189.8L387.0,187.4L394.9,185.2L402.8,183.4L410.6,181.7L418.4,180.4L426.2,179.2L433.9,178.4L441.6,177.8L449.2,177.4L456.8,177.3L464.3,177.5L471.7,177.9L479.0,178.6L486.2,179.6L493.4,180.8L500.4,182.3L507.3,184.0L514.1,186.0L520.8,188.2L527.3,190.7L533.6,193.5L539.8,196.5L545.8,199.7L551.6,203.1L557.2,206.7L562.6,210.4L567.9,214.2L573.0,218.2L578.0,222.1L582.8,226.1L587.4,230.2L592.0,234.2L596.5,238.2L600.9,242.3L605.2,246.3L609.4,250.5L613.5,254.6L617.5,258.9L621.4,263.2L625.2,267.6L628.8,272.2L632.2,276.8L635.5,281.5L638.6,286.4L641.6,291.3L644.3,296.3L646.9,301.4L649.3,306.6L651.5,311.9L653.5,317.2L655.3,322.6L656.9,328.0L658.3,333.5L659.6,339.0L660.6,344.5L661.4,350.1L662.0,355.6L662.4,361.2L662.7,366.8L662.7,372.4L662.5,378.0L662.1,383.5L661.5,389.0L660.7,394.5L659.7,399.9L658.6,405.3L657.2,410.6L655.6,415.9L653.9,421.1L652.0,426.2L649.9,431.2L647.6,436.1L645.1,440.9L642.5,445.7L639.8,450.3L637.0,454.9L634.0,459.3L631.0,463.7L627.8,468.0L624.5,472.2L621.0,476.2L617.4,480.1L613.6,483.9L609.7,487.4L605.6,490.9L601.4,494.1L597.1,497.2L592.7,500.1L588.2,502.8L583.6,505.3L579.0,507.7L574.2,509.9L569.4,511.9L564.6,513.8L559.7,515.4L554.7,516.9L549.7,518.3L544.7,519.4L539.7,520.4L534.6,521.2L529.6,521.8L524.5,522.3L519.4,522.6L514.3,522.7L509.3,522.6L504.2,522.4L499.2,521.9L494.2,521.4L489.3,520.6L484.4,519.7L479.5,518.6L474.7,517.4L469.9,516.0L465.2,514.4L460.5,512.7L456.0,510.8L451.5,508.7L447.1,506.6L442.7,504.2L438.5,501.8L434.3,499.1L430.3,496.4L426.4,493.5L422.5,490.5L418.8,487.4L415.2,484.1L411.7,480.8L408.3,477.3L405.1,473.7L402.0,470.0L399.0,466.2L396.2,462.3L393.5,458.3L390.9,454.3L388.5,450.1L386.2,445.9L384.1,441.6L382.1,437.3L380.3,432.9L378.6,428.4L377.1,423.9L375.7,419.3L374.5,414.7L373.5,410.1L372.6,405.4L371.9,400.7L371.3,396.0L370.9,391.3L370.7,386.6L370.6,381.9L370.7,377.1L370.9,372.4L371.3,367.7M219.3,379.4L221.1,369.4L223.4,359.6L226.1,349.9L229.3,340.4L232.8,331.0L236.7,321.9L240.8,313.0L245.3,304.3L250.1,295.9L255.1,287.7L260.5,279.8L266.1,272.1L272.0,264.8L278.2,257.7L284.6,251.0L291.2,244.5L298.0,238.4L305.0,232.7L312.2,227.2L319.6,222.1L327.0,217.4L334.6,212.9L342.3,208.9L350.0,205.1L357.8,201.6L365.6,198.5L373.4,195.6L381.3,193.0L389.1,190.7L396.9,188.6L404.6,186.8L412.3,185.3L420.0,183.9L427.6,182.9L435.2,182.1L442.8,181.5L450.2,181.2L457.7,181.1L465.0,181.3L472.3,181.8L479.5,182.5L486.6,183.4L493.6,184.6L500.5,186.1L507.3,187.8L513.9,189.8L520.5,192.0L526.8,194.5L533.0,197.2L539.1,200.2L544.9,203.4L550.6,206.8L556.1,210.3L561.4,214.0L566.6,217.8L571.5,221.6L576.4,225.5L581.1,229.5L585.6,233.4L590.1,237.4L594.5,241.3L598.8,245.3L603.0,249.2L607.2,253.2L611.2,257.3L615.2,261.4L619.0,265.7L622.7,270.0L626.2,274.4L629.6,278.9L632.9,283.5L636.0,288.2L638.9,293.0L641.6,297.9L644.1,302.9L646.5,308.0L648.7,313.1L650.7,318.4L652.5,323.6L654.1,328.9L655.5,334.3L656.7,339.7L657.8,345.1L658.6,350.6L659.2,356.1L659.7,361.5L659.9,367.0L660.0,372.5L659.8,378.0L659.5,383.4L658.9,388.8L658.2,394.2L657.2,399.6L656.1,404.9L654.8,410.1L653.3,415.3L651.6,420.4L649.7,425.4L647.7,430.4L645.5,435.3L643.1,440.0L640.5,444.7L637.9,449.3L635.1,453.8L632.2,458.2L629.2,462.5L626.1,466.8L622.8,470.9L619.4,474.9L615.8,478.7L612.1,482.4L608.2,486.0L604.2,489.3L600.1,492.6L595.9,495.6L591.6,498.5L587.1,501.2L582.6,503.7L578.0,506.1L573.4,508.3L568.6,510.3L563.8,512.1L559.0,513.8L554.1,515.3L549.2,516.6L544.3,517.8L539.3,518.8L534.3,519.6L529.3,520.3L524.3,520.7L519.3,521.0L514.2,521.2L509.2,521.1L504.3,520.9L499.3,520.5L494.3,519.9L489.4,519.2L484.6,518.3L479.7,517.3L475.0,516.1L470.2,514.7L465.6,513.1L461.0,511.4L456.4,509.6L452.0,507.6L447.6,505.4L443.3,503.1L439.1,500.7L434.9,498.1L430.9,495.4L427.0,492.6L423.2,489.6L419.5,486.5L415.9,483.3L412.4,480.0L409.1,476.5L405.9,473.0L402.8,469.3L399.8,465.5L397.0,461.7L394.3,457.7L391.7,453.7L389.3,449.6L387.0,445.4L384.9,441.2L383.0,436.9L381.1,432.5L379.5,428.1L378.0,423.6L376.6,419.0L375.4,414.5L374.3,409.9L373.5,405.2L372.7,400.6L372.2,395.9L371.8,391.2L371.5,386.5L371.4,381.8L371.5,377.2L371.7,372.5L372.1,367.8M223.3,379.4L225.1,369.6L227.3,359.8L230.1,350.3L233.2,340.9L236.7,331.7L240.5,322.7L244.6,314.0L249.0,305.4L253.7,297.1L258.8,289.0L264.1,281.2L269.6,273.7L275.5,266.5L281.6,259.5L287.9,252.9L294.4,246.6L301.2,240.6L308.1,234.9L315.2,229.6L322.5,224.6L329.9,220.0L337.4,215.7L345.0,211.7L352.6,208.0L360.3,204.6L368.0,201.6L375.7,198.8L383.4,196.3L391.1,194.0L398.8,192.0L406.4,190.3L414.0,188.8L421.6,187.5L429.1,186.5L436.5,185.7L443.9,185.2L451.3,184.9L458.6,184.9L465.8,185.1L472.9,185.6L480.0,186.3L487.0,187.2L493.8,188.5L500.6,189.9L507.2,191.6L513.8,193.6L520.1,195.8L526.4,198.3L532.5,201.0L538.4,203.9L544.1,207.1L549.6,210.4L555.0,213.9L560.2,217.6L565.2,221.3L570.1,225.1L574.8,228.9L579.4,232.8L583.8,236.7L588.2,240.6L592.5,244.4L596.7,248.2L600.9,252.1L604.9,256.0L608.9,260.0L612.8,264.0L616.5,268.1L620.2,272.3L623.7,276.6L627.0,281.0L630.2,285.5L633.3,290.1L636.1,294.8L638.8,299.6L641.4,304.5L643.7,309.4L645.9,314.4L647.9,319.5L649.7,324.7L651.3,329.9L652.7,335.1L653.9,340.4L655.0,345.8L655.8,351.1L656.5,356.5L656.9,361.9L657.2,367.3L657.3,372.6L657.1,378.0L656.8,383.4L656.3,388.7L655.6,394.0L654.7,399.2L653.6,404.5L652.4,409.6L650.9,414.7L649.3,419.8L647.5,424.7L645.5,429.6L643.3,434.4L641.0,439.1L638.6,443.7L636.0,448.3L633.2,452.7L630.4,457.1L627.4,461.4L624.3,465.5L621.1,469.6L617.8,473.5L614.2,477.3L610.6,481.0L606.8,484.5L602.9,487.8L598.8,491.0L594.7,494.0L590.4,496.9L586.0,499.6L581.6,502.1L577.1,504.5L572.5,506.6L567.8,508.7L563.1,510.5L558.3,512.2L553.5,513.7L548.7,515.0L543.8,516.2L538.9,517.2L534.0,518.0L529.0,518.7L524.1,519.2L519.1,519.5L514.1,519.6L509.2,519.6L504.3,519.4L499.3,519.1L494.5,518.5L489.6,517.8L484.8,517.0L480.0,515.9L475.2,514.8L470.6,513.4L465.9,511.9L461.4,510.2L456.9,508.4L452.4,506.4L448.1,504.3L443.8,502.1L439.6,499.7L435.5,497.1L431.6,494.4L427.7,491.6L423.9,488.7L420.2,485.6L416.6,482.4L413.2,479.2L409.8,475.7L406.6,472.2L403.6,468.6L400.6,464.9L397.8,461.1L395.1,457.2L392.6,453.2L390.2,449.1L387.9,445.0L385.8,440.7L383.8,436.5L382.0,432.1L380.3,427.7L378.8,423.3L377.5,418.8L376.3,414.2L375.2,409.7L374.3,405.1L373.6,400.5L373.0,395.8L372.6,391.2L372.3,386.5L372.2,381.8L372.3,377.2L372.5,372.5L372.9,367.9M227.3,379.4L229.1,369.7L231.3,360.1L234.0,350.7L237.1,341.5L240.5,332.4L244.3,323.6L248.4,314.9L252.7,306.5L257.4,298.3L262.4,290.4L267.6,282.7L273.2,275.3L279.0,268.2L285.0,261.4L291.2,254.9L297.7,248.7L304.4,242.8L311.3,237.2L318.3,232.0L325.5,227.1L332.8,222.6L340.2,218.4L347.6,214.5L355.2,210.9L362.8,207.6L370.4,204.7L378.0,202.0L385.6,199.5L393.2,197.4L400.7,195.4L408.2,193.7L415.7,192.3L423.1,191.1L430.5,190.1L437.8,189.4L445.1,188.9L452.3,188.7L459.5,188.7L466.5,188.9L473.6,189.4L480.5,190.1L487.3,191.1L494.1,192.3L500.7,193.8L507.2,195.5L513.6,197.4L519.8,199.6L525.9,202.1L531.9,204.8L537.6,207.7L543.2,210.8L548.7,214.1L553.9,217.6L559.0,221.1L563.9,224.8L568.6,228.6L573.2,232.4L577.7,236.2L582.0,240.0L586.3,243.7L590.5,247.5L594.6,251.2L598.7,255.0L602.7,258.8L606.6,262.7L610.4,266.6L614.1,270.6L617.7,274.6L621.1,278.8L624.4,283.1L627.6,287.5L630.6,291.9L633.4,296.5L636.1,301.2L638.6,306.0L640.9,310.8L643.1,315.7L645.0,320.7L646.8,325.8L648.4,330.9L649.9,336.0L651.1,341.2L652.2,346.4L653.0,351.6L653.7,356.9L654.2,362.2L654.4,367.5L654.5,372.8L654.4,378.0L654.2,383.3L653.7,388.5L653.0,393.7L652.2,398.9L651.1,404.0L649.9,409.1L648.5,414.2L647.0,419.1L645.2,424.0L643.3,428.8L641.2,433.6L639.0,438.2L636.6,442.8L634.0,447.3L631.3,451.7L628.6,456.0L625.7,460.2L622.6,464.3L619.4,468.3L616.1,472.2L612.7,475.9L609.1,479.5L605.3,483.0L601.5,486.3L597.5,489.5L593.4,492.5L589.2,495.3L585.0,498.0L580.6,500.5L576.1,502.8L571.6,505.0L567.0,507.0L562.4,508.9L557.7,510.6L552.9,512.1L548.2,513.4L543.3,514.6L538.5,515.6L533.6,516.5L528.7,517.1L523.8,517.6L518.9,518.0L514.0,518.1L509.1,518.1L504.3,518.0L499.4,517.6L494.6,517.1L489.7,516.4L485.0,515.6L480.2,514.6L475.5,513.4L470.9,512.1L466.3,510.6L461.8,509.0L457.3,507.2L452.9,505.3L448.6,503.2L444.4,501.0L440.2,498.6L436.1,496.1L432.2,493.5L428.3,490.7L424.5,487.8L420.9,484.8L417.3,481.6L413.9,478.3L410.6,475.0L407.4,471.5L404.3,467.9L401.4,464.2L398.6,460.4L395.9,456.6L393.4,452.6L391.0,448.6L388.7,444.5L386.6,440.3L384.7,436.1L382.9,431.7L381.2,427.4L379.7,423.0L378.3,418.5L377.1,414.0L376.1,409.5L375.2,404.9L374.4,400.3L373.9,395.7L373.4,391.1L373.2,386.5L373.1,381.8L373.1,377.2L373.3,372.5L373.7,367.9M231.3,379.4L233.0,369.8L235.3,360.4L237.9,351.1L241.0,342.0L244.4,333.1L248.1,324.4L252.1,315.9L256.5,307.6L261.1,299.5L266.0,291.7L271.2,284.2L276.7,276.9L282.4,269.9L288.4,263.2L294.6,256.8L301.0,250.7L307.6,245.0L314.4,239.5L321.3,234.4L328.4,229.7L335.6,225.2L342.9,221.1L350.3,217.3L357.8,213.8L365.3,210.6L372.8,207.7L380.3,205.1L387.7,202.8L395.2,200.7L402.6,198.8L410.0,197.2L417.4,195.8L424.7,194.7L431.9,193.7L439.1,193.1L446.3,192.6L453.3,192.4L460.4,192.4L467.3,192.7L474.2,193.2L481.0,193.9L487.7,194.9L494.3,196.1L500.8,197.6L507.1,199.3L513.4,201.3L519.5,203.4L525.5,205.9L531.3,208.5L536.9,211.4L542.4,214.5L547.7,217.8L552.8,221.2L557.7,224.7L562.5,228.4L567.1,232.0L571.6,235.8L576.0,239.5L580.2,243.2L584.4,246.9L588.5,250.6L592.5,254.2L596.5,257.9L600.4,261.6L604.2,265.3L608.0,269.1L611.6,273.0L615.1,277.0L618.6,281.0L621.8,285.2L624.9,289.4L627.9,293.8L630.7,298.3L633.4,302.8L635.8,307.5L638.1,312.2L640.3,317.0L642.2,321.9L644.0,326.8L645.6,331.8L647.0,336.8L648.3,341.9L649.3,347.0L650.2,352.2L650.9,357.3L651.4,362.5L651.7,367.7L651.8,372.9L651.8,378.1L651.5,383.2L651.1,388.4L650.5,393.5L649.7,398.6L648.7,403.6L647.5,408.6L646.2,413.6L644.7,418.5L643.0,423.3L641.1,428.0L639.1,432.7L636.9,437.3L634.6,441.8L632.1,446.2L629.5,450.6L626.7,454.8L623.9,459.0L620.9,463.0L617.8,467.0L614.5,470.8L611.1,474.5L607.6,478.1L603.9,481.5L600.1,484.8L596.2,487.9L592.2,490.9L588.1,493.7L583.9,496.4L579.6,498.9L575.2,501.2L570.7,503.4L566.2,505.4L561.7,507.2L557.0,508.9L552.4,510.5L547.6,511.8L542.9,513.0L538.1,514.0L533.3,514.9L528.5,515.6L523.6,516.1L518.8,516.5L513.9,516.6L509.1,516.7L504.3,516.5L499.5,516.2L494.7,515.7L489.9,515.1L485.2,514.2L480.5,513.3L475.8,512.1L471.2,510.8L466.7,509.4L462.2,507.8L457.7,506.0L453.4,504.1L449.1,502.1L444.9,499.9L440.8,497.6L436.7,495.1L432.8,492.5L429.0,489.7L425.2,486.9L421.6,483.9L418.1,480.8L414.6,477.5L411.4,474.2L408.2,470.8L405.1,467.2L402.2,463.6L399.4,459.8L396.7,456.0L394.2,452.1L391.8,448.1L389.6,444.0L387.5,439.9L385.5,435.6L383.7,431.4L382.1,427.0L380.5,422.7L379.2,418.2L378.0,413.8L376.9,409.3L376.0,404.7L375.3,400.2L374.7,395.6L374.3,391.0L374.0,386.4L373.9,381.8L373.9,377.2L374.1,372.6L374.5,368.0M235.2,379.4L237.0,370.0L239.3,360.7L241.9,351.5L244.9,342.6L248.2,333.8L251.9,325.2L255.9,316.8L260.2,308.6L264.8,300.7L269.7,293.0L274.8,285.6L280.2,278.5L285.9,271.6L291.8,265.0L297.9,258.8L304.3,252.8L310.8,247.1L317.5,241.8L324.4,236.8L331.4,232.2L338.5,227.8L345.7,223.8L353.0,220.1L360.4,216.7L367.7,213.6L375.1,210.8L382.5,208.3L389.9,206.0L397.2,204.0L404.5,202.2L411.8,200.7L419.0,199.3L426.2,198.2L433.3,197.4L440.4,196.7L447.4,196.3L454.4,196.1L461.3,196.2L468.1,196.5L474.8,197.0L481.5,197.8L488.0,198.7L494.5,200.0L500.9,201.4L507.1,203.1L513.2,205.1L519.2,207.2L525.0,209.6L530.7,212.3L536.2,215.1L541.6,218.2L546.7,221.4L551.7,224.8L556.5,228.3L561.2,231.9L565.7,235.5L570.0,239.2L574.3,242.8L578.4,246.5L582.5,250.1L586.5,253.7L590.4,257.2L594.3,260.8L598.1,264.4L601.9,268.0L605.6,271.7L609.2,275.5L612.6,279.3L616.0,283.2L619.2,287.3L622.3,291.4L625.2,295.7L628.0,300.0L630.6,304.5L633.1,309.0L635.4,313.6L637.5,318.3L639.4,323.1L641.2,327.9L642.8,332.8L644.2,337.7L645.5,342.7L646.5,347.7L647.4,352.7L648.1,357.7L648.6,362.8L649.0,367.9L649.1,373.0L649.1,378.1L648.9,383.2L648.5,388.2L647.9,393.2L647.1,398.2L646.2,403.2L645.1,408.1L643.8,413.0L642.3,417.8L640.7,422.6L638.9,427.3L637.0,431.9L634.8,436.4L632.6,440.9L630.1,445.2L627.6,449.5L624.9,453.7L622.1,457.8L619.2,461.8L616.1,465.7L612.9,469.5L609.5,473.1L606.1,476.6L602.5,480.0L598.7,483.3L594.9,486.4L591.0,489.3L586.9,492.1L582.8,494.7L578.6,497.2L574.3,499.6L569.9,501.7L565.4,503.8L560.9,505.6L556.4,507.3L551.8,508.8L547.1,510.2L542.4,511.4L537.7,512.4L533.0,513.3L528.2,514.0L523.4,514.6L518.6,514.9L513.8,515.1L509.1,515.2L504.3,515.0L499.5,514.7L494.8,514.3L490.0,513.7L485.4,512.9L480.7,511.9L476.1,510.8L471.5,509.6L467.0,508.2L462.6,506.6L458.2,504.9L453.9,503.0L449.6,501.0L445.4,498.8L441.3,496.5L437.3,494.1L433.4,491.5L429.6,488.8L425.9,486.0L422.3,483.0L418.8,479.9L415.4,476.7L412.1,473.4L408.9,470.0L405.9,466.5L403.0,462.9L400.2,459.2L397.6,455.4L395.1,451.5L392.7,447.6L390.4,443.5L388.3,439.4L386.4,435.2L384.6,431.0L382.9,426.7L381.4,422.4L380.0,418.0L378.8,413.5L377.8,409.1L376.9,404.6L376.1,400.0L375.5,395.5L375.1,390.9L374.8,386.4L374.7,381.8L374.7,377.2L374.9,372.6L375.3,368.1M239.2,379.4L241.0,370.1L243.2,361.0L245.8,352.0L248.8,343.1L252.1,334.5L255.7,326.0L259.7,317.8L263.9,309.7L268.4,301.9L273.3,294.4L278.4,287.1L283.7,280.1L289.3,273.3L295.2,266.9L301.3,260.7L307.5,254.9L314.0,249.3L320.6,244.1L327.4,239.2L334.3,234.7L341.4,230.4L348.5,226.5L355.7,222.9L362.9,219.6L370.2,216.6L377.5,213.9L384.8,211.5L392.1,209.3L399.3,207.3L406.5,205.6L413.6,204.1L420.7,202.9L427.8,201.8L434.8,201.0L441.7,200.4L448.6,200.0L455.4,199.9L462.2,200.0L468.8,200.3L475.4,200.8L482.0,201.6L488.4,202.6L494.7,203.8L500.9,205.3L507.0,207.0L513.0,208.9L518.9,211.0L524.6,213.4L530.1,216.0L535.5,218.9L540.7,221.9L545.7,225.1L550.6,228.4L555.3,231.9L559.8,235.4L564.2,239.0L568.4,242.6L572.6,246.2L576.6,249.7L580.6,253.3L584.5,256.7L588.3,260.2L592.1,263.7L595.9,267.2L599.6,270.7L603.2,274.3L606.7,277.9L610.1,281.6L613.4,285.4L616.6,289.4L619.7,293.4L622.5,297.5L625.3,301.8L627.9,306.1L630.3,310.5L632.6,315.0L634.7,319.6L636.6,324.2L638.4,329.0L640.0,333.7L641.4,338.5L642.6,343.4L643.7,348.3L644.6,353.2L645.3,358.2L645.9,363.1L646.2,368.1L646.4,373.1L646.4,378.1L646.2,383.1L645.9,388.0L645.3,393.0L644.6,397.9L643.7,402.8L642.7,407.6L641.4,412.4L640.0,417.2L638.5,421.9L636.7,426.5L634.8,431.0L632.8,435.5L630.6,439.9L628.2,444.2L625.7,448.4L623.1,452.6L620.3,456.6L617.4,460.6L614.4,464.4L611.3,468.1L608.0,471.7L604.6,475.2L601.0,478.5L597.4,481.7L593.6,484.8L589.7,487.7L585.8,490.5L581.7,493.1L577.5,495.6L573.3,497.9L569.0,500.1L564.6,502.1L560.2,504.0L555.7,505.7L551.2,507.2L546.6,508.6L542.0,509.8L537.3,510.9L532.6,511.7L527.9,512.5L523.2,513.0L518.5,513.4L513.7,513.6L509.0,513.7L504.3,513.6L499.6,513.3L494.9,512.9L490.2,512.3L485.6,511.5L480.9,510.6L476.4,509.5L471.9,508.3L467.4,506.9L463.0,505.4L458.6,503.7L454.3,501.8L450.1,499.9L446.0,497.7L441.9,495.5L437.9,493.1L434.0,490.5L430.3,487.8L426.6,485.1L423.0,482.1L419.5,479.1L416.1,475.9L412.9,472.7L409.7,469.3L406.7,465.8L403.8,462.3L401.0,458.6L398.4,454.8L395.9,451.0L393.5,447.1L391.3,443.1L389.2,439.0L387.2,434.8L385.4,430.6L383.8,426.4L382.3,422.1L380.9,417.7L379.7,413.3L378.6,408.9L377.7,404.4L377.0,399.9L376.4,395.4L375.9,390.9L375.7,386.3L375.5,381.8L375.6,377.2L375.7,372.7L376.1,368.1M243.2,379.4L245.0,370.3L247.2,361.2L249.8,352.4L252.7,343.7L255.9,335.1L259.5,326.8L263.4,318.7L267.6,310.8L272.1,303.1L276.9,295.7L282.0,288.5L287.3,281.6L292.8,275.0L298.6,268.7L304.6,262.6L310.8,256.9L317.2,251.5L323.7,246.4L330.4,241.6L337.3,237.2L344.2,233.1L351.3,229.2L358.4,225.7L365.5,222.6L372.7,219.6L379.9,217.0L387.1,214.7L394.2,212.5L401.3,210.7L408.4,209.0L415.4,207.6L422.4,206.4L429.3,205.4L436.2,204.6L443.0,204.1L449.7,203.7L456.4,203.6L463.0,203.7L469.6,204.1L476.1,204.6L482.4,205.4L488.7,206.4L494.9,207.6L501.0,209.1L507.0,210.8L512.8,212.7L518.6,214.8L524.1,217.2L529.5,219.8L534.8,222.6L539.9,225.6L544.8,228.8L549.5,232.1L554.1,235.5L558.5,238.9L562.7,242.5L566.9,246.0L570.9,249.5L574.8,253.0L578.7,256.4L582.5,259.8L586.3,263.2L590.0,266.6L593.6,269.9L597.2,273.3L600.8,276.8L604.2,280.3L607.6,284.0L610.9,287.7L614.0,291.5L617.0,295.4L619.9,299.4L622.6,303.5L625.1,307.7L627.5,312.0L629.8,316.4L631.9,320.9L633.8,325.4L635.5,330.0L637.1,334.7L638.6,339.4L639.8,344.1L640.9,348.9L641.8,353.7L642.5,358.6L643.1,363.5L643.5,368.3L643.7,373.2L643.7,378.1L643.6,383.0L643.3,387.9L642.8,392.7L642.1,397.6L641.3,402.4L640.2,407.1L639.1,411.9L637.7,416.5L636.2,421.1L634.5,425.7L632.7,430.2L630.7,434.6L628.6,438.9L626.3,443.2L623.8,447.4L621.3,451.4L618.6,455.4L615.7,459.3L612.7,463.1L609.6,466.8L606.4,470.3L603.1,473.8L599.6,477.1L596.0,480.2L592.3,483.3L588.5,486.2L584.6,488.9L580.6,491.5L576.5,494.0L572.4,496.3L568.1,498.5L563.8,500.5L559.5,502.4L555.1,504.1L550.6,505.6L546.1,507.0L541.5,508.2L536.9,509.3L532.3,510.2L527.7,510.9L523.0,511.5L518.3,511.9L513.6,512.1L509.0,512.2L504.3,512.1L499.6,511.9L495.0,511.5L490.4,510.9L485.8,510.2L481.2,509.3L476.7,508.2L472.2,507.0L467.8,505.7L463.4,504.2L459.1,502.5L454.8,500.7L450.6,498.7L446.5,496.6L442.5,494.4L438.5,492.0L434.7,489.5L430.9,486.9L427.2,484.1L423.7,481.3L420.2,478.3L416.9,475.1L413.6,471.9L410.5,468.6L407.5,465.1L404.6,461.6L401.8,458.0L399.2,454.2L396.7,450.4L394.4,446.5L392.1,442.6L390.0,438.5L388.1,434.4L386.3,430.3L384.6,426.0L383.1,421.8L381.8,417.4L380.6,413.1L379.5,408.7L378.6,404.2L377.8,399.8L377.2,395.3L376.8,390.8L376.5,386.3L376.4,381.8L376.4,377.2L376.5,372.7L376.9,368.2" fill="none" stroke="#72b46e" stroke-opacity="0.38" stroke-width="0.65"/><path d="M344.4,379.4L345.2,371.0L349.2,371.2L348.5,379.4Z" fill="#7caa7d" stroke="#7caa7d" stroke-width="0.6"/><path d="M348.5,379.4L349.2,371.2L353.2,371.5L352.5,379.4Z" fill="#83af81" stroke="#83af81" stroke-width="0.6"/><path d="M352.5,379.4L353.2,371.5L357.1,371.7L356.6,379.4Z" fill="#8ab486" stroke="#8ab486" stroke-width="0.6"/><path d="M356.6,379.4L357.1,371.7L361.1,371.9L360.6,379.4Z" fill="#91b88b" stroke="#91b88b" stroke-width="0.6"/><path d="M360.6,379.4L361.1,371.9L365.1,372.1L364.7,379.4Z" fill="#98bd8f" stroke="#98bd8f" stroke-width="0.6"/><path d="M364.7,379.4L365.1,372.1L369.0,372.3L368.7,379.4Z" fill="#9fc194" stroke="#9fc194" stroke-width="0.6"/><path d="M368.7,379.4L369.0,372.3L373.0,372.5L372.8,379.4Z" fill="#a6c699" stroke="#a6c699" stroke-width="0.6"/><path d="M372.8,379.4L373.0,372.5L376.9,372.7L376.8,379.4Z" fill="#adcb9e" stroke="#adcb9e" stroke-width="0.6"/><path d="M345.2,371.0L346.4,362.8L350.3,363.2L349.2,371.2Z" fill="#7caa7d" stroke="#7caa7d" stroke-width="0.6"/><path d="M349.2,371.2L350.3,363.2L354.2,363.6L353.2,371.5Z" fill="#83af81" stroke="#83af81" stroke-width="0.6"/><path d="M353.2,371.5L354.2,363.6L358.0,364.0L357.1,371.7Z" fill="#8ab486" stroke="#8ab486" stroke-width="0.6"/><path d="M357.1,371.7L358.0,364.0L361.9,364.4L361.1,371.9Z" fill="#91b88b" stroke="#91b88b" stroke-width="0.6"/><path d="M361.1,371.9L361.9,364.4L365.8,364.8L365.1,372.1Z" fill="#98bd90" stroke="#98bd90" stroke-width="0.6"/><path d="M365.1,372.1L365.8,364.8L369.7,365.2L369.0,372.3Z" fill="#9fc294" stroke="#9fc294" stroke-width="0.6"/><path d="M369.0,372.3L369.7,365.2L373.5,365.6L373.0,372.5Z" fill="#a6c699" stroke="#a6c699" stroke-width="0.6"/><path d="M373.0,372.5L373.5,365.6L377.4,366.0L376.9,372.7Z" fill="#adcb9e" stroke="#adcb9e" stroke-width="0.6"/><path d="M346.4,362.8L348.0,354.6L351.8,355.2L350.3,363.2Z" fill="#7cab7d" stroke="#7cab7d" stroke-width="0.6"/><path d="M350.3,363.2L351.8,355.2L355.6,355.8L354.2,363.6Z" fill="#83af81" stroke="#83af81" stroke-width="0.6"/><path d="M354.2,363.6L355.6,355.8L359.3,356.4L358.0,364.0Z" fill="#8ab486" stroke="#8ab486" stroke-width="0.6"/><path d="M358.0,364.0L359.3,356.4L363.1,357.0L361.9,364.4Z" fill="#91b88b" stroke="#91b88b" stroke-width="0.6"/><path d="M361.9,364.4L363.1,357.0L366.9,357.6L365.8,364.8Z" fill="#98bd90" stroke="#98bd90" stroke-width="0.6"/><path d="M365.8,364.8L366.9,357.6L370.6,358.1L369.7,365.2Z" fill="#9fc294" stroke="#9fc294" stroke-width="0.6"/><path d="M369.7,365.2L370.6,358.1L374.4,358.7L373.5,365.6Z" fill="#a6c699" stroke="#a6c699" stroke-width="0.6"/><path d="M373.5,365.6L374.4,358.7L378.2,359.3L377.4,366.0Z" fill="#adcb9e" stroke="#adcb9e" stroke-width="0.6"/><path d="M348.0,354.6L350.0,346.5L353.7,347.3L351.8,355.2Z" fill="#7cab7d" stroke="#7cab7d" stroke-width="0.6"/><path d="M351.8,355.2L353.7,347.3L357.4,348.1L355.6,355.8Z" fill="#83af82" stroke="#83af82" stroke-width="0.6"/><path d="M355.6,355.8L357.4,348.1L361.0,348.8L359.3,356.4Z" fill="#8ab486" stroke="#8ab486" stroke-width="0.6"/><path d="M359.3,356.4L361.0,348.8L364.7,349.6L363.1,357.0Z" fill="#91b88b" stroke="#91b88b" stroke-width="0.6"/><path d="M363.1,357.0L364.7,349.6L368.3,350.4L366.9,357.6Z" fill="#98bd90" stroke="#98bd90" stroke-width="0.6"/><path d="M366.9,357.6L368.3,350.4L372.0,351.2L370.6,358.1Z" fill="#9fc294" stroke="#9fc294" stroke-width="0.6"/><path d="M370.6,358.1L372.0,351.2L375.6,351.9L374.4,358.7Z" fill="#a6c699" stroke="#a6c699" stroke-width="0.6"/><path d="M374.4,358.7L375.6,351.9L379.3,352.7L378.2,359.3Z" fill="#adcb9e" stroke="#adcb9e" stroke-width="0.6"/><path d="M350.0,346.5L352.4,338.6L356.0,339.5L353.7,347.3Z" fill="#7cab7d" stroke="#7cab7d" stroke-width="0.6"/><path d="M353.7,347.3L356.0,339.5L359.5,340.5L357.4,348.1Z" fill="#83af82" stroke="#83af82" stroke-width="0.6"/><path d="M357.4,348.1L359.5,340.5L363.1,341.4L361.0,348.8Z" fill="#8ab486" stroke="#8ab486" stroke-width="0.6"/><path d="M361.0,348.8L363.1,341.4L366.6,342.4L364.7,349.6Z" fill="#91b98b" stroke="#91b98b" stroke-width="0.6"/><path d="M364.7,349.6L366.6,342.4L370.1,343.3L368.3,350.4Z" fill="#98bd90" stroke="#98bd90" stroke-width="0.6"/><path d="M368.3,350.4L370.1,343.3L373.7,344.3L372.0,351.2Z" fill="#9fc295" stroke="#9fc295" stroke-width="0.6"/><path d="M372.0,351.2L373.7,344.3L377.2,345.2L375.6,351.9Z" fill="#a6c699" stroke="#a6c699" stroke-width="0.6"/><path d="M375.6,351.9L377.2,345.2L380.8,346.2L379.3,352.7Z" fill="#adcb9e" stroke="#adcb9e" stroke-width="0.6"/><path d="M352.4,338.6L355.2,330.8L358.7,331.9L356.0,339.5Z" fill="#7dab7d" stroke="#7dab7d" stroke-width="0.6"/><path d="M356.0,339.5L358.7,331.9L362.1,333.0L359.5,340.5Z" fill="#83b082" stroke="#83b082" stroke-width="0.6"/><path d="M359.5,340.5L362.1,333.0L365.5,334.1L363.1,341.4Z" fill="#8ab487" stroke="#8ab487" stroke-width="0.6"/><path d="M363.1,341.4L365.5,334.1L368.9,335.3L366.6,342.4Z" fill="#91b98b" stroke="#91b98b" stroke-width="0.6"/><path d="M366.6,342.4L368.9,335.3L372.3,336.4L370.1,343.3Z" fill="#98bd90" stroke="#98bd90" stroke-width="0.6"/><path d="M370.1,343.3L372.3,336.4L375.8,337.5L373.7,344.3Z" fill="#9fc295" stroke="#9fc295" stroke-width="0.6"/><path d="M373.7,344.3L375.8,337.5L379.2,338.6L377.2,345.2Z" fill="#a6c699" stroke="#a6c699" stroke-width="0.6"/><path d="M377.2,345.2L379.2,338.6L382.6,339.7L380.8,346.2Z" fill="#adcb9e" stroke="#adcb9e" stroke-width="0.6"/><path d="M355.2,330.8L358.4,323.2L361.7,324.5L358.7,331.9Z" fill="#7dab7e" stroke="#7dab7e" stroke-width="0.6"/><path d="M358.7,331.9L361.7,324.5L365.0,325.7L362.1,333.0Z" fill="#84b082" stroke="#84b082" stroke-width="0.6"/><path d="M362.1,333.0L365.0,325.7L368.3,327.0L365.5,334.1Z" fill="#8bb487" stroke="#8bb487" stroke-width="0.6"/><path d="M365.5,334.1L368.3,327.0L371.6,328.3L368.9,335.3Z" fill="#92b98c" stroke="#92b98c" stroke-width="0.6"/><path d="M368.9,335.3L371.6,328.3L374.9,329.5L372.3,336.4Z" fill="#98bd90" stroke="#98bd90" stroke-width="0.6"/><path d="M372.3,336.4L374.9,329.5L378.2,330.8L375.8,337.5Z" fill="#9fc295" stroke="#9fc295" stroke-width="0.6"/><path d="M375.8,337.5L378.2,330.8L381.5,332.1L379.2,338.6Z" fill="#a6c79a" stroke="#a6c79a" stroke-width="0.6"/><path d="M379.2,338.6L381.5,332.1L384.8,333.4L382.6,339.7Z" fill="#adcb9e" stroke="#adcb9e" stroke-width="0.6"/><path d="M358.4,323.2L361.9,315.8L365.1,317.2L361.7,324.5Z" fill="#7dac7e" stroke="#7dac7e" stroke-width="0.6"/><path d="M361.7,324.5L365.1,317.2L368.3,318.6L365.0,325.7Z" fill="#84b083" stroke="#84b083" stroke-width="0.6"/><path d="M365.0,325.7L368.3,318.6L371.5,320.1L368.3,327.0Z" fill="#8bb587" stroke="#8bb587" stroke-width="0.6"/><path d="M368.3,327.0L371.5,320.1L374.7,321.5L371.6,328.3Z" fill="#92b98c" stroke="#92b98c" stroke-width="0.6"/><path d="M371.6,328.3L374.7,321.5L377.9,322.9L374.9,329.5Z" fill="#99be91" stroke="#99be91" stroke-width="0.6"/><path d="M374.9,329.5L377.9,322.9L381.1,324.3L378.2,330.8Z" fill="#a0c295" stroke="#a0c295" stroke-width="0.6"/><path d="M378.2,330.8L381.1,324.3L384.3,325.7L381.5,332.1Z" fill="#a6c79a" stroke="#a6c79a" stroke-width="0.6"/><path d="M381.5,332.1L384.3,325.7L387.5,327.2L384.8,333.4Z" fill="#adcb9f" stroke="#adcb9f" stroke-width="0.6"/><path d="M361.9,315.8L365.9,308.6L368.9,310.2L365.1,317.2Z" fill="#7eac7f" stroke="#7eac7f" stroke-width="0.6"/><path d="M365.1,317.2L368.9,310.2L372.0,311.7L368.3,318.6Z" fill="#85b183" stroke="#85b183" stroke-width="0.6"/><path d="M368.3,318.6L372.0,311.7L375.1,313.3L371.5,320.1Z" fill="#8cb588" stroke="#8cb588" stroke-width="0.6"/><path d="M371.5,320.1L375.1,313.3L378.2,314.9L374.7,321.5Z" fill="#92ba8d" stroke="#92ba8d" stroke-width="0.6"/><path d="M374.7,321.5L378.2,314.9L381.2,316.4L377.9,322.9Z" fill="#99be91" stroke="#99be91" stroke-width="0.6"/><path d="M377.9,322.9L381.2,316.4L384.3,318.0L381.1,324.3Z" fill="#a0c296" stroke="#a0c296" stroke-width="0.6"/><path d="M381.1,324.3L384.3,318.0L387.4,319.6L384.3,325.7Z" fill="#a7c79a" stroke="#a7c79a" stroke-width="0.6"/><path d="M384.3,325.7L387.4,319.6L390.5,321.1L387.5,327.2Z" fill="#aecb9f" stroke="#aecb9f" stroke-width="0.6"/><path d="M365.9,308.6L370.1,301.6L373.1,303.3L368.9,310.2Z" fill="#7fad80" stroke="#7fad80" stroke-width="0.6"/><path d="M368.9,310.2L373.1,303.3L376.0,305.1L372.0,311.7Z" fill="#86b184" stroke="#86b184" stroke-width="0.6"/><path d="M372.0,311.7L376.0,305.1L379.0,306.8L375.1,313.3Z" fill="#8db689" stroke="#8db689" stroke-width="0.6"/><path d="M375.1,313.3L379.0,306.8L382.0,308.5L378.2,314.9Z" fill="#93ba8d" stroke="#93ba8d" stroke-width="0.6"/><path d="M378.2,314.9L382.0,308.5L384.9,310.2L381.2,316.4Z" fill="#9abe92" stroke="#9abe92" stroke-width="0.6"/><path d="M381.2,316.4L384.9,310.2L387.9,311.9L384.3,318.0Z" fill="#a1c396" stroke="#a1c396" stroke-width="0.6"/><path d="M384.3,318.0L387.9,311.9L390.8,313.6L387.4,319.6Z" fill="#a7c79b" stroke="#a7c79b" stroke-width="0.6"/><path d="M387.4,319.6L390.8,313.6L393.8,315.3L390.5,321.1Z" fill="#aecc9f" stroke="#aecc9f" stroke-width="0.6"/><path d="M370.1,301.6L374.7,294.9L377.6,296.8L373.1,303.3Z" fill="#80ad81" stroke="#80ad81" stroke-width="0.6"/><path d="M373.1,303.3L377.6,296.8L380.4,298.6L376.0,305.1Z" fill="#87b285" stroke="#87b285" stroke-width="0.6"/><path d="M376.0,305.1L380.4,298.6L383.2,300.5L379.0,306.8Z" fill="#8db68a" stroke="#8db68a" stroke-width="0.6"/><path d="M379.0,306.8L383.2,300.5L386.1,302.3L382.0,308.5Z" fill="#94bb8e" stroke="#94bb8e" stroke-width="0.6"/><path d="M382.0,308.5L386.1,302.3L388.9,304.2L384.9,310.2Z" fill="#9bbf92" stroke="#9bbf92" stroke-width="0.6"/><path d="M384.9,310.2L388.9,304.2L391.8,306.0L387.9,311.9Z" fill="#a1c397" stroke="#a1c397" stroke-width="0.6"/><path d="M387.9,311.9L391.8,306.0L394.6,307.8L390.8,313.6Z" fill="#a8c89b" stroke="#a8c89b" stroke-width="0.6"/><path d="M390.8,313.6L394.6,307.8L397.5,309.7L393.8,315.3Z" fill="#aecca0" stroke="#aecca0" stroke-width="0.6"/><path d="M374.7,294.9L379.6,288.5L382.4,290.4L377.6,296.8Z" fill="#82ae82" stroke="#82ae82" stroke-width="0.6"/><path d="M377.6,296.8L382.4,290.4L385.1,292.4L380.4,298.6Z" fill="#88b386" stroke="#88b386" stroke-width="0.6"/><path d="M380.4,298.6L385.1,292.4L387.8,294.4L383.2,300.5Z" fill="#8fb78b" stroke="#8fb78b" stroke-width="0.6"/><path d="M383.2,300.5L387.8,294.4L390.5,296.4L386.1,302.3Z" fill="#95bb8f" stroke="#95bb8f" stroke-width="0.6"/><path d="M386.1,302.3L390.5,296.4L393.3,298.4L388.9,304.2Z" fill="#9cc093" stroke="#9cc093" stroke-width="0.6"/><path d="M388.9,304.2L393.3,298.4L396.0,300.3L391.8,306.0Z" fill="#a2c498" stroke="#a2c498" stroke-width="0.6"/><path d="M391.8,306.0L396.0,300.3L398.7,302.3L394.6,307.8Z" fill="#a9c89c" stroke="#a9c89c" stroke-width="0.6"/><path d="M394.6,307.8L398.7,302.3L401.4,304.3L397.5,309.7Z" fill="#afcca1" stroke="#afcca1" stroke-width="0.6"/><path d="M379.6,288.5L384.9,282.3L387.5,284.4L382.4,290.4Z" fill="#84b084" stroke="#84b084" stroke-width="0.6"/><path d="M382.4,290.4L387.5,284.4L390.1,286.5L385.1,292.4Z" fill="#8ab488" stroke="#8ab488" stroke-width="0.6"/><path d="M385.1,292.4L390.1,286.5L392.7,288.6L387.8,294.4Z" fill="#90b88c" stroke="#90b88c" stroke-width="0.6"/><path d="M387.8,294.4L392.7,288.6L395.3,290.7L390.5,296.4Z" fill="#97bc90" stroke="#97bc90" stroke-width="0.6"/><path d="M390.5,296.4L395.3,290.7L397.9,292.8L393.3,298.4Z" fill="#9dc095" stroke="#9dc095" stroke-width="0.6"/><path d="M393.3,298.4L397.9,292.8L400.5,294.9L396.0,300.3Z" fill="#a3c499" stroke="#a3c499" stroke-width="0.6"/><path d="M396.0,300.3L400.5,294.9L403.1,297.0L398.7,302.3Z" fill="#a9c99d" stroke="#a9c99d" stroke-width="0.6"/><path d="M398.7,302.3L403.1,297.0L405.7,299.1L401.4,304.3Z" fill="#b0cda1" stroke="#b0cda1" stroke-width="0.6"/><path d="M384.9,282.3L390.5,276.5L392.9,278.7L387.5,284.4Z" fill="#86b185" stroke="#86b185" stroke-width="0.6"/><path d="M387.5,284.4L392.9,278.7L395.4,280.9L390.1,286.5Z" fill="#8cb58a" stroke="#8cb58a" stroke-width="0.6"/><path d="M390.1,286.5L395.4,280.9L397.9,283.1L392.7,288.6Z" fill="#92b98e" stroke="#92b98e" stroke-width="0.6"/><path d="M392.7,288.6L397.9,283.1L400.3,285.3L395.3,290.7Z" fill="#98bd92" stroke="#98bd92" stroke-width="0.6"/><path d="M395.3,290.7L400.3,285.3L402.8,287.6L397.9,292.8Z" fill="#9ec196" stroke="#9ec196" stroke-width="0.6"/><path d="M397.9,292.8L402.8,287.6L405.3,289.8L400.5,294.9Z" fill="#a4c59a" stroke="#a4c59a" stroke-width="0.6"/><path d="M400.5,294.9L405.3,289.8L407.8,292.0L403.1,297.0Z" fill="#abc99e" stroke="#abc99e" stroke-width="0.6"/><path d="M403.1,297.0L407.8,292.0L410.2,294.2L405.7,299.1Z" fill="#b1cda2" stroke="#b1cda2" stroke-width="0.6"/><path d="M390.5,276.5L396.3,270.9L398.7,273.3L392.9,278.7Z" fill="#88b388" stroke="#88b388" stroke-width="0.6"/><path d="M392.9,278.7L398.7,273.3L401.0,275.6L395.4,280.9Z" fill="#8eb78c" stroke="#8eb78c" stroke-width="0.6"/><path d="M395.4,280.9L401.0,275.6L403.3,277.9L397.9,283.1Z" fill="#94bb90" stroke="#94bb90" stroke-width="0.6"/><path d="M397.9,283.1L403.3,277.9L405.7,280.3L400.3,285.3Z" fill="#9abf94" stroke="#9abf94" stroke-width="0.6"/><path d="M400.3,285.3L405.7,280.3L408.0,282.6L402.8,287.6Z" fill="#a0c298" stroke="#a0c298" stroke-width="0.6"/><path d="M402.8,287.6L408.0,282.6L410.3,284.9L405.3,289.8Z" fill="#a6c69c" stroke="#a6c69c" stroke-width="0.6"/><path d="M405.3,289.8L410.3,284.9L412.7,287.3L407.8,292.0Z" fill="#accaa0" stroke="#accaa0" stroke-width="0.6"/><path d="M407.8,292.0L412.7,287.3L415.0,289.6L410.2,294.2Z" fill="#b2cea4" stroke="#b2cea4" stroke-width="0.6"/><path d="M396.3,270.9L402.5,265.7L404.7,268.2L398.7,273.3Z" fill="#8bb58a" stroke="#8bb58a" stroke-width="0.6"/><path d="M398.7,273.3L404.7,268.2L406.9,270.6L401.0,275.6Z" fill="#91b98e" stroke="#91b98e" stroke-width="0.6"/><path d="M401.0,275.6L406.9,270.6L409.1,273.1L403.3,277.9Z" fill="#97bc92" stroke="#97bc92" stroke-width="0.6"/><path d="M403.3,277.9L409.1,273.1L411.2,275.5L405.7,280.3Z" fill="#9cc096" stroke="#9cc096" stroke-width="0.6"/><path d="M405.7,280.3L411.2,275.5L413.4,277.9L408.0,282.6Z" fill="#a2c49a" stroke="#a2c49a" stroke-width="0.6"/><path d="M408.0,282.6L413.4,277.9L415.6,280.4L410.3,284.9Z" fill="#a8c79e" stroke="#a8c79e" stroke-width="0.6"/><path d="M410.3,284.9L415.6,280.4L417.8,282.8L412.7,287.3Z" fill="#adcba1" stroke="#adcba1" stroke-width="0.6"/><path d="M412.7,287.3L417.8,282.8L420.0,285.3L415.0,289.6Z" fill="#b3cfa5" stroke="#b3cfa5" stroke-width="0.6"/><path d="M402.5,265.7L408.8,260.9L410.9,263.5L404.7,268.2Z" fill="#8fb78d" stroke="#8fb78d" stroke-width="0.6"/><path d="M404.7,268.2L410.9,263.5L413.0,266.0L406.9,270.6Z" fill="#94bb91" stroke="#94bb91" stroke-width="0.6"/><path d="M406.9,270.6L413.0,266.0L415.0,268.6L409.1,273.1Z" fill="#9abe95" stroke="#9abe95" stroke-width="0.6"/><path d="M409.1,273.1L415.0,268.6L417.1,271.1L411.2,275.5Z" fill="#9fc298" stroke="#9fc298" stroke-width="0.6"/><path d="M411.2,275.5L417.1,271.1L419.2,273.7L413.4,277.9Z" fill="#a4c59c" stroke="#a4c59c" stroke-width="0.6"/><path d="M413.4,277.9L419.2,273.7L421.2,276.2L415.6,280.4Z" fill="#aac9a0" stroke="#aac9a0" stroke-width="0.6"/><path d="M415.6,280.4L421.2,276.2L423.3,278.8L417.8,282.8Z" fill="#afcca3" stroke="#afcca3" stroke-width="0.6"/><path d="M417.8,282.8L423.3,278.8L425.4,281.3L420.0,285.3Z" fill="#b4d0a7" stroke="#b4d0a7" stroke-width="0.6"/><path d="M408.8,260.9L415.5,256.5L417.4,259.1L410.9,263.5Z" fill="#93ba91" stroke="#93ba91" stroke-width="0.6"/><path d="M410.9,263.5L417.4,259.1L419.3,261.8L413.0,266.0Z" fill="#98bd94" stroke="#98bd94" stroke-width="0.6"/><path d="M413.0,266.0L419.3,261.8L421.3,264.4L415.0,268.6Z" fill="#9dc098" stroke="#9dc098" stroke-width="0.6"/><path d="M415.0,268.6L421.3,264.4L423.2,267.1L417.1,271.1Z" fill="#a2c49b" stroke="#a2c49b" stroke-width="0.6"/><path d="M417.1,271.1L423.2,267.1L425.1,269.7L419.2,273.7Z" fill="#a7c79e" stroke="#a7c79e" stroke-width="0.6"/><path d="M419.2,273.7L425.1,269.7L427.1,272.4L421.2,276.2Z" fill="#accaa2" stroke="#accaa2" stroke-width="0.6"/><path d="M421.2,276.2L427.1,272.4L429.0,275.0L423.3,278.8Z" fill="#b1cda5" stroke="#b1cda5" stroke-width="0.6"/><path d="M423.3,278.8L429.0,275.0L430.9,277.7L425.4,281.3Z" fill="#b6d1a9" stroke="#b6d1a9" stroke-width="0.6"/><path d="M415.5,256.5L422.3,252.4L424.1,255.2L417.4,259.1Z" fill="#97bc95" stroke="#97bc95" stroke-width="0.6"/><path d="M417.4,259.1L424.1,255.2L425.9,257.9L419.3,261.8Z" fill="#9cc098" stroke="#9cc098" stroke-width="0.6"/><path d="M419.3,261.8L425.9,257.9L427.7,260.7L421.3,264.4Z" fill="#a0c39b" stroke="#a0c39b" stroke-width="0.6"/><path d="M421.3,264.4L427.7,260.7L429.5,263.4L423.2,267.1Z" fill="#a5c69e" stroke="#a5c69e" stroke-width="0.6"/><path d="M423.2,267.1L429.5,263.4L431.3,266.2L425.1,269.7Z" fill="#aac9a1" stroke="#aac9a1" stroke-width="0.6"/><path d="M425.1,269.7L431.3,266.2L433.1,268.9L427.1,272.4Z" fill="#aecca4" stroke="#aecca4" stroke-width="0.6"/><path d="M427.1,272.4L433.1,268.9L434.9,271.7L429.0,275.0Z" fill="#b3cfa7" stroke="#b3cfa7" stroke-width="0.6"/><path d="M429.0,275.0L434.9,271.7L436.6,274.4L430.9,277.7Z" fill="#b7d2ab" stroke="#b7d2ab" stroke-width="0.6"/><path d="M422.3,252.4L429.4,248.8L431.0,251.6L424.1,255.2Z" fill="#9cbf99" stroke="#9cbf99" stroke-width="0.6"/><path d="M424.1,255.2L431.0,251.6L432.7,254.4L425.9,257.9Z" fill="#a0c29b" stroke="#a0c29b" stroke-width="0.6"/><path d="M425.9,257.9L432.7,254.4L434.3,257.3L427.7,260.7Z" fill="#a4c59e" stroke="#a4c59e" stroke-width="0.6"/><path d="M427.7,260.7L434.3,257.3L435.9,260.1L429.5,263.4Z" fill="#a8c8a1" stroke="#a8c8a1" stroke-width="0.6"/><path d="M429.5,263.4L435.9,260.1L437.6,263.0L431.3,266.2Z" fill="#adcba4" stroke="#adcba4" stroke-width="0.6"/><path d="M431.3,266.2L437.6,263.0L439.2,265.8L433.1,268.9Z" fill="#b1cda7" stroke="#b1cda7" stroke-width="0.6"/><path d="M433.1,268.9L439.2,265.8L440.9,268.7L434.9,271.7Z" fill="#b5d0aa" stroke="#b5d0aa" stroke-width="0.6"/><path d="M434.9,271.7L440.9,268.7L442.5,271.5L436.6,274.4Z" fill="#b9d3ad" stroke="#b9d3ad" stroke-width="0.6"/><path d="M429.4,248.8L436.6,245.5L438.1,248.4L431.0,251.6Z" fill="#a0c39d" stroke="#a0c39d" stroke-width="0.6"/><path d="M431.0,251.6L438.1,248.4L439.6,251.4L432.7,254.4Z" fill="#a4c59f" stroke="#a4c59f" stroke-width="0.6"/><path d="M432.7,254.4L439.6,251.4L441.1,254.3L434.3,257.3Z" fill="#a8c8a2" stroke="#a8c8a2" stroke-width="0.6"/><path d="M434.3,257.3L441.1,254.3L442.5,257.2L435.9,260.1Z" fill="#accaa4" stroke="#accaa4" stroke-width="0.6"/><path d="M435.9,260.1L442.5,257.2L444.0,260.1L437.6,263.0Z" fill="#b0cda7" stroke="#b0cda7" stroke-width="0.6"/><path d="M437.6,263.0L444.0,260.1L445.5,263.1L439.2,265.8Z" fill="#b3cfaa" stroke="#b3cfaa" stroke-width="0.6"/><path d="M439.2,265.8L445.5,263.1L447.0,266.0L440.9,268.7Z" fill="#b7d2ac" stroke="#b7d2ac" stroke-width="0.6"/><path d="M440.9,268.7L447.0,266.0L448.5,268.9L442.5,271.5Z" fill="#bbd4af" stroke="#bbd4af" stroke-width="0.6"/><path d="M436.6,245.5L444.0,242.7L445.3,245.7L438.1,248.4Z" fill="#a5c6a1" stroke="#a5c6a1" stroke-width="0.6"/><path d="M438.1,248.4L445.3,245.7L446.6,248.7L439.6,251.4Z" fill="#a8c8a3" stroke="#a8c8a3" stroke-width="0.6"/><path d="M439.6,251.4L446.6,248.7L447.9,251.7L441.1,254.3Z" fill="#accaa6" stroke="#accaa6" stroke-width="0.6"/><path d="M441.1,254.3L447.9,251.7L449.3,254.6L442.5,257.2Z" fill="#afcca8" stroke="#afcca8" stroke-width="0.6"/><path d="M442.5,257.2L449.3,254.6L450.6,257.6L444.0,260.1Z" fill="#b3cfaa" stroke="#b3cfaa" stroke-width="0.6"/><path d="M444.0,260.1L450.6,257.6L451.9,260.6L445.5,263.1Z" fill="#b6d1ad" stroke="#b6d1ad" stroke-width="0.6"/><path d="M445.5,263.1L451.9,260.6L453.2,263.6L447.0,266.0Z" fill="#bad3af" stroke="#bad3af" stroke-width="0.6"/><path d="M447.0,266.0L453.2,263.6L454.6,266.6L448.5,268.9Z" fill="#bdd6b1" stroke="#bdd6b1" stroke-width="0.6"/><path d="M444.0,242.7L451.4,240.4L452.6,243.4L445.3,245.7Z" fill="#aac9a5" stroke="#aac9a5" stroke-width="0.6"/><path d="M445.3,245.7L452.6,243.4L453.7,246.4L446.6,248.7Z" fill="#adcba7" stroke="#adcba7" stroke-width="0.6"/><path d="M446.6,248.7L453.7,246.4L454.9,249.4L447.9,251.7Z" fill="#b0cda9" stroke="#b0cda9" stroke-width="0.6"/><path d="M447.9,251.7L454.9,249.4L456.1,252.4L449.3,254.6Z" fill="#b3cfab" stroke="#b3cfab" stroke-width="0.6"/><path d="M449.3,254.6L456.1,252.4L457.2,255.4L450.6,257.6Z" fill="#b6d1ad" stroke="#b6d1ad" stroke-width="0.6"/><path d="M450.6,257.6L457.2,255.4L458.4,258.4L451.9,260.6Z" fill="#b9d3af" stroke="#b9d3af" stroke-width="0.6"/><path d="M451.9,260.6L458.4,258.4L459.5,261.5L453.2,263.6Z" fill="#bcd5b1" stroke="#bcd5b1" stroke-width="0.6"/><path d="M453.2,263.6L459.5,261.5L460.7,264.5L454.6,266.6Z" fill="#bfd7b3" stroke="#bfd7b3" stroke-width="0.6"/><path d="M451.4,240.4L459.0,238.4L460.0,241.5L452.6,243.4Z" fill="#aecca9" stroke="#aecca9" stroke-width="0.6"/><path d="M452.6,243.4L460.0,241.5L461.0,244.5L453.7,246.4Z" fill="#b1ceab" stroke="#b1ceab" stroke-width="0.6"/><path d="M453.7,246.4L461.0,244.5L461.9,247.5L454.9,249.4Z" fill="#b4cfad" stroke="#b4cfad" stroke-width="0.6"/><path d="M454.9,249.4L461.9,247.5L462.9,250.5L456.1,252.4Z" fill="#b6d1ae" stroke="#b6d1ae" stroke-width="0.6"/><path d="M456.1,252.4L462.9,250.5L463.9,253.6L457.2,255.4Z" fill="#b9d3b0" stroke="#b9d3b0" stroke-width="0.6"/><path d="M457.2,255.4L463.9,253.6L464.9,256.6L458.4,258.4Z" fill="#bbd4b2" stroke="#bbd4b2" stroke-width="0.6"/><path d="M458.4,258.4L464.9,256.6L465.9,259.6L459.5,261.5Z" fill="#bed6b4" stroke="#bed6b4" stroke-width="0.6"/><path d="M459.5,261.5L465.9,259.6L466.9,262.6L460.7,264.5Z" fill="#c1d8b6" stroke="#c1d8b6" stroke-width="0.6"/><path d="M459.0,238.4L466.6,236.9L467.4,240.0L460.0,241.5Z" fill="#b2cead" stroke="#b2cead" stroke-width="0.6"/><path d="M460.0,241.5L467.4,240.0L468.2,243.0L461.0,244.5Z" fill="#b5d0ae" stroke="#b5d0ae" stroke-width="0.6"/><path d="M461.0,244.5L468.2,243.0L469.1,246.0L461.9,247.5Z" fill="#b7d2b0" stroke="#b7d2b0" stroke-width="0.6"/><path d="M461.9,247.5L469.1,246.0L469.9,249.0L462.9,250.5Z" fill="#b9d3b1" stroke="#b9d3b1" stroke-width="0.6"/><path d="M462.9,250.5L469.9,249.0L470.7,252.0L463.9,253.6Z" fill="#bcd5b3" stroke="#bcd5b3" stroke-width="0.6"/><path d="M463.9,253.6L470.7,252.0L471.5,255.1L464.9,256.6Z" fill="#bed6b4" stroke="#bed6b4" stroke-width="0.6"/><path d="M464.9,256.6L471.5,255.1L472.3,258.1L465.9,259.6Z" fill="#c0d8b6" stroke="#c0d8b6" stroke-width="0.6"/><path d="M465.9,259.6L472.3,258.1L473.1,261.1L466.9,262.6Z" fill="#c2d9b7" stroke="#c2d9b7" stroke-width="0.6"/><path d="M466.6,236.9L474.3,235.8L474.9,238.8L467.4,240.0Z" fill="#b6d1b0" stroke="#b6d1b0" stroke-width="0.6"/><path d="M467.4,240.0L474.9,238.8L475.6,241.9L468.2,243.0Z" fill="#b8d2b1" stroke="#b8d2b1" stroke-width="0.6"/><path d="M468.2,243.0L475.6,241.9L476.2,244.9L469.1,246.0Z" fill="#bad3b2" stroke="#bad3b2" stroke-width="0.6"/><path d="M469.1,246.0L476.2,244.9L476.8,247.9L469.9,249.0Z" fill="#bcd5b4" stroke="#bcd5b4" stroke-width="0.6"/><path d="M469.9,249.0L476.8,247.9L477.5,250.9L470.7,252.0Z" fill="#bed6b5" stroke="#bed6b5" stroke-width="0.6"/><path d="M470.7,252.0L477.5,250.9L478.1,253.9L471.5,255.1Z" fill="#c0d7b7" stroke="#c0d7b7" stroke-width="0.6"/><path d="M471.5,255.1L478.1,253.9L478.8,256.9L472.3,258.1Z" fill="#c2d9b8" stroke="#c2d9b8" stroke-width="0.6"/><path d="M472.3,258.1L478.8,256.9L479.4,259.9L473.1,261.1Z" fill="#c4dab9" stroke="#c4dab9" stroke-width="0.6"/><path d="M474.3,235.8L482.0,235.1L482.4,238.1L474.9,238.8Z" fill="#b9d3b2" stroke="#b9d3b2" stroke-width="0.6"/><path d="M474.9,238.8L482.4,238.1L482.9,241.1L475.6,241.9Z" fill="#bbd4b4" stroke="#bbd4b4" stroke-width="0.6"/><path d="M475.6,241.9L482.9,241.1L483.4,244.1L476.2,244.9Z" fill="#bcd5b5" stroke="#bcd5b5" stroke-width="0.6"/><path d="M476.2,244.9L483.4,244.1L483.8,247.1L476.8,247.9Z" fill="#bed6b6" stroke="#bed6b6" stroke-width="0.6"/><path d="M476.8,247.9L483.8,247.1L484.3,250.0L477.5,250.9Z" fill="#c0d7b7" stroke="#c0d7b7" stroke-width="0.6"/><path d="M477.5,250.9L484.3,250.0L484.8,253.0L478.1,253.9Z" fill="#c2d8b8" stroke="#c2d8b8" stroke-width="0.6"/><path d="M478.1,253.9L484.8,253.0L485.3,256.0L478.8,256.9Z" fill="#c3dab9" stroke="#c3dab9" stroke-width="0.6"/><path d="M478.8,256.9L485.3,256.0L485.7,259.0L479.4,259.9Z" fill="#c5dbbb" stroke="#c5dbbb" stroke-width="0.6"/><path d="M482.0,235.1L489.6,234.8L489.9,237.8L482.4,238.1Z" fill="#bbd4b4" stroke="#bbd4b4" stroke-width="0.6"/><path d="M482.4,238.1L489.9,237.8L490.2,240.7L482.9,241.1Z" fill="#bdd5b5" stroke="#bdd5b5" stroke-width="0.6"/><path d="M482.9,241.1L490.2,240.7L490.5,243.7L483.4,244.1Z" fill="#bed6b6" stroke="#bed6b6" stroke-width="0.6"/><path d="M483.4,244.1L490.5,243.7L490.8,246.6L483.8,247.1Z" fill="#c0d7b7" stroke="#c0d7b7" stroke-width="0.6"/><path d="M483.8,247.1L490.8,246.6L491.2,249.5L484.3,250.0Z" fill="#c1d8b8" stroke="#c1d8b8" stroke-width="0.6"/><path d="M484.3,250.0L491.2,249.5L491.5,252.5L484.8,253.0Z" fill="#c3d9b9" stroke="#c3d9b9" stroke-width="0.6"/><path d="M484.8,253.0L491.5,252.5L491.8,255.4L485.3,256.0Z" fill="#c4dabb" stroke="#c4dabb" stroke-width="0.6"/><path d="M485.3,256.0L491.8,255.4L492.1,258.4L485.7,259.0Z" fill="#c6dbbc" stroke="#c6dbbc" stroke-width="0.6"/><path d="M489.6,234.8L497.2,234.9L497.4,237.8L489.9,237.8Z" fill="#bcd5b5" stroke="#bcd5b5" stroke-width="0.6"/><path d="M489.9,237.8L497.4,237.8L497.5,240.7L490.2,240.7Z" fill="#bed6b6" stroke="#bed6b6" stroke-width="0.6"/><path d="M490.2,240.7L497.5,240.7L497.7,243.6L490.5,243.7Z" fill="#bfd7b7" stroke="#bfd7b7" stroke-width="0.6"/><path d="M490.5,243.7L497.7,243.6L497.8,246.4L490.8,246.6Z" fill="#c1d8b8" stroke="#c1d8b8" stroke-width="0.6"/><path d="M490.8,246.6L497.8,246.4L498.0,249.3L491.2,249.5Z" fill="#c2d9b9" stroke="#c2d9b9" stroke-width="0.6"/><path d="M491.2,249.5L498.0,249.3L498.1,252.2L491.5,252.5Z" fill="#c4daba" stroke="#c4daba" stroke-width="0.6"/><path d="M491.5,252.5L498.1,252.2L498.3,255.1L491.8,255.4Z" fill="#c5dbbb" stroke="#c5dbbb" stroke-width="0.6"/><path d="M491.8,255.4L498.3,255.1L498.4,258.0L492.1,258.4Z" fill="#c6dcbc" stroke="#c6dcbc" stroke-width="0.6"/><path d="M497.2,234.9L504.8,235.3L504.8,238.1L497.4,237.8Z" fill="#bdd5b6" stroke="#bdd5b6" stroke-width="0.6"/><path d="M497.4,237.8L504.8,238.1L504.8,240.9L497.5,240.7Z" fill="#bed6b7" stroke="#bed6b7" stroke-width="0.6"/><path d="M497.5,240.7L504.8,240.9L504.8,243.8L497.7,243.6Z" fill="#bfd7b8" stroke="#bfd7b8" stroke-width="0.6"/><path d="M497.7,243.6L504.8,243.8L504.8,246.6L497.8,246.4Z" fill="#c1d8b9" stroke="#c1d8b9" stroke-width="0.6"/><path d="M497.8,246.4L504.8,246.6L504.8,249.4L498.0,249.3Z" fill="#c2d9b9" stroke="#c2d9b9" stroke-width="0.6"/><path d="M498.0,249.3L504.8,249.4L504.8,252.2L498.1,252.2Z" fill="#c4daba" stroke="#c4daba" stroke-width="0.6"/><path d="M498.1,252.2L504.8,252.2L504.8,255.1L498.3,255.1Z" fill="#c5dbbb" stroke="#c5dbbb" stroke-width="0.6"/><path d="M498.3,255.1L504.8,255.1L504.8,257.9L498.4,258.0Z" fill="#c6dcbc" stroke="#c6dcbc" stroke-width="0.6"/><path d="M504.8,235.3L512.3,236.0L512.2,238.8L504.8,238.1Z" fill="#bcd5b5" stroke="#bcd5b5" stroke-width="0.6"/><path d="M504.8,238.1L512.2,238.8L512.0,241.5L504.8,240.9Z" fill="#bed6b6" stroke="#bed6b6" stroke-width="0.6"/><path d="M504.8,240.9L512.0,241.5L511.9,244.3L504.8,243.8Z" fill="#bfd7b7" stroke="#bfd7b7" stroke-width="0.6"/><path d="M504.8,243.8L511.9,244.3L511.7,247.0L504.8,246.6Z" fill="#c0d8b8" stroke="#c0d8b8" stroke-width="0.6"/><path d="M504.8,246.6L511.7,247.0L511.6,249.8L504.8,249.4Z" fill="#c2d9b9" stroke="#c2d9b9" stroke-width="0.6"/><path d="M504.8,249.4L511.6,249.8L511.4,252.5L504.8,252.2Z" fill="#c3daba" stroke="#c3daba" stroke-width="0.6"/><path d="M504.8,252.2L511.4,252.5L511.3,255.3L504.8,255.1Z" fill="#c5dbbb" stroke="#c5dbbb" stroke-width="0.6"/><path d="M504.8,255.1L511.3,255.3L511.2,258.0L504.8,257.9Z" fill="#c6dcbc" stroke="#c6dcbc" stroke-width="0.6"/><path d="M512.3,236.0L519.8,237.1L519.5,239.8L512.2,238.8Z" fill="#bad4b4" stroke="#bad4b4" stroke-width="0.6"/><path d="M512.2,238.8L519.5,239.8L519.2,242.4L512.0,241.5Z" fill="#bcd5b5" stroke="#bcd5b5" stroke-width="0.6"/><path d="M512.0,241.5L519.2,242.4L518.9,245.1L511.9,244.3Z" fill="#bed6b6" stroke="#bed6b6" stroke-width="0.6"/><path d="M511.9,244.3L518.9,245.1L518.6,247.7L511.7,247.0Z" fill="#bfd7b7" stroke="#bfd7b7" stroke-width="0.6"/><path d="M511.7,247.0L518.6,247.7L518.4,250.4L511.6,249.8Z" fill="#c1d8b8" stroke="#c1d8b8" stroke-width="0.6"/><path d="M511.6,249.8L518.4,250.4L518.1,253.0L511.4,252.5Z" fill="#c2d9b9" stroke="#c2d9b9" stroke-width="0.6"/><path d="M511.4,252.5L518.1,253.0L517.8,255.7L511.3,255.3Z" fill="#c4daba" stroke="#c4daba" stroke-width="0.6"/><path d="M511.3,255.3L517.8,255.7L517.5,258.3L511.2,258.0Z" fill="#c6dbbb" stroke="#c6dbbb" stroke-width="0.6"/><path d="M519.8,237.1L527.1,238.5L526.7,241.0L519.5,239.8Z" fill="#b8d2b2" stroke="#b8d2b2" stroke-width="0.6"/><path d="M519.5,239.8L526.7,241.0L526.3,243.6L519.2,242.4Z" fill="#bad3b3" stroke="#bad3b3" stroke-width="0.6"/><path d="M519.2,242.4L526.3,243.6L525.9,246.1L518.9,245.1Z" fill="#bcd5b4" stroke="#bcd5b4" stroke-width="0.6"/><path d="M518.9,245.1L525.9,246.1L525.5,248.7L518.6,247.7Z" fill="#bdd6b5" stroke="#bdd6b5" stroke-width="0.6"/><path d="M518.6,247.7L525.5,248.7L525.1,251.3L518.4,250.4Z" fill="#bfd7b6" stroke="#bfd7b6" stroke-width="0.6"/><path d="M518.4,250.4L525.1,251.3L524.7,253.8L518.1,253.0Z" fill="#c1d8b8" stroke="#c1d8b8" stroke-width="0.6"/><path d="M518.1,253.0L524.7,253.8L524.3,256.4L517.8,255.7Z" fill="#c3d9b9" stroke="#c3d9b9" stroke-width="0.6"/><path d="M517.8,255.7L524.3,256.4L523.9,258.9L517.5,258.3Z" fill="#c5dbba" stroke="#c5dbba" stroke-width="0.6"/><path d="M527.1,238.5L534.4,240.1L533.9,242.6L526.7,241.0Z" fill="#b5d0af" stroke="#b5d0af" stroke-width="0.6"/><path d="M526.7,241.0L533.9,242.6L533.4,245.1L526.3,243.6Z" fill="#b7d1b0" stroke="#b7d1b0" stroke-width="0.6"/><path d="M526.3,243.6L533.4,245.1L532.8,247.5L525.9,246.1Z" fill="#b9d3b2" stroke="#b9d3b2" stroke-width="0.6"/><path d="M525.9,246.1L532.8,247.5L532.3,250.0L525.5,248.7Z" fill="#bbd4b3" stroke="#bbd4b3" stroke-width="0.6"/><path d="M525.5,248.7L532.3,250.0L531.8,252.4L525.1,251.3Z" fill="#bdd6b4" stroke="#bdd6b4" stroke-width="0.6"/><path d="M525.1,251.3L531.8,252.4L531.3,254.9L524.7,253.8Z" fill="#bfd7b6" stroke="#bfd7b6" stroke-width="0.6"/><path d="M524.7,253.8L531.3,254.9L530.7,257.3L524.3,256.4Z" fill="#c1d8b7" stroke="#c1d8b7" stroke-width="0.6"/><path d="M524.3,256.4L530.7,257.3L530.2,259.8L523.9,258.9Z" fill="#c3dab9" stroke="#c3dab9" stroke-width="0.6"/><path d="M534.4,240.1L541.6,242.1L541.0,244.4L533.9,242.6Z" fill="#b1ceab" stroke="#b1ceab" stroke-width="0.6"/><path d="M533.9,242.6L541.0,244.4L540.3,246.8L533.4,245.1Z" fill="#b3cfad" stroke="#b3cfad" stroke-width="0.6"/><path d="M533.4,245.1L540.3,246.8L539.7,249.2L532.8,247.5Z" fill="#b6d1af" stroke="#b6d1af" stroke-width="0.6"/><path d="M532.8,247.5L539.7,249.2L539.1,251.5L532.3,250.0Z" fill="#b8d2b0" stroke="#b8d2b0" stroke-width="0.6"/><path d="M532.3,250.0L539.1,251.5L538.4,253.9L531.8,252.4Z" fill="#bbd4b2" stroke="#bbd4b2" stroke-width="0.6"/><path d="M531.8,252.4L538.4,253.9L537.8,256.3L531.3,254.9Z" fill="#bdd6b4" stroke="#bdd6b4" stroke-width="0.6"/><path d="M531.3,254.9L537.8,256.3L537.2,258.6L530.7,257.3Z" fill="#bfd7b5" stroke="#bfd7b5" stroke-width="0.6"/><path d="M530.7,257.3L537.2,258.6L536.5,261.0L530.2,259.8Z" fill="#c2d9b7" stroke="#c2d9b7" stroke-width="0.6"/><path d="M541.6,242.1L548.7,244.3L548.0,246.6L541.0,244.4Z" fill="#adcba8" stroke="#adcba8" stroke-width="0.6"/><path d="M541.0,244.4L548.0,246.6L547.2,248.9L540.3,246.8Z" fill="#b0cdaa" stroke="#b0cdaa" stroke-width="0.6"/><path d="M540.3,246.8L547.2,248.9L546.5,251.1L539.7,249.2Z" fill="#b2ceab" stroke="#b2ceab" stroke-width="0.6"/><path d="M539.7,249.2L546.5,251.1L545.7,253.4L539.1,251.5Z" fill="#b5d0ad" stroke="#b5d0ad" stroke-width="0.6"/><path d="M539.1,251.5L545.7,253.4L545.0,255.7L538.4,253.9Z" fill="#b8d2af" stroke="#b8d2af" stroke-width="0.6"/><path d="M538.4,253.9L545.0,255.7L544.2,258.0L537.8,256.3Z" fill="#bbd4b1" stroke="#bbd4b1" stroke-width="0.6"/><path d="M537.8,256.3L544.2,258.0L543.5,260.3L537.2,258.6Z" fill="#bdd6b3" stroke="#bdd6b3" stroke-width="0.6"/><path d="M537.2,258.6L543.5,260.3L542.8,262.6L536.5,261.0Z" fill="#c0d8b5" stroke="#c0d8b5" stroke-width="0.6"/><path d="M548.7,244.3L555.7,246.7L554.9,248.9L548.0,246.6Z" fill="#a8c8a4" stroke="#a8c8a4" stroke-width="0.6"/><path d="M548.0,246.6L554.9,248.9L554.0,251.2L547.2,248.9Z" fill="#abcaa6" stroke="#abcaa6" stroke-width="0.6"/><path d="M547.2,248.9L554.0,251.2L553.2,253.4L546.5,251.1Z" fill="#afcca8" stroke="#afcca8" stroke-width="0.6"/><path d="M546.5,251.1L553.2,253.4L552.3,255.6L545.7,253.4Z" fill="#b2ceaa" stroke="#b2ceaa" stroke-width="0.6"/><path d="M545.7,253.4L552.3,255.6L551.5,257.8L545.0,255.7Z" fill="#b5d0ac" stroke="#b5d0ac" stroke-width="0.6"/><path d="M545.0,255.7L551.5,257.8L550.6,260.1L544.2,258.0Z" fill="#b8d2ae" stroke="#b8d2ae" stroke-width="0.6"/><path d="M544.2,258.0L550.6,260.1L549.8,262.3L543.5,260.3Z" fill="#bbd4b1" stroke="#bbd4b1" stroke-width="0.6"/><path d="M543.5,260.3L549.8,262.3L548.9,264.5L542.8,262.6Z" fill="#bed6b3" stroke="#bed6b3" stroke-width="0.6"/><path d="M555.7,246.7L562.7,249.4L561.7,251.6L554.9,248.9Z" fill="#a8c8a3" stroke="#a8c8a3" stroke-width="0.6"/><path d="M554.9,248.9L561.7,251.6L560.7,253.7L554.0,251.2Z" fill="#abcaa5" stroke="#abcaa5" stroke-width="0.6"/><path d="M554.0,251.2L560.7,253.7L559.8,255.9L553.2,253.4Z" fill="#aecca7" stroke="#aecca7" stroke-width="0.6"/><path d="M553.2,253.4L559.8,255.9L558.8,258.1L552.3,255.6Z" fill="#b1cea9" stroke="#b1cea9" stroke-width="0.6"/><path d="M552.3,255.6L558.8,258.1L557.9,260.2L551.5,257.8Z" fill="#b5d0ac" stroke="#b5d0ac" stroke-width="0.6"/><path d="M551.5,257.8L557.9,260.2L556.9,262.4L550.6,260.1Z" fill="#b8d2ae" stroke="#b8d2ae" stroke-width="0.6"/><path d="M550.6,260.1L556.9,262.4L555.9,264.6L549.8,262.3Z" fill="#bbd4b0" stroke="#bbd4b0" stroke-width="0.6"/><path d="M549.8,262.3L555.9,264.6L555.0,266.7L548.9,264.5Z" fill="#bed6b2" stroke="#bed6b2" stroke-width="0.6"/><path d="M562.7,249.4L569.6,252.3L568.5,254.4L561.7,251.6Z" fill="#aac9a4" stroke="#aac9a4" stroke-width="0.6"/><path d="M561.7,251.6L568.5,254.4L567.4,256.6L560.7,253.7Z" fill="#adcba6" stroke="#adcba6" stroke-width="0.6"/><path d="M560.7,253.7L567.4,256.6L566.3,258.7L559.8,255.9Z" fill="#b0cda8" stroke="#b0cda8" stroke-width="0.6"/><path d="M559.8,255.9L566.3,258.7L565.2,260.8L558.8,258.1Z" fill="#b3cfaa" stroke="#b3cfaa" stroke-width="0.6"/><path d="M558.8,258.1L565.2,260.8L564.1,262.9L557.9,260.2Z" fill="#b6d1ac" stroke="#b6d1ac" stroke-width="0.6"/><path d="M557.9,260.2L564.1,262.9L563.1,265.0L556.9,262.4Z" fill="#b8d3ae" stroke="#b8d3ae" stroke-width="0.6"/><path d="M556.9,262.4L563.1,265.0L562.0,267.2L555.9,264.6Z" fill="#bbd5b0" stroke="#bbd5b0" stroke-width="0.6"/><path d="M555.9,264.6L562.0,267.2L560.9,269.3L555.0,266.7Z" fill="#bed7b2" stroke="#bed7b2" stroke-width="0.6"/><path d="M569.6,252.3L575.7,256.7L574.5,258.6L568.5,254.4Z" fill="#aecca7" stroke="#aecca7" stroke-width="0.6"/><path d="M568.5,254.4L574.5,258.6L573.4,260.5L567.4,256.6Z" fill="#b0cea9" stroke="#b0cea9" stroke-width="0.6"/><path d="M567.4,256.6L573.4,260.5L572.3,262.5L566.3,258.7Z" fill="#b3cfaa" stroke="#b3cfaa" stroke-width="0.6"/><path d="M566.3,258.7L572.3,262.5L571.2,264.4L565.2,260.8Z" fill="#b5d1ac" stroke="#b5d1ac" stroke-width="0.6"/><path d="M565.2,260.8L571.2,264.4L570.1,266.4L564.1,262.9Z" fill="#b8d2ae" stroke="#b8d2ae" stroke-width="0.6"/><path d="M564.1,262.9L570.1,266.4L568.9,268.3L563.1,265.0Z" fill="#bad4af" stroke="#bad4af" stroke-width="0.6"/><path d="M563.1,265.0L568.9,268.3L567.8,270.2L562.0,267.2Z" fill="#bdd6b1" stroke="#bdd6b1" stroke-width="0.6"/><path d="M562.0,267.2L567.8,270.2L566.7,272.2L560.9,269.3Z" fill="#bfd7b3" stroke="#bfd7b3" stroke-width="0.6"/><path d="M575.7,256.7L581.3,261.6L580.2,263.4L574.5,258.6Z" fill="#b3cfab" stroke="#b3cfab" stroke-width="0.6"/><path d="M574.5,258.6L580.2,263.4L579.0,265.1L573.4,260.5Z" fill="#b5d1ac" stroke="#b5d1ac" stroke-width="0.6"/><path d="M573.4,260.5L579.0,265.1L577.9,266.8L572.3,262.5Z" fill="#b7d2ad" stroke="#b7d2ad" stroke-width="0.6"/><path d="M572.3,262.5L577.9,266.8L576.8,268.5L571.2,264.4Z" fill="#b9d3af" stroke="#b9d3af" stroke-width="0.6"/><path d="M571.2,264.4L576.8,268.5L575.7,270.3L570.1,266.4Z" fill="#bbd5b0" stroke="#bbd5b0" stroke-width="0.6"/><path d="M570.1,266.4L575.7,270.3L574.6,272.0L568.9,268.3Z" fill="#bdd6b2" stroke="#bdd6b2" stroke-width="0.6"/><path d="M568.9,268.3L574.6,272.0L573.4,273.7L567.8,270.2Z" fill="#bfd7b3" stroke="#bfd7b3" stroke-width="0.6"/><path d="M567.8,270.2L573.4,273.7L572.3,275.4L566.7,272.2Z" fill="#c1d9b4" stroke="#c1d9b4" stroke-width="0.6"/><path d="M581.3,261.6L586.8,266.5L585.7,268.1L580.2,263.4Z" fill="#b9d4b0" stroke="#b9d4b0" stroke-width="0.6"/><path d="M580.2,263.4L585.7,268.1L584.5,269.7L579.0,265.1Z" fill="#bad5b1" stroke="#bad5b1" stroke-width="0.6"/><path d="M579.0,265.1L584.5,269.7L583.4,271.3L577.9,266.8Z" fill="#bcd6b2" stroke="#bcd6b2" stroke-width="0.6"/><path d="M577.9,266.8L583.4,271.3L582.2,272.8L576.8,268.5Z" fill="#bdd7b3" stroke="#bdd7b3" stroke-width="0.6"/><path d="M576.8,268.5L582.2,272.8L581.1,274.4L575.7,270.3Z" fill="#bfd7b4" stroke="#bfd7b4" stroke-width="0.6"/><path d="M575.7,270.3L581.1,274.4L580.0,276.0L574.6,272.0Z" fill="#c0d8b5" stroke="#c0d8b5" stroke-width="0.6"/><path d="M574.6,272.0L580.0,276.0L578.8,277.5L573.4,273.7Z" fill="#c1d9b6" stroke="#c1d9b6" stroke-width="0.6"/><path d="M573.4,273.7L578.8,277.5L577.7,279.1L572.3,275.4Z" fill="#c3dab6" stroke="#c3dab6" stroke-width="0.6"/><path d="M586.8,266.5L592.2,271.5L591.0,272.9L585.7,268.1Z" fill="#c1d9b6" stroke="#c1d9b6" stroke-width="0.6"/><path d="M585.7,268.1L591.0,272.9L589.8,274.4L584.5,269.7Z" fill="#c1d9b7" stroke="#c1d9b7" stroke-width="0.6"/><path d="M584.5,269.7L589.8,274.4L588.6,275.9L583.4,271.3Z" fill="#c2dab7" stroke="#c2dab7" stroke-width="0.6"/><path d="M583.4,271.3L588.6,275.9L587.4,277.4L582.2,272.8Z" fill="#c3dab7" stroke="#c3dab7" stroke-width="0.6"/><path d="M582.2,272.8L587.4,277.4L586.2,278.9L581.1,274.4Z" fill="#c3dbb8" stroke="#c3dbb8" stroke-width="0.6"/><path d="M581.1,274.4L586.2,278.9L585.0,280.4L580.0,276.0Z" fill="#c4dbb8" stroke="#c4dbb8" stroke-width="0.6"/><path d="M580.0,276.0L585.0,280.4L583.8,281.9L578.8,277.5Z" fill="#c5dcb9" stroke="#c5dcb9" stroke-width="0.6"/><path d="M578.8,277.5L583.8,281.9L582.6,283.4L577.7,279.1Z" fill="#c5dcb9" stroke="#c5dcb9" stroke-width="0.6"/><path d="M592.2,271.5L597.5,276.4L596.2,277.9L591.0,272.9Z" fill="#c8debc" stroke="#c8debc" stroke-width="0.6"/><path d="M591.0,272.9L596.2,277.9L594.9,279.4L589.8,274.4Z" fill="#c8debc" stroke="#c8debc" stroke-width="0.6"/><path d="M589.8,274.4L594.9,279.4L593.6,280.8L588.6,275.9Z" fill="#c8debc" stroke="#c8debc" stroke-width="0.6"/><path d="M588.6,275.9L593.6,280.8L592.2,282.3L587.4,277.4Z" fill="#c8debc" stroke="#c8debc" stroke-width="0.6"/><path d="M587.4,277.4L592.2,282.3L590.9,283.7L586.2,278.9Z" fill="#c8debc" stroke="#c8debc" stroke-width="0.6"/><path d="M586.2,278.9L590.9,283.7L589.6,285.2L585.0,280.4Z" fill="#c8debc" stroke="#c8debc" stroke-width="0.6"/><path d="M585.0,280.4L589.6,285.2L588.3,286.7L583.8,281.9Z" fill="#c8debc" stroke="#c8debc" stroke-width="0.6"/><path d="M583.8,281.9L588.3,286.7L587.0,288.1L582.6,283.4Z" fill="#c8debc" stroke="#c8debc" stroke-width="0.6"/><path d="M597.5,276.4L602.7,281.5L601.2,283.0L596.2,277.9Z" fill="#c8debc" stroke="#c8debc" stroke-width="0.6"/><path d="M596.2,277.9L601.2,283.0L599.7,284.5L594.9,279.4Z" fill="#c8debc" stroke="#c8debc" stroke-width="0.6"/><path d="M594.9,279.4L599.7,284.5L598.3,285.9L593.6,280.8Z" fill="#c8debc" stroke="#c8debc" stroke-width="0.6"/><path d="M593.6,280.8L598.3,285.9L596.8,287.4L592.2,282.3Z" fill="#c8debc" stroke="#c8debc" stroke-width="0.6"/><path d="M592.2,282.3L596.8,287.4L595.3,288.9L590.9,283.7Z" fill="#c8debc" stroke="#c8debc" stroke-width="0.6"/><path d="M590.9,283.7L595.3,288.9L593.9,290.3L589.6,285.2Z" fill="#c8debc" stroke="#c8debc" stroke-width="0.6"/><path d="M589.6,285.2L593.9,290.3L592.4,291.8L588.3,286.7Z" fill="#c8debc" stroke="#c8debc" stroke-width="0.6"/><path d="M588.3,286.7L592.4,291.8L590.9,293.3L587.0,288.1Z" fill="#c8debc" stroke="#c8debc" stroke-width="0.6"/><path d="M602.7,281.5L607.6,286.8L606.0,288.3L601.2,283.0Z" fill="#c8debc" stroke="#c8debc" stroke-width="0.6"/><path d="M601.2,283.0L606.0,288.3L604.3,289.8L599.7,284.5Z" fill="#c8debc" stroke="#c8debc" stroke-width="0.6"/><path d="M599.7,284.5L604.3,289.8L602.7,291.2L598.3,285.9Z" fill="#c8debc" stroke="#c8debc" stroke-width="0.6"/><path d="M598.3,285.9L602.7,291.2L601.1,292.7L596.8,287.4Z" fill="#c8debc" stroke="#c8debc" stroke-width="0.6"/><path d="M596.8,287.4L601.1,292.7L599.4,294.2L595.3,288.9Z" fill="#c8debc" stroke="#c8debc" stroke-width="0.6"/><path d="M595.3,288.9L599.4,294.2L597.8,295.7L593.9,290.3Z" fill="#c8debc" stroke="#c8debc" stroke-width="0.6"/><path d="M593.9,290.3L597.8,295.7L596.2,297.1L592.4,291.8Z" fill="#c8debc" stroke="#c8debc" stroke-width="0.6"/><path d="M592.4,291.8L596.2,297.1L594.5,298.6L590.9,293.3Z" fill="#c8debc" stroke="#c8debc" stroke-width="0.6"/><path d="M607.6,286.8L612.3,292.3L610.5,293.8L606.0,288.3Z" fill="#c8debc" stroke="#c8debc" stroke-width="0.6"/><path d="M606.0,288.3L610.5,293.8L608.7,295.3L604.3,289.8Z" fill="#c8debc" stroke="#c8debc" stroke-width="0.6"/><path d="M604.3,289.8L608.7,295.3L606.9,296.7L602.7,291.2Z" fill="#c8debc" stroke="#c8debc" stroke-width="0.6"/><path d="M602.7,291.2L606.9,296.7L605.0,298.2L601.1,292.7Z" fill="#c8debc" stroke="#c8debc" stroke-width="0.6"/><path d="M601.1,292.7L605.0,298.2L603.2,299.7L599.4,294.2Z" fill="#c8debc" stroke="#c8debc" stroke-width="0.6"/><path d="M599.4,294.2L603.2,299.7L601.4,301.2L597.8,295.7Z" fill="#c8debc" stroke="#c8debc" stroke-width="0.6"/><path d="M597.8,295.7L601.4,301.2L599.6,302.6L596.2,297.1Z" fill="#c8debc" stroke="#c8debc" stroke-width="0.6"/><path d="M596.2,297.1L599.6,302.6L597.8,304.1L594.5,298.6Z" fill="#c8debc" stroke="#c8debc" stroke-width="0.6"/><path d="M612.3,292.3L616.7,298.1L614.7,299.5L610.5,293.8Z" fill="#c8debc" stroke="#c8debc" stroke-width="0.6"/><path d="M610.5,293.8L614.7,299.5L612.7,301.0L608.7,295.3Z" fill="#c8debc" stroke="#c8debc" stroke-width="0.6"/><path d="M608.7,295.3L612.7,301.0L610.7,302.5L606.9,296.7Z" fill="#c8debc" stroke="#c8debc" stroke-width="0.6"/><path d="M606.9,296.7L610.7,302.5L608.6,304.0L605.0,298.2Z" fill="#c8debc" stroke="#c8debc" stroke-width="0.6"/><path d="M605.0,298.2L608.6,304.0L606.6,305.4L603.2,299.7Z" fill="#c8debc" stroke="#c8debc" stroke-width="0.6"/><path d="M603.2,299.7L606.6,305.4L604.6,306.9L601.4,301.2Z" fill="#c8debc" stroke="#c8debc" stroke-width="0.6"/><path d="M601.4,301.2L604.6,306.9L602.6,308.4L599.6,302.6Z" fill="#c8debc" stroke="#c8debc" stroke-width="0.6"/><path d="M599.6,302.6L602.6,308.4L600.5,309.8L597.8,304.1Z" fill="#c8debc" stroke="#c8debc" stroke-width="0.6"/><path d="M616.7,298.1L620.8,304.0L618.6,305.5L614.7,299.5Z" fill="#c8debc" stroke="#c8debc" stroke-width="0.6"/><path d="M614.7,299.5L618.6,305.5L616.3,307.0L612.7,301.0Z" fill="#c8debc" stroke="#c8debc" stroke-width="0.6"/><path d="M612.7,301.0L616.3,307.0L614.1,308.4L610.7,302.5Z" fill="#c8debc" stroke="#c8debc" stroke-width="0.6"/><path d="M610.7,302.5L614.1,308.4L611.8,309.9L608.6,304.0Z" fill="#c8debc" stroke="#c8debc" stroke-width="0.6"/><path d="M608.6,304.0L611.8,309.9L609.6,311.4L606.6,305.4Z" fill="#c8debc" stroke="#c8debc" stroke-width="0.6"/><path d="M606.6,305.4L609.6,311.4L607.3,312.8L604.6,306.9Z" fill="#c8debc" stroke="#c8debc" stroke-width="0.6"/><path d="M604.6,306.9L607.3,312.8L605.1,314.3L602.6,308.4Z" fill="#c8debc" stroke="#c8debc" stroke-width="0.6"/><path d="M602.6,308.4L605.1,314.3L602.8,315.8L600.5,309.8Z" fill="#c8debc" stroke="#c8debc" stroke-width="0.6"/><path d="M620.8,304.0L624.6,310.2L622.1,311.7L618.6,305.5Z" fill="#c8debc" stroke="#c8debc" stroke-width="0.6"/><path d="M618.6,305.5L622.1,311.7L619.6,313.1L616.3,307.0Z" fill="#c8debc" stroke="#c8debc" stroke-width="0.6"/><path d="M616.3,307.0L619.6,313.1L617.1,314.6L614.1,308.4Z" fill="#c8debc" stroke="#c8debc" stroke-width="0.6"/><path d="M614.1,308.4L617.1,314.6L614.6,316.0L611.8,309.9Z" fill="#c8debc" stroke="#c8debc" stroke-width="0.6"/><path d="M611.8,309.9L614.6,316.0L612.1,317.5L609.6,311.4Z" fill="#c8debc" stroke="#c8debc" stroke-width="0.6"/><path d="M609.6,311.4L612.1,317.5L609.6,318.9L607.3,312.8Z" fill="#c8debc" stroke="#c8debc" stroke-width="0.6"/><path d="M607.3,312.8L609.6,318.9L607.0,320.4L605.1,314.3Z" fill="#c8debc" stroke="#c8debc" stroke-width="0.6"/><path d="M605.1,314.3L607.0,320.4L604.5,321.8L602.8,315.8Z" fill="#c8debc" stroke="#c8debc" stroke-width="0.6"/><path d="M344.4,379.4L376.8,379.4M345.6,368.3L377.1,370.5M347.5,357.3L377.9,361.6M350.0,346.5L379.3,352.7M353.3,336.0L381.3,344.0M357.3,325.7L384.0,335.5M361.9,315.8L387.5,327.2M367.2,306.3L391.5,319.2M373.1,297.1L396.2,311.5M379.6,288.5L401.4,304.3M386.7,280.3L407.2,297.5M394.3,272.7L413.4,291.1M402.5,265.7L420.0,285.3M411.0,259.4L427.2,280.1M420.0,253.7L434.7,275.5M429.4,248.8L442.5,271.5M439.0,244.5L450.5,268.1M448.9,241.1L458.6,265.1M459.0,238.4L466.9,262.6M469.2,236.5L475.2,260.7M479.4,235.3L483.6,259.3M489.6,234.8L492.1,258.4M499.8,235.0L500.6,258.0M509.8,235.8L509.0,257.9M519.8,237.1L517.5,258.3M529.6,239.0L526.0,259.2M539.2,241.4L534.4,260.6M548.7,244.3L542.8,262.6M558.1,247.6L550.9,265.2M567.3,251.3L558.9,268.4M347.7,379.4L348.1,373.8L348.8,368.3L349.6,362.8L350.6,357.4L351.7,351.9L353.1,346.6L354.7,341.3L356.4,336.1L358.3,330.9L360.3,325.9L362.6,320.9L365.0,316.0L367.6,311.2L370.3,306.5L373.2,301.9L376.3,297.4L379.5,293.0L382.8,288.8L386.4,284.7L390.0,280.7L393.8,276.9L397.7,273.2L401.7,269.7L405.9,266.4L410.2,263.2L414.6,260.2L419.1,257.3L423.6,254.7L428.3,252.2L433.1,249.9L437.9,247.8L442.8,245.9L447.7,244.2L452.7,242.7L457.8,241.3L462.8,240.2L467.9,239.2L473.0,238.5L478.1,237.9L483.2,237.5L488.3,237.2L493.4,237.1L498.5,237.2L503.5,237.5L508.6,237.9L513.6,238.4L518.5,239.1L523.5,239.9L528.4,240.9L533.3,241.9L538.1,243.2L542.9,244.5L547.6,246.0L552.4,247.5L557.0,249.2L561.7,251.0L566.3,253.0L570.9,255.0L574.8,258.2M350.9,379.4L351.3,373.9L351.9,368.5L352.7,363.1L353.6,357.8L354.7,352.5L356.0,347.2L357.5,342.0L359.2,336.9L361.0,331.8L363.0,326.8L365.2,321.9L367.5,317.1L370.1,312.4L372.7,307.8L375.6,303.3L378.6,298.8L381.7,294.6L385.0,290.4L388.4,286.4L392.0,282.5L395.7,278.7L399.6,275.1L403.5,271.6L407.6,268.3L411.8,265.2L416.1,262.3L420.6,259.5L425.1,256.9L429.7,254.5L434.3,252.2L439.1,250.2L443.9,248.3L448.8,246.6L453.7,245.1L458.6,243.8L463.6,242.6L468.5,241.7L473.6,240.9L478.6,240.3L483.6,239.8L488.6,239.6L493.6,239.5L498.6,239.5L503.6,239.7L508.5,240.1L513.4,240.6L518.3,241.2L523.2,242.0L528.0,242.9L532.8,243.9L537.6,245.1L542.4,246.4L547.0,247.8L551.7,249.3L556.3,251.0L560.9,252.8L565.5,254.7L570.0,256.7L573.9,259.8M354.2,379.4L354.5,374.1L355.0,368.8L355.8,363.5L356.6,358.2L357.7,353.0L358.9,347.9L360.4,342.8L362.0,337.7L363.7,332.7L365.7,327.8L367.8,323.0L370.1,318.3L372.5,313.6L375.1,309.1L377.9,304.6L380.9,300.3L383.9,296.1L387.2,292.0L390.5,288.0L394.0,284.2L397.7,280.5L401.4,277.0L405.3,273.6L409.4,270.3L413.5,267.3L417.7,264.4L422.1,261.6L426.5,259.1L431.0,256.7L435.6,254.5L440.3,252.5L445.0,250.7L449.8,249.0L454.6,247.5L459.4,246.2L464.3,245.0L469.2,244.1L474.1,243.3L479.0,242.7L483.9,242.2L488.9,241.9L493.8,241.8L498.7,241.8L503.6,242.0L508.5,242.3L513.3,242.8L518.1,243.3L522.9,244.1L527.7,244.9L532.4,245.9L537.1,247.0L541.8,248.2L546.5,249.6L551.1,251.1L555.6,252.8L560.1,254.5L564.6,256.4L569.1,258.4L573.0,261.3M357.4,379.4L357.7,374.2L358.2,369.0L358.9,363.8L359.7,358.7L360.7,353.5L361.9,348.5L363.2,343.5L364.7,338.5L366.5,333.6L368.3,328.8L370.4,324.1L372.6,319.4L375.0,314.9L377.6,310.4L380.3,306.0L383.1,301.8L386.2,297.6L389.3,293.6L392.6,289.7L396.1,285.9L399.6,282.3L403.3,278.8L407.1,275.5L411.1,272.3L415.1,269.3L419.3,266.4L423.6,263.8L427.9,261.3L432.4,259.0L436.9,256.8L441.5,254.8L446.1,253.0L450.8,251.4L455.5,249.9L460.2,248.6L465.0,247.5L469.8,246.5L474.6,245.7L479.5,245.1L484.3,244.6L489.1,244.3L494.0,244.2L498.8,244.1L503.6,244.3L508.4,244.6L513.2,244.9L517.9,245.5L522.6,246.1L527.4,246.9L532.0,247.9L536.7,248.9L541.3,250.1L545.9,251.5L550.4,252.9L554.9,254.5L559.4,256.2L563.8,258.1L568.2,260.1L572.1,262.9M360.6,379.4L360.9,374.3L361.3,369.2L361.9,364.1L362.7,359.1L363.7,354.1L364.8,349.1L366.1,344.2L367.5,339.3L369.2,334.5L371.0,329.8L373.0,325.1L375.2,320.6L377.5,316.1L380.0,311.7L382.6,307.4L385.4,303.2L388.4,299.2L391.5,295.2L394.7,291.4L398.1,287.7L401.6,284.1L405.2,280.7L408.9,277.4L412.8,274.3L416.8,271.3L420.9,268.5L425.1,265.9L429.4,263.5L433.7,261.2L438.2,259.1L442.7,257.2L447.2,255.4L451.8,253.8L456.4,252.3L461.1,251.0L465.7,249.9L470.5,248.9L475.2,248.1L479.9,247.5L484.7,247.0L489.4,246.7L494.2,246.5L498.9,246.5L503.6,246.6L508.3,246.8L513.0,247.1L517.7,247.6L522.4,248.2L527.0,249.0L531.6,249.8L536.2,250.8L540.8,252.0L545.3,253.3L549.8,254.7L554.2,256.3L558.6,258.0L563.0,259.8L567.3,261.7L571.2,264.4M363.9,379.4L364.1,374.4L364.5,369.4L365.0,364.5L365.8,359.5L366.6,354.6L367.7,349.7L368.9,344.9L370.3,340.2L371.9,335.4L373.7,330.8L375.6,326.2L377.7,321.7L380.0,317.3L382.4,313.0L385.0,308.8L387.7,304.7L390.6,300.7L393.6,296.8L396.8,293.1L400.1,289.4L403.5,285.9L407.1,282.5L410.7,279.3L414.5,276.2L418.5,273.4L422.5,270.6L426.6,268.1L430.8,265.7L435.1,263.5L439.4,261.4L443.8,259.5L448.3,257.8L452.8,256.2L457.3,254.7L461.9,253.4L466.5,252.3L471.1,251.3L475.7,250.5L480.4,249.9L485.0,249.4L489.7,249.0L494.3,248.8L499.0,248.8L503.6,248.8L508.3,249.0L512.9,249.3L517.5,249.7L522.1,250.3L526.7,251.0L531.2,251.8L535.7,252.8L540.2,253.9L544.7,255.1L549.1,256.5L553.5,258.1L557.8,259.7L562.1,261.5L566.4,263.4L570.3,266.0M367.1,379.4L367.3,374.5L367.6,369.6L368.1,364.8L368.8,360.0L369.6,355.2L370.6,350.4L371.8,345.6L373.1,341.0L374.6,336.3L376.3,331.8L378.2,327.3L380.2,322.9L382.4,318.5L384.8,314.3L387.3,310.2L390.0,306.2L392.8,302.2L395.8,298.4L398.9,294.7L402.1,291.2L405.5,287.7L409.0,284.4L412.5,281.2L416.3,278.2L420.1,275.4L424.1,272.7L428.1,270.2L432.2,267.9L436.4,265.7L440.7,263.7L445.0,261.8L449.4,260.1L453.8,258.6L458.2,257.1L462.7,255.8L467.2,254.7L471.7,253.7L476.3,252.9L480.8,252.3L485.4,251.8L490.0,251.4L494.5,251.2L499.1,251.1L503.7,251.1L508.2,251.2L512.8,251.5L517.3,251.9L521.8,252.4L526.3,253.0L530.8,253.8L535.3,254.7L539.7,255.7L544.1,257.0L548.5,258.3L552.8,259.8L557.1,261.5L561.3,263.2L565.5,265.1L569.4,267.5M370.3,379.4L370.5,374.6L370.8,369.9L371.2,365.1L371.8,360.4L372.6,355.7L373.5,351.0L374.6,346.4L375.9,341.8L377.4,337.2L379.0,332.8L380.8,328.4L382.8,324.0L384.9,319.8L387.2,315.6L389.7,311.6L392.3,307.6L395.1,303.8L398.0,300.0L401.0,296.4L404.2,292.9L407.4,289.5L410.8,286.3L414.3,283.1L418.0,280.2L421.8,277.4L425.7,274.8L429.6,272.4L433.7,270.1L437.8,268.0L442.0,266.0L446.2,264.2L450.5,262.5L454.8,261.0L459.2,259.5L463.5,258.3L467.9,257.1L472.4,256.1L476.8,255.3L481.3,254.7L485.8,254.1L490.2,253.8L494.7,253.5L499.2,253.4L503.7,253.4L508.2,253.5L512.6,253.7L517.1,254.0L521.5,254.5L526.0,255.0L530.4,255.8L534.8,256.6L539.2,257.6L543.5,258.8L547.8,260.1L552.1,261.6L556.3,263.2L560.5,264.9L564.6,266.8L568.5,269.1M373.6,379.4L373.7,374.7L373.9,370.1L374.3,365.5L374.9,360.8L375.6,356.2L376.5,351.6L377.5,347.1L378.7,342.6L380.1,338.1L381.6,333.7L383.4,329.4L385.3,325.2L387.4,321.0L389.6,316.9L392.0,313.0L394.6,309.1L397.3,305.3L400.1,301.6L403.1,298.1L406.2,294.6L409.4,291.3L412.7,288.1L416.2,285.1L419.7,282.2L423.4,279.5L427.2,276.9L431.1,274.5L435.1,272.3L439.2,270.2L443.3,268.3L447.4,266.5L451.6,264.9L455.8,263.4L460.1,262.0L464.3,260.7L468.7,259.5L473.0,258.6L477.4,257.7L481.7,257.1L486.1,256.5L490.5,256.1L494.9,255.8L499.3,255.7L503.7,255.6L508.1,255.7L512.5,255.9L516.9,256.1L521.3,256.5L525.6,257.1L530.0,257.7L534.3,258.5L538.6,259.5L542.9,260.6L547.2,261.9L551.4,263.4L555.5,264.9L559.6,266.6L563.7,268.5L567.6,270.6" fill="none" stroke="#7cbf70" stroke-opacity="0.22" stroke-width="0.6"/><defs><radialGradient id="ydome" cx="0.5" cy="0.5" r="0.5"><stop offset="0" stop-color="#f6f8d6" stop-opacity="0.95"/><stop offset="0.5" stop-color="#e8efb8" stop-opacity="0.7"/><stop offset="1" stop-color="#dfe9a8" stop-opacity="0"/></radialGradient><radialGradient id="ybase" cx="0.5" cy="0.47" r="0.5"><stop offset="0" stop-color="#b9c98c"/><stop offset="0.6" stop-color="#aec482"/><stop offset="1" stop-color="#9dba78"/></radialGradient><radialGradient id="ydark" cx="0.5" cy="0.5" r="0.5"><stop offset="0" stop-color="#6f9a5c" stop-opacity="0.45"/><stop offset="1" stop-color="#6f9a5c" stop-opacity="0"/></radialGradient><clipPath id="yclip"><circle cx="505.0" cy="386.0" r="127.5"/></clipPath></defs><circle cx="505.0" cy="386.0" r="127.5" fill="url(#ybase)"/><g clip-path="url(#yclip)"><ellipse cx="445" cy="430" rx="80" ry="90" fill="url(#ydark)"/><ellipse cx="470" cy="330" rx="55" ry="45" fill="url(#ydark)" opacity="0.6"/></g><path d="M491.0,386.0a14.0,14.0 0 1,0 28.0,0a14.0,14.0 0 1,0 -28.0,0M486.0,386.0a19.0,19.0 0 1,0 38.0,0a19.0,19.0 0 1,0 -38.0,0M481.0,386.0a24.0,24.0 0 1,0 48.0,0a24.0,24.0 0 1,0 -48.0,0M476.0,386.0a29.0,29.0 0 1,0 58.0,0a29.0,29.0 0 1,0 -58.0,0M471.0,386.0a34.0,34.0 0 1,0 68.0,0a34.0,34.0 0 1,0 -68.0,0M466.0,386.0a39.0,39.0 0 1,0 78.0,0a39.0,39.0 0 1,0 -78.0,0M461.0,386.0a44.0,44.0 0 1,0 88.0,0a44.0,44.0 0 1,0 -88.0,0M456.0,386.0a49.0,49.0 0 1,0 98.0,0a49.0,49.0 0 1,0 -98.0,0M451.0,386.0a54.0,54.0 0 1,0 108.0,0a54.0,54.0 0 1,0 -108.0,0M446.0,386.0a59.0,59.0 0 1,0 118.0,0a59.0,59.0 0 1,0 -118.0,0M441.0,386.0a64.0,64.0 0 1,0 128.0,0a64.0,64.0 0 1,0 -128.0,0M436.0,386.0a69.0,69.0 0 1,0 138.0,0a69.0,69.0 0 1,0 -138.0,0M431.0,386.0a74.0,74.0 0 1,0 148.0,0a74.0,74.0 0 1,0 -148.0,0M426.0,386.0a79.0,79.0 0 1,0 158.0,0a79.0,79.0 0 1,0 -158.0,0M421.0,386.0a84.0,84.0 0 1,0 168.0,0a84.0,84.0 0 1,0 -168.0,0M416.0,386.0a89.0,89.0 0 1,0 178.0,0a89.0,89.0 0 1,0 -178.0,0M411.0,386.0a94.0,94.0 0 1,0 188.0,0a94.0,94.0 0 1,0 -188.0,0M406.0,386.0a99.0,99.0 0 1,0 198.0,0a99.0,99.0 0 1,0 -198.0,0M401.0,386.0a104.0,104.0 0 1,0 208.0,0a104.0,104.0 0 1,0 -208.0,0M396.0,386.0a109.0,109.0 0 1,0 218.0,0a109.0,109.0 0 1,0 -218.0,0M391.0,386.0a114.0,114.0 0 1,0 228.0,0a114.0,114.0 0 1,0 -228.0,0M386.0,386.0a119.0,119.0 0 1,0 238.0,0a119.0,119.0 0 1,0 -238.0,0M381.0,386.0a124.0,124.0 0 1,0 248.0,0a124.0,124.0 0 1,0 -248.0,0M521.0,386.0L632.5,386.0M521.0,387.0L632.2,394.0M520.9,388.0L631.5,402.0M520.7,389.0L630.2,409.9M520.5,390.0L628.5,417.7M520.2,390.9L626.3,425.4M519.9,391.9L623.5,432.9M519.5,392.8L620.4,440.3M519.0,393.7L616.7,447.4M518.5,394.6L612.7,454.3M517.9,395.4L608.1,460.9M517.3,396.2L603.2,467.3M516.7,397.0L597.9,473.3M516.0,397.7L592.3,478.9M515.2,398.3L586.3,484.2M514.4,398.9L579.9,489.1M513.6,399.5L573.3,493.7M512.7,400.0L566.4,497.7M511.8,400.5L559.3,501.4M510.9,400.9L551.9,504.5M509.9,401.2L544.4,507.3M509.0,401.5L536.7,509.5M508.0,401.7L528.9,511.2M507.0,401.9L521.0,512.5M506.0,402.0L513.0,513.2M505.0,402.0L505.0,513.5M504.0,402.0L497.0,513.2M503.0,401.9L489.0,512.5M502.0,401.7L481.1,511.2M501.0,401.5L473.3,509.5M500.1,401.2L465.6,507.3M499.1,400.9L458.1,504.5M498.2,400.5L450.7,501.4M497.3,400.0L443.6,497.7M496.4,399.5L436.7,493.7M495.6,398.9L430.1,489.1M494.8,398.3L423.7,484.2M494.0,397.7L417.7,478.9M493.3,397.0L412.1,473.3M492.7,396.2L406.8,467.3M492.1,395.4L401.9,460.9M491.5,394.6L397.3,454.3M491.0,393.7L393.3,447.4M490.5,392.8L389.6,440.3M490.1,391.9L386.5,432.9M489.8,390.9L383.7,425.4M489.5,390.0L381.5,417.7M489.3,389.0L379.8,409.9M489.1,388.0L378.5,402.0M489.0,387.0L377.8,394.0M489.0,386.0L377.5,386.0M489.0,385.0L377.8,378.0M489.1,384.0L378.5,370.0M489.3,383.0L379.8,362.1M489.5,382.0L381.5,354.3M489.8,381.1L383.7,346.6M490.1,380.1L386.5,339.1M490.5,379.2L389.6,331.7M491.0,378.3L393.3,324.6M491.5,377.4L397.3,317.7M492.1,376.6L401.9,311.1M492.7,375.8L406.8,304.7M493.3,375.0L412.1,298.7M494.0,374.3L417.7,293.1M494.8,373.7L423.7,287.8M495.6,373.1L430.1,282.9M496.4,372.5L436.7,278.3M497.3,372.0L443.6,274.3M498.2,371.5L450.7,270.6M499.1,371.1L458.1,267.5M500.1,370.8L465.6,264.7M501.0,370.5L473.3,262.5M502.0,370.3L481.1,260.8M503.0,370.1L489.0,259.5M504.0,370.0L497.0,258.8M505.0,370.0L505.0,258.5M506.0,370.0L513.0,258.8M507.0,370.1L521.0,259.5M508.0,370.3L528.9,260.8M509.0,370.5L536.7,262.5M509.9,370.8L544.4,264.7M510.9,371.1L551.9,267.5M511.8,371.5L559.3,270.6M512.7,372.0L566.4,274.3M513.6,372.5L573.3,278.3M514.4,373.1L579.9,282.9M515.2,373.7L586.3,287.8M516.0,374.3L592.3,293.1M516.7,375.0L597.9,298.7M517.3,375.8L603.2,304.7M517.9,376.6L608.1,311.1M518.5,377.4L612.7,317.7M519.0,378.3L616.7,324.6M519.5,379.2L620.4,331.7M519.9,380.1L623.5,339.1M520.2,381.1L626.3,346.6M520.5,382.0L628.5,354.3M520.7,383.0L630.2,362.1M520.9,384.0L631.5,370.0M521.0,385.0L632.2,378.0" fill="none" stroke="#d8ec64" stroke-opacity="0.85" stroke-width="1.0"/><g clip-path="url(#yclip)"><ellipse cx="558" cy="330" rx="80" ry="74" fill="url(#ydome)"/><path d="M505,378 L590,455 L548,505 L500,420Z" fill="#d4dec4" fill-opacity="0.35"/></g><circle cx="505.0" cy="386.0" r="127.5" fill="none" stroke="#d8ea70" stroke-width="1.4" stroke-opacity="0.9"/><path d="M559.4,244.3L565.4,249.5L565.1,250.3L559.0,245.4Z" fill="#719e62" stroke="#719e62" stroke-width="0.6"/><path d="M559.0,245.4L565.1,250.3L564.7,251.1L558.5,246.4Z" fill="#78a464" stroke="#78a464" stroke-width="0.6"/><path d="M558.5,246.4L564.7,251.1L564.4,251.8L558.1,247.4Z" fill="#7ea868" stroke="#7ea868" stroke-width="0.6"/><path d="M558.1,247.4L564.4,251.8L564.0,252.6L557.7,248.4Z" fill="#85ae6a" stroke="#85ae6a" stroke-width="0.6"/><path d="M565.4,249.5L571.3,254.7L570.9,255.3L565.1,250.3Z" fill="#719e62" stroke="#719e62" stroke-width="0.6"/><path d="M565.1,250.3L570.9,255.3L570.6,255.9L564.7,251.1Z" fill="#78a464" stroke="#78a464" stroke-width="0.6"/><path d="M564.7,251.1L570.6,255.9L570.3,256.5L564.4,251.8Z" fill="#7ea868" stroke="#7ea868" stroke-width="0.6"/><path d="M564.4,251.8L570.3,256.5L570.0,257.1L564.0,252.6Z" fill="#85ae6a" stroke="#85ae6a" stroke-width="0.6"/><path d="M571.3,254.7L576.9,259.8L576.6,260.4L570.9,255.3Z" fill="#719e62" stroke="#719e62" stroke-width="0.6"/><path d="M570.9,255.3L576.6,260.4L576.2,261.0L570.6,255.9Z" fill="#78a464" stroke="#78a464" stroke-width="0.6"/><path d="M570.6,255.9L576.2,261.0L575.8,261.6L570.3,256.5Z" fill="#7ea868" stroke="#7ea868" stroke-width="0.6"/><path d="M570.3,256.5L575.8,261.6L575.5,262.2L570.0,257.1Z" fill="#85ae6a" stroke="#85ae6a" stroke-width="0.6"/><path d="M576.9,259.8L582.5,264.7L582.0,265.4L576.6,260.4Z" fill="#719e62" stroke="#719e62" stroke-width="0.6"/><path d="M576.6,260.4L582.0,265.4L581.5,266.2L576.2,261.0Z" fill="#78a464" stroke="#78a464" stroke-width="0.6"/><path d="M576.2,261.0L581.5,266.2L581.0,266.9L575.8,261.6Z" fill="#7ea868" stroke="#7ea868" stroke-width="0.6"/><path d="M575.8,261.6L581.0,266.9L580.6,267.6L575.5,262.2Z" fill="#85ae6a" stroke="#85ae6a" stroke-width="0.6"/><path d="M582.5,264.7L588.0,269.6L587.3,270.6L582.0,265.4Z" fill="#719e62" stroke="#719e62" stroke-width="0.6"/><path d="M582.0,265.4L587.3,270.6L586.6,271.5L581.5,266.2Z" fill="#78a464" stroke="#78a464" stroke-width="0.6"/><path d="M581.5,266.2L586.6,271.5L585.9,272.4L581.0,266.9Z" fill="#7ea868" stroke="#7ea868" stroke-width="0.6"/><path d="M581.0,266.9L585.9,272.4L585.2,273.4L580.6,267.6Z" fill="#85ae6a" stroke="#85ae6a" stroke-width="0.6"/><path d="M588.0,269.6L593.3,274.6L592.3,275.8L587.3,270.6Z" fill="#719e62" stroke="#719e62" stroke-width="0.6"/><path d="M587.3,270.6L592.3,275.8L591.3,277.0L586.6,271.5Z" fill="#78a464" stroke="#78a464" stroke-width="0.6"/><path d="M586.6,271.5L591.3,277.0L590.3,278.2L585.9,272.4Z" fill="#7ea868" stroke="#7ea868" stroke-width="0.6"/><path d="M585.9,272.4L590.3,278.2L589.3,279.4L585.2,273.4Z" fill="#85ae6a" stroke="#85ae6a" stroke-width="0.6"/><path d="M593.3,274.6L598.6,279.6L597.2,281.1L592.3,275.8Z" fill="#719e62" stroke="#719e62" stroke-width="0.6"/><path d="M592.3,275.8L597.2,281.1L595.7,282.6L591.3,277.0Z" fill="#78a464" stroke="#78a464" stroke-width="0.6"/><path d="M591.3,277.0L595.7,282.6L594.3,284.1L590.3,278.2Z" fill="#7ea868" stroke="#7ea868" stroke-width="0.6"/><path d="M590.3,278.2L594.3,284.1L592.9,285.6L589.3,279.4Z" fill="#85ae6a" stroke="#85ae6a" stroke-width="0.6"/><path d="M598.6,279.6L603.7,284.7L601.7,286.6L597.2,281.1Z" fill="#719e62" stroke="#719e62" stroke-width="0.6"/><path d="M597.2,281.1L601.7,286.6L599.8,288.5L595.7,282.6Z" fill="#78a464" stroke="#78a464" stroke-width="0.6"/><path d="M595.7,282.6L599.8,288.5L597.8,290.3L594.3,284.1Z" fill="#7ea868" stroke="#7ea868" stroke-width="0.6"/><path d="M594.3,284.1L597.8,290.3L595.9,292.2L592.9,285.6Z" fill="#85ae6a" stroke="#85ae6a" stroke-width="0.6"/><path d="M603.7,284.7L608.5,290.1L606.0,292.3L601.7,286.6Z" fill="#719e62" stroke="#719e62" stroke-width="0.6"/><path d="M601.7,286.6L606.0,292.3L603.4,294.5L599.8,288.5Z" fill="#78a464" stroke="#78a464" stroke-width="0.6"/><path d="M599.8,288.5L603.4,294.5L600.9,296.7L597.8,290.3Z" fill="#7ea868" stroke="#7ea868" stroke-width="0.6"/><path d="M597.8,290.3L600.9,296.7L598.3,298.9L595.9,292.2Z" fill="#85ae6a" stroke="#85ae6a" stroke-width="0.6"/><path d="M608.5,290.1L613.1,295.7L609.9,298.2L606.0,292.3Z" fill="#719e62" stroke="#719e62" stroke-width="0.6"/><path d="M606.0,292.3L609.9,298.2L606.7,300.7L603.4,294.5Z" fill="#78a464" stroke="#78a464" stroke-width="0.6"/><path d="M603.4,294.5L606.7,300.7L603.4,303.2L600.9,296.7Z" fill="#7ea868" stroke="#7ea868" stroke-width="0.6"/><path d="M600.9,296.7L603.4,303.2L600.2,305.7L598.3,298.9Z" fill="#85ae6a" stroke="#85ae6a" stroke-width="0.6"/><path d="M613.1,295.7L617.4,301.6L613.5,304.3L609.9,298.2Z" fill="#719e62" stroke="#719e62" stroke-width="0.6"/><path d="M609.9,298.2L613.5,304.3L609.6,307.0L606.7,300.7Z" fill="#78a464" stroke="#78a464" stroke-width="0.6"/><path d="M606.7,300.7L609.6,307.0L605.7,309.7L603.4,303.2Z" fill="#7ea868" stroke="#7ea868" stroke-width="0.6"/><path d="M603.4,303.2L605.7,309.7L601.8,312.4L600.2,305.7Z" fill="#85ae6a" stroke="#85ae6a" stroke-width="0.6"/><path d="M617.4,301.6L621.3,307.6L616.7,310.4L613.5,304.3Z" fill="#719e62" stroke="#719e62" stroke-width="0.6"/><path d="M613.5,304.3L616.7,310.4L612.1,313.3L609.6,307.0Z" fill="#78a464" stroke="#78a464" stroke-width="0.6"/><path d="M609.6,307.0L612.1,313.3L607.6,316.1L605.7,309.7Z" fill="#7ea868" stroke="#7ea868" stroke-width="0.6"/><path d="M605.7,309.7L607.6,316.1L603.0,318.9L601.8,312.4Z" fill="#85ae6a" stroke="#85ae6a" stroke-width="0.6"/><path d="M621.3,307.6L624.9,313.9L619.6,316.8L616.7,310.4Z" fill="#719e62" stroke="#719e62" stroke-width="0.6"/><path d="M616.7,310.4L619.6,316.8L614.3,319.7L612.1,313.3Z" fill="#78a464" stroke="#78a464" stroke-width="0.6"/><path d="M612.1,313.3L614.3,319.7L609.0,322.6L607.6,316.1Z" fill="#7ea868" stroke="#7ea868" stroke-width="0.6"/><path d="M607.6,316.1L609.0,322.6L603.7,325.5L603.0,318.9Z" fill="#85ae6a" stroke="#85ae6a" stroke-width="0.6"/><path d="M624.9,313.9L628.2,320.3L622.2,323.2L619.6,316.8Z" fill="#719e62" stroke="#719e62" stroke-width="0.6"/><path d="M619.6,316.8L622.2,323.2L616.2,326.1L614.3,319.7Z" fill="#78a464" stroke="#78a464" stroke-width="0.6"/><path d="M614.3,319.7L616.2,326.1L610.1,329.0L609.0,322.6Z" fill="#7ea868" stroke="#7ea868" stroke-width="0.6"/><path d="M609.0,322.6L610.1,329.0L604.1,331.9L603.7,325.5Z" fill="#85ae6a" stroke="#85ae6a" stroke-width="0.6"/><path d="M628.2,320.3L631.1,327.0L624.4,329.7L622.2,323.2Z" fill="#719e62" stroke="#719e62" stroke-width="0.6"/><path d="M622.2,323.2L624.4,329.7L617.7,332.5L616.2,326.1Z" fill="#78a464" stroke="#78a464" stroke-width="0.6"/><path d="M616.2,326.1L617.7,332.5L611.0,335.3L610.1,329.0Z" fill="#7ea868" stroke="#7ea868" stroke-width="0.6"/><path d="M610.1,329.0L611.0,335.3L604.3,338.1L604.1,331.9Z" fill="#85ae6a" stroke="#85ae6a" stroke-width="0.6"/><path d="M631.1,327.0L633.7,333.7L626.4,336.3L624.4,329.7Z" fill="#719e62" stroke="#719e62" stroke-width="0.6"/><path d="M624.4,329.7L626.4,336.3L619.1,338.9L617.7,332.5Z" fill="#78a464" stroke="#78a464" stroke-width="0.6"/><path d="M617.7,332.5L619.1,338.9L611.8,341.5L611.0,335.3Z" fill="#7ea868" stroke="#7ea868" stroke-width="0.6"/><path d="M611.0,335.3L611.8,341.5L604.5,344.1L604.3,338.1Z" fill="#85ae6a" stroke="#85ae6a" stroke-width="0.6"/><path d="M633.7,333.7L635.9,340.6L628.0,342.9L626.4,336.3Z" fill="#719e62" stroke="#719e62" stroke-width="0.6"/><path d="M626.4,336.3L628.0,342.9L620.2,345.2L619.1,338.9Z" fill="#78a464" stroke="#78a464" stroke-width="0.6"/><path d="M619.1,338.9L620.2,345.2L612.4,347.5L611.8,341.5Z" fill="#7ea868" stroke="#7ea868" stroke-width="0.6"/><path d="M611.8,341.5L612.4,347.5L604.6,349.9L604.5,344.1Z" fill="#85ae6a" stroke="#85ae6a" stroke-width="0.6"/><path d="M635.9,340.6L637.7,347.6L629.4,349.6L628.0,342.9Z" fill="#719e62" stroke="#719e62" stroke-width="0.6"/><path d="M628.0,342.9L629.4,349.6L621.1,351.6L620.2,345.2Z" fill="#78a464" stroke="#78a464" stroke-width="0.6"/><path d="M620.2,345.2L621.1,351.6L612.8,353.6L612.4,347.5Z" fill="#7ea868" stroke="#7ea868" stroke-width="0.6"/><path d="M612.4,347.5L612.8,353.6L604.5,355.5L604.6,349.9Z" fill="#85ae6a" stroke="#85ae6a" stroke-width="0.6"/><path d="M637.7,347.6L639.1,354.7L630.4,356.3L629.4,349.6Z" fill="#719e62" stroke="#719e62" stroke-width="0.6"/><path d="M629.4,349.6L630.4,356.3L621.7,357.9L621.1,351.6Z" fill="#78a464" stroke="#78a464" stroke-width="0.6"/><path d="M621.1,351.6L621.7,357.9L613.0,359.5L612.8,353.6Z" fill="#7ea868" stroke="#7ea868" stroke-width="0.6"/><path d="M612.8,353.6L613.0,359.5L604.3,361.1L604.5,355.5Z" fill="#85ae6a" stroke="#85ae6a" stroke-width="0.6"/><path d="M639.1,354.7L640.1,361.8L631.1,363.0L630.4,356.3Z" fill="#719e62" stroke="#719e62" stroke-width="0.6"/><path d="M630.4,356.3L631.1,363.0L622.0,364.2L621.7,357.9Z" fill="#78a464" stroke="#78a464" stroke-width="0.6"/><path d="M621.7,357.9L622.0,364.2L613.0,365.4L613.0,359.5Z" fill="#7ea868" stroke="#7ea868" stroke-width="0.6"/><path d="M613.0,359.5L613.0,365.4L603.9,366.5L604.3,361.1Z" fill="#85ae6a" stroke="#85ae6a" stroke-width="0.6"/><path d="M640.1,361.8L640.8,369.0L631.4,369.7L631.1,363.0Z" fill="#719e62" stroke="#719e62" stroke-width="0.6"/><path d="M631.1,363.0L631.4,369.7L622.1,370.4L622.0,364.2Z" fill="#78a464" stroke="#78a464" stroke-width="0.6"/><path d="M622.0,364.2L622.1,370.4L612.8,371.2L613.0,365.4Z" fill="#7ea868" stroke="#7ea868" stroke-width="0.6"/><path d="M613.0,365.4L612.8,371.2L603.5,371.9L603.9,366.5Z" fill="#85ae6a" stroke="#85ae6a" stroke-width="0.6"/><path d="M640.8,369.0L641.0,376.2L631.5,376.5L631.4,369.7Z" fill="#719e62" stroke="#719e62" stroke-width="0.6"/><path d="M631.4,369.7L631.5,376.5L622.0,376.7L622.1,370.4Z" fill="#78a464" stroke="#78a464" stroke-width="0.6"/><path d="M622.1,370.4L622.0,376.7L612.4,376.9L612.8,371.2Z" fill="#7ea868" stroke="#7ea868" stroke-width="0.6"/><path d="M612.8,371.2L612.4,376.9L602.9,377.1L603.5,371.9Z" fill="#85ae6a" stroke="#85ae6a" stroke-width="0.6"/><path d="M641.0,376.2L640.9,383.4L631.2,383.1L631.5,376.5Z" fill="#719e62" stroke="#719e62" stroke-width="0.6"/><path d="M631.5,376.5L631.2,383.1L621.5,382.9L622.0,376.7Z" fill="#78a464" stroke="#78a464" stroke-width="0.6"/><path d="M622.0,376.7L621.5,382.9L611.8,382.6L612.4,376.9Z" fill="#7ea868" stroke="#7ea868" stroke-width="0.6"/><path d="M612.4,376.9L611.8,382.6L602.1,382.3L602.9,377.1Z" fill="#85ae6a" stroke="#85ae6a" stroke-width="0.6"/><path d="M640.9,383.4L640.4,390.6L630.7,389.8L631.2,383.1Z" fill="#719e62" stroke="#719e62" stroke-width="0.6"/><path d="M631.2,383.1L630.7,389.8L620.9,389.0L621.5,382.9Z" fill="#78a464" stroke="#78a464" stroke-width="0.6"/><path d="M621.5,382.9L620.9,389.0L611.2,388.2L611.8,382.6Z" fill="#7ea868" stroke="#7ea868" stroke-width="0.6"/><path d="M611.8,382.6L611.2,388.2L601.5,387.4L602.1,382.3Z" fill="#85ae6a" stroke="#85ae6a" stroke-width="0.6"/><path d="M640.4,390.6L639.5,397.8L629.9,396.4L630.7,389.8Z" fill="#719e62" stroke="#719e62" stroke-width="0.6"/><path d="M630.7,389.8L629.9,396.4L620.4,395.1L620.9,389.0Z" fill="#78a464" stroke="#78a464" stroke-width="0.6"/><path d="M620.9,389.0L620.4,395.1L610.8,393.8L611.2,388.2Z" fill="#7ea868" stroke="#7ea868" stroke-width="0.6"/><path d="M611.2,388.2L610.8,393.8L601.2,392.5L601.5,387.4Z" fill="#85ae6a" stroke="#85ae6a" stroke-width="0.6"/><path d="M639.5,397.8L638.2,404.8L629.0,403.1L629.9,396.4Z" fill="#719e62" stroke="#719e62" stroke-width="0.6"/><path d="M629.9,396.4L629.0,403.1L619.8,401.3L620.4,395.1Z" fill="#78a464" stroke="#78a464" stroke-width="0.6"/><path d="M620.4,395.1L619.8,401.3L610.5,399.5L610.8,393.8Z" fill="#7ea868" stroke="#7ea868" stroke-width="0.6"/><path d="M610.8,393.8L610.5,399.5L601.3,397.8L601.2,392.5Z" fill="#85ae6a" stroke="#85ae6a" stroke-width="0.6"/><path d="M638.2,404.8L636.6,411.8L627.8,409.6L629.0,403.1Z" fill="#719e62" stroke="#719e62" stroke-width="0.6"/><path d="M629.0,403.1L627.8,409.6L619.0,407.5L619.8,401.3Z" fill="#78a464" stroke="#78a464" stroke-width="0.6"/><path d="M619.8,401.3L619.0,407.5L610.2,405.3L610.5,399.5Z" fill="#7ea868" stroke="#7ea868" stroke-width="0.6"/><path d="M610.5,399.5L610.2,405.3L601.4,403.2L601.3,397.8Z" fill="#85ae6a" stroke="#85ae6a" stroke-width="0.6"/><path d="M636.6,411.8L634.5,418.7L626.2,416.2L627.8,409.6Z" fill="#719e62" stroke="#719e62" stroke-width="0.6"/><path d="M627.8,409.6L626.2,416.2L617.9,413.7L619.0,407.5Z" fill="#78a464" stroke="#78a464" stroke-width="0.6"/><path d="M619.0,407.5L617.9,413.7L609.6,411.1L610.2,405.3Z" fill="#7ea868" stroke="#7ea868" stroke-width="0.6"/><path d="M610.2,405.3L609.6,411.1L601.3,408.6L601.4,403.2Z" fill="#85ae6a" stroke="#85ae6a" stroke-width="0.6"/><path d="M634.5,418.7L632.1,425.4L624.4,422.7L626.2,416.2Z" fill="#719e62" stroke="#719e62" stroke-width="0.6"/><path d="M626.2,416.2L624.4,422.7L616.7,419.9L617.9,413.7Z" fill="#78a464" stroke="#78a464" stroke-width="0.6"/><path d="M617.9,413.7L616.7,419.9L609.0,417.1L609.6,411.1Z" fill="#7ea868" stroke="#7ea868" stroke-width="0.6"/><path d="M609.6,411.1L609.0,417.1L601.3,414.3L601.3,408.6Z" fill="#85ae6a" stroke="#85ae6a" stroke-width="0.6"/><path d="M632.1,425.4L629.4,432.1L622.4,429.1L624.4,422.7Z" fill="#719e62" stroke="#719e62" stroke-width="0.6"/><path d="M624.4,422.7L622.4,429.1L615.4,426.1L616.7,419.9Z" fill="#78a464" stroke="#78a464" stroke-width="0.6"/><path d="M616.7,419.9L615.4,426.1L608.4,423.2L609.0,417.1Z" fill="#7ea868" stroke="#7ea868" stroke-width="0.6"/><path d="M609.0,417.1L608.4,423.2L601.4,420.2L601.3,414.3Z" fill="#85ae6a" stroke="#85ae6a" stroke-width="0.6"/><path d="M629.4,432.1L626.3,438.5L620.1,435.5L622.4,429.1Z" fill="#719e62" stroke="#719e62" stroke-width="0.6"/><path d="M622.4,429.1L620.1,435.5L614.0,432.5L615.4,426.1Z" fill="#78a464" stroke="#78a464" stroke-width="0.6"/><path d="M615.4,426.1L614.0,432.5L607.8,429.5L608.4,423.2Z" fill="#7ea868" stroke="#7ea868" stroke-width="0.6"/><path d="M608.4,423.2L607.8,429.5L601.7,426.5L601.4,420.2Z" fill="#85ae6a" stroke="#85ae6a" stroke-width="0.6"/><path d="M626.3,438.5L622.9,444.8L617.7,441.9L620.1,435.5Z" fill="#719e62" stroke="#719e62" stroke-width="0.6"/><path d="M620.1,435.5L617.7,441.9L612.5,439.0L614.0,432.5Z" fill="#78a464" stroke="#78a464" stroke-width="0.6"/><path d="M614.0,432.5L612.5,439.0L607.4,436.2L607.8,429.5Z" fill="#7ea868" stroke="#7ea868" stroke-width="0.6"/><path d="M607.8,429.5L607.4,436.2L602.2,433.3L601.7,426.5Z" fill="#85ae6a" stroke="#85ae6a" stroke-width="0.6"/><path d="M622.9,444.8L619.1,450.8L615.4,448.5L617.7,441.9Z" fill="#719e62" stroke="#719e62" stroke-width="0.6"/><path d="M617.7,441.9L615.4,448.5L611.7,446.2L612.5,439.0Z" fill="#78a464" stroke="#78a464" stroke-width="0.6"/><path d="M612.5,439.0L611.7,446.2L608.0,443.9L607.4,436.2Z" fill="#7ea868" stroke="#7ea868" stroke-width="0.6"/><path d="M607.4,436.2L608.0,443.9L604.4,441.6L602.2,433.3Z" fill="#85ae6a" stroke="#85ae6a" stroke-width="0.6"/><path d="M559.4,244.3L557.7,248.4M565.8,249.8L564.4,252.8M571.9,255.3L570.6,257.7M577.9,260.6L576.4,263.1M583.7,265.8L581.6,268.9M589.5,271.0L586.4,275.0M595.1,276.2L590.5,281.5M600.6,281.6L594.2,288.2M605.9,287.1L597.1,295.2M610.9,292.9L599.3,302.3M615.5,299.0L601.1,309.4M619.8,305.3L602.6,316.4M623.8,311.8L603.5,323.3M627.3,318.6L604.0,330.1M630.5,325.5L604.3,336.8M633.3,332.6L604.5,343.1M635.6,339.9L604.6,349.3M637.6,347.3L604.5,355.3M639.1,354.8L604.3,361.1M640.2,362.3L603.9,366.9M640.8,369.9L603.4,372.5M641.0,377.5L602.8,378.0M640.8,385.1L601.9,383.5M640.2,392.7L601.4,388.9M639.1,400.2L601.2,394.3M637.6,407.6L601.4,399.9M635.7,415.0L601.4,405.6M633.4,422.2L601.3,411.5M630.6,429.2L601.3,417.6M627.5,436.1L601.5,424.1M624.0,442.8L601.9,431.0M620.1,449.3L603.7,439.3M559.2,244.8L563.3,248.2L567.3,251.7L571.2,255.1L575.1,258.5L578.8,261.9L582.5,265.2L586.1,268.6L589.7,272.0L593.2,275.4L596.6,278.9L600.0,282.4L603.2,286.0L606.3,289.7L609.3,293.5L612.1,297.4L614.8,301.4L617.3,305.5L619.7,309.6L621.9,313.9L624.0,318.2L625.9,322.6L627.7,327.0L629.3,331.5L630.8,336.0L632.1,340.5L633.2,345.1L634.2,349.8L635.1,354.4L635.7,359.1L636.2,363.8L636.6,368.5L636.8,373.2L636.8,377.9L636.6,382.6L636.3,387.3L635.9,392.0L635.3,396.6L634.6,401.2L633.8,405.9L632.8,410.4L631.6,415.0L630.3,419.5L628.8,423.9L627.2,428.4L625.5,432.7L623.6,437.0L621.6,441.3L619.6,445.6L617.5,449.8M559.0,245.2L563.2,248.6L567.2,252.0L571.1,255.4L574.9,258.8L578.6,262.2L582.3,265.6L585.9,269.0L589.3,272.4L592.7,275.9L596.0,279.5L599.2,283.1L602.3,286.8L605.2,290.7L608.0,294.6L610.6,298.5L613.1,302.6L615.4,306.7L617.6,310.9L619.6,315.2L621.5,319.5L623.2,323.8L624.8,328.2L626.2,332.7L627.5,337.1L628.7,341.6L629.7,346.1L630.5,350.6L631.2,355.2L631.8,359.7L632.2,364.3L632.4,368.8L632.6,373.4L632.5,377.9L632.3,382.5L632.0,387.0L631.6,391.5L631.1,396.0L630.5,400.5L629.7,405.0L628.8,409.5L627.8,413.9L626.7,418.3L625.4,422.7L624.0,427.1L622.5,431.4L620.9,435.7L619.2,440.0L617.5,444.3L615.8,448.8M558.8,245.7L563.0,249.0L567.0,252.3L571.0,255.6L574.8,259.0L578.5,262.4L582.1,265.9L585.6,269.4L589.0,272.9L592.3,276.5L595.5,280.1L598.5,283.9L601.4,287.7L604.2,291.6L606.7,295.6L609.2,299.6L611.4,303.8L613.6,307.9L615.5,312.2L617.3,316.4L619.0,320.8L620.5,325.1L621.8,329.5L623.1,333.9L624.2,338.2L625.2,342.6L626.1,347.0L626.8,351.5L627.4,355.9L627.8,360.3L628.1,364.7L628.3,369.2L628.4,373.6L628.3,378.0L628.0,382.4L627.7,386.8L627.3,391.1L626.8,395.5L626.3,399.8L625.7,404.2L624.9,408.5L624.0,412.9L623.0,417.2L621.9,421.5L620.7,425.8L619.5,430.1L618.1,434.4L616.7,438.7L615.4,443.1L614.2,447.8M558.6,246.2L562.8,249.3L566.9,252.6L570.8,255.9L574.6,259.3L578.3,262.7L581.9,266.2L585.3,269.8L588.6,273.4L591.8,277.0L594.9,280.8L597.8,284.6L600.5,288.5L603.1,292.5L605.5,296.6L607.7,300.8L609.8,305.0L611.7,309.2L613.5,313.4L615.1,317.7L616.5,322.0L617.8,326.4L618.9,330.7L620.0,335.0L620.9,339.4L621.8,343.7L622.5,348.0L623.1,352.3L623.5,356.6L623.9,360.9L624.1,365.2L624.2,369.5L624.2,373.8L624.0,378.0L623.7,382.3L623.4,386.5L622.9,390.7L622.5,394.9L622.1,399.1L621.6,403.4L621.0,407.6L620.3,411.8L619.4,416.0L618.5,420.2L617.5,424.5L616.5,428.7L615.4,433.0L614.2,437.4L613.3,441.9L612.6,446.7M558.4,246.6L562.7,249.7L566.7,252.9L570.7,256.2L574.5,259.5L578.1,263.0L581.6,266.5L585.0,270.1L588.3,273.8L591.4,277.6L594.3,281.4L597.1,285.3L599.7,289.4L602.0,293.5L604.2,297.7L606.2,301.9L608.1,306.1L609.8,310.4L611.4,314.7L612.8,319.0L614.0,323.3L615.0,327.7L616.0,332.0L616.9,336.2L617.7,340.5L618.4,344.7L618.9,349.0L619.4,353.2L619.7,357.4L619.9,361.5L620.0,365.7L620.0,369.9L620.0,374.0L619.8,378.1L619.4,382.2L619.0,386.2L618.6,390.3L618.3,394.4L617.9,398.4L617.6,402.5L617.1,406.6L616.5,410.7L615.8,414.9L615.1,419.0L614.3,423.2L613.5,427.4L612.6,431.7L611.8,436.1L611.2,440.7L610.9,445.7M558.3,247.1L562.5,250.1L566.6,253.2L570.5,256.4L574.3,259.8L577.9,263.3L581.4,266.9L584.7,270.5L587.9,274.3L590.9,278.1L593.7,282.0L596.4,286.1L598.8,290.2L601.0,294.4L603.0,298.7L604.8,303.0L606.4,307.3L608.0,311.6L609.3,315.9L610.5,320.3L611.5,324.6L612.3,328.9L613.1,333.2L613.7,337.4L614.4,341.6L614.9,345.8L615.3,349.9L615.6,354.0L615.9,358.1L616.0,362.2L616.0,366.2L615.9,370.2L615.8,374.2L615.5,378.1L615.1,382.1L614.7,386.0L614.3,389.9L614.0,393.8L613.8,397.7L613.5,401.7L613.2,405.7L612.7,409.7L612.2,413.7L611.6,417.8L611.0,421.9L610.5,426.1L609.9,430.4L609.3,434.8L609.1,439.5L609.3,444.7M558.1,247.5L562.3,250.4L566.4,253.5L570.4,256.7L574.1,260.1L577.8,263.6L581.2,267.2L584.5,270.9L587.5,274.7L590.4,278.7L593.1,282.7L595.6,286.8L597.9,291.0L599.9,295.4L601.7,299.7L603.3,304.1L604.8,308.5L606.1,312.8L607.2,317.2L608.2,321.6L609.0,325.9L609.6,330.2L610.1,334.5L610.6,338.6L611.1,342.8L611.5,346.8L611.8,350.9L611.9,354.9L612.0,358.8L612.0,362.8L611.9,366.7L611.8,370.5L611.6,374.4L611.2,378.2L610.8,382.0L610.4,385.7L610.0,389.5L609.8,393.2L609.6,397.0L609.5,400.9L609.3,404.7L608.9,408.6L608.5,412.5L608.2,416.5L607.8,420.6L607.5,424.8L607.1,429.0L606.8,433.5L606.9,438.3L607.6,443.7M557.9,248.0L562.2,250.8L566.3,253.8L570.2,257.0L574.0,260.3L577.6,263.9L581.0,267.5L584.2,271.3L587.2,275.2L590.0,279.2L592.6,283.3L594.9,287.5L597.0,291.9L598.8,296.3L600.4,300.8L601.8,305.2L603.1,309.7L604.2,314.1L605.2,318.5L605.9,322.9L606.4,327.2L606.9,331.5L607.2,335.7L607.5,339.8L607.8,343.9L608.1,347.9L608.2,351.8L608.2,355.7L608.2,359.6L608.0,363.4L607.9,367.2L607.6,370.9L607.4,374.6L607.0,378.2L606.5,381.9L606.0,385.5L605.7,389.1L605.5,392.7L605.4,396.3L605.4,400.0L605.3,403.8L605.1,407.6L604.9,411.4L604.7,415.3L604.6,419.3L604.5,423.4L604.4,427.7L604.4,432.2L604.8,437.1L606.0,442.6" fill="none" stroke="#d6ea6a" stroke-opacity="0.8" stroke-width="0.8"/><path d="M88.1,379.4L88.8,370.7L90.0,362.0L91.7,353.3L93.7,344.8L96.0,336.3L98.6,327.9L101.4,319.7L104.3,311.5L107.5,303.4L110.7,295.4L114.0,287.5L117.4,279.7L121.0,272.0L124.7,264.3L128.5,256.8L132.4,249.4L136.4,242.0L140.6,234.8L144.9,227.7L149.4,220.7L154.0,213.8L158.7,207.1L163.5,200.5L168.5,194.0L173.6,187.6L178.9,181.4L184.3,175.3L189.8,169.4L195.4,163.6L201.1,158.0L206.9,152.5L212.8,147.2L218.8,142.0L224.9,136.9L231.1,132.1L237.4,127.3L243.7,122.7L250.1,118.3L256.6,114.0L263.2,109.9L269.8,106.0L276.5,102.2L283.2,98.5L290.0,95.0L296.8,91.7L303.6,88.5L310.5,85.4L317.5,82.6L324.4,79.8L331.4,77.2L338.4,74.8L345.4,72.5L352.5,70.3L359.5,68.3L366.6,66.5L373.6,64.8L380.7,63.2L387.8,61.8L394.9,60.6L402.0,59.5L409.0,58.5L416.1,57.7L423.2,57.1L430.2,56.6L437.3,56.2L444.3,56.0L451.3,55.9L458.2,56.0L465.2,56.3L472.1,56.7L479.0,57.2L485.8,57.9L492.6,58.8L499.3,59.8L506.1,60.9L512.7,62.2L519.3,63.6L525.9,65.2L532.3,66.9L538.8,68.7L545.1,70.7L551.4,72.8L557.6,75.1L563.8,77.4L569.8,79.9L575.8,82.6L581.7,85.3L587.6,88.1L593.3,91.1L599.0,94.2L604.5,97.3L610.0,100.6L615.4,104.0L620.7,107.5L625.9,111.0L631.0,114.7L636.0,118.4L640.9,122.3L645.7,126.2L650.4,130.2L655.0,134.3L659.5,138.4L664.0,142.6L668.3,146.9L672.5,151.3L676.6,155.7L680.6,160.2L684.5,164.7L688.3,169.3L691.9,174.0L695.5,178.7L699.0,183.4L702.3,188.2L705.6,193.1L708.7,198.0L711.8,202.9L714.7,207.9L717.5,213.0L720.2,218.0L722.8,223.1L725.3,228.2L727.6,233.4L729.9,238.6L732.1,243.8L734.1,249.0L736.0,254.3L737.8,259.6L739.5,264.8L741.1,270.2L742.6,275.5L743.9,280.8L745.1,286.2L746.3,291.5L747.3,296.9L748.1,302.2L748.9,307.6L749.6,313.0L750.1,318.3L750.5,323.7L750.8,329.0L751.0,334.3L751.1,339.6L751.1,344.9L750.9,350.2L750.7,355.5L750.3,360.7L749.8,365.9L749.2,371.1L748.4,376.2L747.6,381.3L746.6,386.4L745.6,391.4L744.4,396.4L743.1,401.4L741.7,406.3L740.2,411.1L738.6,415.9L736.9,420.6L735.1,425.3L733.2,430.0L731.2,434.5L729.1,439.0L727.0,443.5L724.7,447.9L722.3,452.2L719.8,456.4L717.3,460.5L714.6,464.6L711.9,468.6L709.2,472.6L706.4,476.5L703.6,480.3L700.8,484.1L697.9,487.9L695.2,491.6L692.4,495.4L689.6,499.1L686.8,502.8L684.0,506.5L681.1,510.1L678.2,513.6L675.1,517.1L672.0,520.4L668.8,523.7L665.4,526.9L662.0,529.9L658.4,532.8L654.8,535.7L651.1,538.4L647.4,540.9L643.5,543.4L639.6,545.8L635.7,548.0L631.7,550.1L627.6,552.1L623.5,554.0L619.4,555.8L615.2,557.5L611.1,559.1L606.9,560.5L602.6,561.9L598.4,563.2L594.2,564.3L589.9,565.4L585.7,566.4L581.4,567.3L577.2,568.1L572.9,568.9L568.7,569.5L564.4,570.1L560.2,570.5L556.0,570.9L551.8,571.3L547.6,571.5L543.4,571.7L539.2,571.7L535.1,571.7L530.9,571.6L526.8,571.5L522.7,571.2L518.6,570.9L514.6,570.5L510.6,570.1L506.5,569.5L502.6,568.9L498.6,568.2L494.7,567.4L490.8,566.6L486.9,565.7L483.1,564.7L479.3,563.6L475.5,562.5L471.7,561.3L468.0,560.0L464.4,558.7L460.7,557.3L457.2,555.8L453.6,554.3L450.1,552.7L446.6,551.1L443.2,549.3L439.8,547.5L436.5,545.7L433.2,543.8L430.0,541.8L426.8,539.8L423.6,537.7L420.5,535.6L417.5,533.4L414.5,531.1L411.6,528.8L408.7,526.5L405.9,524.1L403.1,521.6L400.4,519.1L397.7,516.6L395.2,514.0L392.6,511.3L390.1,508.6L387.7,505.9L385.4,503.2L383.1,500.4L380.8,497.5L378.6,494.6L376.5,491.7L374.5,488.8L372.5,485.8L370.6,482.7L368.7,479.7L366.9,476.6L365.2,473.5L363.5,470.4L361.9,467.2L360.4,464.0L359.0,460.8L357.6,457.6L356.2,454.3L355.0,451.1L353.8,447.8L352.7,444.5L351.6,441.2L350.6,437.8L349.7,434.5L348.9,431.1L348.1,427.7L347.4,424.4L346.7,421.0L346.2,417.6L345.7,414.2L345.2,410.8L344.9,407.4L344.6,404.0L344.3,400.6L344.2,397.2L344.1,393.8L344.0,390.4L344.1,387.0L344.2,383.6L344.4,380.2L344.6,376.9L345.0,373.5L345.3,370.2L345.8,366.9L346.3,363.5L346.9,360.2L347.5,357.0L348.2,353.7L349.0,350.5L349.8,347.2L350.7,344.0L351.7,340.8L352.7,337.7L353.8,334.6L355.0,331.5L356.2,328.4L357.5,325.3L358.8,322.3L360.2,319.3L361.7,316.4L363.2,313.5L364.7,310.6L366.4,307.7L368.0,304.9L369.8,302.2L371.6,299.4L373.4,296.7L375.3,294.1L377.3,291.5L379.3,288.9L381.3,286.4L383.5,283.9L385.6,281.5L387.8,279.1L390.1,276.8L392.4,274.6L394.8,272.3L397.2,270.2L399.6,268.1L402.1,266.0L404.6,264.1L407.2,262.1L409.8,260.3L412.4,258.4L415.1,256.7L417.8,255.0L420.6,253.4L423.4,251.8L426.2,250.3L429.0,248.9L431.9,247.6L434.8,246.3L437.7,245.1L440.7,243.9L443.6,242.8L446.6,241.8L449.6,240.9L452.6,240.0L455.7,239.2L458.7,238.5L461.7,237.9L464.8,237.3L467.9,236.7L470.9,236.3L474.0,235.9L477.1,235.5L480.2,235.3L483.2,235.1L486.3,234.9L489.4,234.8L492.4,234.8L495.5,234.8L498.5,234.9L501.6,235.1L504.6,235.3L507.6,235.5L510.6,235.8L513.6,236.2L516.6,236.6L519.6,237.1L522.6,237.6L525.5,238.2L528.5,238.8L531.4,239.4L534.3,240.1L537.2,240.9L540.1,241.6L542.9,242.5L545.8,243.3L548.6,244.3L551.5,245.2L554.3,246.2L557.1,247.2L559.9,248.3L562.6,249.4L565.4,250.5L568.2,251.7L570.9,252.9L573.6,254.2L576.4,255.5" fill="none" stroke="#5ea470" stroke-width="1.2" stroke-opacity="0.8"/><path d="M247.2,379.4L248.2,374.0L249.4,368.6L250.7,363.3L252.2,358.0L253.7,352.7L255.4,347.6L257.2,342.5L259.2,337.4L261.2,332.5L263.4,327.5L265.7,322.7L268.0,318.0L270.6,313.3L273.2,308.7L275.9,304.2L278.7,299.8L281.6,295.5L284.6,291.2L287.7,287.1L290.9,283.1L294.2,279.1L297.5,275.3L301.0,271.6L304.5,268.0L308.1,264.4L311.8,261.0L315.5,257.7L319.3,254.6L323.1,251.5L327.1,248.5L331.0,245.7L335.1,243.0L339.1,240.4L343.2,237.9L347.4,235.5L351.5,233.3L355.7,231.1L359.9,229.1L364.2,227.2L368.4,225.3L372.7,223.6L376.9,222.0L381.2,220.5L385.4,219.1L389.7,217.7L393.9,216.5L398.1,215.3L402.3,214.3L406.5,213.3L410.7,212.3L414.8,211.5L419.0,210.7L423.1,210.1L427.2,209.4L431.3,208.9L435.3,208.5L439.4,208.1L443.4,207.8L447.4,207.6L451.3,207.4L455.3,207.4L459.2,207.4L463.1,207.5L467.0,207.6L470.8,207.9L474.6,208.2L478.4,208.6L482.2,209.1L485.9,209.7L489.6,210.3L493.2,211.1L496.8,211.9L500.4,212.8L503.9,213.7L507.4,214.8L510.9,215.9L514.3,217.1L517.6,218.4L520.9,219.8L524.1,221.2L527.3,222.7L530.5,224.3L533.5,226.0L536.5,227.8L539.5,229.6L542.4,231.5L545.2,233.4L547.9,235.4L550.6,237.4L553.3,239.4L555.8,241.4L558.4,243.5L560.8,245.6L563.3,247.7L565.7,249.8L568.0,251.8L570.3,253.9L572.6,255.9L574.9,258.0" fill="none" stroke="#6aa878" stroke-width="1" stroke-opacity="0.7"/><ellipse cx="499" cy="380.3" rx="15.5" ry="17.5" fill="#ffffff"/><path d="M83.7,577.7 H751.0" fill="none" stroke="#bdbdbd" stroke-width="1.8"/><path d="M83.7,52.7 V578.5" fill="none" stroke="#858585" stroke-width="1.6"/><path d="M138.6,577.7 v-6.5 M211.8,577.7 v-6.5 M285.1,577.7 v-6.5 M358.3,577.7 v-6.5 M431.6,577.7 v-6.5 M504.8,577.7 v-6.5 M578.0,577.7 v-6.5 M651.3,577.7 v-6.5 M724.5,577.7 v-6.5" stroke="#9a9a9a" stroke-width="1.3"/><path d="M83.7,526.0 h6.5 M83.7,452.7 h6.5 M83.7,379.4 h6.5 M83.7,306.1 h6.5 M83.7,232.8 h6.5 M83.7,159.5 h6.5 M83.7,86.2 h6.5" stroke="#858585" stroke-width="1.3"/><g font-family="'Liberation Sans', Arial, sans-serif" font-size="23" fill="#1a1a1a"><text x="138.6" y="608.3" text-anchor="middle">-5</text><text x="211.8" y="608.3" text-anchor="middle">-4</text><text x="285.1" y="608.3" text-anchor="middle">-3</text><text x="358.3" y="608.3" text-anchor="middle">-2</text><text x="431.6" y="608.3" text-anchor="middle">-1</text><text x="504.8" y="608.3" text-anchor="middle">0</text><text x="578.0" y="608.3" text-anchor="middle">1</text><text x="651.3" y="608.3" text-anchor="middle">2</text><text x="724.5" y="608.3" text-anchor="middle">3</text><text x="76" y="534.3" text-anchor="end">-2</text><text x="76" y="461.0" text-anchor="end">-1</text><text x="76" y="387.7" text-anchor="end">0</text><text x="76" y="314.4" text-anchor="end">1</text><text x="76" y="241.1" text-anchor="end">2</text><text x="76" y="167.8" text-anchor="end">3</text><text x="76" y="94.5" text-anchor="end">4</text></g><text x="416.5" y="649.7" text-anchor="middle" font-family="'Liberation Sans', Arial, sans-serif" font-size="34" fill="#1a1a1a">x [mm]</text><text transform="translate(44.9,315.5) rotate(-90)" text-anchor="middle" font-family="'Liberation Sans', Arial, sans-serif" font-size="34" fill="#1a1a1a">y [mm]</text><rect x="85.1" y="345.2" width="72.0" height="33.0" rx="1.5" fill="#fbfbfb" stroke="#cfcfcf" stroke-width="1"/><text x="90.5" y="369.0" font-family="'Liberation Sans', Arial, sans-serif" font-size="19.5" fill="#262626">L No. <tspan fill="#1a8ad8" font-weight="bold">1</tspan></text><rect x="506.0" y="64.2" width="71.6" height="32.0" rx="1.5" fill="#fbfbfb" stroke="#cfcfcf" stroke-width="1"/><text x="511.9" y="87.6" font-family="'Liberation Sans', Arial, sans-serif" font-size="19.5" fill="#262626">L No. <tspan fill="#1a8ad8" font-weight="bold">2</tspan></text><rect x="675.0" y="381.3" width="71.4" height="32.3" rx="1.5" fill="#fbfbfb" stroke="#cfcfcf" stroke-width="1"/><text x="680.5" y="404.3" font-family="'Liberation Sans', Arial, sans-serif" font-size="19.5" fill="#262626">L No. <tspan fill="#1a8ad8" font-weight="bold">3</tspan></text><rect x="432.3" y="537.2" width="70.0" height="32.4" rx="1.5" fill="#fbfbfb" stroke="#cfcfcf" stroke-width="1"/><text x="438.0" y="561.2" font-family="'Liberation Sans', Arial, sans-serif" font-size="19.5" fill="#262626">L No. <tspan fill="#1a8ad8" font-weight="bold">4</tspan></text><rect x="271.2" y="344.8" width="72.4" height="33.0" rx="1.5" fill="#fbfbfb" stroke="#cfcfcf" stroke-width="1"/><text x="276.6" y="369.0" font-family="'Liberation Sans', Arial, sans-serif" font-size="19.5" fill="#262626">L No. <tspan fill="#1a8ad8" font-weight="bold">5</tspan></text><rect x="431.8" y="201.8" width="70.0" height="33.0" rx="1.5" fill="#fbfbfb" stroke="#cfcfcf" stroke-width="1"/><text x="437.7" y="225.3" font-family="'Liberation Sans', Arial, sans-serif" font-size="19.5" fill="#262626">L No. <tspan fill="#1a8ad8" font-weight="bold">6</tspan></text><rect x="642.0" y="345.1" width="71.7" height="33.0" rx="1.5" fill="#fbfbfb" stroke="#cfcfcf" stroke-width="1"/><text x="647.5" y="369.0" font-family="'Liberation Sans', Arial, sans-serif" font-size="19.5" fill="#262626">L No. <tspan fill="#1a8ad8" font-weight="bold">7</tspan></text><rect x="432.3" y="477.6" width="70.0" height="32.8" rx="1.5" fill="#fbfbfb" stroke="#cfcfcf" stroke-width="1"/><text x="438.0" y="501.7" font-family="'Liberation Sans', Arial, sans-serif" font-size="19.5" fill="#262626">L No. <tspan fill="#1a8ad8" font-weight="bold">8</tspan></text><rect x="377.9" y="345.1" width="71.9" height="33.0" rx="1.5" fill="#fbfbfb" stroke="#cfcfcf" stroke-width="1"/><text x="383.3" y="369.0" font-family="'Liberation Sans', Arial, sans-serif" font-size="19.5" fill="#262626">L No. <tspan fill="#1a8ad8" font-weight="bold">9</tspan></text><rect x="421.6" y="262.2" width="80.0" height="33.0" rx="1.5" fill="#fbfbfb" stroke="#cfcfcf" stroke-width="1"/><text x="426.9" y="286.0" font-family="'Liberation Sans', Arial, sans-serif" font-size="19.5" fill="#262626">L No. <tspan fill="#1a8ad8" font-weight="bold">10</tspan></text><rect x="519.8" y="345.1" width="82.5" height="33.0" rx="1.5" fill="#fbfbfb" stroke="#cfcfcf" stroke-width="1"/><text x="525.9" y="369.0" font-family="'Liberation Sans', Arial, sans-serif" font-size="19.5" fill="#262626">L No. <tspan fill="#1a8ad8" font-weight="bold">11</tspan></text><rect x="537.9" y="448.8" width="82.5" height="32.6" rx="1.5" fill="#fbfbfb" stroke="#cfcfcf" stroke-width="1"/><text x="543.7" y="472.4" font-family="'Liberation Sans', Arial, sans-serif" font-size="19.5" fill="#262626">L No. <tspan fill="#1a8ad8" font-weight="bold">12</tspan></text><circle cx="505" cy="235.6" r="2.6" fill="#111" stroke="#fff" stroke-width="0.8"/><circle cx="505" cy="260.6" r="2.6" fill="#111" stroke="#fff" stroke-width="0.8"/><circle cx="505.5" cy="512.1" r="2.6" fill="#111" stroke="#fff" stroke-width="0.8"/><circle cx="536.4" cy="447.3" r="2.6" fill="#111" stroke="#fff" stroke-width="0.8"/><line x1="89.5" y1="379.2" x2="752.4" y2="379.2" stroke="#8b3f10" stroke-width="4"/><line x1="501.7" y1="61" x2="501.7" y2="572.5" stroke="#8b3f10" stroke-width="4.4"/><circle cx="89.8" cy="378.8" r="6.8" fill="#d2691e" fill-opacity="0.95"/><circle cx="501.9" cy="60.8" r="6.8" fill="#d2691e" fill-opacity="0.95"/><circle cx="752.4" cy="378.8" r="6.8" fill="#d2691e" fill-opacity="0.95"/><circle cx="501.2" cy="572.5" r="6.8" fill="#d2691e" fill-opacity="0.95"/><line x1="100" y1="61" x2="486" y2="61" stroke="#8b3f10" stroke-width="5.6"/><line x1="518" y1="61" x2="738" y2="61" stroke="#8b3f10" stroke-width="5.6"/><line x1="752.5" y1="75" x2="752.5" y2="362" stroke="#8b3f10" stroke-width="6"/><line x1="752.5" y1="396" x2="752.5" y2="556" stroke="#8b3f10" stroke-width="6"/><polygon points="87.0,61.0 105.5,51.5 105.5,70.5" fill="#8b3f10"/><polygon points="501.3,61.0 482.8,51.5 482.8,70.5" fill="#8b3f10"/><polygon points="502.4,61.0 520.9,51.5 520.9,70.5" fill="#8b3f10"/><polygon points="752.5,61.0 734.0,51.5 734.0,70.5" fill="#8b3f10"/><polygon points="752.5,61.5 743.0,80.0 762.0,80.0" fill="#8b3f10"/><polygon points="752.5,377.0 743.0,358.5 762.0,358.5" fill="#8b3f10"/><polygon points="752.5,381.5 743.0,400.0 762.0,400.0" fill="#8b3f10"/><polygon points="752.5,572.0 743.0,553.5 762.0,553.5" fill="#8b3f10"/><text transform="translate(6.3,50.6) scale(0.56,1)" font-family="'Liberation Sans', Arial, sans-serif" font-weight="bold" font-size="54" fill="#000" stroke="#000" stroke-width="3.4" stroke-linejoin="round">a</text><text transform="translate(185.5,43.1) scale(0.88,1)" font-family="'Liberation Serif', 'DejaVu Serif', serif" font-weight="bold" font-size="47" fill="#8b3f10">A</text><text transform="translate(219.5,53) scale(0.95,1)" font-family="'Liberation Serif', 'DejaVu Serif', serif" font-weight="bold" font-size="36" fill="#8b3f10">a</text><text transform="translate(515,42.9) scale(0.88,1)" font-family="'Liberation Serif', 'DejaVu Serif', serif" font-weight="bold" font-size="47" fill="#8b3f10">A</text><text transform="translate(548.5,52.8) scale(0.95,1)" font-family="'Liberation Serif', 'DejaVu Serif', serif" font-weight="bold" font-size="36" fill="#8b3f10">b</text><text transform="translate(763.5,233.4) scale(0.88,1)" font-family="'Liberation Serif', 'DejaVu Serif', serif" font-weight="bold" font-size="47" fill="#8b3f10">B</text><text transform="translate(793.5,243.3) scale(0.95,1)" font-family="'Liberation Serif', 'DejaVu Serif', serif" font-weight="bold" font-size="36" fill="#8b3f10">a</text><text transform="translate(763.5,488) scale(0.88,1)" font-family="'Liberation Serif', 'DejaVu Serif', serif" font-weight="bold" font-size="47" fill="#8b3f10">B</text><text transform="translate(795.5,497.5) scale(0.95,1)" font-family="'Liberation Serif', 'DejaVu Serif', serif" font-weight="bold" font-size="36" fill="#8b3f10">b</text><g stroke="#e4e4e4" stroke-width="1.2"><line x1="1011.8" y1="79.4" x2="1011.8" y2="574.0"/><line x1="1111.1" y1="79.4" x2="1111.1" y2="574.0"/><line x1="1210.4" y1="79.4" x2="1210.4" y2="574.0"/><line x1="1309.7" y1="79.4" x2="1309.7" y2="574.0"/><line x1="1408.9" y1="79.4" x2="1408.9" y2="574.0"/><line x1="1508.2" y1="79.4" x2="1508.2" y2="574.0"/><line x1="1607.5" y1="79.4" x2="1607.5" y2="574.0"/><line x1="1005.2" y1="524.5" x2="1634.3" y2="524.5"/><line x1="1005.2" y1="425.4" x2="1634.3" y2="425.4"/><line x1="1005.2" y1="326.3" x2="1634.3" y2="326.3"/><line x1="1005.2" y1="227.2" x2="1634.3" y2="227.2"/><line x1="1005.2" y1="128.1" x2="1634.3" y2="128.1"/></g><defs><clipPath id="silclip"><polygon points="1021.7,188.2 1031.1,178.8 1052.0,178.8 1094.2,156.0 1111.7,138.5 1130.5,138.5 1149.3,119.7 1211.0,119.7 1229.8,99.0 1270.1,99.0 1288.9,79.4 1329.2,79.4 1339.9,88.8 1349.3,79.4 1358.7,88.8 1368.1,79.4 1378.9,88.8 1388.3,79.4 1408.4,96.9 1408.4,99.0 1468.7,99.0 1506.3,135.8 1546.6,138.5 1557.4,149.2 1557.4,158.6 1568.1,158.6 1576.2,168.0 1576.2,188.2 1586.9,198.9 1597.5,209.0 1597.7,266.9 1616.5,287.0 1616.5,404.0 1596.2,425.5 1596.2,453.8 1558.6,488.7 1534.4,518.3 1507.5,553.2 1468.5,573.3 1308.9,573.3 1290.1,554.5 1251.2,554.5 1240.4,545.0 1240.4,524.9 1220.3,504.8 1220.3,403.9 1201.7,385.0 1201.7,366.3 1213.8,358.2 1241.9,355.5 1241.9,266.9 1215.0,274.9 1200.3,276.3 1200.3,287.0 1191.0,296.4 1170.8,296.4 1161.4,305.8 1161.4,326.0 1152.0,335.4 1131.8,335.4 1111.7,316.6 1051.3,316.6 1041.9,305.8 1041.9,285.7 1021.7,266.9"/></clipPath></defs><polygon points="1021.7,188.2 1031.1,178.8 1052.0,178.8 1094.2,156.0 1111.7,138.5 1130.5,138.5 1149.3,119.7 1211.0,119.7 1229.8,99.0 1270.1,99.0 1288.9,79.4 1329.2,79.4 1339.9,88.8 1349.3,79.4 1358.7,88.8 1368.1,79.4 1378.9,88.8 1388.3,79.4 1408.4,96.9 1408.4,99.0 1468.7,99.0 1506.3,135.8 1546.6,138.5 1557.4,149.2 1557.4,158.6 1568.1,158.6 1576.2,168.0 1576.2,188.2 1586.9,198.9 1597.5,209.0 1597.7,266.9 1616.5,287.0 1616.5,404.0 1596.2,425.5 1596.2,453.8 1558.6,488.7 1534.4,518.3 1507.5,553.2 1468.5,573.3 1308.9,573.3 1290.1,554.5 1251.2,554.5 1240.4,545.0 1240.4,524.9 1220.3,504.8 1220.3,403.9 1201.7,385.0 1201.7,366.3 1213.8,358.2 1241.9,355.5 1241.9,266.9 1215.0,274.9 1200.3,276.3 1200.3,287.0 1191.0,296.4 1170.8,296.4 1161.4,305.8 1161.4,326.0 1152.0,335.4 1131.8,335.4 1111.7,316.6 1051.3,316.6 1041.9,305.8 1041.9,285.7 1021.7,266.9" fill="#a2a2a2"/><g clip-path="url(#silclip)"><polygon points="1021.7,188.2 1032.5,188.2 1032.5,250.0 1021.7,250.0" fill="#8a8a8a"/><polygon points="1021.7,209.7 1031.1,217.7 1021.7,225.8" fill="#4b4b4b"/><polygon points="1032.5,204.3 1052.6,196.3 1052.6,250.0 1032.5,250.0" fill="#bcbcbc"/><polygon points="1052.6,207.0 1071.4,207.0 1071.4,250.0 1052.6,250.0" fill="#8a8a8a"/><polygon points="1071.4,188.2 1170.8,188.2 1170.8,250.0 1071.4,250.0" fill="#bcbcbc"/><polygon points="1094.2,156.0 1111.7,138.5 1130.5,138.5 1130.5,188.2 1082.2,188.2" fill="#a2a2a2"/><polygon points="1130.5,147.9 1150.7,147.9 1150.7,188.2 1130.5,188.2" fill="#bcbcbc"/><polygon points="1130.5,138.5 1149.3,119.7 1170.8,119.7 1170.8,147.9 1130.5,147.9" fill="#8a8a8a"/><polygon points="1170.8,119.7 1215.1,119.7 1215.1,147.9 1170.8,147.9" fill="#bcbcbc"/><polygon points="1170.8,147.9 1189.6,158.6 1208.4,188.2 1208.4,207.0 1190.9,207.0 1190.9,188.2 1170.8,188.2" fill="#a2a2a2"/><polygon points="1190.9,188.2 1208.4,188.2 1208.4,207.0 1190.9,207.0" fill="#8a8a8a"/><polygon points="1170.8,207.0 1208.4,207.0 1189.6,225.8 1170.8,225.8" fill="#4b4b4b"/><polygon points="1203.0,228.5 1235.0,228.5 1235.0,250.0 1203.0,250.0" fill="#4b4b4b"/><polygon points="1229.9,188.2 1235.0,188.2 1235.0,209.7 1229.9,209.7" fill="#4b4b4b"/><polygon points="1270.1,99.0 1288.9,79.4 1288.9,127.8 1270.1,127.8" fill="#8a8a8a"/><polygon points="1329.2,107.6 1349.3,88.8 1408.4,96.9 1408.4,107.6" fill="#afafaf"/><polygon points="1288.9,99.0 1309.0,107.6 1309.0,118.4 1288.9,107.6" fill="#8a8a8a"/><polygon points="1268.7,127.8 1389.6,127.8 1389.6,168.0 1268.7,168.0" fill="#c6c6c6"/><polygon points="1215.0,127.8 1249.9,127.8 1249.9,188.2 1229.8,188.2 1229.8,228.5 1215.0,228.5" fill="#bcbcbc"/><polygon points="1249.9,147.9 1270.1,147.9 1270.1,188.2 1249.9,188.2" fill="#8a8a8a"/><polygon points="1240.5,207.0 1270.1,188.2 1268.7,207.0" fill="#4b4b4b"/><polygon points="1290.2,168.0 1309.0,168.0 1309.0,207.0 1290.2,207.0" fill="#8a8a8a"/><polygon points="1299.6,188.2 1309.0,168.0 1369.5,168.0 1369.5,172.1 1349.3,178.8 1369.5,188.2" fill="#4b4b4b"/><polygon points="1309.0,188.2 1349.3,188.2 1349.3,207.0 1309.0,207.0" fill="#c6c6c6"/><polygon points="1349.3,188.2 1369.5,197.6 1349.3,207.0" fill="#a2a2a2"/><polygon points="1369.5,168.0 1389.6,168.0 1389.6,188.2 1369.5,188.2" fill="#bcbcbc"/><polygon points="1389.6,107.6 1408.4,127.8 1408.4,147.9 1389.6,147.9" fill="#8a8a8a"/><polygon points="1389.6,147.9 1408.4,147.9 1408.4,168.0 1389.6,188.2" fill="#a2a2a2"/><polygon points="1369.5,188.2 1389.6,188.2 1408.4,168.0 1427.2,168.0 1389.6,207.0 1369.5,207.0" fill="#4b4b4b"/><polygon points="1408.4,99.0 1435.0,99.0 1435.0,207.0 1408.4,207.0 1427.2,168.0 1408.4,147.9" fill="#bcbcbc"/><polygon points="1229.8,188.2 1249.9,188.2 1262.0,207.0 1262.0,228.5 1249.9,228.5 1229.8,228.5" fill="#a2a2a2"/><polygon points="1262.0,207.0 1369.5,207.0 1349.3,228.5 1327.8,228.5 1327.8,250.0 1268.7,250.0 1262.0,228.5" fill="#4b4b4b"/><polygon points="1271.4,236.5 1282.2,250.0 1327.8,250.0 1327.8,236.5" fill="#393939"/><polygon points="1215.0,228.5 1249.9,228.5 1231.1,250.0 1215.0,250.0" fill="#4b4b4b"/><polygon points="1369.5,207.0 1389.6,207.0 1389.6,217.7 1408.4,231.2 1435.0,231.2 1435.0,250.0 1327.8,250.0 1327.8,228.5 1349.3,228.5" fill="#afafaf"/><polygon points="1408.4,207.0 1435.0,207.0 1435.0,228.5 1419.2,228.5" fill="#4b4b4b"/><polygon points="1415.0,99.0 1448.6,99.0 1448.6,147.9 1415.0,147.9" fill="#bcbcbc"/><polygon points="1448.6,99.0 1468.7,99.0 1487.5,118.4 1487.5,147.9 1448.6,147.9" fill="#8a8a8a"/><polygon points="1487.5,127.8 1507.7,137.2 1527.8,147.9 1546.6,188.2 1546.6,207.0 1509.0,166.7 1487.5,147.9" fill="#bcbcbc"/><polygon points="1449.9,168.0 1486.2,168.0 1467.4,177.4" fill="#4b4b4b"/><polygon points="1449.9,188.2 1486.2,188.2 1467.4,177.4" fill="#4b4b4b"/><polygon points="1468.7,188.2 1506.3,188.2 1487.5,207.0 1468.7,196.3" fill="#4b4b4b"/><polygon points="1415.0,207.0 1448.6,207.0 1441.9,220.4 1415.0,228.5" fill="#4b4b4b"/><polygon points="1546.6,158.6 1576.2,158.6 1576.2,188.2 1546.6,188.2" fill="#8a8a8a"/><polygon points="1527.8,207.0 1546.6,207.0 1546.6,250.0 1527.8,250.0" fill="#6a6a6a"/><polygon points="1546.6,188.2 1586.9,198.9 1596.3,208.3 1576.2,228.5 1546.6,228.5" fill="#a2a2a2"/><polygon points="1576.2,208.3 1596.3,208.3 1596.3,250.0 1576.2,250.0" fill="#8a8a8a"/><polygon points="1527.8,228.5 1541.3,228.5 1527.8,241.9" fill="#4b4b4b"/><polygon points="1507.7,188.2 1527.8,188.2 1527.8,228.5 1507.7,228.5" fill="#bcbcbc"/><polygon points="1032.5,240.0 1051.3,240.0 1051.3,266.9 1032.5,266.9" fill="#bcbcbc"/><polygon points="1021.7,240.0 1032.5,240.0 1032.5,266.9 1021.7,266.9" fill="#8a8a8a"/><polygon points="1051.3,240.0 1071.4,240.0 1071.4,285.7 1051.3,285.7" fill="#8a8a8a"/><polygon points="1071.4,240.0 1170.8,240.0 1170.8,248.1 1152.0,248.1 1152.0,266.9 1091.6,266.9 1091.6,285.7 1071.4,285.7" fill="#bcbcbc"/><polygon points="1021.7,266.9 1051.3,266.9 1032.5,276.3" fill="#4b4b4b"/><polygon points="1032.5,276.3 1051.3,266.9 1051.3,285.7 1041.9,285.7" fill="#8a8a8a"/><polygon points="1091.6,266.9 1110.4,266.9 1101.0,285.7 1091.6,285.7" fill="#6a6a6a"/><polygon points="1110.4,266.9 1160.1,266.9 1149.3,285.7 1101.0,285.7" fill="#4b4b4b"/><polygon points="1152.0,248.1 1170.8,248.1 1160.1,266.9 1152.0,266.9" fill="#a2a2a2"/><polygon points="1170.8,248.1 1190.9,248.1 1160.1,285.7 1149.3,285.7" fill="#4b4b4b"/><polygon points="1170.8,266.9 1190.9,248.1 1190.9,266.9 1176.2,283.0" fill="#bcbcbc"/><polygon points="1190.9,240.0 1235.0,240.0 1235.0,276.3 1200.3,276.3 1200.3,287.0 1190.9,296.4 1170.8,296.4 1190.9,266.9" fill="#4b4b4b"/><polygon points="1041.9,287.0 1131.9,287.0 1111.7,305.8 1091.6,305.8 1111.7,316.6 1051.3,316.6 1041.9,305.8" fill="#4b4b4b"/><polygon points="1051.3,287.0 1071.4,296.4 1051.3,305.8" fill="#a2a2a2"/><polygon points="1091.6,305.8 1111.7,287.0 1131.9,287.0 1131.9,305.8" fill="#bcbcbc"/><polygon points="1131.9,287.0 1152.0,287.0 1161.4,305.8 1161.4,326.0 1152.0,335.4 1131.9,335.4 1111.7,316.6" fill="#8a8a8a"/><polygon points="1131.9,326.0 1152.0,326.0 1141.3,335.4 1131.9,335.4" fill="#4b4b4b"/><polygon points="1152.0,287.0 1170.8,287.0 1160.1,305.8" fill="#393939"/><polygon points="1170.8,287.0 1190.9,287.0 1190.9,296.4 1170.8,296.4" fill="#6a6a6a"/><polygon points="1201.7,366.3 1213.8,358.2 1235.0,358.2 1235.0,420.0 1219.2,420.0 1219.2,403.9 1201.7,385.1" fill="#8a8a8a"/><polygon points="1201.7,385.1 1219.2,385.1 1219.2,403.9" fill="#4b4b4b"/><polygon points="1215.0,240.0 1241.9,240.0 1241.9,266.9 1215.0,274.9" fill="#4b4b4b"/><polygon points="1231.1,248.1 1249.9,248.1 1249.9,266.9 1231.1,266.9" fill="#a2a2a2"/><polygon points="1241.9,266.9 1435.0,266.9 1435.0,366.3 1241.9,366.3" fill="#afafaf"/><polygon points="1241.9,304.5 1282.2,304.5 1282.2,355.5 1241.9,355.5" fill="#a2a2a2"/><polygon points="1282.2,266.9 1349.3,266.9 1349.3,304.5 1282.2,304.5" fill="#bcbcbc"/><polygon points="1215.0,366.3 1231.1,355.5 1290.2,355.5 1290.2,420.0 1215.0,420.0" fill="#8a8a8a"/><polygon points="1215.0,385.1 1241.9,385.1 1241.9,420.0 1215.0,420.0" fill="#4b4b4b"/><polygon points="1249.9,390.4 1290.2,385.1 1290.2,420.0 1255.3,420.0" fill="#4b4b4b"/><polygon points="1290.2,366.3 1330.5,366.3 1330.5,385.1 1290.2,385.1" fill="#bcbcbc"/><polygon points="1330.5,366.3 1368.1,366.3 1349.3,375.7" fill="#4b4b4b"/><polygon points="1330.5,385.1 1368.1,385.1 1349.3,375.7" fill="#4b4b4b"/><polygon points="1389.6,398.5 1435.0,385.1 1435.0,420.0 1389.6,420.0" fill="#4b4b4b"/><polygon points="1349.3,240.0 1389.6,240.0 1389.6,266.9 1349.3,266.9" fill="#a2a2a2"/><polygon points="1368.1,266.9 1435.0,266.9 1435.0,366.3 1368.1,366.3" fill="#bcbcbc"/><polygon points="1368.1,285.7 1408.4,293.7 1408.4,320.6 1389.6,326.0" fill="#a2a2a2"/><polygon points="1415.0,240.0 1569.5,240.0 1569.5,366.3 1415.0,366.3" fill="#bcbcbc"/><polygon points="1569.5,240.0 1597.7,240.0 1597.7,266.9 1569.5,266.9" fill="#8a8a8a"/><polygon points="1549.3,266.9 1576.2,266.9 1565.4,274.9" fill="#4b4b4b"/><polygon points="1549.3,287.0 1586.9,277.6 1565.4,280.3" fill="#4b4b4b"/><polygon points="1586.9,287.0 1616.5,287.0 1616.5,385.1 1597.7,385.1 1586.9,366.3" fill="#8a8a8a"/><polygon points="1597.7,347.4 1616.5,347.4 1616.5,366.3 1597.7,366.3" fill="#4b4b4b"/><polygon points="1569.5,307.2 1586.9,307.2 1586.9,347.4 1569.5,347.4" fill="#a2a2a2"/><polygon points="1476.8,347.4 1506.3,347.4 1490.2,366.3 1476.8,366.3" fill="#4b4b4b"/><polygon points="1468.7,347.4 1476.8,347.4 1476.8,385.1 1468.7,385.1" fill="#8a8a8a"/><polygon points="1428.4,366.3 1468.7,366.3 1468.7,385.1 1449.9,385.1 1415.0,401.2 1415.0,385.1" fill="#4b4b4b"/><polygon points="1527.8,347.4 1569.5,347.4 1569.5,385.1 1527.8,385.1" fill="#8a8a8a"/><polygon points="1569.5,366.3 1597.7,366.3 1586.9,385.1 1569.5,385.1" fill="#4b4b4b"/><polygon points="1468.7,266.9 1495.6,266.9 1526.5,288.4 1498.3,288.4" fill="#8a8a8a"/><polygon points="1586.9,390.4 1616.5,385.1 1616.5,420.0 1586.9,420.0" fill="#6a6a6a"/><polygon points="1569.5,406.5 1597.7,390.4 1597.7,420.0 1569.5,420.0" fill="#4b4b4b"/><polygon points="1415.0,240.0 1447.2,240.0 1447.2,277.6 1415.0,266.9" fill="#a2a2a2"/><polygon points="1220.3,400.0 1249.8,400.0 1249.8,464.5 1220.3,464.5" fill="#8a8a8a"/><polygon points="1249.8,426.9 1270.0,426.9 1270.0,464.5 1249.8,464.5" fill="#bcbcbc"/><polygon points="1249.8,405.4 1270.0,405.4 1270.0,426.9 1249.8,426.9" fill="#a2a2a2"/><polygon points="1270.0,400.0 1306.3,400.0 1306.3,424.2 1400.0,424.2 1400.0,445.7 1368.0,445.7 1349.2,456.4 1342.5,456.4 1270.0,456.4" fill="#4b4b4b"/><polygon points="1368.0,445.7 1400.0,445.7 1400.0,464.5 1368.0,464.5" fill="#bcbcbc"/><polygon points="1220.3,464.5 1270.0,464.5 1270.0,486.0 1241.8,486.0 1220.3,504.8" fill="#4b4b4b"/><polygon points="1241.8,486.0 1270.0,486.0 1270.0,504.8 1241.8,504.8" fill="#8a8a8a"/><polygon points="1220.3,504.8 1292.8,504.8 1292.8,515.5 1271.3,515.5 1271.3,526.3 1240.4,524.9" fill="#4b4b4b"/><polygon points="1240.4,524.9 1271.3,524.9 1287.4,534.3 1271.3,545.1 1240.4,545.1" fill="#8a8a8a"/><polygon points="1240.4,545.1 1292.8,545.1 1290.1,554.5 1251.2,554.5" fill="#4b4b4b"/><polygon points="1290.1,545.1 1400.0,545.1 1400.0,573.3 1308.9,573.3 1290.1,554.5" fill="#393939"/><polygon points="1341.2,464.5 1400.0,464.5 1400.0,504.8 1368.0,504.8 1368.0,475.2 1341.2,475.2" fill="#a2a2a2"/><polygon points="1314.3,496.7 1341.2,475.2 1368.0,475.2 1368.0,504.8 1314.3,504.8" fill="#afafaf"/><polygon points="1365.3,504.8 1384.2,504.8 1365.3,523.6" fill="#4b4b4b"/><polygon points="1389.5,507.4 1400.0,507.4 1400.0,523.6" fill="#4b4b4b"/><polygon points="1365.3,523.6 1400.0,523.6 1400.0,545.1 1365.3,545.1" fill="#a2a2a2"/><polygon points="1292.8,504.8 1314.3,504.8 1314.3,545.1 1292.8,545.1" fill="#8a8a8a"/><polygon points="1448.4,426.9 1547.8,400.0 1547.8,488.7 1448.4,529.0" fill="#bcbcbc"/><polygon points="1400.0,400.0 1448.4,400.0 1448.4,426.9 1426.9,445.7 1400.0,445.7" fill="#4b4b4b"/><polygon points="1448.4,426.9 1496.8,426.9 1467.2,448.4 1448.4,467.2 1400.0,475.3 1400.0,461.8" fill="#4b4b4b"/><polygon points="1400.0,475.3 1448.4,467.2 1448.4,526.3 1400.0,526.3" fill="#a2a2a2"/><polygon points="1408.1,486.0 1429.6,486.0 1429.6,504.8 1408.1,504.8" fill="#bcbcbc"/><polygon points="1400.0,507.5 1448.4,504.8 1448.4,526.3 1400.0,526.3" fill="#4b4b4b"/><polygon points="1400.0,526.3 1467.2,526.3 1488.7,512.9 1550.5,488.7 1566.6,480.6 1596.2,453.8 1596.2,461.8 1507.5,553.2 1468.5,573.3 1400.0,573.3" fill="#4b4b4b"/><polygon points="1547.8,400.0 1616.4,400.0 1596.2,425.5 1547.8,425.5" fill="#a2a2a2"/><polygon points="1566.6,408.1 1588.1,408.1 1616.4,404.0 1596.2,425.5 1574.7,425.5" fill="#4b4b4b"/><polygon points="1547.8,425.5 1596.2,425.5 1596.2,453.8 1547.8,453.8" fill="#8a8a8a"/><polygon points="1547.8,445.7 1566.6,464.5 1547.8,464.5" fill="#4b4b4b"/><polygon points="1488.7,486.0 1526.3,480.6 1526.3,526.3 1488.7,526.3" fill="#8a8a8a"/><polygon points="1488.7,486.0 1529.0,480.6 1496.8,504.8" fill="#4b4b4b"/><polygon points="1460.0,452.5 1487.2,452.5 1487.2,523.6 1460.0,527.7" fill="#bcbcbc"/><polygon points="1487.2,484.9 1547.7,484.9 1547.7,463.0 1568.6,463.0 1570.7,484.9 1558.2,502.7 1539.4,523.6 1508.0,523.6 1487.2,523.6" fill="#8a8a8a"/><polygon points="1543.6,440.0 1593.7,440.0 1587.4,446.3 1568.6,463.0 1543.6,463.0" fill="#4b4b4b"/><polygon points="1547.7,463.0 1568.6,463.0 1570.7,484.9 1547.7,484.9" fill="#6a6a6a"/><polygon points="1497.6,502.7 1528.9,484.9 1547.7,484.9 1528.9,502.7 1508.0,504.8" fill="#4b4b4b"/><polygon points="1508.0,502.7 1528.9,502.7 1528.9,484.9" fill="#a2a2a2"/><polygon points="1528.9,502.7 1547.7,484.9 1570.7,484.9 1558.2,502.7 1539.4,523.6 1508.0,553.8 1468.4,573.7 1460.0,573.7 1460.0,529.8 1487.2,523.6 1508.0,523.6" fill="#4b4b4b"/><polygon points="1468.4,536.1 1487.2,536.1 1478.8,544.4" fill="#393939"/><polygon points="1549.8,494.3 1564.4,488.0 1558.2,502.7" fill="#393939"/><polygon points="1342.5,461.8 1400.0,461.8 1400.0,480.6 1368.0,480.6 1354.6,475.2 1342.5,480.6" fill="#4b4b4b"/><polygon points="1314.3,480.6 1368.0,480.6 1368.0,504.8 1314.3,504.8" fill="#afafaf"/><polygon points="1270.1,168.0 1290.2,168.0 1290.2,188.2 1270.1,188.2" fill="#bcbcbc"/><polygon points="1249.9,249.7 1435.0,249.7 1435.0,267.2 1249.9,267.2" fill="#afafaf"/><polygon points="1349.3,226.9 1435.0,226.9 1435.0,267.2 1349.3,267.2" fill="#bcbcbc"/><polygon points="1309.0,256.4 1349.3,237.6 1369.5,237.6 1369.5,267.2 1309.0,267.2" fill="#a2a2a2"/><polygon points="1215.0,226.9 1248.6,226.9 1231.1,247.0 1248.6,248.4 1231.1,257.8 1241.9,267.2 1215.0,276.6" fill="#4b4b4b"/><polygon points="1215.0,200.0 1231.1,200.0 1231.1,226.9 1215.0,226.9" fill="#bcbcbc"/><polygon points="1231.1,200.0 1260.7,200.0 1260.7,226.9 1231.1,226.9" fill="#a2a2a2"/><polygon points="1260.7,208.1 1357.4,208.1 1357.4,226.9 1349.3,236.3 1329.2,237.6 1309.0,256.4 1290.2,256.4 1271.4,237.6 1260.7,226.9" fill="#4b4b4b"/><polygon points="1271.4,237.6 1329.2,237.6 1309.0,256.4 1290.2,256.4" fill="#393939"/><polygon points="1310.4,217.5 1329.2,217.5 1319.8,226.9" fill="#393939"/><polygon points="1349.3,217.5 1395.0,200.0 1435.0,200.0 1435.0,208.1 1389.6,208.1 1357.4,226.9" fill="#4b4b4b"/><polygon points="1408.4,208.1 1435.0,208.1 1435.0,226.9 1408.4,226.9" fill="#8a8a8a"/><polygon points="1419.2,224.2 1435.0,213.4 1435.0,226.9" fill="#4b4b4b"/><polygon points="1369.5,208.1 1389.6,208.1 1389.6,226.9 1369.5,226.9" fill="#bcbcbc"/><polygon points="1090.0,156.9 1110.9,139.1 1290.0,139.1 1290.0,230.0 1090.0,230.0" fill="#afafaf"/><polygon points="1110.9,139.1 1130.8,139.1 1130.8,156.9 1094.2,156.9" fill="#a2a2a2"/><polygon points="1130.8,139.1 1150.6,119.3 1150.6,139.1" fill="#a2a2a2"/><polygon points="1150.6,119.3 1170.5,119.3 1170.5,138.1 1150.6,138.1" fill="#8a8a8a"/><polygon points="1170.5,119.3 1269.7,119.3 1269.7,148.5 1170.5,148.5" fill="#afafaf"/><polygon points="1210.2,119.3 1230.0,99.4 1230.0,119.3" fill="#8a8a8a"/><polygon points="1230.0,99.4 1269.7,99.4 1269.7,119.3 1230.0,119.3" fill="#a2a2a2"/><polygon points="1269.7,99.4 1290.0,90.0 1290.0,127.6 1269.7,127.6" fill="#8a8a8a"/><polygon points="1269.7,127.6 1290.0,127.6 1290.0,207.0 1269.7,207.0" fill="#bcbcbc"/><polygon points="1126.6,148.5 1150.6,148.5 1150.6,168.4 1126.6,168.4" fill="#bcbcbc"/><polygon points="1126.6,168.4 1150.6,168.4 1150.6,187.2 1126.6,187.2" fill="#a2a2a2"/><polygon points="1150.6,148.5 1170.5,159.0 1150.6,187.2" fill="#a2a2a2"/><polygon points="1150.6,168.4 1170.5,159.0 1170.5,187.2 1150.6,187.2" fill="#8a8a8a"/><polygon points="1170.5,148.5 1250.9,148.5 1250.9,188.2 1230.0,188.2 1230.0,230.0 1210.2,230.0 1210.2,188.2 1190.3,188.2 1190.3,169.4 1170.5,169.4" fill="#bcbcbc"/><polygon points="1170.5,148.5 1190.3,169.4 1210.2,188.2 1190.3,188.2 1190.3,177.8 1170.5,169.4" fill="#a2a2a2"/><polygon points="1190.3,188.2 1210.2,188.2 1210.2,207.0 1190.3,207.0" fill="#8a8a8a"/><polygon points="1249.9,128.7 1269.7,128.7 1269.7,188.2 1249.9,188.2" fill="#8a8a8a"/><polygon points="1249.9,128.7 1269.7,148.5 1249.9,148.5" fill="#afafaf"/><polygon points="1230.0,188.2 1269.7,188.2 1250.9,207.0 1240.5,207.0" fill="#4b4b4b"/><polygon points="1230.0,188.2 1240.5,207.0 1230.0,207.0" fill="#8a8a8a"/><polygon points="1170.5,207.0 1210.2,207.0 1190.3,230.0 1177.8,230.0" fill="#4b4b4b"/><polygon points="1170.5,207.0 1177.8,230.0 1170.5,230.0" fill="#8a8a8a"/><polygon points="1269.7,207.0 1290.0,207.0 1290.0,230.0 1263.5,230.0" fill="#4b4b4b"/><polygon points="1230.0,207.0 1257.2,207.0 1263.5,230.0 1230.0,230.0" fill="#8a8a8a"/><polygon points="1090.0,187.2 1170.5,187.2 1170.5,230.0 1090.0,230.0" fill="#bcbcbc"/><polygon points="1290.0,79.2 1329.7,79.2 1339.1,88.6 1349.6,79.2 1359.0,88.6 1369.4,79.2 1378.8,88.6 1389.3,79.2 1408.1,98.0 1467.6,99.0 1490.0,119.9 1490.0,215.0 1290.0,215.0" fill="#afafaf"/><polygon points="1329.7,79.2 1339.1,88.6 1339.1,108.4 1329.7,108.4" fill="#8a8a8a"/><polygon points="1329.7,108.4 1349.6,88.6 1349.6,108.4" fill="#bcbcbc"/><polygon points="1359.0,108.4 1369.4,88.6 1378.8,108.4" fill="#bcbcbc"/><polygon points="1290.0,98.0 1309.9,108.4 1309.9,117.8 1290.0,108.4" fill="#a2a2a2"/><polygon points="1290.0,127.2 1389.3,127.2 1389.3,168.0 1290.0,168.0" fill="#c6c6c6"/><polygon points="1389.3,108.4 1408.1,127.2 1389.3,127.2" fill="#afafaf"/><polygon points="1389.3,127.2 1408.1,127.2 1408.1,148.1 1389.3,148.1" fill="#6a6a6a"/><polygon points="1389.3,148.1 1408.1,148.1 1427.9,168.0 1389.3,168.0" fill="#a2a2a2"/><polygon points="1408.1,98.0 1448.8,99.0 1448.8,208.8 1408.1,208.8 1408.1,187.9 1427.9,168.0 1408.1,148.1" fill="#c6c6c6"/><polygon points="1448.8,99.0 1467.6,99.0 1467.6,148.1 1448.8,148.1" fill="#a2a2a2"/><polygon points="1467.6,99.0 1490.0,119.9 1490.0,148.1 1467.6,148.1" fill="#8a8a8a"/><polygon points="1448.8,148.1 1467.6,148.1 1467.6,168.0 1448.8,168.0" fill="#8a8a8a"/><polygon points="1467.6,148.1 1490.0,148.1 1490.0,168.0 1467.6,168.0" fill="#afafaf"/><polygon points="1448.8,168.0 1467.6,168.0 1458.2,177.4" fill="#4b4b4b"/><polygon points="1448.8,187.9 1467.6,187.9 1458.2,177.4" fill="#4b4b4b"/><polygon points="1467.6,168.0 1490.0,168.0 1490.0,187.9 1467.6,187.9" fill="#a2a2a2"/><polygon points="1448.8,187.9 1467.6,187.9 1467.6,208.8 1448.8,208.8" fill="#bcbcbc"/><polygon points="1467.6,192.0 1490.0,187.9 1490.0,208.8 1467.6,204.6" fill="#4b4b4b"/><polygon points="1299.4,186.8 1308.8,168.0 1368.4,168.0 1368.4,171.1 1349.6,178.4 1368.4,186.8 1368.4,187.9 1299.4,187.9" fill="#4b4b4b"/><polygon points="1349.6,178.4 1368.4,171.1 1368.4,186.8" fill="#a2a2a2"/><polygon points="1290.0,168.0 1308.8,168.0 1299.4,186.8 1290.0,187.9" fill="#8a8a8a"/><polygon points="1290.0,187.9 1309.9,187.9 1309.9,208.8 1290.0,208.8" fill="#8a8a8a"/><polygon points="1309.9,187.9 1349.6,187.9 1349.6,206.7 1309.9,206.7" fill="#bcbcbc"/><polygon points="1349.6,187.9 1368.4,198.3 1349.6,206.7" fill="#a2a2a2"/><polygon points="1368.4,187.9 1398.7,187.9 1408.1,168.0 1427.9,168.0 1389.3,206.7 1368.4,206.7" fill="#4b4b4b"/><polygon points="1389.3,168.0 1408.1,168.0 1398.7,187.9 1389.3,187.9" fill="#a2a2a2"/><polygon points="1290.0,206.7 1369.4,206.7 1369.4,215.0 1290.0,215.0" fill="#4b4b4b"/><polygon points="1369.4,206.7 1409.1,206.7 1409.1,215.0 1369.4,215.0" fill="#bcbcbc"/><polygon points="1409.1,206.7 1448.8,206.7 1448.8,215.0 1409.1,215.0" fill="#a2a2a2"/><polygon points="1440.0,99.4 1468.2,99.4 1506.9,138.1 1547.6,139.1 1557.0,149.6 1557.0,157.9 1567.5,159.0 1576.9,168.4 1576.9,188.2 1596.7,207.0 1596.7,230.0 1440.0,230.0" fill="#a2a2a2"/><polygon points="1440.0,99.4 1448.4,99.4 1448.4,230.0 1440.0,230.0" fill="#bcbcbc"/><polygon points="1448.4,108.8 1468.2,108.8 1468.2,127.6 1448.4,127.6" fill="#afafaf"/><polygon points="1468.2,99.4 1506.9,138.1 1488.1,148.5 1468.2,148.5" fill="#8a8a8a"/><polygon points="1488.1,128.7 1506.9,138.1 1527.8,138.1 1527.8,148.5 1547.6,167.3 1547.6,207.0 1527.8,207.0 1488.1,167.3" fill="#bcbcbc"/><polygon points="1527.8,138.1 1547.6,139.1 1547.6,167.3 1527.8,148.5" fill="#a2a2a2"/><polygon points="1547.6,159.0 1567.5,159.0 1576.9,168.4 1576.9,188.2 1547.6,188.2" fill="#8a8a8a"/><polygon points="1547.6,149.6 1557.0,149.6 1557.0,157.9 1550.8,157.9" fill="#4b4b4b"/><polygon points="1448.4,148.5 1468.2,148.5 1468.2,168.4 1448.4,168.4" fill="#8a8a8a"/><polygon points="1468.2,148.5 1488.1,148.5 1488.1,168.4 1468.2,168.4" fill="#a2a2a2"/><polygon points="1448.4,168.4 1488.1,168.4 1468.2,177.8" fill="#4b4b4b"/><polygon points="1448.4,186.1 1488.1,186.1 1468.2,177.8" fill="#4b4b4b"/><polygon points="1488.1,168.4 1509.0,168.4 1509.0,188.2 1488.1,188.2" fill="#a2a2a2"/><polygon points="1448.4,188.2 1468.2,188.2 1468.2,207.0 1448.4,207.0" fill="#bcbcbc"/><polygon points="1468.2,187.2 1507.9,187.2 1488.1,196.6" fill="#4b4b4b"/><polygon points="1468.2,207.0 1507.9,207.0 1488.1,196.6" fill="#4b4b4b"/><polygon points="1440.0,207.0 1448.4,207.0 1448.4,230.0 1440.0,230.0" fill="#4b4b4b"/><polygon points="1448.4,207.0 1488.1,207.0 1488.1,230.0 1448.4,230.0" fill="#afafaf"/><polygon points="1488.1,207.0 1509.0,207.0 1509.0,230.0 1488.1,230.0" fill="#8a8a8a"/><polygon points="1509.0,207.0 1527.8,207.0 1527.8,230.0 1509.0,230.0" fill="#bcbcbc"/><polygon points="1527.8,207.0 1547.6,207.0 1547.6,230.0 1527.8,230.0" fill="#8a8a8a"/><polygon points="1547.6,188.2 1567.5,188.2 1567.5,230.0 1547.6,230.0" fill="#afafaf"/><polygon points="1567.5,188.2 1576.9,188.2 1596.7,207.0 1596.7,230.0 1567.5,230.0" fill="#a2a2a2"/><polygon points="1567.5,198.7 1586.3,207.0 1567.5,215.4" fill="#bcbcbc"/><polygon points="1201.3,366.6 1210.7,357.2 1230.5,357.2 1239.9,347.8 1250.4,347.8 1290.1,347.8 1290.1,386.4 1220.1,386.4 1201.3,386.4" fill="#8a8a8a"/><polygon points="1201.3,366.6 1210.7,357.2 1230.5,357.2 1230.5,366.6" fill="#a2a2a2"/><polygon points="1250.4,330.0 1280.7,330.0 1280.7,347.8 1250.4,347.8" fill="#a2a2a2"/><polygon points="1250.4,330.0 1266.1,338.4 1250.4,347.8" fill="#afafaf"/><polygon points="1280.7,330.0 1290.1,330.0 1290.1,386.4 1280.7,386.4" fill="#6a6a6a"/><polygon points="1290.1,366.6 1328.8,366.6 1328.8,386.4 1290.1,386.4" fill="#afafaf"/><polygon points="1201.3,386.4 1220.1,386.4 1220.1,404.2" fill="#4b4b4b"/><polygon points="1220.1,386.4 1250.4,386.4 1250.4,470.0 1220.1,470.0" fill="#8a8a8a"/><polygon points="1250.4,386.4 1304.7,386.4 1304.7,426.1 1250.4,426.1" fill="#4b4b4b"/><polygon points="1250.4,405.2 1270.2,415.7 1250.4,426.1" fill="#a2a2a2"/><polygon points="1261.9,386.4 1280.7,386.4 1270.2,396.9" fill="#6a6a6a"/><polygon points="1250.4,426.1 1270.2,426.1 1270.2,470.0 1250.4,470.0" fill="#bcbcbc"/><polygon points="1270.2,424.0 1395.0,424.0 1395.0,447.0 1349.6,447.0 1349.6,457.5 1270.2,457.5" fill="#4b4b4b"/><polygon points="1291.1,434.5 1299.5,426.1 1307.9,434.5" fill="#393939"/><polygon points="1307.9,434.5 1318.3,426.1 1328.8,434.5" fill="#393939"/><polygon points="1309.9,457.5 1318.3,447.0 1328.8,457.5" fill="#393939"/><polygon points="1349.6,447.0 1368.5,447.0 1368.5,470.0 1349.6,470.0" fill="#a2a2a2"/><polygon points="1368.5,447.0 1395.0,447.0 1395.0,470.0 1368.5,470.0" fill="#bcbcbc"/><polygon points="1368.5,405.2 1395.0,405.2 1395.0,424.0 1368.5,424.0" fill="#4b4b4b"/><polygon points="1528.3,346.7 1568.0,346.7 1568.0,386.4 1528.3,386.4" fill="#afafaf"/><polygon points="1547.1,346.7 1568.0,365.5 1547.1,365.5" fill="#a2a2a2"/><polygon points="1448.9,330.0 1507.4,330.0 1507.4,346.7 1448.9,346.7" fill="#a2a2a2"/><polygon points="1409.2,386.4 1434.3,386.4 1448.9,392.7 1448.9,405.2 1409.2,405.2" fill="#8a8a8a"/><polygon points="1408.7,425.6 1428.7,406.2 1428.7,425.6" fill="#bcbcbc"/><polygon points="1428.7,406.2 1448.1,406.2 1448.1,425.6 1428.7,425.6" fill="#8a8a8a"/><polygon points="1430.5,445.0 1441.4,432.8 1448.1,432.8 1448.1,445.0" fill="#afafaf"/><polygon points="1220.4,440.0 1249.7,440.0 1249.7,466.1 1220.4,466.1" fill="#8a8a8a"/><polygon points="1249.7,440.0 1270.6,440.0 1270.6,463.0 1249.7,463.0" fill="#bcbcbc"/><polygon points="1270.6,440.0 1343.7,440.0 1343.7,456.7 1270.6,456.7" fill="#4b4b4b"/><polygon points="1308.2,456.7 1318.7,446.3 1329.1,456.7" fill="#393939"/><polygon points="1343.7,456.7 1368.8,446.3 1368.8,466.1 1343.7,466.1" fill="#a2a2a2"/><polygon points="1368.8,446.3 1408.5,446.3 1408.5,466.1 1368.8,466.1" fill="#bcbcbc"/><polygon points="1408.5,446.3 1430.0,446.3 1430.0,466.1 1408.5,466.1" fill="#a2a2a2"/><polygon points="1220.4,466.1 1270.6,466.1 1270.6,484.9 1220.4,484.9" fill="#4b4b4b"/><polygon points="1249.7,475.5 1270.6,466.1 1270.6,484.9" fill="#a2a2a2"/><polygon points="1343.7,466.1 1430.0,466.1 1430.0,484.9 1408.5,484.9 1408.5,476.6 1343.7,476.6" fill="#4b4b4b"/><polygon points="1220.4,484.9 1241.3,484.9 1241.3,506.9 1220.4,506.9" fill="#4b4b4b"/><polygon points="1241.3,484.9 1270.6,484.9 1270.6,504.8 1241.3,504.8" fill="#8a8a8a"/><polygon points="1249.7,488.1 1270.6,495.4 1249.7,502.7" fill="#afafaf"/><polygon points="1314.5,504.8 1339.5,476.6 1368.8,476.6 1368.8,504.8" fill="#bcbcbc"/><polygon points="1270.6,484.9 1314.5,484.9 1314.5,504.8 1270.6,504.8" fill="#8a8a8a"/><polygon points="1368.8,476.6 1408.5,476.6 1408.5,504.8 1368.8,504.8" fill="#a2a2a2"/><polygon points="1408.5,484.9 1430.0,484.9 1430.0,504.8 1408.5,504.8" fill="#bcbcbc"/><polygon points="1220.4,504.8 1293.6,504.8 1293.6,523.6 1241.3,523.6" fill="#4b4b4b"/><polygon points="1270.6,514.2 1291.5,504.8 1291.5,523.6" fill="#8a8a8a"/><polygon points="1364.6,504.8 1389.7,504.8 1389.7,523.6 1364.6,523.6" fill="#4b4b4b"/><polygon points="1389.7,504.8 1408.5,514.2 1389.7,523.6" fill="#bcbcbc"/><polygon points="1408.5,504.8 1430.0,504.8 1430.0,523.6 1408.5,523.6" fill="#4b4b4b"/><polygon points="1241.3,523.6 1270.6,523.6 1270.6,544.5 1241.3,544.5" fill="#8a8a8a"/><polygon points="1270.6,523.6 1289.4,534.0 1270.6,544.5" fill="#afafaf"/><polygon points="1364.6,523.6 1430.0,523.6 1430.0,544.5 1364.6,544.5" fill="#afafaf"/><polygon points="1241.3,544.5 1345.8,544.5 1345.8,553.9 1249.7,553.9" fill="#4b4b4b"/><polygon points="1293.6,544.5 1430.0,544.5 1430.0,573.7 1308.2,573.7 1293.6,559.1" fill="#393939"/><polygon points="1249.7,553.9 1260.1,545.5 1270.6,553.9" fill="#393939"/><polygon points="1369.7,227.2 1449.1,227.2 1449.1,277.3 1369.7,277.3" fill="#afafaf"/><polygon points="1369.7,227.2 1390.6,218.8 1409.4,237.6 1390.6,256.4 1369.7,256.4" fill="#a2a2a2"/><polygon points="1390.6,229.3 1409.4,237.6 1409.4,266.9 1390.6,258.5" fill="#a2a2a2"/><polygon points="1409.4,237.6 1430.3,248.1 1449.1,262.7 1449.1,277.3 1430.3,269.0 1409.4,254.3" fill="#a2a2a2"/><polygon points="1409.4,208.4 1430.3,208.4 1430.3,227.2 1419.9,227.2" fill="#6a6a6a"/><polygon points="1419.9,215.7 1449.1,215.7 1449.1,236.6 1434.5,227.2" fill="#4b4b4b"/><polygon points="1449.1,200.0 1488.8,200.0 1488.8,227.2 1449.1,227.2" fill="#a2a2a2"/><polygon points="1330.0,237.6 1349.9,237.6 1349.9,266.9 1330.0,266.9" fill="#a2a2a2"/><polygon points="1369.7,287.8 1409.4,287.8 1409.4,325.4 1369.7,325.4" fill="#a2a2a2"/><polygon points="1369.7,287.8 1392.7,306.6 1369.7,325.4" fill="#afafaf"/><polygon points="1467.9,264.8 1497.2,264.8 1526.4,289.9 1488.8,289.9" fill="#8a8a8a"/><polygon points="1548.1,246.4 1567.9,246.4 1567.9,267.3 1548.1,267.3" fill="#a2a2a2"/><polygon points="1548.1,246.4 1567.9,256.9 1548.1,267.3" fill="#afafaf"/><polygon points="1548.1,267.3 1577.3,267.3 1566.9,276.7" fill="#4b4b4b"/><polygon points="1548.1,286.1 1566.9,276.7 1586.7,277.8 1577.3,286.1" fill="#4b4b4b"/><polygon points="1529.3,227.6 1548.1,227.6 1529.3,244.3" fill="#4b4b4b"/><polygon points="1586.7,286.1 1606.6,286.1 1606.6,307.0 1586.7,307.0" fill="#afafaf"/><polygon points="1606.6,286.1 1616.0,286.1 1616.0,307.0" fill="#8a8a8a"/><polygon points="1566.9,307.0 1587.8,307.0 1587.8,330.0 1566.9,330.0" fill="#bcbcbc"/><polygon points="1587.8,307.0 1616.0,307.0 1616.0,330.0 1587.8,330.0" fill="#afafaf"/><polygon points="1587.8,307.0 1606.6,317.5 1587.8,330.0" fill="#bcbcbc"/><polygon points="1567.9,326.3 1616.0,326.3 1616.0,366.0 1567.9,366.0" fill="#8a8a8a"/><polygon points="1597.2,347.2 1616.0,347.2 1616.0,366.0 1597.2,366.0" fill="#4b4b4b"/><polygon points="1567.9,366.0 1616.0,366.0 1616.0,386.9 1567.9,386.9" fill="#afafaf"/><polygon points="1567.9,366.0 1597.2,366.0 1585.7,375.4" fill="#4b4b4b"/><polygon points="1569.0,385.8 1585.7,375.4 1606.6,376.4 1587.8,385.8" fill="#4b4b4b"/><polygon points="1567.9,385.8 1587.8,385.8 1587.8,405.7 1567.9,405.7" fill="#bcbcbc"/><polygon points="1587.8,385.8 1606.6,385.8 1598.2,405.7 1587.8,405.7" fill="#a2a2a2"/><polygon points="1606.6,385.8 1616.0,385.8 1616.0,405.7 1598.2,405.7" fill="#4b4b4b"/><polygon points="1567.9,405.7 1616.0,405.7 1598.2,424.5 1577.3,424.5 1567.9,416.1" fill="#4b4b4b"/><polygon points="1548.1,405.7 1567.9,405.7 1567.9,424.5 1548.1,424.5" fill="#a2a2a2"/><polygon points="1548.1,405.7 1567.9,414.0 1548.1,424.5" fill="#afafaf"/><polygon points="1548.1,424.5 1577.3,424.5 1577.3,460.0 1548.1,460.0" fill="#6a6a6a"/><polygon points="1554.3,437.0 1577.3,424.5 1577.3,445.4 1562.7,453.7" fill="#4b4b4b"/><polygon points="1577.3,424.5 1598.2,424.5 1598.2,460.0 1577.3,460.0" fill="#a2a2a2"/><polygon points="1528.2,347.2 1548.1,347.2 1548.1,366.0 1528.2,366.0" fill="#afafaf"/><polygon points="1528.2,366.0 1548.1,366.0 1548.1,405.7 1528.2,405.7" fill="#a2a2a2"/><polygon points="1548.1,347.2 1567.9,347.2 1567.9,405.7 1548.1,405.7" fill="#8a8a8a"/><polygon points="1548.1,347.2 1567.9,366.0 1548.1,366.0" fill="#afafaf"/><polygon points="1241.7,311.2 1249.9,316.4 1241.7,321.6" fill="#4b4b4b"/><polygon points="1249.9,306.7 1270.1,306.7 1270.1,326.1 1249.9,326.1" fill="#afafaf"/><polygon points="1270.1,306.7 1279.8,306.7 1279.8,321.6 1270.1,321.6" fill="#8a8a8a"/><polygon points="1279.8,306.7 1288.7,314.2 1279.8,320.1" fill="#4b4b4b"/><polygon points="1315.6,267.9 1329.0,267.9 1329.0,278.4 1315.6,294.8 1306.6,299.3" fill="#8a8a8a"/><polygon points="1288.7,327.6 1315.6,294.8 1329.0,278.4 1329.0,312.7 1306.6,327.6" fill="#bcbcbc"/><polygon points="1329.0,267.9 1369.3,267.9 1369.3,278.4 1329.0,278.4" fill="#a2a2a2"/></g><polygon points="1290.2,256.4 1299.6,247 1309,256.4" fill="#fff"/><path d="M1005.2,79.4 V574.0 H1634.3" fill="none" stroke="#505050" stroke-width="1.6"/><path d="M1011.8,574.0 v-7 M1111.1,574.0 v-7 M1210.4,574.0 v-7 M1309.7,574.0 v-7 M1408.9,574.0 v-7 M1508.2,574.0 v-7 M1607.5,574.0 v-7 M1005.2,524.5 h7 M1005.2,425.4 h7 M1005.2,326.3 h7 M1005.2,227.2 h7 M1005.2,128.1 h7" stroke="#4d4d4d" stroke-width="1.4"/><g font-family="'Liberation Sans', Arial, sans-serif" font-size="30.8" fill="#1a1a1a"><text x="1011.8" y="615.8" text-anchor="middle">3.0</text><text x="1111.1" y="615.8" text-anchor="middle">4.5</text><text x="1210.4" y="615.8" text-anchor="middle">6.0</text><text x="1309.7" y="615.8" text-anchor="middle">7.5</text><text x="1408.9" y="615.8" text-anchor="middle">9.0</text><text x="1508.2" y="615.8" text-anchor="middle">10.5</text><text x="1607.5" y="615.8" text-anchor="middle">12.0</text><text x="994" y="535.0" text-anchor="end">6.0</text><text x="994" y="435.9" text-anchor="end">7.5</text><text x="994" y="336.8" text-anchor="end">9.0</text><text x="994" y="237.7" text-anchor="end">10.5</text><text x="994" y="138.6" text-anchor="end">12.0</text></g><text x="1321" y="655" text-anchor="middle" font-family="'Liberation Sans', Arial, sans-serif" font-size="34" fill="#1a1a1a">x [mm]</text><text transform="translate(923,327) rotate(-90)" text-anchor="middle" font-family="'Liberation Sans', Arial, sans-serif" font-size="34" fill="#1a1a1a">z [mm]</text><text transform="translate(898.8,64.8) scale(0.6,1)" font-family="'Liberation Sans', Arial, sans-serif" font-weight="bold" font-size="43.5" fill="#000" stroke="#000" stroke-width="3.2" stroke-linejoin="round">b</text><circle cx="1051.6" cy="197.4" r="4.0" fill="#1e1e1e" stroke="#f6f1dc" stroke-width="1.8"/><path d="M1525.47,132.11A6.8,6.8 0 1,0 1533.01,134.13" fill="none" stroke="#e60000" stroke-width="3.6"/><circle cx="1527.8" cy="138.5" r="4.0" fill="#1e1e1e" stroke="#f6f1dc" stroke-width="1.8"/><path d="M1567.20,488.60A6.8,6.8 0 1,0 1574.00,495.40" fill="none" stroke="#e60000" stroke-width="3.6"/><circle cx="1567.2" cy="495.4" r="4.0" fill="#1e1e1e" stroke="#f6f1dc" stroke-width="1.8"/><circle cx="1289.3" cy="545.0" r="4.0" fill="#1e1e1e" stroke="#f6f1dc" stroke-width="1.8"/><path d="M1238.82,299.70A6.8,6.8 0 0,0 1238.82,313.10" fill="none" stroke="#e60000" stroke-width="3.6"/><circle cx="1240.0" cy="306.4" r="4.0" fill="#1e1e1e" stroke="#f6f1dc" stroke-width="1.8"/><path d="M1452.81,260.13A6.8,6.8 0 0,0 1447.01,264.57M1459.29,270.30A6.8,6.8 0 0,0 1460.10,265.72" fill="none" stroke="#e60000" stroke-width="3.6"/><circle cx="1453.4" cy="266.9" r="4.0" fill="#1e1e1e" stroke="#f6f1dc" stroke-width="1.8"/><circle cx="1468.5" cy="440.3" r="4.0" fill="#1e1e1e" stroke="#f6f1dc" stroke-width="1.8"/><circle cx="1344.4" cy="455.6" r="4.0" fill="#1e1e1e" stroke="#f6f1dc" stroke-width="1.8"/><path d="M1278.32,319.80A6.8,6.8 0 0,0 1277.17,332.89" fill="none" stroke="#e60000" stroke-width="3.6"/><circle cx="1279.5" cy="326.5" r="4.0" fill="#1e1e1e" stroke="#f6f1dc" stroke-width="1.8"/><circle cx="1438.6" cy="287.0" r="4.0" fill="#1e1e1e" stroke="#f6f1dc" stroke-width="1.8"/><path d="M1449.58,418.80A6.8,6.8 0 1,0 1455.10,426.68" fill="none" stroke="#e60000" stroke-width="3.6"/><circle cx="1448.4" cy="425.5" r="4.0" fill="#1e1e1e" stroke="#f6f1dc" stroke-width="1.8"/><path d="M1382.30,427.28A6.8,6.8 0 0,0 1395.70,427.28" fill="none" stroke="#e60000" stroke-width="3.6"/><circle cx="1389.0" cy="426.1" r="4.0" fill="#1e1e1e" stroke="#f6f1dc" stroke-width="1.8"/><rect x="1053.0" y="157.6" width="73.4" height="37.6" rx="1.5" fill="#fbfbfb" stroke="#cfcfcf" stroke-width="1"/><text x="1062.6" y="183.3" font-family="'Liberation Sans', Arial, sans-serif" font-size="16.8" fill="#262626">L No. <tspan fill="#1a8ad8" font-weight="bold">1</tspan></text><rect x="1530.0" y="97.0" width="72.5" height="38.8" rx="1.5" fill="#fbfbfb" stroke="#cfcfcf" stroke-width="1"/><text x="1539.6" y="122.7" font-family="'Liberation Sans', Arial, sans-serif" font-size="16.8" fill="#262626">L No. <tspan fill="#1a8ad8" font-weight="bold">2</tspan></text><rect x="1570.0" y="455.1" width="72.5" height="37.6" rx="1.5" fill="#fbfbfb" stroke="#cfcfcf" stroke-width="1"/><text x="1579.6" y="480.8" font-family="'Liberation Sans', Arial, sans-serif" font-size="16.8" fill="#262626">L No. <tspan fill="#1a8ad8" font-weight="bold">3</tspan></text><rect x="1291.5" y="504.8" width="73.3" height="37.6" rx="1.5" fill="#fbfbfb" stroke="#cfcfcf" stroke-width="1"/><text x="1301.1" y="530.5" font-family="'Liberation Sans', Arial, sans-serif" font-size="16.8" fill="#262626">L No. <tspan fill="#1a8ad8" font-weight="bold">4</tspan></text><rect x="1242.0" y="267.0" width="72.5" height="37.6" rx="1.5" fill="#fbfbfb" stroke="#cfcfcf" stroke-width="1"/><text x="1251.6" y="292.7" font-family="'Liberation Sans', Arial, sans-serif" font-size="16.8" fill="#262626">L No. <tspan fill="#1a8ad8" font-weight="bold">5</tspan></text><rect x="1455.3" y="227.1" width="72.5" height="38.4" rx="1.5" fill="#fbfbfb" stroke="#cfcfcf" stroke-width="1"/><text x="1464.9" y="252.8" font-family="'Liberation Sans', Arial, sans-serif" font-size="16.8" fill="#262626">L No. <tspan fill="#1a8ad8" font-weight="bold">6</tspan></text><rect x="1470.4" y="443.0" width="72.6" height="37.6" rx="1.5" fill="#fbfbfb" stroke="#cfcfcf" stroke-width="1"/><text x="1480.0" y="468.7" font-family="'Liberation Sans', Arial, sans-serif" font-size="16.8" fill="#262626">L No. <tspan fill="#1a8ad8" font-weight="bold">7</tspan></text><rect x="1270.0" y="457.8" width="72.5" height="37.6" rx="1.5" fill="#fbfbfb" stroke="#cfcfcf" stroke-width="1"/><text x="1279.6" y="483.5" font-family="'Liberation Sans', Arial, sans-serif" font-size="16.8" fill="#262626">L No. <tspan fill="#1a8ad8" font-weight="bold">8</tspan></text><rect x="1281.6" y="328.6" width="72.5" height="37.7" rx="1.5" fill="#fbfbfb" stroke="#cfcfcf" stroke-width="1"/><text x="1291.2" y="354.3" font-family="'Liberation Sans', Arial, sans-serif" font-size="16.8" fill="#262626">L No. <tspan fill="#1a8ad8" font-weight="bold">9</tspan></text><rect x="1440.5" y="288.4" width="82.5" height="38.9" rx="1.5" fill="#fbfbfb" stroke="#cfcfcf" stroke-width="1"/><text x="1450.1" y="314.1" font-family="'Liberation Sans', Arial, sans-serif" font-size="16.8" fill="#262626">L No. <tspan fill="#1a8ad8" font-weight="bold">10</tspan></text><rect x="1451.3" y="386.4" width="81.5" height="37.3" rx="1.5" fill="#fbfbfb" stroke="#cfcfcf" stroke-width="1"/><text x="1460.9" y="412.1" font-family="'Liberation Sans', Arial, sans-serif" font-size="16.8" fill="#262626">L No. <tspan fill="#1a8ad8" font-weight="bold">11</tspan></text><rect x="1305.0" y="386.4" width="82.0" height="37.3" rx="1.5" fill="#fbfbfb" stroke="#cfcfcf" stroke-width="1"/><text x="1314.6" y="412.1" font-family="'Liberation Sans', Arial, sans-serif" font-size="16.8" fill="#262626">L No. <tspan fill="#1a8ad8" font-weight="bold">12</tspan></text></svg></body></html>
